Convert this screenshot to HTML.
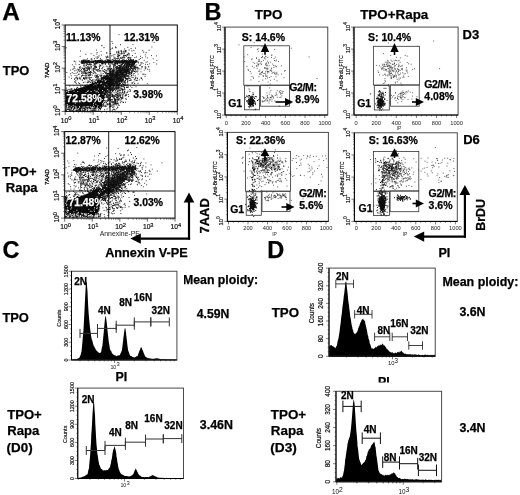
<!DOCTYPE html>
<html><head><meta charset="utf-8"><title>Figure</title>
<style>
html,body{margin:0;padding:0;background:#fff;}
body{width:520px;height:495px;overflow:hidden;font-family:"Liberation Sans",sans-serif;}
svg{display:block;will-change:transform;font-family:"Liberation Sans",sans-serif;}
</style></head><body>
<svg width="520" height="495" viewBox="0 0 520 495">
<rect x="0" y="0" width="520" height="495" fill="#fff"/>
<text x="2.3" y="19.7" font-size="24.3" font-weight="bold" text-anchor="start" fill="#000"  stroke="#000" stroke-width="0.25">A</text>
<text x="2.8" y="74.9" font-size="12.9" font-weight="bold" text-anchor="start" fill="#000"  stroke="#000" stroke-width="0.25">TPO</text>
<clipPath id="clipA1"><rect x="65.2" y="25.0" width="112.10000000000001" height="86.4"/></clipPath>
<polygon points="66.4,92.8 73.2,90.8 81.2,88.4 89.2,85.4 97.2,81.8 103.2,77.8 107.2,75.8 109.2,77.9 107.2,84.4 104.7,93.4 102.7,101.4 100.7,107.9 69.7,108.4 66.4,104.4" fill="#000" stroke="#000" stroke-width="1.5" stroke-linejoin="round" clip-path="url(#clipA1)"/>
<path d="M78.5 102.4h0M78.8 97.6h0M71.4 99.7h0M92.9 99.0h0M92.1 98.1h0M85.3 99.1h0M86.5 100.7h0M71.9 98.1h0M84.4 98.0h0M86.7 94.0h0M84.4 100.5h0M74.3 110.3h0M87.0 104.6h0M74.7 96.0h0M77.6 99.0h0M87.8 99.0h0M76.5 94.3h0M75.7 107.1h0M72.7 102.1h0M85.7 89.3h0M81.7 106.4h0M80.1 94.4h0M86.4 97.5h0M65.8 106.9h0M88.2 102.9h0M96.3 97.9h0M82.5 91.1h0M87.7 94.0h0M76.4 92.5h0M71.0 97.9h0M94.7 84.3h0M65.9 103.5h0M96.4 99.1h0M85.0 93.8h0M69.4 107.0h0M92.8 97.4h0M83.8 100.9h0M97.9 99.0h0M86.6 101.0h0M91.2 99.9h0M90.0 86.6h0M79.3 105.2h0M87.0 96.8h0M84.6 102.0h0M82.5 105.3h0M74.3 97.9h0M92.1 96.8h0M72.0 106.3h0M96.6 93.1h0M66.7 101.1h0M79.6 97.5h0M96.0 89.9h0M94.4 88.8h0M72.9 104.3h0M93.1 101.4h0M84.8 99.0h0M82.8 101.9h0M79.3 100.9h0M87.2 97.7h0M89.2 100.5h0M102.3 96.4h0M76.7 97.7h0M81.1 104.3h0M77.7 101.9h0M100.5 80.0h0M69.4 102.8h0M85.4 99.4h0M76.7 103.6h0M84.2 95.3h0M106.7 95.7h0M75.4 99.5h0M78.8 99.0h0M91.8 89.9h0M80.5 104.6h0M90.2 105.7h0M77.6 103.3h0M92.7 80.9h0M92.6 88.1h0M88.4 88.8h0M83.0 105.5h0M79.6 100.3h0M89.6 98.0h0M80.3 108.0h0M92.2 94.9h0M110.0 86.3h0M90.8 95.4h0M82.6 102.7h0M83.5 102.1h0M87.7 92.0h0M70.4 92.6h0M94.5 100.5h0M96.7 90.3h0M81.2 92.3h0M89.2 106.5h0M71.9 109.9h0M91.6 95.7h0M80.2 95.6h0M85.4 100.4h0M96.9 89.7h0M93.1 105.1h0M96.4 94.7h0M73.4 106.4h0M82.4 99.4h0M96.2 94.3h0M84.5 94.7h0M81.1 103.8h0M82.0 106.4h0M80.6 105.1h0M96.9 105.0h0M74.1 105.5h0M68.3 101.5h0M79.2 99.2h0M75.0 101.5h0M100.0 95.3h0M86.8 103.6h0M79.1 92.0h0M75.4 106.3h0M91.8 101.3h0M81.3 103.6h0M82.9 91.7h0M90.9 93.6h0M71.7 96.4h0M68.8 103.6h0M74.5 89.0h0M88.8 95.7h0M84.3 95.6h0M89.4 101.5h0M88.2 99.4h0M95.2 99.8h0M85.9 85.8h0M90.6 104.6h0M78.1 96.8h0M101.6 84.5h0M71.5 104.9h0M101.0 94.1h0M87.1 102.9h0M71.7 100.3h0M84.3 103.1h0M80.8 97.8h0M70.5 99.0h0M90.6 97.6h0M72.2 95.9h0M109.2 99.7h0M87.9 82.5h0M87.7 100.3h0M98.9 97.7h0M80.5 102.1h0M84.6 94.1h0M95.1 106.5h0M66.5 98.1h0M84.3 99.3h0M77.0 94.1h0M103.5 100.3h0M68.7 93.7h0M99.1 100.9h0M100.3 99.7h0M72.0 102.3h0M80.6 102.1h0M73.6 99.8h0M86.0 100.1h0M87.9 98.7h0M77.8 104.2h0M81.7 94.0h0M74.6 100.3h0M80.0 100.0h0M81.2 99.9h0M79.8 91.9h0M85.6 104.1h0M85.8 96.9h0M85.9 92.3h0M71.4 105.2h0M69.8 86.0h0M70.3 110.3h0M77.2 91.8h0M73.2 103.6h0M86.4 98.8h0M96.8 99.8h0M81.0 102.4h0M98.6 101.0h0M91.9 90.4h0M79.6 103.5h0M78.1 105.8h0M87.5 102.9h0M94.2 95.0h0M77.6 104.7h0M91.5 96.8h0M68.9 102.5h0M85.0 104.7h0M89.4 97.3h0M90.2 100.2h0M83.4 98.8h0M78.6 103.4h0M70.1 97.5h0M81.3 90.4h0M76.6 88.2h0M74.0 103.7h0M87.1 97.4h0M78.8 91.2h0M100.4 97.9h0M92.7 91.4h0M79.3 88.7h0M89.4 102.6h0M87.8 87.3h0M74.6 92.1h0M81.5 100.3h0M87.9 101.6h0M97.0 102.4h0M67.4 98.8h0M70.1 94.9h0M80.3 99.1h0M86.3 88.6h0M68.2 101.5h0M79.1 97.5h0M80.5 94.6h0M88.6 99.4h0M80.3 95.2h0M79.4 83.5h0M70.9 101.2h0M82.7 90.6h0M78.6 97.6h0M86.0 101.5h0M80.8 94.0h0M79.7 98.8h0M88.9 99.0h0M73.6 92.6h0M77.3 95.4h0M69.5 100.6h0M76.0 100.6h0M86.7 95.4h0M105.6 92.0h0M92.8 97.2h0M92.9 82.7h0M73.3 102.0h0M84.6 105.6h0M89.2 102.7h0M86.6 96.9h0M86.5 91.5h0M93.6 90.4h0M83.8 110.7h0M78.9 99.5h0M93.4 96.5h0M72.7 102.2h0M87.3 101.8h0M73.1 110.8h0M98.7 95.4h0M84.0 95.8h0M96.0 91.7h0M88.3 94.7h0M73.9 104.6h0M95.2 95.9h0M74.1 105.1h0M80.7 100.8h0M97.2 102.2h0M81.2 103.5h0M74.4 100.0h0M95.5 88.9h0M93.5 93.7h0M80.6 97.2h0M79.9 92.8h0M81.5 90.5h0M80.4 100.8h0M86.1 96.5h0M71.7 101.8h0M76.1 109.0h0M89.3 96.6h0M76.3 95.8h0M71.4 98.9h0M84.3 101.3h0M87.2 109.9h0M73.8 100.5h0M110.5 82.0h0M75.7 101.0h0M82.8 100.9h0M78.7 101.5h0M81.8 103.3h0M81.2 92.9h0M70.2 104.8h0M74.4 104.0h0M89.0 99.1h0M86.5 97.2h0M66.4 101.8h0M86.0 94.8h0M80.2 103.5h0M72.0 104.5h0M100.8 91.6h0M82.7 97.7h0M97.4 97.4h0M90.6 92.9h0M81.0 98.9h0M90.6 86.8h0M89.0 96.5h0M85.9 100.1h0M96.9 92.3h0M70.5 93.2h0M68.4 103.5h0M99.0 97.7h0M75.7 96.1h0M86.7 100.9h0M70.5 94.3h0M84.3 99.7h0M67.5 100.6h0M75.5 102.7h0M80.0 98.7h0M77.5 105.8h0M95.8 93.8h0M90.1 92.7h0M82.0 103.1h0M97.1 93.4h0M80.4 100.2h0M74.1 102.5h0M69.3 89.9h0M81.6 100.3h0M75.4 105.3h0M78.3 96.0h0M86.2 88.8h0M74.1 100.2h0M90.1 96.1h0M84.4 94.4h0M84.4 107.9h0M74.4 100.4h0M83.0 104.5h0M68.2 89.4h0M87.6 102.2h0M83.4 99.9h0M91.0 99.0h0M98.7 88.1h0M77.3 79.7h0M89.7 95.0h0M90.9 109.4h0M81.1 97.4h0M76.0 95.1h0M74.6 104.0h0M81.6 99.2h0M79.4 104.6h0M86.4 97.0h0M88.2 96.6h0M69.1 109.9h0M86.1 92.3h0M92.5 98.6h0M84.7 103.4h0M83.3 97.6h0M81.5 97.2h0M84.9 98.6h0M88.3 95.3h0M80.8 86.6h0M76.8 103.7h0M95.2 93.9h0M79.9 108.4h0M77.8 103.9h0M98.8 95.5h0M94.1 92.1h0M83.4 98.0h0M82.4 105.2h0M106.3 89.8h0M75.2 103.0h0M70.1 104.1h0M87.2 96.0h0M86.8 88.7h0M89.2 88.3h0M73.9 97.2h0M77.0 104.8h0M82.1 96.4h0M86.9 106.9h0M81.3 101.0h0M94.2 97.8h0M104.4 82.6h0M80.8 101.4h0M91.3 100.7h0M78.3 93.4h0M82.3 104.7h0M69.8 95.3h0M80.9 87.7h0M78.5 96.9h0M85.9 93.8h0M71.9 98.5h0M80.7 95.1h0M81.3 103.2h0M93.6 106.2h0M73.0 98.2h0M73.6 100.3h0M86.7 89.9h0M86.1 97.7h0M93.7 85.5h0M89.7 98.4h0M86.2 100.4h0M94.9 94.8h0M90.4 94.6h0M88.8 92.6h0M80.1 109.2h0M85.9 97.0h0M69.2 96.8h0M83.2 103.9h0M85.7 101.0h0M80.8 106.8h0M77.1 96.6h0M90.5 97.3h0M78.3 96.2h0M78.5 103.1h0M84.9 91.1h0M85.7 99.0h0M70.7 105.6h0M78.3 97.6h0M89.6 104.8h0M74.0 102.9h0M76.0 106.9h0M74.4 105.0h0M104.5 79.3h0M76.6 102.7h0M80.2 95.2h0M103.8 94.7h0M75.1 101.0h0M94.4 96.8h0M66.6 92.1h0M93.6 100.6h0M72.6 105.7h0M86.4 101.6h0M90.7 101.2h0M90.5 82.7h0M83.0 101.4h0M108.0 87.8h0M77.7 99.8h0M90.5 94.4h0M93.2 91.8h0M84.0 95.3h0M82.9 94.5h0M84.4 95.0h0M83.3 104.2h0M70.9 100.4h0M86.9 100.8h0M77.7 87.4h0M94.3 98.1h0M81.3 97.3h0M84.0 95.9h0M70.4 96.8h0M74.9 96.6h0M69.0 105.1h0M67.4 105.6h0M70.5 103.1h0M95.6 97.1h0M73.5 100.8h0M82.8 88.5h0M74.8 101.2h0M76.3 100.4h0M88.9 101.8h0M90.7 100.4h0M78.2 99.4h0M78.4 97.7h0M79.3 89.3h0M77.7 99.5h0M71.0 100.9h0M86.6 96.8h0M103.0 79.3h0M79.0 88.7h0M86.7 96.0h0M87.0 84.7h0M90.1 99.2h0M81.4 95.4h0M87.9 94.7h0M83.5 95.5h0M83.3 102.8h0M72.0 100.6h0M87.7 98.4h0M94.2 107.8h0M71.7 89.7h0M90.2 105.9h0M90.9 101.6h0M74.7 96.1h0M90.5 91.7h0M107.4 104.7h0M74.0 96.2h0M83.6 94.0h0M95.0 95.6h0M69.8 108.9h0M75.1 101.5h0M81.1 97.1h0M84.6 94.2h0M67.9 97.2h0M81.0 99.3h0M87.0 98.4h0M72.9 96.5h0M86.3 100.9h0M79.9 98.2h0M91.0 97.0h0M88.9 100.7h0M83.4 106.0h0M75.2 98.1h0M72.7 96.0h0M97.5 105.7h0M81.4 102.2h0M93.5 101.0h0M93.9 88.9h0M74.5 102.9h0M96.3 96.4h0M72.2 98.7h0M74.3 95.3h0M97.0 92.0h0M93.6 98.3h0M74.8 102.6h0M98.2 99.0h0M94.4 96.7h0M86.6 96.6h0M85.7 105.5h0M66.2 101.6h0M83.7 95.1h0M78.0 104.1h0M102.2 98.2h0M84.6 89.2h0M101.4 95.2h0M80.8 92.5h0M80.6 92.7h0M81.9 101.5h0M81.5 100.5h0M72.3 109.1h0M74.3 89.8h0M79.2 94.9h0M70.6 99.0h0M84.3 91.4h0M79.8 107.5h0M88.4 96.5h0M82.5 97.9h0M80.7 103.3h0M80.2 85.1h0M81.0 93.8h0M88.0 93.9h0M70.2 94.6h0M66.4 88.1h0M74.5 89.4h0M73.1 98.5h0M84.7 106.1h0M101.6 100.7h0M82.7 99.7h0M100.1 103.3h0M77.9 102.2h0M84.2 98.6h0M75.9 92.3h0M75.6 91.1h0M94.0 99.4h0M68.5 109.6h0M90.6 85.9h0M100.5 99.6h0M102.9 87.3h0M86.8 100.2h0M83.3 99.5h0M92.3 87.9h0M68.2 93.5h0M75.3 96.6h0M85.1 99.7h0M81.5 94.9h0M76.6 105.4h0M89.2 97.8h0M77.8 108.6h0M75.0 104.0h0M93.3 94.9h0M89.9 90.6h0M91.8 97.9h0M71.8 108.3h0M74.1 99.4h0M84.2 96.4h0M83.9 95.1h0M88.3 97.5h0M83.4 82.5h0M93.4 96.6h0M86.1 104.1h0M69.8 110.2h0M79.7 103.2h0M77.4 93.2h0M92.7 101.8h0M97.4 100.5h0M75.2 90.5h0M74.4 96.4h0M72.6 104.1h0M84.6 96.6h0M83.0 97.7h0M83.4 102.8h0M91.3 92.8h0M82.4 105.1h0M81.5 90.5h0M75.8 104.2h0M92.5 105.8h0M72.1 92.6h0M86.7 103.2h0M83.2 90.9h0M89.4 101.8h0M87.0 94.9h0M84.4 102.8h0M75.3 89.4h0M84.7 101.0h0M81.3 104.0h0M75.0 99.7h0M78.0 102.9h0M98.0 94.0h0M102.8 103.3h0M89.5 100.6h0M99.8 94.0h0M80.0 93.0h0M86.2 105.7h0M86.8 100.2h0M79.1 100.3h0M66.2 108.1h0M76.9 93.4h0M73.3 95.7h0M90.2 103.2h0M66.9 107.2h0M90.5 93.6h0M74.5 102.3h0M77.4 87.9h0M83.7 89.5h0M90.7 89.9h0M73.9 95.4h0M75.5 107.6h0M90.1 100.5h0M84.6 89.2h0M75.7 96.8h0M70.9 104.0h0M73.4 96.4h0M70.2 89.2h0M87.5 105.3h0M83.0 92.8h0M94.0 98.0h0M90.9 105.5h0M93.0 93.9h0M92.3 101.1h0M66.2 101.4h0M87.3 91.4h0M85.2 106.6h0M67.3 107.9h0M103.0 106.1h0M79.0 100.9h0M79.6 105.0h0M92.1 97.2h0M66.9 106.2h0M76.3 103.6h0M84.0 107.8h0M93.1 93.8h0M84.9 108.4h0M75.6 102.6h0M93.7 103.6h0M86.6 90.1h0M68.0 103.1h0M72.2 107.4h0M89.3 87.5h0M72.6 101.6h0M76.0 99.1h0M86.1 93.2h0M86.1 94.2h0M75.5 103.2h0M75.2 101.8h0M98.0 95.6h0M79.7 103.5h0M77.4 106.0h0M67.7 105.3h0M75.8 95.4h0M99.8 90.1h0M99.6 98.9h0M96.5 90.1h0M93.8 104.8h0M80.0 98.4h0M107.0 94.6h0M76.8 96.2h0M85.9 99.9h0M83.1 108.5h0M77.8 102.4h0M96.5 89.9h0M92.1 107.3h0M67.0 95.5h0M70.3 90.4h0M86.0 87.1h0M86.4 106.3h0M73.5 99.0h0M81.8 101.9h0M77.6 99.7h0M75.5 100.8h0M68.9 101.8h0M101.3 95.2h0M68.0 103.1h0M71.0 91.4h0M73.5 104.8h0M85.2 97.5h0M71.5 94.6h0M95.4 97.4h0M71.2 88.7h0M69.1 100.9h0M83.4 97.5h0M78.3 91.5h0M73.3 105.5h0M83.9 104.4h0M69.4 104.8h0M85.3 93.8h0M86.2 92.6h0M72.8 100.5h0M70.7 92.6h0M76.7 104.3h0M77.0 107.1h0M69.0 93.8h0M97.5 97.9h0M91.1 92.0h0M89.6 98.7h0M88.0 97.6h0M93.9 92.5h0M71.1 92.4h0M93.4 92.1h0M70.2 95.7h0M76.5 92.5h0M78.2 95.9h0M75.4 94.5h0M81.6 96.1h0M82.4 100.1h0M84.8 85.4h0M75.6 95.4h0M89.3 88.1h0M73.7 98.7h0M77.7 105.4h0M76.6 105.5h0M65.8 91.6h0M94.0 98.8h0M86.3 98.6h0M86.3 90.8h0M91.2 93.8h0M91.5 97.3h0M93.0 95.7h0M77.0 101.2h0M76.7 96.7h0M82.3 99.5h0M97.1 95.9h0M100.9 105.3h0M99.2 101.3h0M82.6 99.4h0M79.7 95.0h0M80.5 95.3h0M98.4 98.4h0M76.5 88.7h0M80.6 96.6h0M69.8 94.7h0M80.9 98.1h0M96.4 96.5h0M83.0 96.4h0M74.8 108.9h0M91.7 106.7h0M77.5 99.8h0M72.0 106.4h0M66.6 105.2h0M92.7 104.7h0M71.3 107.3h0M73.7 96.1h0M67.3 108.5h0M98.5 91.9h0M73.2 98.6h0M107.5 99.3h0M75.5 89.7h0M74.1 107.3h0M100.8 93.3h0M73.9 97.4h0M69.8 107.4h0M84.2 93.8h0M89.4 97.3h0M68.9 105.1h0M90.0 86.0h0M100.4 97.8h0M89.2 86.4h0M73.6 98.4h0M92.5 88.1h0M71.9 89.0h0M78.7 101.4h0M86.6 107.0h0M88.2 95.7h0M68.8 96.0h0M74.2 101.2h0M80.7 108.7h0M84.2 92.1h0M97.4 101.1h0M82.3 94.5h0M90.8 92.3h0M67.3 102.9h0M83.8 101.9h0M88.1 105.7h0M72.4 106.4h0M70.8 105.1h0M83.1 99.9h0M91.4 96.7h0M92.9 101.6h0M82.6 95.3h0M73.3 97.5h0M79.1 99.2h0M112.5 96.1h0M89.3 92.2h0M73.7 98.6h0M83.2 92.5h0M98.1 92.1h0M92.5 83.0h0M81.1 100.5h0M83.2 102.0h0M84.1 99.2h0M84.4 97.1h0M72.6 97.3h0M100.6 104.9h0M80.6 106.5h0M76.1 94.9h0M75.3 101.2h0M113.0 88.5h0M81.7 100.4h0M80.8 104.4h0M99.8 87.8h0M82.9 97.0h0M84.9 89.2h0M86.7 98.9h0M82.0 85.0h0M77.3 95.3h0M66.4 96.7h0M88.5 100.5h0M81.0 101.9h0M74.9 100.6h0M81.6 102.0h0M80.5 98.2h0M79.8 95.4h0M104.7 97.0h0M95.9 86.8h0M88.5 102.3h0M101.0 102.5h0M89.3 90.4h0M72.1 102.4h0M86.5 91.9h0M77.2 97.4h0M81.8 100.7h0M78.2 92.3h0M94.2 105.5h0M80.1 105.1h0M85.9 101.8h0M86.3 93.4h0M87.2 103.5h0M103.1 105.0h0M102.1 98.9h0M77.6 96.1h0M72.7 101.3h0M80.9 102.9h0M105.1 93.8h0M88.3 100.2h0M84.1 97.1h0M79.9 94.4h0M83.1 98.4h0M84.6 93.2h0M81.6 99.1h0M87.5 91.4h0M85.6 103.7h0M87.5 95.5h0M76.0 98.6h0M88.9 106.3h0M79.5 95.5h0M85.1 99.3h0M71.7 96.6h0M80.1 103.0h0M68.7 95.6h0M86.4 90.7h0M82.3 100.7h0M80.0 93.2h0M80.6 97.1h0M84.7 93.3h0M92.7 86.8h0M79.3 99.3h0M91.3 93.3h0M86.9 94.4h0M89.0 107.4h0M77.0 102.3h0M71.5 106.6h0M93.9 96.5h0M69.3 103.7h0M93.3 102.7h0M89.7 86.5h0M74.1 108.6h0M68.3 108.1h0M101.0 99.2h0M93.0 94.5h0M68.3 101.0h0M79.1 99.1h0M88.5 96.5h0M83.2 100.9h0M81.1 109.6h0M85.8 98.4h0M79.0 95.7h0M95.3 96.9h0M69.9 98.0h0M79.8 96.6h0M92.6 89.8h0M86.4 98.7h0M68.8 101.7h0M80.2 102.0h0M76.5 101.6h0M89.4 103.2h0M81.1 95.4h0M92.6 84.4h0M72.8 104.5h0M88.1 91.5h0M82.8 93.4h0M81.8 104.0h0M89.0 85.2h0M89.3 86.9h0M93.2 98.7h0M104.9 90.5h0M81.2 105.0h0M74.5 96.2h0M77.3 99.3h0M69.8 104.1h0M86.9 98.1h0M99.1 93.3h0M94.9 92.9h0M89.1 86.0h0M83.3 97.5h0M90.2 89.4h0M91.1 88.6h0M80.0 94.6h0M89.9 90.0h0M86.9 93.0h0M97.9 87.0h0M90.2 97.3h0M99.1 91.2h0M100.1 85.6h0M92.4 95.2h0M89.9 91.6h0M95.5 90.8h0M91.5 95.2h0M92.1 93.8h0M99.6 89.8h0M97.6 83.6h0M85.3 91.9h0M96.1 95.0h0M85.9 95.3h0M88.1 90.0h0M91.5 94.0h0M94.5 94.5h0M87.3 96.9h0M98.8 87.9h0M96.1 86.7h0M86.7 92.0h0M89.3 103.9h0M90.3 98.5h0M94.4 91.0h0M97.7 85.1h0M98.7 89.2h0M84.1 97.4h0M96.5 90.6h0M102.7 84.0h0M96.3 91.9h0M87.8 97.9h0M84.5 89.6h0M96.3 84.5h0M92.5 84.2h0M93.6 85.7h0M95.3 83.2h0M95.9 88.0h0M93.6 89.9h0M94.0 84.7h0M77.8 98.2h0M87.6 91.4h0M95.8 81.2h0M88.6 90.2h0M86.9 94.9h0M92.4 87.5h0M87.3 96.6h0M89.2 94.7h0M95.9 81.5h0M86.7 93.7h0M95.3 92.5h0M98.0 92.1h0M91.0 90.7h0M97.9 86.4h0M99.5 80.9h0M97.1 87.7h0M81.4 100.2h0M95.1 89.6h0M86.7 91.8h0M102.3 82.6h0M72.4 97.4h0M86.0 93.5h0M90.8 87.9h0M88.1 97.1h0M84.5 102.6h0M89.9 87.7h0M97.9 90.3h0M86.9 96.5h0M82.2 92.2h0M100.0 86.0h0M85.4 96.4h0M98.7 87.6h0M82.4 94.4h0M95.7 92.2h0M104.3 83.8h0M90.3 91.7h0M100.4 83.0h0M101.0 75.5h0M98.0 85.3h0M96.0 91.8h0M86.1 93.6h0M94.6 92.0h0M87.6 89.2h0M81.7 106.3h0M92.0 90.1h0M84.2 98.6h0M90.0 97.7h0M98.3 87.9h0M97.6 83.8h0M91.2 89.1h0M85.6 94.3h0M92.3 96.6h0M73.1 97.8h0M87.7 91.3h0M95.7 90.7h0M93.4 88.4h0M96.2 90.4h0M82.1 94.9h0M85.0 89.8h0M94.1 90.2h0M93.9 86.6h0M92.0 87.4h0M95.5 92.0h0M103.7 90.2h0M88.4 91.0h0M87.6 94.4h0M105.1 87.3h0M80.0 92.0h0M85.4 96.3h0M93.2 91.6h0M103.9 81.7h0M88.1 100.8h0M95.3 86.3h0M81.0 90.4h0M78.5 98.0h0M93.5 94.2h0M92.4 88.0h0M88.8 100.2h0M82.6 96.4h0M93.4 92.8h0M90.8 93.6h0M98.1 87.4h0M90.5 91.0h0M87.4 92.5h0M91.4 92.1h0M101.2 91.6h0M90.5 94.1h0M95.0 92.6h0M93.3 91.4h0M90.4 88.7h0M98.4 93.0h0M97.2 90.2h0M94.8 87.8h0M82.5 98.4h0M94.4 87.6h0M87.4 98.4h0M82.4 102.9h0M97.0 98.0h0M88.9 92.5h0M90.2 92.5h0M91.9 88.0h0M99.6 84.0h0M90.2 94.1h0M90.0 90.3h0M95.3 87.9h0M85.7 93.7h0M91.9 97.9h0M86.6 97.6h0M88.5 91.3h0M91.2 92.5h0M98.4 94.8h0M89.4 97.6h0M99.2 90.7h0M88.6 96.3h0M92.6 92.1h0M91.6 93.9h0M99.9 91.6h0M92.0 95.0h0M101.9 82.3h0M102.0 80.6h0M96.5 91.1h0M102.1 87.1h0M90.3 88.7h0M85.7 97.2h0M91.8 88.2h0M96.4 85.7h0M90.6 89.9h0M103.1 91.3h0M92.3 84.6h0M94.9 89.9h0M95.3 91.6h0M91.3 95.1h0M98.2 88.7h0M90.8 89.7h0M97.4 83.9h0M92.2 87.9h0M84.8 97.0h0M93.0 90.6h0M98.4 81.8h0M92.8 91.8h0M98.2 83.6h0M97.5 89.1h0M101.3 90.9h0M96.5 97.3h0M93.2 88.7h0M91.2 87.7h0M93.0 83.0h0M92.7 92.4h0M99.1 86.0h0M101.5 83.6h0M92.4 83.3h0M88.6 89.5h0M102.0 88.1h0M86.7 95.7h0M96.0 88.1h0M93.3 89.1h0M90.0 85.1h0M92.7 95.7h0M101.6 85.1h0M88.8 91.8h0M98.5 89.1h0M89.8 93.5h0M92.0 93.0h0M90.8 85.9h0M93.5 93.2h0M86.7 93.2h0M98.3 86.4h0M89.4 100.2h0M98.1 92.0h0M87.7 99.5h0M83.5 93.2h0M97.5 93.4h0M87.8 90.5h0M94.3 82.3h0M96.9 90.7h0M90.6 93.8h0M97.7 89.3h0M96.2 94.8h0M90.4 92.4h0M90.2 95.9h0M90.8 93.4h0M94.0 90.3h0M103.2 85.1h0M101.4 89.5h0M100.9 85.9h0M98.6 90.6h0M89.6 93.2h0M92.5 90.6h0M100.8 83.8h0M83.4 88.5h0M90.6 89.2h0M93.3 92.5h0M103.4 86.5h0M95.9 86.2h0M96.6 94.0h0M101.0 79.0h0M98.4 93.9h0M98.0 82.2h0M91.4 93.6h0M95.6 86.1h0M88.1 96.7h0M85.5 99.8h0M93.3 91.5h0M85.5 92.0h0M97.2 82.7h0M105.2 79.0h0M86.1 94.1h0M96.0 91.8h0M91.1 90.7h0M91.8 88.9h0M78.3 101.5h0M94.6 90.3h0M89.6 93.2h0M93.1 90.1h0M99.6 80.6h0M94.7 85.6h0M91.4 97.1h0M87.0 93.1h0M89.8 95.8h0M87.6 86.8h0M96.2 87.6h0M91.4 95.5h0M88.1 91.5h0M94.1 91.6h0M90.2 95.9h0M106.1 82.4h0M104.0 76.9h0M101.3 85.0h0M94.0 88.7h0M89.5 87.3h0M90.9 96.5h0M99.8 85.8h0M90.2 89.2h0M86.3 100.8h0M97.0 88.9h0M90.4 87.9h0M100.8 89.6h0M87.7 96.9h0M86.8 96.1h0M87.7 91.6h0M96.1 90.6h0M99.0 84.3h0M102.3 91.0h0M93.1 92.2h0M88.7 92.1h0M85.6 94.5h0M94.3 95.0h0M98.7 90.8h0M91.1 90.6h0M91.2 92.2h0M82.1 98.9h0M84.2 92.9h0M93.3 88.4h0M102.8 85.2h0M102.3 90.4h0M90.3 93.4h0M99.8 109.1h0M93.2 107.4h0M93.3 107.1h0M74.1 108.4h0M66.2 109.2h0M73.3 108.1h0M90.8 108.6h0M97.2 109.3h0M96.7 109.1h0M98.3 110.3h0M71.7 109.8h0M77.8 109.9h0M89.9 110.1h0M70.1 108.4h0M91.9 110.6h0M91.3 107.1h0M87.1 107.3h0M85.2 110.0h0M69.7 110.5h0M89.7 107.9h0M72.6 108.6h0M95.5 109.2h0M69.7 107.0h0M69.6 110.0h0M72.3 109.1h0M76.0 109.6h0M79.2 107.5h0M96.8 109.0h0M90.2 110.1h0M99.4 107.0h0M77.9 107.5h0M83.5 110.3h0M94.1 107.0h0M72.2 110.1h0M89.8 108.4h0M82.6 107.5h0M95.7 108.4h0M96.7 109.3h0M68.4 108.2h0M73.4 110.4h0M86.6 107.1h0M71.7 108.3h0M82.3 109.2h0M79.5 108.3h0M65.9 109.2h0M77.5 107.0h0M82.0 110.7h0M67.3 107.5h0M89.5 108.0h0M75.4 108.9h0M75.0 109.1h0M84.4 110.6h0M100.9 107.0h0M85.6 109.9h0M96.7 109.9h0M88.2 109.4h0M78.6 108.0h0M93.9 110.3h0M99.0 109.6h0M76.5 109.9h0M92.0 108.9h0M88.2 108.3h0M85.3 108.5h0M67.8 108.2h0M77.2 110.8h0M82.8 108.3h0M74.3 107.8h0M78.1 107.4h0M66.0 110.3h0M81.8 108.6h0M85.9 108.1h0M71.7 107.2h0M76.4 108.1h0M91.5 109.0h0M99.0 108.2h0M98.4 109.2h0M68.5 107.6h0M86.3 110.8h0M78.4 109.9h0M80.9 110.3h0M68.1 108.8h0M97.6 108.0h0M74.8 107.0h0M71.5 107.9h0M90.7 107.8h0M79.9 107.7h0M87.1 110.3h0M88.7 107.7h0M91.8 110.7h0M87.0 107.2h0M94.4 110.3h0M77.8 107.4h0M72.4 109.0h0M96.8 109.4h0M98.5 107.7h0M77.3 109.8h0M88.7 108.5h0M89.8 108.2h0M67.7 108.5h0M67.3 109.3h0M77.6 108.8h0M86.9 107.9h0M82.1 107.0h0M98.5 109.1h0M100.8 107.1h0M87.5 109.7h0M77.4 107.3h0M71.2 107.5h0M92.9 107.3h0M94.6 108.6h0M84.8 109.2h0M85.4 109.5h0M87.1 108.2h0M92.0 107.9h0M91.0 109.9h0M93.2 108.1h0M93.1 110.7h0M81.8 108.0h0M84.3 110.6h0M70.4 106.9h0M82.6 109.5h0M93.2 108.3h0M100.8 107.8h0M92.6 107.3h0M66.7 107.4h0M67.8 108.9h0M85.4 107.6h0M99.1 108.3h0M71.0 107.6h0M91.9 110.5h0M71.5 107.0h0M93.3 107.8h0M100.6 108.8h0M88.3 108.2h0M94.1 108.7h0M77.2 110.4h0M69.5 109.8h0M68.0 109.4h0M80.0 110.3h0M67.8 109.1h0M80.3 110.5h0M99.2 109.3h0M73.7 107.9h0M75.0 108.6h0M73.9 107.7h0M92.7 109.4h0M76.3 110.8h0M73.4 109.1h0M71.3 110.3h0M96.6 107.9h0M92.4 110.1h0M75.7 108.2h0M82.9 110.4h0M71.4 109.6h0M86.9 108.7h0M86.3 110.3h0M73.1 110.3h0M78.5 109.9h0M96.3 107.6h0M96.4 110.8h0M76.3 107.0h0M69.7 110.7h0M66.0 110.5h0M71.1 109.8h0M69.2 107.6h0M89.9 107.3h0M77.8 110.5h0M91.1 110.3h0M100.5 107.0h0M74.0 110.0h0M90.2 107.0h0M83.6 107.8h0M81.0 107.3h0M66.4 110.8h0M76.9 110.3h0M70.0 108.8h0M70.5 108.6h0M72.1 109.6h0M71.0 109.8h0M83.5 107.3h0M78.3 108.8h0M98.3 108.3h0M73.3 110.7h0M97.1 109.8h0M75.4 107.6h0M75.1 107.2h0M67.2 108.9h0M80.2 109.1h0M78.6 106.9h0M90.1 109.4h0M85.0 109.0h0M90.2 110.7h0M96.7 109.7h0M79.9 108.1h0M80.6 110.7h0M79.4 108.4h0M80.3 107.5h0M101.1 106.9h0M87.3 110.5h0M74.7 109.3h0M79.1 107.8h0M72.7 107.4h0M95.6 110.0h0M98.0 107.1h0M90.3 108.2h0M88.6 109.0h0M76.9 110.7h0M96.0 108.9h0M86.7 110.8h0M74.0 109.4h0M92.1 108.4h0M91.0 108.4h0M84.4 109.3h0M89.7 108.2h0M88.0 109.0h0M73.6 109.3h0M75.1 110.4h0M82.5 109.7h0M84.2 108.8h0M73.6 107.5h0M98.6 109.0h0M84.3 109.0h0M94.6 107.8h0M71.8 110.1h0M82.0 109.4h0M95.1 110.4h0M96.5 107.1h0M79.2 110.1h0M94.7 107.4h0M71.2 107.9h0M69.3 108.3h0M94.2 108.9h0M81.8 107.2h0M79.7 110.8h0M90.4 108.7h0M82.7 110.0h0M92.6 107.5h0M89.8 108.3h0M84.2 107.8h0M78.9 108.2h0M79.2 107.0h0M72.8 109.1h0M67.7 107.6h0M91.2 108.0h0M77.2 107.8h0M95.3 107.3h0M88.3 110.2h0M72.9 108.6h0M93.8 109.3h0M78.9 107.1h0M81.4 108.3h0M91.0 108.1h0M80.2 109.4h0M94.5 108.3h0M79.4 109.2h0M98.5 107.6h0M100.2 109.7h0M78.9 109.5h0M77.4 107.2h0M67.2 96.2h0M66.8 98.3h0M67.5 103.0h0M66.6 97.7h0M67.4 96.9h0M66.6 105.4h0M66.6 98.2h0M66.7 104.2h0M67.0 102.7h0M66.5 90.1h0M67.1 99.4h0M67.2 103.3h0M65.9 93.4h0M65.9 104.1h0M65.9 91.0h0M67.2 99.6h0M65.8 101.7h0M67.1 98.1h0M65.8 101.8h0M66.5 99.9h0M67.7 104.1h0M67.4 92.0h0M66.4 98.7h0M66.2 94.1h0M66.3 94.0h0M67.4 99.4h0M66.7 97.0h0M65.8 94.9h0M67.4 103.8h0M67.4 94.0h0M66.1 90.3h0M66.8 96.1h0M66.6 98.2h0M66.9 96.0h0M67.3 93.0h0M67.5 99.4h0M65.8 95.1h0M66.8 96.8h0M66.8 95.2h0M66.2 103.7h0M66.3 102.2h0M67.3 100.1h0M66.6 106.2h0M66.6 105.2h0M65.8 97.2h0M67.0 90.3h0M67.4 90.7h0M66.9 92.6h0M67.5 99.5h0M67.3 98.4h0M67.0 101.5h0M66.3 93.2h0M67.4 92.0h0M67.5 93.1h0M65.9 91.1h0M67.3 106.5h0M66.5 101.3h0M66.2 105.7h0M115.0 74.7h0M130.9 74.4h0M134.7 71.5h0M115.3 86.4h0M110.0 79.1h0M112.1 79.7h0M124.4 69.2h0M120.2 71.8h0M115.3 81.2h0M107.3 94.4h0M119.2 89.0h0M126.0 78.5h0M115.8 69.2h0M115.2 75.5h0M119.5 72.6h0M128.0 66.9h0M115.0 88.5h0M117.2 67.1h0M121.0 74.1h0M98.3 92.8h0M107.5 77.9h0M121.6 78.2h0M114.5 100.3h0M121.0 70.1h0M119.4 75.8h0M97.0 77.2h0M104.4 106.0h0M115.5 77.0h0M112.0 90.9h0M117.5 94.0h0M124.4 88.8h0M116.1 82.6h0M113.2 79.5h0M101.3 83.6h0M108.5 78.2h0M128.3 73.4h0M128.4 78.9h0M125.6 82.1h0M111.7 89.5h0M114.2 75.5h0M128.1 91.1h0M108.2 100.4h0M124.8 65.5h0M119.7 80.2h0M120.6 72.8h0M105.4 86.5h0M125.1 80.4h0M123.3 84.6h0M108.1 84.1h0M120.3 85.6h0M118.6 82.2h0M118.4 97.0h0M97.2 91.5h0M139.9 65.5h0M100.4 90.8h0M104.1 80.9h0M119.3 92.9h0M121.4 81.8h0M126.5 74.0h0M109.4 82.7h0M120.3 73.8h0M111.1 79.1h0M103.5 78.1h0M116.4 75.6h0M117.5 91.2h0M119.9 76.3h0M106.5 75.6h0M120.6 68.0h0M121.1 65.9h0M118.4 76.9h0M126.3 68.7h0M113.8 82.9h0M117.7 93.7h0M114.8 75.0h0M114.3 84.7h0M119.3 83.4h0M104.6 109.7h0M134.0 66.9h0M106.1 87.2h0M117.3 64.7h0M121.4 88.4h0M129.8 78.4h0M113.9 85.2h0M131.1 66.1h0M117.1 73.3h0M108.6 78.6h0M122.7 68.9h0M128.6 68.0h0M121.6 73.9h0M133.6 64.2h0M117.0 96.9h0M117.9 84.3h0M110.5 84.7h0M96.5 93.2h0M111.3 68.4h0M104.3 97.6h0M121.1 61.8h0M113.8 82.9h0M106.8 70.4h0M110.4 93.9h0M128.2 71.4h0M121.8 75.8h0M121.0 66.6h0M108.9 77.4h0M113.8 86.4h0M106.1 100.5h0M111.4 76.8h0M123.6 78.1h0M114.1 70.6h0M108.1 69.7h0M127.7 81.5h0M134.3 71.6h0M120.2 83.4h0M125.9 70.2h0M120.4 96.2h0M101.7 75.7h0M108.4 91.2h0M128.1 68.0h0M123.3 73.9h0M119.9 71.6h0M117.0 78.5h0M127.5 92.1h0M100.6 94.4h0M117.2 87.4h0M126.9 79.2h0M124.6 64.7h0M101.6 104.2h0M128.3 62.2h0M129.0 76.7h0M94.8 101.7h0M108.2 95.2h0M111.0 75.7h0M103.1 85.8h0M126.5 66.0h0M100.2 109.6h0M134.1 73.5h0M112.3 70.5h0M102.2 93.6h0M117.2 75.8h0M114.9 84.6h0M125.0 83.3h0M114.6 78.8h0M104.9 96.6h0M112.3 75.6h0M117.8 70.0h0M107.7 82.0h0M130.8 67.4h0M122.0 61.6h0M99.4 107.1h0M113.6 66.6h0M116.2 84.7h0M101.4 80.8h0M119.6 68.3h0M124.5 82.4h0M121.3 71.7h0M116.8 72.8h0M116.0 82.1h0M114.4 89.3h0M120.3 83.9h0M123.1 72.3h0M112.8 90.6h0M122.9 79.3h0M109.8 89.2h0M124.5 71.8h0M123.1 94.6h0M100.0 95.5h0M106.5 72.9h0M115.0 84.9h0M117.7 67.3h0M104.0 82.0h0M117.3 70.6h0M103.4 103.9h0M109.5 82.1h0M112.2 76.3h0M117.6 75.4h0M122.9 63.6h0M103.5 105.6h0M116.5 86.0h0M128.0 76.3h0M117.5 63.7h0M102.5 97.3h0M123.4 79.5h0M101.9 68.7h0M107.5 73.9h0M118.7 67.9h0M131.8 62.9h0M112.0 89.9h0M120.2 68.0h0M124.8 91.3h0M105.9 83.6h0M107.3 66.9h0M123.0 81.1h0M126.2 76.4h0M98.6 90.5h0M111.0 71.5h0M107.0 92.3h0M114.5 98.6h0M125.4 84.6h0M117.5 66.9h0M116.4 61.1h0M105.6 70.2h0M127.3 82.7h0M113.5 68.2h0M116.6 82.3h0M103.1 77.0h0M116.3 85.6h0M117.9 82.1h0M105.6 62.8h0M120.1 67.9h0M116.1 75.6h0M121.7 68.2h0M130.6 69.8h0M122.1 81.0h0M126.8 75.8h0M101.0 83.3h0M134.5 71.3h0M122.4 79.3h0M111.2 76.0h0M111.2 93.3h0M120.6 92.9h0M121.8 93.1h0M121.5 64.5h0M133.4 70.8h0M128.3 73.0h0M114.2 82.0h0M106.8 74.1h0M108.9 79.0h0M104.6 85.8h0M120.0 95.6h0M134.3 66.5h0M125.4 70.8h0M120.8 75.7h0M112.2 82.5h0M103.4 91.7h0M114.5 70.0h0M113.8 85.9h0M110.9 87.1h0M122.5 89.6h0M107.0 84.1h0M122.0 89.4h0M119.7 83.9h0M103.5 82.0h0M132.7 65.4h0M114.6 65.0h0M123.2 76.9h0M136.1 67.4h0M114.9 66.6h0M116.4 87.9h0M124.1 85.4h0M125.3 72.6h0M122.9 76.3h0M104.7 102.9h0M120.7 66.1h0M120.8 78.7h0M126.6 85.9h0M88.7 102.7h0M99.7 92.7h0M120.4 79.6h0M106.8 80.9h0M119.0 84.3h0M137.8 67.5h0M127.3 70.4h0M116.2 69.7h0M118.2 78.9h0M120.0 88.9h0M116.3 79.9h0M114.4 80.9h0M126.2 64.8h0M124.8 77.0h0M103.2 73.6h0M103.7 88.7h0M119.1 84.0h0M124.9 68.0h0M127.3 79.5h0M121.7 80.0h0M105.1 89.9h0M107.5 73.5h0M113.9 81.9h0M116.7 75.6h0M107.8 86.5h0M110.2 69.6h0M118.1 91.7h0M113.4 70.8h0M130.3 86.0h0M114.4 78.2h0M119.2 105.3h0M118.5 87.1h0M106.8 73.6h0M121.3 76.7h0M134.1 64.5h0M120.1 77.2h0M118.5 99.7h0M119.9 90.7h0M129.5 64.4h0M123.7 70.4h0M118.2 79.2h0M117.4 73.8h0M131.9 66.1h0M123.9 90.0h0M123.1 84.3h0M130.3 80.1h0M135.7 66.3h0M100.6 83.3h0M104.0 87.0h0M103.1 78.2h0M120.0 78.0h0M109.6 81.2h0M116.3 79.7h0M117.1 76.3h0M112.5 82.8h0M113.4 75.6h0M113.1 83.2h0M129.0 68.8h0M114.7 83.5h0M114.9 61.4h0M119.7 73.1h0M111.8 88.0h0M117.6 72.7h0M96.5 75.7h0M117.3 77.2h0M121.4 77.8h0M112.7 69.3h0M106.8 84.0h0M106.3 92.9h0M104.6 69.6h0M115.4 62.6h0M116.7 76.4h0M109.4 66.6h0M99.5 98.5h0M126.9 92.7h0M103.3 93.0h0M117.1 86.6h0M112.3 88.6h0M125.7 78.6h0M130.9 67.6h0M131.9 61.9h0M117.3 70.6h0M117.2 88.3h0M124.0 74.8h0M109.5 98.1h0M120.4 64.9h0M131.2 80.0h0M112.0 94.3h0M109.3 92.5h0M122.7 73.5h0M103.7 84.7h0M95.4 87.5h0M99.6 101.8h0M108.0 61.2h0M122.8 78.2h0M112.4 101.9h0M124.5 74.1h0M121.8 84.6h0M111.6 68.6h0M116.8 62.6h0M117.3 85.8h0M131.5 71.4h0M119.1 84.4h0M130.5 66.5h0M105.5 78.6h0M105.2 77.8h0M116.1 82.5h0M118.7 78.1h0M113.8 84.7h0M125.6 80.1h0M131.4 66.1h0M114.8 96.3h0M119.1 81.1h0M114.0 89.8h0M113.4 71.3h0M116.6 74.5h0M125.1 69.5h0M118.4 75.5h0M120.4 70.2h0M113.5 74.0h0M123.4 74.7h0M121.8 72.2h0M110.4 72.2h0M114.0 75.4h0M119.9 80.0h0M126.5 71.2h0M110.1 72.9h0M117.8 81.5h0M135.7 67.8h0M133.9 85.3h0M107.2 96.7h0M128.0 84.1h0M117.1 87.6h0M112.6 80.8h0M117.4 95.4h0M115.2 88.9h0M117.8 71.2h0M119.5 83.2h0M110.4 89.0h0M110.4 74.5h0M119.3 74.7h0M107.9 69.0h0M117.4 80.6h0M112.8 83.1h0M102.7 91.8h0M121.2 78.4h0M111.4 83.0h0M118.4 87.8h0M119.8 79.1h0M110.3 91.3h0M128.3 66.2h0M123.3 77.3h0M116.8 66.3h0M120.1 72.9h0M128.1 67.1h0M117.6 84.0h0M121.5 70.5h0M123.7 77.9h0M126.6 67.3h0M116.8 74.9h0M109.3 86.1h0M121.1 89.4h0M114.1 84.2h0M128.0 70.1h0M117.8 79.3h0M110.7 73.3h0M127.8 73.0h0M116.5 67.0h0M118.3 88.9h0M106.3 77.1h0M127.7 85.1h0M131.9 63.3h0M122.9 67.4h0M122.1 71.6h0M119.1 90.0h0M120.4 74.0h0M117.7 80.6h0M112.4 83.6h0M122.9 89.5h0M97.7 80.0h0M105.5 94.5h0M140.3 64.9h0M118.3 88.5h0M94.1 92.0h0M87.8 99.5h0M112.4 77.0h0M120.4 70.7h0M127.7 71.4h0M120.8 100.2h0M113.0 90.1h0M109.4 95.5h0M126.3 73.7h0M126.6 87.5h0M130.2 69.8h0M116.7 89.3h0M103.3 81.9h0M121.8 80.8h0M134.7 83.5h0M120.3 80.6h0M104.8 84.9h0M119.7 74.6h0M117.8 83.8h0M108.2 79.0h0M100.5 100.4h0M107.3 68.8h0M124.4 71.5h0M126.3 68.8h0M137.2 71.9h0M118.6 78.6h0M115.3 87.4h0M136.0 61.9h0M107.0 90.9h0M110.7 73.3h0M122.5 79.7h0M110.3 72.3h0M123.2 72.9h0M135.2 75.8h0M111.8 79.4h0M114.6 73.2h0M118.0 87.0h0M103.1 85.6h0M131.2 76.1h0M109.6 75.8h0M109.2 68.5h0M128.0 71.9h0M110.7 69.2h0M113.6 76.0h0M133.3 63.3h0M118.3 87.8h0M123.4 72.5h0M96.8 105.2h0M122.8 70.6h0M116.4 69.9h0M108.8 70.0h0M121.9 80.2h0M118.8 84.7h0M122.2 76.2h0M108.9 89.5h0M128.3 77.0h0M128.9 66.2h0M108.1 96.3h0M111.8 84.3h0M115.4 79.8h0M114.7 75.0h0M100.6 107.4h0M108.7 73.4h0M122.6 90.3h0M114.9 86.9h0M122.8 62.9h0M111.8 78.6h0M128.9 71.7h0M116.0 71.6h0M118.0 78.2h0M124.0 87.0h0M124.1 74.0h0M115.8 94.4h0M119.1 77.0h0M133.9 82.0h0M122.5 73.9h0M111.3 92.4h0M113.0 90.2h0M109.9 84.2h0M120.9 77.3h0M119.4 80.5h0M106.8 74.9h0M115.8 96.3h0M116.0 70.5h0M111.1 82.8h0M128.2 65.8h0M122.4 76.7h0M113.9 71.7h0M115.8 72.6h0M127.7 78.5h0M122.6 88.9h0M117.7 82.3h0M110.9 72.0h0M121.2 80.5h0M113.3 78.8h0M112.5 76.2h0M116.7 88.8h0M102.3 85.1h0M132.2 71.4h0M118.6 85.3h0M107.9 73.3h0M101.8 75.0h0M119.5 84.8h0M113.3 74.6h0M120.9 81.7h0M119.5 69.0h0M111.1 96.5h0M129.4 74.8h0M119.8 78.3h0M111.8 81.5h0M111.1 84.0h0M125.5 80.7h0M108.3 83.1h0M114.8 68.5h0M117.9 73.4h0M125.7 76.8h0M110.0 84.0h0M113.9 74.7h0M112.7 91.3h0M113.4 64.9h0M110.0 90.7h0M113.9 77.5h0M104.2 90.8h0M116.7 81.3h0M137.9 62.1h0M124.5 81.3h0M111.3 76.8h0M131.6 75.5h0M118.5 67.3h0M125.4 77.9h0M137.5 78.7h0M124.6 76.0h0M117.8 72.9h0M120.1 78.8h0M123.2 84.5h0M120.1 71.4h0M124.7 87.9h0M109.5 87.5h0M122.3 80.0h0M121.9 74.4h0M116.3 94.8h0M93.8 98.1h0M111.0 77.7h0M102.5 91.5h0M116.7 73.7h0M125.5 95.6h0M130.8 80.3h0M113.4 87.1h0M116.9 89.4h0M122.6 74.5h0M122.3 68.3h0M124.5 87.6h0M113.9 85.8h0M101.8 97.4h0M125.3 63.5h0M133.3 68.7h0M101.2 76.3h0M125.3 70.5h0M116.3 88.1h0M110.9 88.9h0M113.9 83.8h0M120.2 97.3h0M105.8 93.3h0M118.0 99.4h0M115.0 63.9h0M120.0 69.8h0M112.0 74.0h0M119.9 72.2h0M108.9 81.8h0M121.0 67.9h0M121.0 72.3h0M131.7 62.7h0M111.1 70.0h0M135.5 72.0h0M107.2 81.9h0M108.4 98.5h0M119.1 85.7h0M117.2 82.8h0M116.2 81.0h0M119.2 70.5h0M120.4 77.8h0M116.8 72.3h0M107.8 86.9h0M112.3 94.3h0M125.7 66.1h0M109.9 101.4h0M113.2 79.1h0M102.0 79.1h0M106.3 84.3h0M100.3 99.6h0M113.9 74.9h0M111.3 89.2h0M131.4 65.2h0M132.1 83.5h0M129.6 72.9h0M103.4 93.9h0M113.4 82.7h0M99.8 87.4h0M119.4 68.2h0M119.9 92.2h0M119.3 70.6h0M108.7 87.9h0M119.6 84.6h0M109.9 97.0h0M121.8 86.5h0M103.1 87.8h0M132.0 87.4h0M129.4 70.3h0M118.9 71.4h0M127.4 65.1h0M103.3 104.3h0M117.7 80.1h0M96.9 91.6h0M95.2 91.5h0M112.3 79.7h0M105.6 73.4h0M105.8 92.0h0M116.8 86.4h0M107.2 90.6h0M113.1 82.0h0M125.9 72.9h0M113.9 65.0h0M117.8 85.4h0M111.3 81.7h0M100.8 76.8h0M120.9 88.1h0M114.3 64.6h0M113.7 66.1h0M114.6 98.3h0M120.0 75.1h0M126.8 68.4h0M120.3 78.2h0M121.3 61.8h0M123.8 82.3h0M96.0 67.0h0M108.9 98.0h0M117.4 84.7h0M122.4 83.3h0M111.3 76.8h0M120.7 81.8h0M122.6 78.0h0M112.7 91.8h0M121.6 85.5h0M93.5 103.7h0M94.4 95.6h0M111.0 83.7h0M112.8 78.4h0M119.0 80.5h0M109.9 88.4h0M109.3 87.7h0M113.8 71.8h0M128.1 86.8h0M116.2 78.6h0M109.0 94.6h0M125.6 68.1h0M109.9 86.6h0M104.0 82.5h0M122.7 82.0h0M105.1 78.7h0M104.9 106.1h0M108.0 81.5h0M119.1 81.4h0M125.5 74.3h0M106.2 87.2h0M104.0 102.6h0M110.3 92.6h0M129.5 64.4h0M108.7 85.3h0M107.3 93.6h0M118.9 70.0h0M110.7 89.6h0M103.5 103.6h0M109.8 81.5h0M108.5 99.7h0M125.0 85.6h0M123.4 75.2h0M133.2 74.1h0M121.3 81.2h0M124.2 76.4h0M115.6 64.2h0M96.8 85.1h0M135.5 77.9h0M111.5 84.7h0M114.0 83.3h0M95.8 77.5h0M120.3 77.1h0M118.6 78.9h0M113.7 67.6h0M121.5 79.2h0M122.7 86.7h0M105.5 63.8h0M100.3 110.2h0M108.5 88.0h0M117.1 85.5h0M115.6 73.7h0M119.5 81.8h0M108.0 97.2h0M128.1 75.4h0M116.2 76.8h0M101.6 95.1h0M107.9 79.7h0M126.7 63.3h0M112.2 89.9h0M127.7 65.1h0M120.9 80.6h0M106.4 95.4h0M134.3 67.5h0M119.8 65.4h0M134.2 67.7h0M105.1 93.8h0M103.3 81.1h0M97.0 105.1h0M111.0 77.0h0M111.8 87.3h0M131.7 67.9h0M110.5 97.5h0M116.2 92.2h0M127.4 87.5h0M109.6 84.0h0M120.7 74.2h0M131.7 61.9h0M126.7 85.2h0M98.6 81.4h0M108.6 78.9h0M120.9 74.3h0M117.9 73.5h0M116.4 83.6h0M124.3 66.2h0M116.1 71.8h0M115.5 65.7h0M126.3 78.8h0M116.0 72.6h0M112.9 74.9h0M102.5 103.8h0M106.1 91.3h0M99.0 95.8h0M98.3 104.7h0M112.5 82.4h0M117.2 73.0h0M115.9 76.4h0M129.0 69.6h0M116.9 73.5h0M111.2 75.3h0M117.3 96.0h0M127.8 73.6h0M133.1 77.6h0M119.2 75.5h0M106.8 87.7h0M114.2 65.2h0M105.0 105.1h0M119.2 81.8h0M119.1 72.7h0M121.6 85.9h0M114.3 85.3h0M126.9 67.3h0M118.8 70.2h0M122.9 71.0h0M128.1 63.8h0M133.2 64.7h0M109.2 75.0h0M123.5 66.0h0M134.3 79.3h0M122.1 61.5h0M117.0 71.6h0M100.0 93.9h0M124.9 85.6h0M108.1 81.2h0M119.7 81.2h0M106.3 87.7h0M116.2 88.2h0M102.0 83.1h0M112.4 78.5h0M124.1 67.8h0M125.2 82.9h0M126.4 70.3h0M109.3 81.2h0M123.5 75.4h0M122.7 80.2h0M108.8 75.0h0M130.9 64.6h0M102.1 106.3h0M109.3 74.7h0M126.4 61.4h0M108.9 94.0h0M109.4 107.7h0M118.1 103.6h0M118.4 78.1h0M111.1 80.3h0M112.4 81.3h0M124.5 61.3h0M108.5 64.1h0M131.5 68.2h0M117.1 77.9h0M126.7 75.1h0M125.3 71.4h0M116.0 78.6h0M99.5 100.6h0M102.2 78.8h0M123.6 74.7h0M124.9 89.6h0M134.9 79.9h0M115.1 99.5h0M108.8 83.1h0M126.7 70.0h0M116.0 75.8h0M129.3 80.5h0M116.5 84.2h0M108.0 95.2h0M130.5 69.0h0M114.0 75.9h0M115.4 67.6h0M104.3 103.0h0M117.0 83.8h0M120.1 81.0h0M102.7 78.9h0M123.2 84.0h0M106.3 80.1h0M107.0 91.4h0M120.5 76.5h0M111.0 85.8h0M117.5 71.1h0M120.4 69.9h0M126.2 78.4h0M110.7 88.4h0M117.8 71.2h0M108.5 68.2h0M106.5 88.9h0M128.7 64.7h0M118.7 80.7h0M124.6 77.7h0M128.9 78.0h0M110.0 87.0h0M95.0 91.5h0M117.4 83.8h0M114.3 88.3h0M129.7 62.0h0M112.0 84.3h0M121.9 76.7h0M125.1 61.8h0M124.6 84.7h0M127.7 75.5h0M114.9 83.7h0M116.5 63.6h0M111.4 81.8h0M112.3 72.7h0M115.0 76.3h0M117.9 77.5h0M118.8 86.9h0M118.5 81.4h0M113.4 87.4h0M114.0 74.6h0M105.4 94.8h0M112.2 84.1h0M127.9 76.4h0M138.5 62.9h0M126.3 79.0h0M111.0 83.0h0M111.8 72.1h0M120.0 69.1h0M112.0 82.7h0M112.3 82.2h0M111.4 68.6h0M94.3 81.3h0M131.7 73.0h0M118.7 73.0h0M115.8 82.2h0M104.0 79.5h0M108.7 96.1h0M107.2 96.3h0M112.8 107.5h0M116.5 79.2h0M130.0 78.3h0M126.1 62.2h0M128.0 87.4h0M116.2 74.4h0M106.8 95.1h0M120.0 76.6h0M105.5 101.8h0M125.5 72.7h0M125.6 63.2h0M130.6 66.8h0M128.8 66.7h0M121.0 86.8h0M108.6 85.0h0M109.2 91.9h0M111.5 78.6h0M115.3 90.9h0M107.3 84.7h0M114.1 75.2h0M109.7 81.8h0M119.1 62.3h0M119.4 65.5h0M117.3 100.2h0M108.0 83.9h0M114.8 89.4h0M112.7 64.2h0M101.9 90.3h0M119.6 87.0h0M112.1 88.2h0M107.1 97.6h0M116.5 72.3h0M118.9 94.0h0M109.2 71.9h0M107.6 73.7h0M116.7 82.1h0M115.6 81.3h0M128.5 68.1h0M105.3 64.4h0M119.5 70.3h0M114.8 83.9h0M108.1 85.2h0M115.8 90.3h0M112.4 61.7h0M108.0 88.3h0M107.1 109.0h0M119.5 82.0h0M113.1 102.4h0M122.3 68.1h0M111.6 84.9h0M118.5 68.3h0M132.2 82.5h0M108.3 87.9h0M111.2 78.3h0M126.6 73.4h0M116.2 80.1h0M106.1 97.5h0M110.1 95.7h0M112.8 76.9h0M131.3 70.8h0M111.1 77.3h0M123.0 92.5h0M123.0 70.7h0M106.5 79.0h0M116.1 81.5h0M111.0 94.8h0M108.1 77.6h0M121.9 79.9h0M113.5 90.1h0M103.8 103.0h0M138.0 83.3h0M118.3 96.5h0M117.7 90.8h0M115.3 81.5h0M115.2 96.2h0M89.4 100.6h0M126.0 75.7h0M119.0 90.5h0M108.2 81.5h0M118.6 73.2h0M116.2 95.1h0M89.3 108.0h0M126.1 78.3h0M117.3 78.9h0M120.7 78.4h0M110.3 90.5h0M109.4 83.2h0M113.8 69.6h0M122.9 73.9h0M106.1 85.0h0M104.1 100.9h0M122.1 94.2h0M111.8 88.8h0M108.0 76.3h0M116.4 82.9h0M126.0 70.0h0M127.7 80.7h0M108.9 82.2h0M108.5 100.5h0M112.0 90.4h0M125.9 70.2h0M112.6 84.8h0M109.9 71.2h0M108.1 87.7h0M119.0 94.1h0M99.9 94.7h0M106.3 96.7h0M123.8 75.2h0M131.1 65.5h0M112.2 71.7h0M111.0 83.6h0M123.6 86.4h0M114.7 73.1h0M114.0 76.4h0M112.8 77.5h0M109.0 83.4h0M112.4 80.0h0M104.1 88.5h0M122.6 81.0h0M112.0 71.0h0M104.9 75.4h0M111.1 79.5h0M100.5 95.9h0M102.7 81.5h0M110.4 90.8h0M134.5 63.5h0M114.6 76.4h0M115.3 78.0h0M116.2 71.6h0M120.6 71.2h0M122.6 64.5h0M137.1 67.2h0M100.6 96.1h0M112.8 70.4h0M121.4 70.7h0M124.1 68.6h0M125.7 74.2h0M120.6 77.7h0M113.8 77.3h0M121.4 82.3h0M113.4 102.2h0M127.4 70.9h0M119.4 69.5h0M116.4 72.0h0M135.4 78.2h0M104.8 82.4h0M120.6 72.0h0M113.9 70.4h0M119.6 66.5h0M125.0 95.9h0M114.1 96.0h0M120.7 69.7h0M114.0 71.5h0M118.3 84.3h0M125.9 70.0h0M106.0 85.1h0M132.9 70.6h0M113.1 86.3h0M108.3 97.1h0M112.5 74.5h0M99.9 91.3h0M126.6 63.2h0M121.7 72.8h0M98.9 88.4h0M120.8 68.6h0M97.3 89.4h0M110.0 86.7h0M102.3 83.9h0M104.9 83.2h0M97.7 91.0h0M122.2 68.4h0M107.6 77.7h0M96.4 87.5h0M119.6 71.2h0M125.2 77.4h0M116.5 77.6h0M113.3 74.0h0M131.5 65.2h0M105.6 85.9h0M109.1 83.2h0M127.0 70.3h0M104.7 86.3h0M112.0 81.4h0M96.5 85.7h0M106.0 84.5h0M108.2 82.5h0M129.3 65.4h0M102.6 93.4h0M111.5 81.3h0M110.0 82.2h0M105.1 91.7h0M118.4 75.1h0M116.8 81.1h0M102.7 84.7h0M114.0 77.9h0M117.7 78.0h0M120.5 77.2h0M100.0 92.9h0M93.9 85.6h0M101.6 89.9h0M98.4 91.1h0M107.4 82.7h0M108.1 85.7h0M104.2 86.7h0M94.8 85.6h0M101.5 90.9h0M98.0 90.0h0M117.8 77.5h0M92.7 79.9h0M97.4 90.4h0M127.6 63.0h0M103.8 84.8h0M131.5 65.9h0M106.2 79.3h0M121.0 74.0h0M122.4 68.7h0M104.7 85.1h0M124.8 64.3h0M111.9 82.7h0M105.0 81.6h0M109.4 79.7h0M127.4 71.1h0M127.6 69.4h0M135.6 67.3h0M113.6 78.5h0M123.3 68.4h0M101.6 87.5h0M117.1 74.9h0M112.5 76.0h0M114.3 77.0h0M105.3 83.5h0M100.6 84.7h0M97.1 88.3h0M114.4 75.7h0M105.1 91.7h0M110.0 81.5h0M117.3 73.2h0M97.9 90.7h0M117.7 74.5h0M104.2 86.9h0M109.7 84.8h0M106.6 87.0h0M103.2 89.5h0M130.4 61.9h0M101.3 90.4h0M130.9 62.2h0M126.5 73.8h0M104.1 85.3h0M96.2 87.7h0M93.4 85.1h0M100.6 90.6h0M105.8 84.2h0M96.8 87.3h0M104.3 76.1h0M129.8 70.3h0M98.0 85.7h0M96.5 89.3h0M107.3 85.9h0M110.5 78.5h0M121.5 81.0h0M99.7 92.3h0M101.4 87.1h0M103.1 85.1h0M97.7 89.2h0M98.5 89.5h0M100.5 89.6h0M99.6 89.5h0M111.0 85.1h0M107.7 88.4h0M100.5 88.4h0M101.3 95.5h0M122.9 79.4h0M107.4 88.6h0M112.5 80.1h0M96.7 89.3h0M113.6 72.2h0M99.2 85.3h0M108.6 83.6h0M103.0 90.2h0M110.8 79.1h0M115.5 79.8h0M98.4 91.1h0M97.5 85.4h0M95.5 86.6h0M117.5 74.7h0M99.8 80.8h0M103.1 90.7h0M137.8 69.8h0M126.6 60.0h0M101.5 89.4h0M96.7 85.4h0M131.8 59.6h0M107.2 76.6h0M98.4 91.2h0M99.5 86.7h0M113.5 79.7h0M119.5 78.0h0M97.2 89.3h0M106.1 82.0h0M114.0 77.2h0M98.5 88.2h0M129.9 62.2h0M104.9 87.4h0M116.3 75.6h0M101.4 81.0h0M109.3 78.5h0M130.8 64.7h0M133.0 65.6h0M100.2 75.0h0M124.4 70.2h0M120.8 79.6h0M132.3 68.2h0M97.0 83.0h0M119.5 69.9h0M103.6 86.1h0M124.1 74.6h0M111.9 72.4h0M100.2 91.2h0M101.7 91.6h0M103.4 87.7h0M118.2 76.0h0M100.8 89.9h0M123.3 67.6h0M101.3 86.8h0M99.3 93.1h0M105.2 83.8h0M125.7 69.3h0M108.7 92.5h0M99.8 88.5h0M101.2 89.3h0M117.3 75.5h0M109.6 77.8h0M101.1 87.4h0M127.9 58.2h0M131.5 73.7h0M98.3 90.1h0M116.9 74.8h0M121.6 70.1h0M120.2 67.9h0M96.9 87.4h0M103.9 84.5h0M98.4 88.1h0M118.2 69.1h0M109.5 73.3h0M120.0 67.6h0M108.3 77.5h0M107.6 91.2h0M96.2 87.8h0M132.5 69.4h0M111.5 74.3h0M116.6 67.1h0M102.5 79.4h0M102.7 87.9h0M95.2 86.3h0M97.7 84.8h0M116.7 77.4h0M97.5 88.7h0M105.0 79.2h0M138.3 68.3h0M106.6 84.9h0M96.0 85.5h0M132.7 64.3h0M106.8 84.6h0M95.1 87.6h0M131.5 65.0h0M106.8 87.5h0M108.5 75.9h0M99.2 87.2h0M106.4 88.1h0M112.2 75.3h0M112.2 78.9h0M134.5 63.3h0M99.0 92.7h0M99.7 92.7h0M124.8 71.1h0M120.4 80.8h0M110.5 78.6h0M113.1 82.5h0M100.7 88.1h0M115.2 81.6h0M104.6 87.0h0M106.7 81.6h0M118.8 75.2h0M121.2 70.5h0M111.3 78.5h0M129.5 73.1h0M97.1 89.9h0M125.7 67.1h0M127.6 64.4h0M124.7 72.2h0M110.0 78.7h0M102.7 84.2h0M116.0 83.1h0M97.7 80.6h0M109.3 78.7h0M122.8 58.9h0M94.7 86.9h0M103.2 79.3h0M131.1 62.5h0M110.1 74.6h0M109.5 81.9h0M117.2 75.9h0M101.9 86.6h0M129.8 72.8h0M98.6 92.1h0M114.6 78.2h0M102.3 83.6h0M99.0 87.5h0M109.8 75.9h0M97.7 80.9h0M118.2 69.0h0M131.1 64.8h0M106.3 88.6h0M103.1 86.8h0M109.0 79.0h0M120.9 73.2h0M100.6 87.5h0M108.7 84.0h0M123.8 69.3h0M99.7 79.1h0M96.1 88.4h0M102.8 87.4h0M102.4 88.3h0M115.8 74.4h0M121.5 70.9h0M110.5 85.3h0M126.1 74.7h0M103.0 93.2h0M98.4 86.6h0M99.8 93.8h0M94.9 86.2h0M120.5 73.6h0M120.9 66.5h0M131.4 60.7h0M132.5 70.8h0M100.5 85.3h0M121.9 65.8h0M110.3 80.0h0M111.1 83.1h0M100.9 93.2h0M96.8 83.8h0M116.0 75.1h0M119.8 71.3h0M119.8 72.6h0M101.9 88.7h0M116.7 68.0h0M99.3 90.4h0M95.4 86.7h0M102.0 93.9h0M97.6 90.2h0M114.2 75.7h0M97.7 90.2h0M129.2 72.4h0M104.1 84.1h0M102.7 86.6h0M100.9 89.3h0M117.9 68.2h0M108.7 81.0h0M102.8 84.0h0M100.6 86.4h0M102.8 93.0h0M101.3 85.6h0M117.7 83.2h0M103.7 78.5h0M133.4 69.6h0M102.2 78.8h0M98.7 85.8h0M102.4 90.5h0M121.7 74.9h0M92.8 81.9h0M109.7 86.3h0M106.1 88.5h0M99.9 80.7h0M95.9 86.8h0M126.7 62.8h0M113.8 76.0h0M103.4 90.5h0M101.4 78.0h0M129.1 68.2h0M124.2 59.1h0M99.0 90.6h0M126.5 62.8h0M101.5 80.4h0M137.5 68.1h0M123.7 71.7h0M104.2 86.5h0M118.1 72.0h0M105.5 81.7h0M122.7 72.6h0M123.1 80.8h0M102.7 92.5h0M101.2 82.5h0M128.6 69.5h0M129.3 63.4h0M96.4 88.0h0M94.8 86.6h0M105.6 83.4h0M131.4 61.1h0M105.9 85.9h0M101.3 92.6h0M108.5 79.7h0M105.2 84.4h0M109.4 84.9h0M108.5 87.3h0M99.0 88.3h0M98.4 91.6h0M122.6 74.5h0M127.5 68.1h0M109.3 88.7h0M108.7 80.5h0M97.4 90.0h0M114.3 75.9h0M127.1 63.9h0M122.8 70.5h0M110.7 81.7h0M114.5 77.5h0M107.9 83.5h0M97.0 90.0h0M98.1 83.8h0M106.0 84.0h0M100.2 90.8h0M119.7 66.9h0M103.7 87.5h0M119.9 68.1h0M102.4 83.0h0M112.3 83.1h0M120.5 83.5h0M108.5 80.6h0M101.6 85.5h0M100.0 88.6h0M105.5 83.5h0M126.6 69.6h0M98.3 82.9h0M99.4 87.7h0M116.2 72.6h0M103.0 86.4h0M120.2 67.5h0M128.9 57.4h0M101.4 95.9h0M129.0 71.6h0M104.4 85.9h0M119.8 72.2h0M122.4 74.0h0M109.9 81.0h0M94.9 87.2h0M120.8 73.5h0M99.5 93.4h0M98.7 85.6h0M110.6 74.0h0M105.4 83.5h0M96.3 84.8h0M106.5 77.7h0M97.3 86.4h0M101.2 86.3h0M103.5 87.2h0M117.1 73.1h0M117.7 73.7h0M98.0 89.8h0M96.6 88.5h0M98.7 85.9h0M126.7 67.8h0M129.5 64.5h0M119.8 80.2h0M110.1 80.3h0M136.4 71.2h0M96.3 89.2h0M100.8 91.0h0M105.7 84.7h0M123.7 69.8h0M106.1 92.8h0M101.1 88.2h0M100.9 90.6h0M99.3 91.5h0M98.9 89.1h0M108.6 87.4h0M98.1 82.5h0M117.3 74.0h0M105.8 90.5h0M108.5 78.1h0M106.4 82.4h0M127.9 69.2h0M116.1 84.0h0M129.7 71.4h0M96.8 89.7h0M107.8 79.4h0M122.5 68.3h0M116.9 79.5h0M97.6 87.0h0M131.5 61.2h0M98.9 88.8h0M100.2 86.9h0M99.5 91.8h0M100.8 91.9h0M124.0 75.0h0M127.1 71.2h0M98.8 90.7h0M110.1 87.7h0M128.7 64.3h0M133.2 66.8h0M106.8 91.9h0M98.3 87.7h0M110.6 82.2h0M124.4 69.1h0M120.5 72.7h0M95.0 86.3h0M134.3 68.3h0M120.0 77.6h0M101.0 85.7h0M117.4 71.1h0M99.2 92.7h0M121.3 70.4h0M107.4 84.0h0M108.0 78.9h0M96.4 89.3h0M125.4 69.2h0M110.6 70.0h0M133.2 68.4h0M134.1 68.2h0M119.7 76.7h0M116.8 85.2h0M106.1 84.7h0M112.4 80.3h0M95.8 88.4h0M129.2 66.0h0M98.8 90.4h0M133.8 62.5h0M97.0 87.7h0M126.3 65.5h0M95.8 86.6h0M104.9 84.9h0M104.9 84.5h0M98.4 91.5h0M131.2 64.7h0M124.2 69.8h0M115.8 75.0h0M106.4 81.0h0M108.4 82.1h0M124.9 75.3h0M108.0 88.6h0M100.8 88.0h0M116.4 80.6h0M112.5 82.7h0M106.7 79.9h0M133.5 63.1h0M102.6 87.1h0M103.3 88.9h0M98.8 92.3h0M124.9 60.7h0M117.0 76.3h0M118.3 74.6h0M116.4 72.3h0M96.8 85.3h0M119.7 71.4h0M96.6 86.5h0M125.4 75.7h0M133.8 64.9h0M98.8 91.2h0M117.8 74.6h0M117.9 68.6h0M104.2 76.2h0M112.4 75.2h0M112.5 74.6h0M118.3 71.8h0M112.3 82.1h0M106.6 86.6h0M103.6 81.8h0M103.3 84.3h0M101.4 79.3h0M101.7 95.3h0M96.9 89.9h0M103.9 81.1h0M110.6 78.2h0M98.3 91.9h0M127.8 70.5h0M105.9 82.5h0M106.1 92.1h0M125.6 72.2h0M100.0 88.1h0M125.0 76.0h0M105.6 81.7h0M122.8 73.0h0M126.2 69.7h0M110.9 78.4h0M132.7 62.5h0M96.1 86.6h0M97.3 90.1h0M121.7 70.3h0M110.7 71.3h0M130.6 66.7h0M114.9 81.6h0M106.6 86.6h0M103.2 92.1h0M96.6 87.9h0M98.3 86.5h0M104.3 89.7h0M106.1 84.7h0M116.5 73.3h0M107.0 92.9h0M100.4 84.4h0M113.8 81.2h0M114.4 80.2h0M113.4 77.5h0M98.5 90.3h0M111.1 81.6h0M114.3 80.7h0M126.3 65.1h0M111.2 79.5h0M101.1 88.0h0M99.3 86.3h0M106.6 85.4h0M98.4 88.1h0M98.6 90.2h0M106.0 87.5h0M117.8 70.8h0M105.5 86.9h0M122.3 75.1h0M127.9 64.6h0M102.7 91.4h0M115.4 75.9h0M103.6 85.3h0M128.0 69.4h0M102.3 85.0h0M106.7 78.7h0M100.2 89.8h0M117.4 78.6h0M112.8 85.3h0M105.5 84.3h0M97.4 90.1h0M124.7 72.6h0M109.1 79.9h0M102.6 89.2h0M98.9 84.8h0M124.3 76.1h0M118.8 78.7h0M96.0 87.2h0M98.1 91.4h0M110.3 83.3h0M121.3 68.3h0M99.0 86.7h0M133.0 63.4h0M95.5 87.8h0M132.9 63.1h0M102.0 95.1h0M111.7 73.9h0M104.7 91.7h0M99.0 91.5h0M136.3 68.1h0M113.2 76.8h0M99.2 85.7h0M98.3 90.9h0M112.4 78.7h0M103.6 87.3h0M131.7 68.5h0M101.7 90.1h0M117.1 80.5h0M110.0 84.4h0M101.7 94.9h0M98.9 89.4h0M109.4 86.3h0M109.3 79.9h0M102.3 77.6h0M97.5 90.6h0M101.6 86.4h0M95.5 85.8h0M96.0 86.9h0M103.2 89.8h0M95.4 86.6h0M116.6 76.9h0M96.5 86.7h0M114.2 76.6h0M99.6 90.6h0M105.8 86.8h0M111.3 82.7h0M106.9 76.8h0M99.8 92.8h0M106.0 91.5h0M127.4 64.1h0M116.5 68.4h0M110.0 79.1h0M98.0 89.8h0M127.2 69.6h0M99.9 83.9h0M99.2 91.8h0M118.0 76.8h0M123.1 63.5h0M104.0 89.7h0M119.1 79.6h0M102.8 84.8h0M124.8 71.6h0M107.1 84.4h0M100.3 84.5h0M108.2 81.8h0M98.6 80.5h0M113.0 71.5h0M122.1 76.4h0M109.0 79.3h0M128.1 69.6h0M121.7 71.2h0M100.0 90.0h0M135.5 69.0h0M109.9 82.7h0M107.9 78.0h0M109.6 79.9h0M98.5 91.1h0M97.8 89.0h0M113.0 73.6h0M113.4 72.1h0M130.0 66.2h0M100.1 88.4h0M122.2 74.5h0M122.4 75.6h0M94.2 83.7h0M118.4 72.8h0M102.6 82.9h0M131.8 64.6h0M120.3 71.4h0M116.7 72.3h0M107.9 83.5h0M124.8 65.6h0M113.4 72.9h0M123.0 72.5h0M109.2 81.8h0M127.6 67.3h0M113.4 69.9h0M98.7 89.8h0M101.6 85.3h0M99.7 80.7h0M133.4 62.2h0M97.6 89.1h0M95.9 88.0h0M99.7 86.9h0M109.9 89.0h0M126.2 72.8h0M108.5 78.4h0M112.7 79.9h0M107.8 92.9h0M117.2 73.6h0M124.4 71.8h0M103.1 86.9h0M92.8 82.7h0M126.7 73.9h0M131.8 64.8h0M98.7 92.3h0M103.1 90.8h0M102.3 88.3h0M112.8 73.3h0M100.4 85.8h0M117.2 72.7h0M103.7 79.2h0M106.4 83.2h0M107.1 84.1h0M114.3 80.8h0M130.3 73.1h0M126.0 70.6h0M96.6 86.3h0M100.3 87.1h0M92.0 82.1h0M96.1 88.9h0M113.4 81.3h0M99.0 91.2h0M126.8 64.8h0M101.8 86.0h0M133.1 65.7h0M111.8 80.0h0M108.9 80.2h0M123.2 80.7h0M97.3 89.3h0M106.0 89.0h0M131.4 64.5h0M105.2 94.5h0M101.4 88.9h0M108.5 78.2h0M132.0 68.4h0M131.9 66.5h0M122.0 69.3h0M93.0 84.7h0M102.8 91.3h0M102.0 84.1h0M116.4 74.4h0M118.2 82.5h0M100.1 93.6h0M115.8 74.9h0M98.5 91.3h0M134.7 63.4h0M119.5 69.0h0M134.5 66.9h0M99.7 86.2h0M111.8 86.2h0M114.8 76.3h0M122.2 66.9h0M126.2 71.4h0M99.5 89.2h0M108.9 80.8h0M113.7 83.8h0M109.3 88.9h0M96.6 86.0h0M106.7 86.2h0M99.9 94.0h0M99.9 92.0h0M101.8 89.9h0M122.9 63.0h0M102.2 93.7h0M112.0 79.4h0M105.4 88.7h0M100.2 88.6h0M112.8 81.5h0M97.4 89.9h0M117.5 77.4h0M106.5 85.2h0M132.5 62.0h0M108.5 85.2h0M96.0 85.9h0M103.9 89.1h0M122.1 72.3h0M114.0 79.5h0M106.9 84.8h0M118.6 73.2h0M114.4 75.8h0M113.3 79.9h0M117.4 70.4h0M116.4 76.7h0M111.2 77.4h0M107.1 84.2h0M115.1 87.9h0M106.1 75.3h0M102.7 87.3h0M121.5 77.9h0M97.4 84.4h0M96.8 75.7h0M127.5 61.8h0M126.9 70.3h0M96.0 84.4h0M102.3 96.6h0M98.2 82.6h0M113.8 78.9h0M129.6 65.8h0M97.4 90.0h0M96.9 89.8h0M109.0 81.9h0M114.6 79.7h0M108.6 89.8h0M129.8 62.0h0M111.7 84.0h0M100.6 87.9h0M100.1 87.9h0M103.8 89.1h0M95.7 88.2h0M98.5 83.4h0M95.5 86.7h0M118.9 70.0h0M106.6 86.6h0M110.2 90.1h0M128.6 66.0h0M118.1 73.8h0M96.2 88.9h0M122.4 68.6h0M99.2 83.6h0M102.9 90.7h0M96.0 88.8h0M102.1 85.8h0M133.4 64.3h0M128.1 67.2h0M104.7 84.4h0M97.3 89.1h0M117.7 67.2h0M121.7 72.3h0M97.9 90.3h0M125.6 71.4h0M97.7 85.5h0M126.5 70.9h0M98.4 92.0h0M130.0 59.2h0M123.8 74.0h0M114.7 84.5h0M129.2 65.6h0M134.8 68.1h0M101.4 90.7h0M98.7 82.3h0M102.6 97.0h0M110.4 90.6h0M112.8 89.2h0M113.3 71.0h0M102.0 85.9h0M104.6 84.5h0M123.9 63.6h0M103.6 89.6h0M108.1 76.5h0M103.8 83.8h0M97.4 89.5h0M102.2 87.6h0M118.0 75.6h0M117.2 73.1h0M116.9 73.6h0M122.3 69.1h0M109.4 79.1h0M104.0 85.0h0M126.8 70.4h0M114.6 79.6h0M100.1 87.2h0M109.8 84.2h0M110.0 82.0h0M109.4 85.9h0M112.2 76.0h0M111.7 80.3h0M95.3 87.9h0M133.2 63.7h0M96.9 88.5h0M99.1 87.7h0M96.3 89.2h0M109.2 84.6h0M103.8 85.5h0M100.9 90.9h0M100.1 88.2h0M100.4 84.5h0M103.1 88.0h0M99.0 92.7h0M104.7 78.8h0M97.7 91.0h0M110.6 89.3h0M101.2 91.2h0M94.1 84.6h0M106.9 81.1h0M101.6 86.3h0M111.4 76.9h0M110.3 75.2h0M104.0 86.0h0M124.2 70.3h0M126.4 69.7h0M119.8 72.3h0M98.0 88.2h0M126.5 70.5h0M124.0 72.2h0M128.3 63.2h0M97.7 84.3h0M98.5 86.5h0M106.7 89.4h0M101.1 91.9h0M97.7 89.0h0M116.5 81.8h0M110.9 84.4h0M96.7 85.1h0M109.9 82.3h0M99.7 91.3h0M95.0 86.8h0M118.0 81.9h0M98.2 90.8h0M111.7 85.0h0M99.5 93.3h0M113.5 81.1h0M97.8 90.4h0M110.0 77.6h0M106.3 78.0h0M108.4 90.7h0M101.3 79.4h0M132.4 61.7h0M117.1 68.7h0M112.9 76.9h0M134.9 68.9h0M98.9 87.8h0M109.2 78.4h0M121.5 73.2h0M99.1 87.8h0M102.9 81.3h0M116.0 74.1h0M128.0 54.4h0M121.7 71.3h0M110.7 86.5h0M128.5 62.9h0M97.9 91.2h0M105.0 80.9h0M97.5 89.4h0M108.4 84.3h0M106.3 84.6h0M100.2 82.9h0M103.9 85.3h0M100.8 93.1h0M132.5 64.3h0M99.9 86.1h0M120.3 75.9h0M107.6 82.6h0M98.0 89.4h0M97.9 86.9h0M105.4 87.4h0M129.5 60.8h0M132.8 65.5h0M110.7 73.6h0M100.2 83.6h0M99.7 93.6h0M110.5 78.9h0M97.4 90.1h0M111.9 75.1h0M102.7 89.8h0M99.9 86.4h0M127.7 67.9h0M108.9 84.9h0M134.0 64.8h0M122.7 73.1h0M94.5 86.1h0M119.2 77.6h0M124.8 76.2h0M105.9 89.8h0M118.5 65.4h0M107.8 84.0h0M101.8 89.8h0M99.3 92.9h0M100.5 91.8h0M123.7 66.4h0M96.1 86.4h0M98.2 90.3h0M103.5 91.7h0M106.6 80.0h0M115.6 83.2h0M107.8 74.3h0M98.2 91.4h0M99.2 87.1h0M95.5 86.0h0M106.1 83.2h0M108.8 85.9h0M111.8 84.6h0M104.1 90.2h0M125.0 60.6h0M135.0 65.6h0M106.8 84.9h0M100.2 87.8h0M93.8 83.7h0M112.3 87.7h0M105.1 82.6h0M95.5 86.8h0M121.8 73.1h0M97.9 87.6h0M103.0 98.1h0M115.3 82.6h0M107.0 87.0h0M130.1 67.0h0M103.9 93.9h0M98.1 91.2h0M104.4 85.8h0M130.4 61.2h0M99.9 93.7h0M107.5 80.7h0M110.8 79.6h0M104.0 81.5h0M119.7 80.5h0M98.5 90.5h0M101.0 88.4h0M118.9 85.0h0M124.6 67.5h0M99.0 90.9h0M103.4 78.7h0M133.1 61.5h0M98.9 87.8h0M95.9 86.8h0M123.4 66.7h0M102.7 97.7h0M100.9 88.3h0M101.2 88.7h0M120.8 71.0h0M125.0 64.0h0M96.1 89.0h0M109.6 75.5h0M106.2 78.8h0M98.5 90.5h0M100.5 94.0h0M97.8 89.9h0M113.3 85.8h0M105.6 89.5h0M99.4 87.5h0M111.7 82.0h0M103.9 82.1h0M113.9 83.8h0M98.7 88.8h0M110.2 78.5h0M119.4 77.9h0M95.5 88.0h0M111.8 79.2h0M120.3 67.0h0M101.7 88.2h0M97.9 84.7h0M99.5 88.3h0M118.1 70.6h0M100.3 88.0h0M128.0 75.3h0M97.4 84.4h0M97.2 89.7h0M124.8 68.8h0M114.5 74.9h0M117.7 78.8h0M96.2 86.2h0M118.4 80.0h0M112.5 81.2h0M101.3 89.1h0M95.6 88.1h0M127.2 63.4h0M112.0 83.4h0M107.4 80.3h0M96.3 81.3h0M108.4 84.1h0M96.4 89.3h0M114.1 79.9h0M103.5 76.0h0M120.6 74.2h0M100.8 94.2h0M112.4 80.1h0M113.8 76.7h0M106.0 83.7h0M123.5 69.5h0M97.7 89.3h0M126.9 65.5h0M116.7 75.0h0M131.3 68.7h0M120.1 68.4h0M94.0 85.2h0M103.4 87.5h0M100.5 92.4h0M94.8 87.2h0M92.7 83.9h0M111.0 76.3h0M128.5 71.1h0M100.6 91.3h0M103.6 88.3h0M99.2 92.7h0M111.9 73.7h0M116.7 68.3h0M99.3 92.4h0M128.2 63.0h0M110.3 86.3h0M100.3 91.3h0M128.9 57.5h0M106.5 81.1h0M100.4 84.4h0M103.6 79.8h0M98.0 83.9h0M101.4 90.5h0M95.5 85.4h0M97.8 90.6h0M102.3 89.8h0M120.1 72.5h0M103.6 89.8h0M127.2 70.2h0M123.8 76.6h0M113.8 79.8h0M105.9 81.2h0M96.8 86.3h0M117.7 77.4h0M126.2 71.1h0M107.4 76.0h0M107.3 82.3h0M103.4 84.9h0M102.7 85.9h0M101.8 96.2h0M114.3 77.2h0M99.6 90.7h0M120.9 69.7h0M111.6 73.9h0M98.6 85.1h0M120.6 65.8h0M123.3 68.7h0M98.7 85.8h0M98.6 91.5h0M125.4 67.1h0M107.4 78.1h0M128.3 70.5h0M116.8 77.3h0M107.6 79.2h0M99.7 88.6h0M112.6 73.3h0M132.0 72.5h0M131.8 63.3h0M100.3 93.1h0M105.2 88.8h0M132.5 66.0h0M118.8 71.8h0M131.0 67.4h0M99.7 93.3h0M94.2 85.8h0M129.8 63.2h0M103.5 82.3h0M108.3 73.6h0M126.8 66.5h0M105.7 91.4h0M114.3 77.8h0M115.2 78.3h0M128.1 67.8h0M97.8 78.7h0M100.1 90.2h0M116.0 81.3h0M119.6 75.5h0M98.9 89.8h0M118.0 63.4h0M124.5 76.1h0M108.7 79.5h0M124.3 71.9h0M112.4 73.2h0M97.9 87.9h0M126.9 71.2h0M119.3 70.2h0M103.8 98.6h0M97.1 89.7h0M131.7 65.8h0M100.0 81.9h0M111.7 84.8h0M111.2 75.4h0M132.2 65.6h0M98.6 84.6h0M97.9 89.1h0M94.7 84.7h0M105.2 84.0h0M98.5 91.6h0M126.4 67.4h0M96.7 89.4h0M99.6 86.7h0M105.1 84.6h0M102.7 81.7h0M102.7 82.8h0M130.9 64.4h0M100.8 91.3h0M104.7 88.7h0M120.7 78.8h0M104.0 86.9h0M128.8 65.1h0M104.0 89.6h0M108.5 80.6h0M107.7 88.7h0M116.5 74.6h0M112.3 83.5h0M116.4 73.3h0M95.9 87.7h0M98.7 90.9h0M100.0 90.5h0M112.4 73.9h0M103.7 93.3h0M100.6 88.8h0M116.8 77.7h0M111.0 79.9h0M119.2 81.5h0M102.9 81.2h0M103.8 81.5h0M94.4 85.7h0M107.2 90.6h0M116.7 81.9h0M127.5 71.3h0M101.8 83.4h0M102.1 90.4h0M101.6 91.6h0M110.4 85.1h0M135.4 69.9h0M129.6 63.8h0M125.2 71.4h0M132.8 63.8h0M124.1 65.6h0M103.6 81.6h0M106.7 86.5h0M102.9 90.4h0M99.9 92.2h0M124.4 65.8h0M99.8 85.4h0M122.9 69.3h0M97.8 86.7h0M100.0 83.9h0M95.1 86.8h0M123.2 71.2h0M100.0 89.7h0M123.7 73.7h0M99.5 87.9h0M97.2 89.6h0M116.1 74.0h0M106.8 83.2h0M128.3 62.6h0M106.6 86.7h0M112.1 87.6h0M112.2 81.4h0M102.4 85.9h0M131.2 67.4h0M122.3 67.2h0M111.8 83.3h0M102.5 93.2h0M99.3 90.3h0M110.9 80.9h0M98.7 89.4h0M109.6 71.1h0M110.6 71.7h0M113.8 88.5h0M107.8 83.2h0M129.0 74.1h0M107.9 84.4h0M98.9 87.7h0M111.6 80.5h0M99.2 88.1h0M115.0 74.5h0M111.5 77.1h0M96.4 80.8h0M112.4 71.7h0M126.0 74.0h0M118.7 71.5h0M127.4 65.6h0M133.9 66.3h0M122.6 70.0h0M117.6 79.1h0M103.0 79.5h0M105.0 86.3h0M106.5 77.4h0M126.5 68.9h0M106.6 83.4h0M98.2 90.6h0M126.0 67.1h0M102.0 91.5h0M118.1 79.9h0M102.5 81.9h0M129.4 63.0h0M105.9 79.2h0M104.1 84.0h0M118.6 79.2h0M131.6 68.6h0M118.0 70.8h0M97.3 89.3h0M93.6 84.6h0M124.7 67.4h0M98.9 89.1h0M103.3 78.0h0M126.0 70.1h0M110.1 84.2h0M116.4 72.5h0M126.4 69.5h0M102.8 83.5h0M107.9 83.8h0M115.0 72.9h0M109.9 85.6h0M98.9 92.6h0M109.2 80.5h0M131.7 64.7h0M100.1 89.7h0M99.9 91.4h0M95.3 87.7h0M99.5 86.0h0M101.5 87.0h0M126.7 65.2h0M112.4 80.0h0M95.0 86.0h0M97.3 89.6h0M108.5 79.3h0M115.8 82.9h0M127.4 65.4h0M98.2 88.0h0M117.1 75.9h0M104.2 83.7h0M96.9 82.1h0M111.1 81.7h0M119.1 74.2h0M111.1 76.4h0M101.0 82.3h0M115.5 77.4h0M99.3 90.1h0M100.7 85.6h0M126.7 72.1h0M130.9 64.5h0M98.6 92.1h0M96.9 89.8h0M121.7 75.6h0M100.1 94.2h0M97.5 89.0h0M107.4 84.1h0M102.5 86.0h0M129.5 61.0h0M126.6 72.7h0M131.5 72.8h0M109.2 78.7h0M101.8 86.5h0M100.6 89.8h0M104.7 90.2h0M116.7 68.5h0M96.0 87.8h0M121.8 65.8h0M99.9 88.1h0M113.7 72.2h0M113.1 82.2h0M97.2 88.2h0M100.5 94.7h0M110.3 74.0h0M101.3 85.4h0M103.6 78.6h0M98.0 90.8h0M108.1 81.8h0M103.2 91.5h0M99.9 89.4h0M107.5 91.6h0M126.5 68.0h0M108.4 78.6h0M99.9 93.9h0M96.7 88.3h0M105.5 77.8h0M101.3 87.5h0M127.8 66.0h0M122.5 70.1h0M125.8 66.5h0M128.5 73.1h0M130.2 72.7h0M101.9 90.3h0M121.2 70.4h0M125.8 64.4h0M127.3 78.4h0M110.6 79.9h0M117.5 73.0h0M106.0 80.0h0M108.5 82.6h0M126.1 71.8h0M123.6 68.3h0M105.2 78.1h0M110.7 80.0h0M105.6 83.6h0M132.8 64.7h0M99.8 93.0h0M100.6 88.3h0M121.4 71.1h0M122.9 73.2h0M128.6 64.2h0M98.6 79.4h0M111.1 83.1h0M115.9 76.6h0M100.7 88.0h0M98.5 90.8h0M130.0 62.7h0M116.8 78.0h0M104.9 90.8h0M112.3 86.1h0M123.0 74.6h0M110.4 79.0h0M96.4 87.4h0M101.9 86.5h0M95.6 86.2h0M99.7 87.8h0M97.4 90.4h0M108.9 87.5h0M101.3 93.9h0M119.7 74.4h0M107.8 78.8h0M132.2 60.8h0M131.2 61.8h0M102.2 90.2h0M104.5 83.8h0M99.4 83.6h0M112.7 71.5h0M102.2 93.4h0M107.9 81.9h0M127.0 72.4h0M122.9 74.5h0M120.3 72.2h0M106.4 82.1h0M99.1 85.6h0M104.9 81.9h0M105.7 76.4h0M98.7 84.5h0M101.2 88.2h0M125.7 70.7h0M130.4 68.1h0M129.4 68.9h0M132.0 77.3h0M100.7 86.0h0M97.5 90.2h0M99.6 93.6h0M95.3 60.7h0M89.8 62.0h0M88.0 61.6h0M88.0 62.1h0M86.9 62.3h0M83.6 60.3h0M125.8 62.4h0M97.8 60.9h0M126.7 62.0h0M134.2 61.9h0M93.5 62.9h0M83.8 61.2h0M86.4 61.5h0M118.2 61.5h0M118.5 61.9h0M93.0 62.6h0M129.6 61.0h0M115.7 61.0h0M84.6 62.8h0M109.8 60.9h0M114.0 60.5h0M110.8 61.9h0M96.6 61.3h0M81.5 61.7h0M110.1 62.6h0M92.8 60.9h0M109.4 60.9h0M106.7 61.3h0M109.5 61.2h0M109.8 60.4h0M124.7 61.6h0M95.6 61.5h0M98.6 61.3h0M97.5 62.5h0M136.6 61.7h0M120.0 61.1h0M132.5 62.4h0M134.4 62.7h0M102.0 62.8h0M99.0 60.9h0M89.2 62.1h0M100.6 61.1h0M106.9 61.6h0M132.1 60.2h0M123.7 62.1h0M81.6 62.4h0M92.3 61.5h0M107.6 62.2h0M88.5 61.4h0M94.9 61.2h0M119.3 61.7h0M127.7 61.9h0M123.1 62.3h0M95.8 61.4h0M119.8 63.0h0M117.5 63.4h0M111.6 62.4h0M104.7 62.0h0M135.6 62.4h0M85.5 62.6h0M135.1 61.8h0M122.8 60.4h0M91.2 61.8h0M111.8 62.0h0M85.7 62.0h0M132.3 62.2h0M125.0 61.4h0M90.0 63.7h0M89.0 60.8h0M86.7 62.7h0M125.0 60.5h0M99.9 61.4h0M83.5 62.8h0M109.3 62.5h0M123.6 62.0h0M92.9 62.4h0M128.4 61.7h0M121.5 61.4h0M83.4 61.2h0M123.6 61.9h0M121.1 61.6h0M83.6 61.3h0M116.7 61.8h0M127.7 61.7h0M131.0 61.2h0M117.3 62.5h0M132.6 61.3h0M123.9 61.1h0M108.4 62.7h0M104.2 62.0h0M99.8 61.4h0M98.5 62.1h0M122.7 62.4h0M128.1 61.3h0M88.2 60.6h0M124.6 61.7h0M102.7 62.7h0M115.0 63.5h0M117.4 61.6h0M112.9 62.1h0M103.7 62.7h0M123.1 61.1h0M112.8 61.8h0M136.5 61.4h0M113.4 61.4h0M86.3 61.5h0M120.3 61.6h0M95.3 60.7h0M108.2 61.9h0M131.7 60.7h0M86.2 61.8h0M115.9 61.7h0M110.8 62.5h0M118.3 62.2h0M129.3 62.6h0M125.3 62.2h0M87.7 63.2h0M100.2 60.7h0M92.8 62.1h0M104.4 62.2h0M120.4 62.7h0M134.1 61.4h0M104.9 61.8h0M104.4 61.8h0M82.5 62.7h0M87.6 62.8h0M97.8 60.9h0M82.9 61.7h0M87.3 61.5h0M86.3 61.1h0M107.8 59.8h0M83.9 63.9h0M91.2 62.6h0M134.5 62.2h0M124.4 62.5h0M101.1 62.4h0M135.4 61.5h0M95.4 60.8h0M105.4 61.1h0M112.5 61.7h0M86.2 59.9h0M103.4 62.9h0M109.3 61.8h0M122.1 60.4h0M102.4 61.7h0M115.4 61.3h0M82.1 62.0h0M100.7 62.2h0M122.2 63.3h0M86.3 62.0h0M133.9 62.8h0M127.8 61.5h0M133.4 60.4h0M83.1 62.3h0M124.5 61.0h0M89.5 60.8h0M85.8 60.8h0M119.3 61.7h0M91.1 60.0h0M95.2 61.0h0M126.7 62.9h0M105.6 61.5h0M104.4 61.4h0M85.3 61.9h0M96.7 62.5h0M101.3 63.2h0M129.8 60.3h0M131.0 61.2h0M120.7 61.3h0M112.5 62.0h0M98.5 61.9h0M116.5 61.6h0M100.0 61.0h0M135.7 62.3h0M136.3 60.6h0M134.2 63.3h0M110.4 61.3h0M125.0 61.6h0M108.1 61.9h0M115.8 60.1h0M119.8 61.4h0M106.7 61.7h0M84.7 62.7h0M102.3 63.7h0M88.7 61.6h0M114.9 61.9h0M93.9 62.0h0M132.6 62.8h0M82.0 61.6h0M108.2 60.8h0M104.6 62.5h0M110.2 61.8h0M99.8 62.5h0M128.1 61.8h0M126.2 62.0h0M108.9 61.0h0M128.0 62.2h0M81.9 62.2h0M108.5 60.0h0M132.9 62.3h0M103.7 61.4h0M123.0 61.8h0M110.0 62.6h0M83.6 63.1h0M91.9 59.3h0M88.9 62.2h0M96.0 62.0h0M132.8 61.1h0M82.2 61.8h0M128.3 62.4h0M86.9 61.1h0M135.3 60.4h0M125.9 62.6h0M93.3 62.1h0M88.0 61.9h0M113.1 63.0h0M88.4 61.7h0M132.6 62.1h0M123.1 59.9h0M135.5 62.1h0M92.7 61.8h0M116.1 62.3h0M114.2 60.5h0M110.6 61.7h0M98.7 60.9h0M84.0 60.2h0M108.2 62.6h0M105.1 62.8h0M127.8 60.9h0M113.4 60.1h0M114.3 63.1h0M100.0 61.6h0M86.9 62.0h0M132.4 61.7h0M133.0 60.8h0M114.9 60.2h0M122.6 61.4h0M85.6 61.5h0M122.4 61.4h0M112.2 61.9h0M95.9 61.7h0M115.5 63.3h0M122.7 62.1h0M106.2 61.1h0M105.2 61.0h0M130.3 62.8h0M97.7 61.7h0M81.6 61.3h0M119.2 61.9h0M136.4 61.1h0M121.1 61.3h0M128.0 62.9h0M89.0 62.5h0M96.4 61.4h0M102.2 60.9h0M97.5 61.6h0M84.5 61.0h0M119.8 60.9h0M103.2 61.9h0M88.4 61.7h0M82.2 60.9h0M93.8 61.5h0M110.4 62.0h0M134.6 61.8h0M130.4 62.8h0M109.4 62.3h0M111.1 62.4h0M133.4 60.9h0M119.0 62.1h0M126.8 61.6h0M98.9 63.0h0M134.8 61.2h0M123.1 61.1h0M124.6 62.4h0M84.4 60.9h0M121.0 61.6h0M100.2 60.8h0M102.4 61.0h0M119.0 62.4h0M110.4 61.4h0M108.1 62.1h0M97.1 61.3h0M103.0 61.5h0M135.5 61.4h0M109.1 61.7h0M82.7 61.0h0M102.6 61.5h0M135.6 61.7h0M113.8 61.6h0M94.9 61.8h0M99.9 61.5h0M108.1 61.4h0M96.2 60.7h0M109.9 61.3h0M122.8 61.6h0M117.6 61.6h0M108.1 61.9h0M100.7 60.0h0M128.4 61.9h0M81.5 62.9h0M127.0 61.0h0M108.8 62.1h0M101.9 61.9h0M116.0 62.9h0M84.2 61.6h0M96.9 63.5h0M97.5 61.2h0M133.8 61.5h0M135.7 62.2h0M90.7 62.2h0M105.9 61.6h0M130.3 62.9h0M85.2 62.2h0M98.4 61.9h0M88.6 61.2h0M121.6 62.1h0M134.9 62.6h0M116.9 61.7h0M88.5 60.6h0M130.3 60.8h0M89.0 62.6h0M119.9 63.2h0M123.5 62.7h0M82.5 62.2h0M122.1 62.0h0M81.4 61.2h0M121.9 62.8h0M101.5 61.8h0M99.5 62.5h0M101.5 60.0h0M93.5 62.6h0M105.8 61.8h0M98.4 61.5h0M107.2 59.7h0M128.7 61.2h0M125.7 62.3h0M135.1 61.8h0M127.1 60.6h0M132.2 62.7h0M102.7 61.5h0M81.6 61.1h0M81.2 61.7h0M136.3 61.2h0M82.1 63.4h0M101.2 62.0h0M118.5 60.7h0M108.3 63.0h0M123.4 62.6h0M107.7 60.5h0M108.6 61.3h0M107.6 60.6h0M122.0 61.9h0M99.8 61.9h0M118.6 61.1h0M102.1 63.2h0M124.4 60.7h0M102.4 61.3h0M114.8 62.4h0M83.1 60.1h0M84.8 61.3h0M130.7 59.5h0M121.3 60.7h0M121.1 61.8h0M87.7 61.0h0M128.6 62.7h0M93.3 61.0h0M108.9 61.1h0M108.4 61.7h0M106.6 62.8h0M135.4 61.7h0M131.6 62.4h0M102.4 63.0h0M114.4 60.7h0M97.9 61.3h0M118.8 60.9h0M108.6 62.8h0M116.9 62.4h0M81.5 61.8h0M130.9 60.7h0M127.3 61.6h0M130.6 60.1h0M102.9 63.3h0M121.5 62.2h0M104.5 61.2h0M101.5 61.4h0M128.3 62.4h0M84.6 63.1h0M112.3 61.7h0M116.8 61.4h0M129.7 63.0h0M102.4 61.3h0M95.1 61.8h0M128.5 61.3h0M116.7 61.2h0M91.5 62.5h0M113.1 61.8h0M91.4 61.2h0M95.8 61.6h0M122.3 61.0h0M122.8 62.7h0M102.0 63.2h0M111.8 62.1h0M113.4 61.4h0M131.5 60.9h0M81.7 62.8h0M103.8 61.6h0M131.6 62.6h0M81.7 61.2h0M115.8 61.0h0M127.3 62.3h0M88.5 62.2h0M95.1 61.3h0M83.3 62.3h0M110.6 62.2h0M133.4 62.1h0M101.9 62.3h0M116.7 61.1h0M89.5 62.7h0M83.6 60.7h0M88.6 61.2h0M83.9 61.7h0M132.6 61.6h0M119.5 62.2h0M84.3 62.5h0M86.1 60.9h0M131.7 63.0h0M123.0 61.2h0M109.6 61.0h0M117.6 61.0h0M127.6 61.8h0M97.9 60.9h0M134.7 62.4h0M100.3 61.1h0M92.9 62.1h0M100.9 61.9h0M107.7 61.3h0M97.0 60.7h0M87.6 61.2h0M108.2 62.2h0M118.8 62.8h0M93.5 61.9h0M99.4 62.4h0M130.7 62.7h0M103.1 60.9h0M106.6 62.1h0M134.0 62.6h0M86.3 61.4h0M128.1 62.1h0M97.9 61.6h0M119.5 61.8h0M109.7 62.2h0M122.5 60.7h0M95.8 61.8h0M83.9 62.8h0M133.2 61.6h0M101.3 60.9h0M85.5 60.6h0M87.7 61.4h0M86.7 61.5h0M125.1 61.0h0M104.0 63.3h0M99.0 61.6h0M111.0 61.1h0M126.6 61.4h0M120.3 62.0h0M109.2 61.3h0M111.4 61.7h0M126.3 61.7h0M106.1 62.6h0M112.1 63.0h0M122.3 61.7h0M131.9 60.8h0M84.3 61.6h0M116.5 62.2h0M93.4 62.2h0M90.9 61.9h0M111.2 61.0h0M81.9 62.0h0M110.5 61.8h0M84.3 62.1h0M89.6 61.4h0M106.9 62.1h0M90.3 61.7h0M99.2 60.3h0M85.2 62.1h0M117.3 61.7h0M123.2 60.2h0M89.4 62.0h0M121.2 63.1h0M128.3 60.9h0M105.4 60.3h0M102.3 61.7h0M95.4 62.3h0M89.0 61.9h0M132.8 61.5h0M135.3 62.5h0M119.5 61.5h0M101.5 61.9h0M97.3 62.5h0M135.2 61.6h0M96.2 63.3h0M85.4 62.3h0M124.9 61.3h0M127.5 61.5h0M105.0 62.8h0M133.6 61.7h0M132.8 61.0h0M121.6 62.6h0M117.6 62.9h0M123.5 62.0h0M91.9 62.0h0M111.4 62.0h0M87.1 62.2h0M136.5 61.2h0M121.9 61.4h0M104.9 62.0h0M114.9 62.8h0M99.2 60.6h0M82.5 61.2h0M117.1 60.8h0M127.8 47.3h0M106.8 52.7h0M118.7 55.7h0M95.1 61.0h0M118.8 51.0h0M142.7 50.6h0M121.2 50.8h0M128.7 57.3h0M118.0 55.8h0M114.9 54.6h0M131.1 48.6h0M108.3 61.5h0M146.2 52.6h0M117.7 56.6h0M123.9 56.1h0M133.2 60.8h0M118.6 54.9h0M154.1 42.3h0M104.0 47.6h0M125.1 51.2h0M132.9 44.6h0M119.7 55.6h0M116.8 60.4h0M115.4 59.1h0M116.2 58.5h0M120.1 54.0h0M126.0 55.7h0M110.5 53.5h0M106.7 57.4h0M129.1 50.0h0M123.8 55.8h0M108.1 60.2h0M120.5 57.7h0M137.8 61.2h0M112.4 59.9h0M117.8 58.4h0M139.2 59.5h0M121.6 53.9h0M119.4 59.6h0M121.4 51.1h0M143.8 38.7h0M118.2 57.2h0M132.1 61.6h0M124.7 57.5h0M132.4 55.6h0M107.3 57.1h0M128.5 59.5h0M124.6 49.0h0M127.1 54.9h0M123.7 57.0h0M116.8 52.6h0M100.5 58.7h0M133.4 59.6h0M118.7 52.5h0M116.9 51.6h0M120.5 44.7h0M124.2 53.1h0M129.0 53.6h0M135.2 53.4h0M143.7 52.2h0M123.3 52.1h0M107.1 61.3h0M125.1 51.7h0M127.4 54.3h0M115.1 57.9h0M125.6 60.6h0M134.9 57.4h0M113.2 55.0h0M125.3 50.5h0M119.3 55.7h0M120.1 58.5h0M131.0 61.3h0M135.5 48.1h0M149.1 50.2h0M121.9 53.1h0M124.0 55.0h0M133.9 50.6h0M111.8 55.8h0M118.7 52.2h0M116.1 47.7h0M123.0 57.7h0M127.9 55.2h0M125.6 51.8h0M121.5 58.2h0M122.8 57.4h0M121.2 53.4h0M118.9 53.6h0M121.0 51.2h0M130.8 57.6h0M114.0 56.9h0M116.6 60.6h0M124.1 55.6h0M125.3 55.5h0M108.2 57.2h0M128.4 53.2h0M128.0 57.7h0M131.9 50.9h0M121.5 52.1h0M99.1 55.9h0M126.6 60.7h0M112.6 48.0h0M133.3 60.3h0M119.1 60.9h0M115.5 47.0h0M117.7 58.9h0M124.3 53.2h0M118.6 51.8h0M118.6 58.2h0M126.0 50.6h0M122.0 57.2h0M142.2 57.8h0M129.7 61.7h0M112.3 59.7h0M118.0 56.3h0M126.3 56.2h0M122.7 61.4h0M125.4 55.4h0M107.5 56.2h0M123.3 51.2h0M130.6 58.1h0M126.0 51.6h0M136.6 57.0h0M119.1 55.4h0M84.9 75.7h0M100.5 65.6h0M97.0 70.3h0M83.2 73.7h0M95.0 66.5h0M88.2 68.4h0M84.5 71.1h0M96.3 67.5h0M99.5 67.7h0M85.1 78.5h0M100.7 65.9h0M94.6 63.9h0M87.2 69.7h0M95.5 63.2h0M86.4 68.0h0M90.9 64.1h0M80.2 89.5h0M91.8 62.4h0M96.4 62.7h0M76.2 83.4h0M99.5 65.0h0M82.1 75.5h0M105.3 72.5h0M95.1 63.7h0M77.0 75.8h0M97.7 71.0h0M90.2 79.5h0M84.0 78.8h0M96.4 66.8h0M91.1 71.9h0M94.5 65.0h0M88.5 72.2h0M90.4 71.5h0M92.1 70.0h0M86.5 78.0h0M85.4 70.3h0M83.7 65.8h0M93.5 70.6h0M89.2 74.2h0M88.9 75.6h0M103.6 71.3h0M88.2 81.3h0M95.4 60.9h0M100.0 71.0h0M96.5 63.7h0M83.9 68.6h0M94.3 64.2h0M85.0 77.8h0M85.4 72.8h0M83.6 62.6h0M89.6 70.8h0M79.6 78.7h0M96.2 75.6h0M86.4 65.4h0M89.5 72.5h0M88.9 68.2h0M82.8 68.3h0M89.6 68.7h0M102.5 67.8h0M93.5 68.2h0M88.8 66.0h0M86.6 63.3h0M74.9 81.6h0M82.4 75.1h0M89.3 68.3h0M95.5 67.3h0M93.4 68.8h0M97.3 75.8h0M90.7 77.6h0M93.9 79.8h0M89.3 62.6h0M91.7 72.5h0M87.5 70.6h0M88.2 64.5h0M102.8 64.9h0M82.3 63.5h0M84.0 72.2h0M101.0 73.1h0M84.8 65.1h0M82.0 72.2h0M96.6 67.6h0M102.0 80.6h0M91.3 58.7h0M98.2 69.5h0M95.1 76.3h0M82.8 72.9h0M91.5 66.9h0M95.3 69.8h0M87.2 82.7h0M91.4 80.6h0M89.1 77.5h0M84.7 73.1h0M98.1 57.6h0M94.1 69.2h0M98.2 71.1h0M89.6 64.1h0M111.7 63.7h0M87.8 67.6h0M88.0 73.0h0M80.4 79.0h0M88.3 75.2h0M74.7 70.9h0M88.0 69.5h0M85.3 74.0h0M93.2 65.3h0M75.8 77.9h0M87.8 77.9h0M96.6 69.8h0M79.7 71.0h0M84.8 79.4h0M77.7 78.6h0M78.9 69.9h0M79.8 69.0h0M86.9 74.0h0M85.8 76.0h0M103.0 70.3h0M81.7 71.7h0M89.4 69.4h0M98.6 76.7h0M104.8 72.1h0M70.6 73.8h0M95.1 66.0h0M85.8 77.3h0M91.2 64.7h0M85.9 54.3h0M90.1 64.4h0M89.8 64.6h0M83.4 69.5h0M110.5 61.3h0M81.5 69.7h0M97.9 74.7h0M95.2 68.7h0M91.1 66.8h0M88.8 67.0h0M79.5 67.4h0M104.3 71.4h0M84.6 71.6h0M86.8 78.9h0M89.9 67.8h0M95.1 72.4h0M85.1 67.7h0M91.2 61.8h0M83.5 78.3h0M96.5 76.8h0M86.9 68.5h0M88.1 68.9h0M99.5 68.6h0M100.0 65.7h0M92.9 80.3h0M84.7 68.5h0M85.7 62.8h0M88.0 68.0h0M106.3 66.1h0M74.5 79.3h0M97.1 70.1h0M92.2 75.2h0M86.0 72.3h0M91.2 80.8h0M100.4 70.7h0M80.3 78.0h0M89.7 78.2h0M90.5 72.4h0M94.9 66.4h0M85.3 85.4h0M83.8 77.8h0M95.1 75.3h0M100.1 62.1h0M97.1 58.4h0M90.5 73.3h0M97.6 76.4h0M83.3 70.9h0M89.0 67.6h0M84.1 68.5h0M98.5 77.9h0M95.6 80.2h0M90.8 65.0h0M85.3 73.3h0M97.6 77.2h0M83.6 77.9h0M86.2 75.4h0M96.8 78.9h0M86.3 73.4h0M93.2 68.5h0M90.8 74.7h0M78.1 69.6h0M106.9 71.3h0M86.0 61.5h0M83.1 75.5h0M95.1 73.2h0M94.4 67.2h0M101.7 63.1h0M93.8 69.3h0M77.6 78.6h0M88.1 75.8h0M99.4 70.9h0M85.3 70.9h0M89.6 79.8h0M96.3 79.5h0M95.6 66.1h0M96.9 75.9h0M89.2 74.2h0M87.8 64.5h0M89.4 75.9h0M87.5 58.9h0M84.3 78.6h0M91.7 77.6h0M84.6 69.9h0M82.8 68.1h0M93.8 71.6h0M86.6 73.7h0M80.6 70.7h0M79.2 64.5h0M80.2 66.7h0M101.6 77.5h0M99.3 66.6h0M94.6 64.1h0M86.1 73.4h0M78.4 74.4h0M94.6 58.7h0M72.3 72.7h0M89.2 72.4h0M81.8 76.0h0M91.0 67.0h0M102.1 71.0h0M95.5 81.3h0M86.5 70.7h0M77.4 72.1h0M93.3 85.4h0M94.2 71.9h0M80.9 68.0h0M104.3 96.8h0M115.8 100.6h0M109.8 100.2h0M110.4 103.8h0M118.8 95.7h0M112.4 94.8h0M112.4 110.2h0M115.0 103.3h0M118.5 105.0h0M113.2 96.0h0M121.2 101.6h0M111.2 105.7h0M115.0 99.3h0M125.8 98.3h0M116.9 97.4h0M116.3 103.8h0M117.8 95.1h0M117.7 98.0h0M116.9 98.0h0M102.3 96.4h0M112.9 90.2h0M119.2 96.0h0M117.0 88.6h0M116.6 103.4h0M116.2 93.1h0M120.8 95.1h0M111.8 101.4h0M113.3 109.3h0M114.3 109.4h0M117.7 92.9h0M115.1 99.7h0M123.5 102.4h0M130.1 91.4h0M109.9 102.8h0M124.5 91.7h0M113.1 96.7h0M118.2 100.2h0M114.9 102.5h0M110.5 99.3h0M117.8 107.7h0M114.9 99.8h0M122.8 97.2h0M122.7 98.0h0M121.9 98.0h0M109.7 97.4h0M117.6 107.1h0M126.0 94.3h0M129.8 89.5h0M110.1 105.3h0M106.2 106.6h0M117.3 101.6h0M108.0 103.5h0M120.6 97.4h0M121.1 97.5h0M117.1 97.3h0M107.1 101.4h0M118.0 95.0h0M103.6 96.2h0M122.8 95.8h0M110.6 106.6h0M114.1 92.9h0M112.5 96.3h0M114.0 95.6h0M115.5 101.4h0M111.7 99.6h0M114.2 103.5h0M110.9 104.3h0M122.4 96.1h0M109.4 99.9h0M104.7 100.4h0M108.1 101.0h0M112.9 102.5h0M115.8 101.1h0M114.8 100.8h0M108.4 104.7h0M122.8 102.0h0M107.2 104.0h0M105.5 106.1h0M113.9 97.7h0M110.7 99.8h0M115.1 95.0h0M115.5 100.5h0M118.2 98.2h0M115.1 110.0h0M121.1 98.9h0M106.9 105.0h0M118.5 86.1h0M114.1 101.5h0M115.3 99.8h0M114.2 106.1h0M117.4 97.4h0M113.8 109.4h0M110.0 98.7h0M117.0 99.5h0M116.9 105.0h0M121.8 99.1h0M115.4 99.1h0M113.8 104.5h0M107.7 97.2h0M112.4 95.9h0M110.8 106.3h0M101.8 106.5h0M107.4 100.9h0M111.7 96.0h0M106.4 102.7h0M97.6 95.6h0M112.8 105.2h0M126.1 94.4h0M110.4 99.7h0M117.9 102.8h0M109.5 103.5h0M114.9 104.7h0M112.7 99.3h0M110.1 95.0h0M116.7 102.2h0M121.8 98.4h0M112.4 96.1h0M108.3 98.4h0M117.1 99.2h0M101.6 103.5h0M113.4 95.2h0M115.0 101.9h0M109.0 95.3h0M113.2 101.3h0M113.6 107.0h0M116.0 94.5h0M119.7 94.9h0M119.2 98.5h0M122.4 92.4h0M119.4 99.9h0M109.8 104.4h0M128.6 96.6h0M110.6 100.2h0M122.9 98.0h0M123.9 93.5h0M122.9 89.6h0M114.2 98.4h0M112.2 106.0h0M111.6 102.2h0M126.2 99.5h0M112.7 96.9h0M103.2 105.1h0M120.4 102.7h0M116.6 108.8h0M119.7 87.3h0M109.9 104.8h0M112.8 104.0h0M130.4 90.8h0M128.3 94.7h0M106.4 102.8h0M120.5 95.0h0M124.6 92.3h0M114.0 104.0h0M113.9 97.3h0M115.1 102.5h0M125.5 102.2h0M126.3 95.6h0M105.3 102.5h0M112.7 95.7h0M112.1 100.1h0M115.5 103.5h0M109.7 106.5h0M115.4 102.7h0M122.6 91.3h0M124.7 92.9h0M117.5 103.6h0M120.7 90.4h0M116.1 104.3h0" stroke="#111" stroke-width="0.92" stroke-linecap="square" fill="none" stroke-opacity="1"/>
<path d="M101.1 64.8h0M104.3 84.6h0M93.9 55.6h0M84.4 61.8h0M99.1 70.1h0M101.7 45.4h0M76.5 77.2h0M115.4 47.7h0M119.0 34.6h0M142.5 66.8h0M75.0 75.4h0M102.6 60.2h0M96.9 63.7h0M101.4 55.0h0M93.5 73.3h0M112.1 48.5h0M94.8 85.0h0M115.3 83.1h0M80.2 56.4h0M66.3 47.8h0M96.8 54.0h0M84.7 59.8h0M100.0 75.7h0M112.7 43.4h0M128.5 58.0h0M86.2 67.4h0M96.4 50.0h0M129.6 54.9h0M93.0 73.2h0M131.6 67.1h0M87.9 72.7h0M122.0 67.2h0M114.2 58.2h0M102.0 45.8h0M91.0 53.8h0M103.3 83.0h0M87.4 66.6h0M123.0 53.5h0M89.8 81.6h0M109.5 70.7h0M117.4 54.7h0M107.0 57.1h0M90.9 68.7h0M110.6 49.3h0M90.1 74.4h0M106.0 72.8h0M97.8 56.7h0M116.5 70.6h0M90.2 75.1h0M129.9 58.3h0M86.6 70.8h0M104.7 71.9h0M79.3 71.7h0M118.4 71.5h0M113.9 78.0h0M89.1 81.8h0M106.7 53.2h0M98.1 69.3h0M108.8 80.5h0M106.4 58.9h0M140.5 56.3h0M89.1 78.3h0M96.1 57.1h0M85.0 82.0h0M85.1 69.2h0M95.4 64.3h0M89.2 69.2h0M113.5 76.4h0M97.1 52.5h0M77.9 69.1h0M103.7 66.8h0M79.4 61.2h0M90.5 75.2h0M96.2 73.7h0M112.0 41.5h0M99.2 80.9h0M94.5 68.2h0M101.0 51.3h0M140.4 58.6h0M114.1 58.6h0M127.1 75.7h0M123.4 73.8h0M115.2 80.1h0M110.1 66.1h0M117.0 53.0h0M105.8 56.8h0M141.6 63.9h0M138.1 74.1h0M143.9 74.7h0M142.6 74.2h0M147.3 61.8h0M133.0 71.5h0M141.7 66.8h0M156.5 55.9h0M146.1 62.3h0M147.4 57.9h0M148.9 66.9h0M140.8 62.8h0M153.2 58.8h0M151.9 47.0h0M136.0 86.8h0M153.9 62.4h0M149.2 69.7h0M141.0 71.8h0M136.3 64.8h0M143.9 74.0h0M144.2 60.3h0M148.3 66.7h0M147.7 64.5h0M141.6 77.8h0M151.5 55.6h0M136.5 80.6h0M145.4 68.4h0M137.3 80.4h0M144.3 70.2h0M145.5 64.3h0M145.6 68.8h0M147.5 69.2h0M135.5 69.7h0M141.6 78.6h0M139.3 79.9h0M149.7 71.2h0M156.8 60.4h0M145.1 76.6h0M145.6 74.7h0M142.4 79.8h0M145.3 54.8h0M149.7 63.8h0M137.9 71.0h0M141.5 78.5h0M145.2 67.7h0M143.1 63.3h0M139.3 68.8h0M141.8 62.4h0M140.8 78.0h0M145.9 67.7h0M145.3 66.4h0M136.1 80.3h0M156.7 64.0h0M147.3 83.7h0M135.9 78.0h0M141.1 69.0h0M133.2 75.6h0M145.6 56.9h0M141.9 67.0h0M137.2 77.9h0M86.7 77.3h0M82.4 80.3h0M74.8 78.7h0M84.5 69.7h0M74.2 61.2h0M81.5 76.8h0M77.0 85.3h0M75.8 80.5h0M84.9 66.3h0M69.1 77.1h0M74.8 68.3h0M74.3 67.0h0M76.1 70.1h0M87.2 64.2h0M79.3 74.2h0M86.3 64.9h0M71.9 89.0h0M70.6 70.1h0M72.4 64.8h0M83.8 87.1h0M74.1 66.8h0M71.5 78.4h0M79.6 77.3h0M76.1 73.3h0M72.8 69.6h0M76.2 78.1h0M81.7 71.6h0M83.8 65.2h0M88.6 82.1h0M72.3 98.1h0M85.3 87.7h0M66.8 72.5h0M78.5 82.9h0M75.7 61.9h0M83.8 72.0h0M78.3 70.7h0M74.4 61.3h0M79.9 67.9h0M75.0 82.1h0M81.0 62.7h0M74.0 73.5h0M75.8 64.1h0M75.7 82.3h0M83.9 86.5h0M80.5 51.0h0M73.3 68.7h0M81.6 73.5h0M77.7 77.8h0M73.7 85.7h0M88.0 80.8h0M71.3 75.8h0M82.1 79.9h0" stroke="#333" stroke-width="0.90" stroke-linecap="square" fill="none" stroke-opacity="1"/>
<path d="M78.4 108.5h0M70.0 107.9h0M83.9 106.8h0M83.8 109.9h0M86.8 106.9h0M88.3 106.7h0M71.2 106.4h0M84.8 107.1h0M76.0 106.9h0M97.5 107.0h0M89.8 109.8h0M81.9 108.8h0M77.9 109.8h0M90.2 106.7h0M90.8 107.0h0M83.0 107.2h0M83.2 109.2h0M91.9 107.8h0M68.1 108.3h0M98.2 108.7h0M87.9 109.6h0M88.5 110.4h0M99.6 109.5h0M94.4 107.0h0M75.5 109.4h0M86.5 110.0h0M93.3 107.8h0M72.2 109.2h0M70.1 108.5h0M75.8 108.1h0M89.1 109.1h0M87.8 106.7h0M97.5 109.4h0M97.9 109.0h0M88.8 110.1h0M92.3 109.1h0M67.6 106.5h0M91.3 110.0h0M79.7 107.3h0M81.6 109.9h0M92.6 106.9h0M73.3 107.3h0M92.3 107.5h0M97.3 108.1h0M73.0 108.1h0M71.1 110.1h0M67.0 108.2h0M79.5 106.6h0M74.0 110.6h0M96.3 108.2h0M96.8 110.2h0M96.2 109.5h0M86.0 108.5h0M91.3 108.9h0M100.3 107.2h0M97.6 109.6h0M81.7 110.0h0M76.2 108.0h0M86.4 110.5h0M74.7 110.0h0M89.2 110.3h0M76.7 109.2h0M97.3 110.1h0M90.6 109.9h0M88.4 108.7h0M72.9 108.6h0M100.4 110.4h0M67.7 107.7h0M74.6 109.9h0M72.6 109.6h0M98.3 92.4h0M91.1 91.5h0M88.3 90.9h0M77.7 91.6h0M87.6 91.4h0M74.1 91.2h0M75.0 106.2h0M75.4 103.2h0M86.2 92.6h0M93.5 105.2h0M67.2 104.8h0M73.2 105.7h0M102.2 80.3h0M106.9 99.0h0M95.8 104.3h0M93.6 85.4h0M104.3 79.8h0M95.9 81.3h0M101.4 83.3h0M104.2 92.0h0M104.2 105.0h0M106.8 84.8h0M97.9 105.7h0M97.2 91.2h0M103.3 102.6h0M95.2 84.2h0M102.6 99.5h0M104.5 85.9h0M100.2 79.5h0M96.2 91.8h0M102.8 85.6h0M102.5 90.6h0M93.9 82.4h0M102.7 103.6h0M104.9 96.1h0M100.6 83.9h0M96.5 81.8h0M94.8 90.4h0M104.8 86.9h0M105.7 102.8h0M96.0 81.2h0M96.3 85.1h0M93.3 80.1h0M104.5 103.6h0M105.3 81.5h0M93.5 103.4h0M98.4 89.1h0M103.0 94.3h0M97.8 83.6h0M105.9 80.5h0M68.6 92.3h0M67.7 106.4h0M69.0 105.8h0M66.8 91.4h0M67.3 105.0h0M68.8 110.3h0" stroke="#fff" stroke-width="0.84" stroke-linecap="square" fill="none" stroke-opacity="1"/>
<rect x="65.20" y="25.00" width="112.10" height="86.40" stroke="#000" stroke-width="1.0" fill="none"/>
<line x1="110.00" y1="25.00" x2="110.00" y2="111.40" stroke="#000" stroke-width="0.9"/>
<line x1="65.20" y1="85.20" x2="177.30" y2="85.20" stroke="#000" stroke-width="0.9"/>
<line x1="61.70" y1="111.40" x2="65.20" y2="111.40" stroke="#000" stroke-width="0.6"/>
<line x1="63.40" y1="104.90" x2="65.20" y2="104.90" stroke="#000" stroke-width="0.42"/>
<line x1="63.40" y1="101.09" x2="65.20" y2="101.09" stroke="#000" stroke-width="0.42"/>
<line x1="63.40" y1="98.40" x2="65.20" y2="98.40" stroke="#000" stroke-width="0.42"/>
<line x1="63.40" y1="96.30" x2="65.20" y2="96.30" stroke="#000" stroke-width="0.42"/>
<line x1="63.40" y1="94.59" x2="65.20" y2="94.59" stroke="#000" stroke-width="0.42"/>
<line x1="63.40" y1="93.15" x2="65.20" y2="93.15" stroke="#000" stroke-width="0.42"/>
<line x1="63.40" y1="91.89" x2="65.20" y2="91.89" stroke="#000" stroke-width="0.42"/>
<line x1="63.40" y1="90.79" x2="65.20" y2="90.79" stroke="#000" stroke-width="0.42"/>
<line x1="61.70" y1="89.80" x2="65.20" y2="89.80" stroke="#000" stroke-width="0.6"/>
<line x1="63.40" y1="83.30" x2="65.20" y2="83.30" stroke="#000" stroke-width="0.42"/>
<line x1="63.40" y1="79.49" x2="65.20" y2="79.49" stroke="#000" stroke-width="0.42"/>
<line x1="63.40" y1="76.80" x2="65.20" y2="76.80" stroke="#000" stroke-width="0.42"/>
<line x1="63.40" y1="74.70" x2="65.20" y2="74.70" stroke="#000" stroke-width="0.42"/>
<line x1="63.40" y1="72.99" x2="65.20" y2="72.99" stroke="#000" stroke-width="0.42"/>
<line x1="63.40" y1="71.55" x2="65.20" y2="71.55" stroke="#000" stroke-width="0.42"/>
<line x1="63.40" y1="70.29" x2="65.20" y2="70.29" stroke="#000" stroke-width="0.42"/>
<line x1="63.40" y1="69.19" x2="65.20" y2="69.19" stroke="#000" stroke-width="0.42"/>
<line x1="61.70" y1="68.20" x2="65.20" y2="68.20" stroke="#000" stroke-width="0.6"/>
<line x1="63.40" y1="61.70" x2="65.20" y2="61.70" stroke="#000" stroke-width="0.42"/>
<line x1="63.40" y1="57.89" x2="65.20" y2="57.89" stroke="#000" stroke-width="0.42"/>
<line x1="63.40" y1="55.20" x2="65.20" y2="55.20" stroke="#000" stroke-width="0.42"/>
<line x1="63.40" y1="53.10" x2="65.20" y2="53.10" stroke="#000" stroke-width="0.42"/>
<line x1="63.40" y1="51.39" x2="65.20" y2="51.39" stroke="#000" stroke-width="0.42"/>
<line x1="63.40" y1="49.95" x2="65.20" y2="49.95" stroke="#000" stroke-width="0.42"/>
<line x1="63.40" y1="48.69" x2="65.20" y2="48.69" stroke="#000" stroke-width="0.42"/>
<line x1="63.40" y1="47.59" x2="65.20" y2="47.59" stroke="#000" stroke-width="0.42"/>
<line x1="61.70" y1="46.60" x2="65.20" y2="46.60" stroke="#000" stroke-width="0.6"/>
<line x1="63.40" y1="40.10" x2="65.20" y2="40.10" stroke="#000" stroke-width="0.42"/>
<line x1="63.40" y1="36.29" x2="65.20" y2="36.29" stroke="#000" stroke-width="0.42"/>
<line x1="63.40" y1="33.60" x2="65.20" y2="33.60" stroke="#000" stroke-width="0.42"/>
<line x1="63.40" y1="31.50" x2="65.20" y2="31.50" stroke="#000" stroke-width="0.42"/>
<line x1="63.40" y1="29.79" x2="65.20" y2="29.79" stroke="#000" stroke-width="0.42"/>
<line x1="63.40" y1="28.35" x2="65.20" y2="28.35" stroke="#000" stroke-width="0.42"/>
<line x1="63.40" y1="27.09" x2="65.20" y2="27.09" stroke="#000" stroke-width="0.42"/>
<line x1="63.40" y1="25.99" x2="65.20" y2="25.99" stroke="#000" stroke-width="0.42"/>
<line x1="61.70" y1="25.00" x2="65.20" y2="25.00" stroke="#000" stroke-width="0.6"/>
<line x1="65.20" y1="111.40" x2="65.20" y2="114.90" stroke="#000" stroke-width="0.6"/>
<line x1="73.64" y1="111.40" x2="73.64" y2="113.20" stroke="#000" stroke-width="0.42"/>
<line x1="78.57" y1="111.40" x2="78.57" y2="113.20" stroke="#000" stroke-width="0.42"/>
<line x1="82.07" y1="111.40" x2="82.07" y2="113.20" stroke="#000" stroke-width="0.42"/>
<line x1="84.79" y1="111.40" x2="84.79" y2="113.20" stroke="#000" stroke-width="0.42"/>
<line x1="87.01" y1="111.40" x2="87.01" y2="113.20" stroke="#000" stroke-width="0.42"/>
<line x1="88.88" y1="111.40" x2="88.88" y2="113.20" stroke="#000" stroke-width="0.42"/>
<line x1="90.51" y1="111.40" x2="90.51" y2="113.20" stroke="#000" stroke-width="0.42"/>
<line x1="91.94" y1="111.40" x2="91.94" y2="113.20" stroke="#000" stroke-width="0.42"/>
<line x1="93.23" y1="111.40" x2="93.23" y2="114.90" stroke="#000" stroke-width="0.6"/>
<line x1="101.66" y1="111.40" x2="101.66" y2="113.20" stroke="#000" stroke-width="0.42"/>
<line x1="106.60" y1="111.40" x2="106.60" y2="113.20" stroke="#000" stroke-width="0.42"/>
<line x1="110.10" y1="111.40" x2="110.10" y2="113.20" stroke="#000" stroke-width="0.42"/>
<line x1="112.81" y1="111.40" x2="112.81" y2="113.20" stroke="#000" stroke-width="0.42"/>
<line x1="115.03" y1="111.40" x2="115.03" y2="113.20" stroke="#000" stroke-width="0.42"/>
<line x1="116.91" y1="111.40" x2="116.91" y2="113.20" stroke="#000" stroke-width="0.42"/>
<line x1="118.53" y1="111.40" x2="118.53" y2="113.20" stroke="#000" stroke-width="0.42"/>
<line x1="119.97" y1="111.40" x2="119.97" y2="113.20" stroke="#000" stroke-width="0.42"/>
<line x1="121.25" y1="111.40" x2="121.25" y2="114.90" stroke="#000" stroke-width="0.6"/>
<line x1="129.69" y1="111.40" x2="129.69" y2="113.20" stroke="#000" stroke-width="0.42"/>
<line x1="134.62" y1="111.40" x2="134.62" y2="113.20" stroke="#000" stroke-width="0.42"/>
<line x1="138.12" y1="111.40" x2="138.12" y2="113.20" stroke="#000" stroke-width="0.42"/>
<line x1="140.84" y1="111.40" x2="140.84" y2="113.20" stroke="#000" stroke-width="0.42"/>
<line x1="143.06" y1="111.40" x2="143.06" y2="113.20" stroke="#000" stroke-width="0.42"/>
<line x1="144.93" y1="111.40" x2="144.93" y2="113.20" stroke="#000" stroke-width="0.42"/>
<line x1="146.56" y1="111.40" x2="146.56" y2="113.20" stroke="#000" stroke-width="0.42"/>
<line x1="147.99" y1="111.40" x2="147.99" y2="113.20" stroke="#000" stroke-width="0.42"/>
<line x1="149.28" y1="111.40" x2="149.28" y2="114.90" stroke="#000" stroke-width="0.6"/>
<line x1="157.71" y1="111.40" x2="157.71" y2="113.20" stroke="#000" stroke-width="0.42"/>
<line x1="162.65" y1="111.40" x2="162.65" y2="113.20" stroke="#000" stroke-width="0.42"/>
<line x1="166.15" y1="111.40" x2="166.15" y2="113.20" stroke="#000" stroke-width="0.42"/>
<line x1="168.86" y1="111.40" x2="168.86" y2="113.20" stroke="#000" stroke-width="0.42"/>
<line x1="171.08" y1="111.40" x2="171.08" y2="113.20" stroke="#000" stroke-width="0.42"/>
<line x1="172.96" y1="111.40" x2="172.96" y2="113.20" stroke="#000" stroke-width="0.42"/>
<line x1="174.58" y1="111.40" x2="174.58" y2="113.20" stroke="#000" stroke-width="0.42"/>
<line x1="176.02" y1="111.40" x2="176.02" y2="113.20" stroke="#000" stroke-width="0.42"/>
<line x1="177.30" y1="111.40" x2="177.30" y2="114.90" stroke="#000" stroke-width="0.6"/>
<text x="66.0" y="122.60000000000001" font-size="6.7" text-anchor="middle" fill="#111" stroke="#111" stroke-width="0.2">10<tspan dy="-2.7" font-size="5.7">0</tspan></text>
<text x="59.900000000000006" y="110.60000000000001" font-size="6.7" text-anchor="middle" fill="#111" stroke="#111" stroke-width="0.2" transform="rotate(-90 59.900000000000006 110.60000000000001)">10<tspan dy="-2.7" font-size="5.7">0</tspan></text>
<text x="94.025" y="122.60000000000001" font-size="6.7" text-anchor="middle" fill="#111" stroke="#111" stroke-width="0.2">10<tspan dy="-2.7" font-size="5.7">1</tspan></text>
<text x="59.900000000000006" y="89.00000000000001" font-size="6.7" text-anchor="middle" fill="#111" stroke="#111" stroke-width="0.2" transform="rotate(-90 59.900000000000006 89.00000000000001)">10<tspan dy="-2.7" font-size="5.7">1</tspan></text>
<text x="122.05" y="122.60000000000001" font-size="6.7" text-anchor="middle" fill="#111" stroke="#111" stroke-width="0.2">10<tspan dy="-2.7" font-size="5.7">2</tspan></text>
<text x="59.900000000000006" y="67.4" font-size="6.7" text-anchor="middle" fill="#111" stroke="#111" stroke-width="0.2" transform="rotate(-90 59.900000000000006 67.4)">10<tspan dy="-2.7" font-size="5.7">2</tspan></text>
<text x="150.07500000000002" y="122.60000000000001" font-size="6.7" text-anchor="middle" fill="#111" stroke="#111" stroke-width="0.2">10<tspan dy="-2.7" font-size="5.7">3</tspan></text>
<text x="59.900000000000006" y="45.8" font-size="6.7" text-anchor="middle" fill="#111" stroke="#111" stroke-width="0.2" transform="rotate(-90 59.900000000000006 45.8)">10<tspan dy="-2.7" font-size="5.7">3</tspan></text>
<text x="178.10000000000002" y="122.60000000000001" font-size="6.7" text-anchor="middle" fill="#111" stroke="#111" stroke-width="0.2">10<tspan dy="-2.7" font-size="5.7">4</tspan></text>
<text x="59.900000000000006" y="24.2" font-size="6.7" text-anchor="middle" fill="#111" stroke="#111" stroke-width="0.2" transform="rotate(-90 59.900000000000006 24.2)">10<tspan dy="-2.7" font-size="5.7">4</tspan></text>
<text x="49.400000000000006" y="70.4" font-size="6.0" font-weight="normal" text-anchor="middle" fill="#000" transform="rotate(-90 49.400000000000006 70.4)" stroke="#000" stroke-width="0.25">7AAD</text>
<text x="65.9" y="40.7" font-size="10.4" font-weight="bold" text-anchor="start" fill="#000"  stroke="#000" stroke-width="0.25">11.13%</text>
<text x="124.0" y="40.7" font-size="10.4" font-weight="bold" text-anchor="start" fill="#000"  stroke="#000" stroke-width="0.25">12.31%</text>
<text x="66.6" y="101.6" font-size="10.4" font-weight="bold" text-anchor="start" fill="#fff"  stroke="#fff" stroke-width="0.25">72.58%</text>
<text x="133.2" y="97.9" font-size="10.4" font-weight="bold" text-anchor="start" fill="#000"  stroke="#000" stroke-width="0.25">3.98%</text>
<text x="2.2" y="176.0" font-size="13.0" font-weight="bold" text-anchor="start" fill="#000"  stroke="#000" stroke-width="0.25">TPO+</text>
<text x="5.8" y="192.0" font-size="13.0" font-weight="bold" text-anchor="start" fill="#000"  stroke="#000" stroke-width="0.25">Rapa</text>
<clipPath id="clipA2"><rect x="64.7" y="131.6" width="110.3" height="86.5"/></clipPath>
<polygon points="65.9,201.5 72.7,199.5 80.7,197.1 88.7,194.1 94.7,191.3 99.7,188.7 101.7,189.5 100.7,196.1 98.7,206.7 97.2,214.1 69.2,215.1 65.9,211.1" fill="#000" stroke="#000" stroke-width="1.5" stroke-linejoin="round" clip-path="url(#clipA2)"/>
<path d="M82.1 200.3h0M74.4 203.5h0M94.5 209.2h0M83.3 196.7h0M75.7 204.4h0M83.7 197.9h0M76.3 204.0h0M99.8 205.5h0M88.7 204.5h0M67.5 213.1h0M73.8 196.6h0M88.3 202.3h0M80.7 208.4h0M78.3 208.3h0M94.0 201.3h0M77.1 206.4h0M87.4 202.2h0M81.6 201.8h0M80.0 208.7h0M72.3 206.3h0M65.7 204.8h0M81.5 208.3h0M70.1 207.1h0M71.2 209.1h0M83.4 207.5h0M78.6 198.4h0M75.0 199.5h0M73.8 206.6h0M91.8 200.0h0M72.8 208.2h0M90.8 208.8h0M79.7 209.7h0M77.2 211.4h0M74.0 202.5h0M84.6 202.4h0M87.6 199.7h0M83.5 199.8h0M79.7 217.3h0M69.7 201.1h0M97.3 200.0h0M90.3 202.8h0M91.8 193.6h0M70.7 209.7h0M87.4 203.1h0M83.9 207.9h0M77.2 211.6h0M72.0 211.3h0M90.1 204.9h0M77.2 206.2h0M66.2 197.6h0M88.5 199.2h0M84.3 205.1h0M78.0 208.6h0M81.4 198.7h0M75.3 207.2h0M67.8 205.7h0M75.1 195.3h0M98.3 206.9h0M76.0 211.6h0M70.1 215.8h0M76.9 207.1h0M74.8 207.2h0M84.1 205.1h0M72.3 211.3h0M86.4 204.5h0M91.4 199.6h0M93.7 202.2h0M96.1 200.3h0M78.1 207.2h0M91.9 211.2h0M76.1 202.6h0M88.5 210.7h0M87.9 202.5h0M93.7 203.0h0M82.4 208.6h0M74.9 194.6h0M82.9 209.0h0M85.2 207.6h0M82.4 210.9h0M81.9 213.4h0M81.2 209.8h0M75.1 208.3h0M85.0 205.5h0M96.4 202.8h0M92.1 205.3h0M91.8 198.6h0M77.0 211.5h0M72.4 209.3h0M86.5 205.5h0M85.2 207.6h0M78.3 208.3h0M75.5 204.2h0M82.9 199.4h0M81.4 207.0h0M77.2 201.4h0M79.6 208.0h0M90.1 214.1h0M85.1 201.3h0M84.0 216.2h0M81.9 212.7h0M91.5 201.1h0M96.4 193.1h0M78.7 202.3h0M82.8 205.5h0M92.3 200.2h0M100.3 192.7h0M79.7 209.2h0M89.8 202.0h0M88.2 193.2h0M75.7 209.6h0M84.8 210.9h0M92.5 199.8h0M85.9 195.1h0M65.7 211.4h0M76.7 200.9h0M103.4 190.4h0M70.1 213.7h0M81.4 211.5h0M80.0 215.5h0M80.4 205.1h0M85.2 206.6h0M65.5 203.5h0M78.3 207.9h0M68.2 204.2h0M73.1 208.9h0M76.3 209.7h0M84.7 199.9h0M77.7 199.5h0M81.8 209.7h0M70.7 198.0h0M86.0 203.0h0M80.4 208.1h0M84.6 209.8h0M76.1 194.6h0M75.7 204.9h0M76.5 208.5h0M78.2 213.1h0M74.2 206.8h0M71.0 202.1h0M76.8 210.5h0M80.8 204.6h0M65.8 197.3h0M78.5 204.7h0M98.7 204.1h0M85.1 210.0h0M71.6 200.7h0M77.0 214.3h0M90.8 200.5h0M68.0 213.1h0M91.9 197.5h0M97.1 198.2h0M88.4 203.0h0M77.4 202.9h0M87.8 207.6h0M89.0 202.5h0M98.3 201.2h0M69.0 216.0h0M82.1 205.6h0M89.4 205.8h0M81.8 216.1h0M70.6 208.0h0M79.0 207.4h0M104.6 198.7h0M90.0 207.2h0M83.8 202.3h0M87.2 205.8h0M95.6 207.2h0M73.4 191.2h0M96.2 205.2h0M82.5 202.0h0M106.5 207.9h0M81.7 203.4h0M86.6 211.8h0M86.1 209.7h0M83.4 207.0h0M67.6 208.8h0M81.2 205.1h0M78.2 207.7h0M74.7 205.7h0M71.5 200.9h0M75.2 204.4h0M69.6 194.5h0M97.7 207.8h0M76.8 209.4h0M69.2 199.0h0M84.2 208.1h0M73.6 207.0h0M91.7 204.4h0M82.6 208.4h0M67.5 209.5h0M74.2 196.6h0M89.9 202.8h0M91.0 214.5h0M91.9 211.1h0M84.8 206.8h0M87.9 207.8h0M67.5 212.2h0M91.0 201.4h0M71.2 204.8h0M74.6 209.6h0M88.8 204.2h0M77.5 196.6h0M76.3 201.1h0M74.9 208.6h0M71.6 204.5h0M68.8 206.5h0M77.7 211.6h0M87.4 201.5h0M73.5 208.0h0M86.1 203.7h0M79.1 206.0h0M69.4 209.3h0M86.7 204.7h0M68.8 207.9h0M79.5 207.5h0M76.3 210.9h0M92.0 207.9h0M83.1 211.7h0M80.3 204.8h0M65.8 208.6h0M93.3 198.0h0M88.8 197.2h0M83.8 214.8h0M81.1 199.2h0M83.7 204.3h0M89.0 201.2h0M86.8 209.9h0M83.5 205.2h0M87.8 203.2h0M75.9 207.7h0M92.1 200.7h0M85.8 201.2h0M73.0 208.0h0M66.8 203.7h0M68.2 204.8h0M87.0 204.8h0M66.7 195.6h0M85.2 201.4h0M91.6 201.4h0M67.0 204.9h0M88.1 201.4h0M87.8 201.3h0M78.2 203.2h0M74.9 203.2h0M96.2 202.3h0M93.7 209.1h0M79.5 205.0h0M75.6 207.3h0M85.5 204.7h0M72.0 202.2h0M98.0 211.2h0M67.7 204.7h0M80.2 208.8h0M79.4 207.1h0M84.4 210.9h0M67.0 214.1h0M85.2 207.6h0M77.9 209.5h0M87.8 207.9h0M67.1 214.9h0M81.3 210.4h0M80.5 201.9h0M108.0 203.8h0M88.6 201.7h0M78.3 212.0h0M85.3 214.0h0M93.1 197.5h0M86.9 203.1h0M77.5 203.3h0M99.3 201.2h0M66.1 213.2h0M79.7 207.7h0M76.6 206.2h0M73.4 205.0h0M83.9 211.7h0M86.3 209.9h0M71.0 209.2h0M84.7 209.7h0M74.1 205.9h0M75.2 212.7h0M91.9 201.1h0M79.1 207.1h0M71.1 206.9h0M89.6 208.0h0M73.4 203.6h0M79.3 198.2h0M83.8 205.7h0M66.6 207.1h0M73.6 205.6h0M71.4 214.6h0M70.4 211.6h0M82.7 212.8h0M79.9 205.8h0M81.2 195.7h0M105.7 199.7h0M77.2 200.5h0M79.1 214.3h0M72.6 209.5h0M91.3 208.5h0M76.3 197.4h0M84.8 207.8h0M77.1 204.1h0M98.9 193.9h0M75.1 203.6h0M72.2 213.8h0M83.3 197.1h0M67.9 203.1h0M78.8 208.4h0M73.7 205.6h0M88.0 203.5h0M88.2 201.2h0M85.6 211.3h0M77.1 204.6h0M78.8 208.4h0M67.8 208.4h0M74.4 214.3h0M77.2 202.5h0M81.9 204.2h0M80.9 206.9h0M93.1 201.2h0M98.0 188.4h0M99.6 208.3h0M96.9 203.6h0M83.5 199.9h0M94.5 197.0h0M72.2 207.3h0M83.0 207.0h0M68.3 206.3h0M85.6 210.8h0M88.5 206.3h0M77.8 203.4h0M75.1 206.3h0M86.0 202.0h0M102.0 196.4h0M89.0 203.0h0M79.0 204.0h0M96.6 201.1h0M86.3 205.2h0M88.3 207.2h0M97.8 198.6h0M71.9 216.1h0M93.8 203.5h0M77.5 207.6h0M94.1 199.1h0M95.7 202.5h0M76.7 204.4h0M66.7 205.5h0M71.1 208.7h0M88.1 204.5h0M82.5 207.4h0M97.3 205.4h0M96.9 202.2h0M84.2 201.7h0M86.7 200.1h0M85.4 201.5h0M76.8 212.7h0M82.0 209.5h0M78.0 196.6h0M95.9 201.8h0M73.7 211.9h0M68.6 204.2h0M92.5 199.8h0M92.3 201.9h0M78.3 206.5h0M75.3 212.2h0M92.0 203.8h0M86.9 207.3h0M98.1 194.2h0M91.2 208.3h0M77.2 206.4h0M76.9 212.8h0M68.5 211.1h0M93.9 206.1h0M75.5 204.3h0M92.0 198.7h0M71.4 212.4h0M79.3 198.7h0M72.4 204.0h0M71.7 213.8h0M70.0 209.6h0M74.4 209.9h0M65.6 200.6h0M85.9 212.0h0M66.0 206.9h0M75.2 202.0h0M90.7 204.0h0M66.0 207.4h0M94.5 199.4h0M75.1 202.5h0M82.2 202.6h0M89.8 199.7h0M83.5 206.4h0M74.5 204.6h0M72.1 206.4h0M75.7 209.5h0M80.6 208.5h0M97.6 201.0h0M77.5 208.2h0M102.5 199.6h0M98.2 208.4h0M70.2 209.7h0M94.4 203.3h0M82.2 216.5h0M84.3 216.0h0M71.2 216.0h0M75.2 194.3h0M71.9 205.0h0M80.1 209.7h0M87.8 207.0h0M72.7 216.4h0M93.1 203.5h0M74.5 206.6h0M78.2 202.6h0M80.4 202.3h0M87.3 201.1h0M85.7 206.4h0M82.3 208.1h0M73.3 210.9h0M80.8 203.5h0M98.8 207.8h0M77.7 209.2h0M87.7 212.4h0M91.2 202.8h0M77.9 200.3h0M83.3 209.6h0M76.5 209.9h0M81.9 203.1h0M67.8 213.9h0M107.1 203.4h0M69.2 202.6h0M83.2 208.5h0M96.5 190.2h0M100.0 202.8h0M82.0 207.4h0M76.8 205.0h0M91.6 194.7h0M79.4 208.8h0M96.6 204.5h0M88.0 207.9h0M82.9 207.1h0M72.1 206.3h0M100.0 195.6h0M78.8 199.5h0M75.0 202.8h0M67.7 209.4h0M70.7 210.3h0M99.6 188.9h0M78.9 195.3h0M79.3 207.9h0M82.8 211.5h0M82.3 196.5h0M96.4 197.8h0M79.6 207.6h0M71.4 207.9h0M96.3 194.0h0M78.9 199.4h0M84.7 198.1h0M86.6 204.2h0M82.3 198.5h0M78.3 208.6h0M90.8 214.0h0M87.6 204.0h0M69.3 205.8h0M78.0 208.5h0M94.5 191.6h0M68.4 208.0h0M91.0 205.8h0M94.8 206.0h0M107.6 204.6h0M85.5 212.7h0M76.0 203.8h0M70.0 209.0h0M85.3 209.6h0M95.9 206.0h0M93.6 201.9h0M70.5 211.4h0M91.3 210.6h0M78.9 203.6h0M76.8 208.3h0M80.1 204.8h0M83.3 203.6h0M84.2 201.9h0M100.5 197.6h0M90.3 210.8h0M74.9 208.1h0M96.8 203.5h0M72.8 207.8h0M83.7 202.9h0M77.4 202.0h0M86.7 205.5h0M84.3 202.3h0M85.9 203.1h0M83.8 204.2h0M73.7 201.3h0M78.5 200.0h0M85.1 215.7h0M93.7 197.1h0M79.6 202.6h0M88.7 196.5h0M84.0 206.2h0M86.6 206.7h0M82.3 196.0h0M77.3 201.4h0M86.3 203.3h0M82.3 211.1h0M79.6 214.7h0M89.5 196.2h0M74.5 213.2h0M75.4 212.9h0M74.8 206.1h0M91.5 195.3h0M81.5 203.1h0M82.5 214.2h0M85.8 197.6h0M90.8 201.3h0M82.4 211.4h0M77.4 211.3h0M82.6 200.5h0M77.4 199.1h0M93.1 204.1h0M90.9 197.8h0M89.6 197.6h0M83.7 205.0h0M74.5 208.4h0M81.1 201.0h0M72.9 200.3h0M95.1 203.6h0M76.9 210.0h0M71.6 201.3h0M84.4 213.2h0M83.9 205.8h0M99.0 194.0h0M112.9 193.6h0M79.9 198.7h0M67.9 206.8h0M106.4 195.7h0M74.2 208.3h0M70.0 206.3h0M89.3 192.5h0M77.5 204.7h0M75.3 206.0h0M75.2 201.3h0M94.0 213.6h0M89.1 199.4h0M95.6 205.3h0M72.1 210.4h0M74.6 209.8h0M90.4 209.8h0M69.6 207.1h0M80.7 199.2h0M85.1 208.4h0M66.2 205.5h0M69.1 201.2h0M69.5 215.0h0M73.7 204.9h0M91.1 209.0h0M95.5 191.8h0M88.6 194.8h0M74.0 204.7h0M74.7 217.1h0M78.9 212.1h0M78.8 205.7h0M86.1 206.9h0M86.0 195.4h0M86.0 206.3h0M87.0 204.1h0M85.0 197.9h0M92.6 196.9h0M95.4 208.1h0M80.0 204.2h0M88.9 202.4h0M68.2 209.5h0M67.9 205.7h0M99.6 206.2h0M76.0 206.2h0M73.9 206.9h0M65.5 212.1h0M80.8 202.3h0M76.0 204.0h0M74.6 204.2h0M94.4 206.5h0M85.1 206.7h0M68.8 195.2h0M96.6 206.3h0M83.0 206.6h0M82.8 205.3h0M78.0 194.4h0M86.7 204.7h0M91.0 205.2h0M77.7 209.4h0M82.7 202.9h0M76.8 204.1h0M77.6 203.9h0M79.5 211.7h0M75.7 205.7h0M72.9 199.9h0M71.8 204.6h0M82.3 203.5h0M68.1 206.1h0M96.6 197.9h0M81.4 210.8h0M72.2 204.2h0M111.1 206.3h0M75.2 207.5h0M81.8 206.2h0M85.6 203.1h0M82.3 198.1h0M77.3 214.2h0M83.2 201.7h0M82.2 210.9h0M73.7 204.6h0M79.8 202.7h0M81.8 205.8h0M68.5 204.7h0M67.7 209.6h0M83.4 208.5h0M71.5 204.6h0M92.0 205.8h0M87.3 205.5h0M84.6 209.8h0M94.0 213.7h0M77.9 210.5h0M89.8 206.1h0M83.5 198.4h0M92.1 198.7h0M73.9 202.4h0M86.6 199.4h0M85.5 207.6h0M81.8 203.6h0M86.9 211.3h0M75.9 201.0h0M74.4 202.2h0M78.2 205.3h0M72.2 205.0h0M70.1 208.9h0M89.6 194.3h0M83.0 213.1h0M77.7 211.0h0M84.0 200.1h0M91.1 200.4h0M84.4 202.8h0M78.4 206.8h0M94.5 194.0h0M69.0 208.4h0M90.9 202.6h0M78.7 208.8h0M97.2 197.6h0M88.7 197.1h0M92.5 208.3h0M89.0 199.6h0M67.2 211.7h0M83.4 208.7h0M66.6 192.8h0M92.4 208.6h0M77.8 206.1h0M85.4 208.6h0M78.7 203.3h0M70.5 213.0h0M81.7 187.5h0M84.3 201.9h0M67.3 205.5h0M67.3 205.8h0M75.0 209.4h0M70.1 198.1h0M74.4 199.6h0M88.5 203.0h0M80.4 205.4h0M83.8 210.2h0M92.2 202.7h0M67.1 206.3h0M87.5 199.4h0M93.9 198.0h0M68.9 212.2h0M79.6 207.5h0M77.5 206.4h0M74.6 216.8h0M87.6 203.6h0M85.6 209.0h0M75.2 207.6h0M82.8 202.2h0M72.6 206.1h0M77.5 204.1h0M87.5 204.7h0M98.6 206.7h0M77.0 202.8h0M85.9 202.6h0M77.6 205.0h0M87.1 205.4h0M101.9 197.6h0M79.7 207.4h0M76.1 203.8h0M99.0 194.4h0M84.3 195.7h0M84.2 194.8h0M68.5 213.9h0M96.8 203.2h0M83.2 199.3h0M77.0 199.4h0M79.7 205.3h0M82.0 209.5h0M73.9 195.3h0M68.5 201.4h0M76.8 204.0h0M80.2 212.9h0M81.0 199.9h0M77.5 201.6h0M78.2 209.1h0M68.8 211.6h0M99.4 210.0h0M97.7 202.8h0M80.2 206.9h0M77.0 201.4h0M87.2 197.0h0M66.3 211.3h0M76.8 202.0h0M85.9 212.0h0M77.7 205.5h0M86.6 209.4h0M91.5 207.1h0M73.7 209.7h0M80.8 196.7h0M93.6 206.1h0M95.0 202.5h0M88.3 203.8h0M82.4 210.0h0M81.3 208.7h0M80.3 212.1h0M87.5 195.6h0M98.1 204.5h0M75.4 203.4h0M101.5 202.0h0M86.0 207.7h0M74.5 215.9h0M102.7 197.3h0M92.6 194.8h0M77.2 206.6h0M81.2 208.5h0M84.9 206.7h0M79.3 207.5h0M74.9 217.0h0M81.3 211.9h0M81.8 204.6h0M78.8 199.2h0M102.4 203.6h0M82.1 202.9h0M94.1 201.3h0M75.9 203.7h0M96.8 204.1h0M79.2 202.5h0M94.1 204.5h0M77.3 210.9h0M89.9 198.7h0M92.7 209.0h0M78.2 199.2h0M92.1 201.6h0M78.6 204.5h0M77.9 210.5h0M69.3 210.6h0M92.8 208.8h0M88.2 205.5h0M78.7 205.4h0M71.6 216.1h0M79.5 200.6h0M89.4 211.8h0M83.6 203.4h0M69.2 211.2h0M78.2 202.7h0M87.0 197.7h0M88.4 191.5h0M74.3 199.4h0M78.2 210.2h0M67.3 215.3h0M73.7 204.5h0M91.1 199.8h0M95.8 201.6h0M79.8 200.8h0M92.7 203.0h0M75.8 201.7h0M74.2 206.4h0M73.4 211.1h0M80.4 202.5h0M85.6 212.0h0M92.0 204.1h0M89.3 196.0h0M73.1 212.3h0M79.9 206.1h0M87.3 206.2h0M85.5 202.1h0M77.7 212.9h0M75.7 199.1h0M77.2 210.9h0M99.3 202.8h0M74.5 210.0h0M84.0 211.1h0M86.2 208.4h0M86.1 206.7h0M71.5 206.6h0M97.3 209.3h0M90.8 205.7h0M79.7 207.6h0M77.5 211.8h0M77.7 202.3h0M73.1 202.6h0M85.0 214.0h0M87.7 202.5h0M86.7 200.2h0M78.3 206.2h0M81.1 209.6h0M86.4 214.2h0M89.5 202.5h0M83.6 200.7h0M74.7 205.0h0M91.3 200.0h0M68.7 207.0h0M77.9 200.2h0M72.9 205.0h0M85.0 207.9h0M94.5 201.6h0M87.4 204.7h0M69.8 204.5h0M103.3 200.4h0M97.8 206.5h0M98.0 201.3h0M90.5 202.2h0M69.7 201.7h0M85.5 196.4h0M84.8 200.4h0M84.7 197.8h0M89.7 202.7h0M65.5 201.2h0M81.7 197.0h0M84.4 207.4h0M74.4 214.0h0M95.8 204.3h0M85.7 207.1h0M78.4 212.8h0M75.6 193.7h0M81.3 207.8h0M89.5 198.2h0M95.2 198.6h0M87.5 208.0h0M82.9 211.0h0M76.1 217.0h0M86.1 202.4h0M107.6 200.4h0M96.8 199.5h0M71.1 213.3h0M81.7 200.5h0M76.2 206.8h0M91.1 211.6h0M74.8 214.6h0M65.8 212.2h0M79.7 208.0h0M76.7 202.7h0M84.0 210.8h0M77.0 200.8h0M67.5 210.8h0M86.8 207.8h0M74.9 204.5h0M99.0 200.1h0M82.4 210.4h0M98.1 204.2h0M84.6 214.8h0M77.0 197.1h0M73.5 205.4h0M94.4 204.6h0M93.4 203.7h0M81.6 202.5h0M68.6 210.6h0M84.8 207.8h0M75.7 204.4h0M85.0 207.9h0M101.4 197.1h0M91.2 208.1h0M78.5 206.8h0M80.6 213.5h0M107.0 202.2h0M78.5 210.9h0M86.2 203.6h0M88.8 208.5h0M77.1 210.7h0M78.0 207.0h0M66.4 216.0h0M77.3 207.0h0M80.7 209.5h0M75.3 210.5h0M72.7 199.5h0M86.4 205.4h0M90.1 193.8h0M82.3 202.0h0M79.2 203.9h0M77.3 202.8h0M91.5 194.7h0M101.6 197.6h0M72.0 201.3h0M70.8 214.0h0M88.1 208.8h0M84.7 206.0h0M75.2 201.7h0M87.5 217.1h0M77.4 212.8h0M74.0 207.1h0M98.4 201.8h0M87.6 201.4h0M100.2 195.5h0M86.8 203.2h0M83.1 207.0h0M94.5 207.5h0M91.8 205.3h0M70.3 214.5h0M96.8 205.0h0M97.6 193.8h0M84.6 204.9h0M88.7 206.4h0M97.0 194.9h0M89.4 199.2h0M87.1 198.5h0M102.2 191.2h0M103.6 191.3h0M95.4 192.3h0M91.2 196.2h0M84.9 208.4h0M96.4 195.0h0M86.6 200.3h0M86.8 196.4h0M91.9 205.7h0M82.8 204.2h0M89.8 187.5h0M84.7 200.6h0M93.3 193.9h0M103.3 193.9h0M89.3 192.6h0M93.9 193.9h0M98.9 190.0h0M99.9 191.8h0M94.1 195.4h0M96.6 199.6h0M89.8 195.1h0M103.9 195.1h0M104.0 195.1h0M93.7 202.8h0M89.0 197.3h0M90.6 200.8h0M88.0 198.8h0M88.0 198.6h0M99.4 198.0h0M91.6 207.4h0M88.8 200.8h0M90.1 189.9h0M86.0 205.2h0M83.3 213.0h0M92.2 198.4h0M100.2 193.5h0M89.2 196.5h0M87.4 201.8h0M90.2 200.3h0M84.2 199.7h0M104.9 192.4h0M92.3 201.8h0M94.5 202.1h0M86.1 203.3h0M86.7 202.7h0M107.2 195.7h0M87.9 201.1h0M95.6 192.9h0M94.3 192.2h0M98.5 197.7h0M91.9 200.1h0M106.8 189.5h0M82.0 203.7h0M90.2 195.4h0M98.1 198.2h0M96.4 201.5h0M89.2 197.3h0M95.3 185.5h0M76.9 206.3h0M91.6 197.9h0M87.3 200.7h0M99.0 191.5h0M96.2 194.8h0M91.9 197.9h0M101.7 194.6h0M96.9 195.6h0M80.3 206.9h0M92.7 197.5h0M89.9 192.6h0M101.6 199.7h0M102.0 185.4h0M96.1 190.9h0M91.8 195.6h0M89.2 195.9h0M90.0 201.4h0M102.3 195.9h0M92.8 196.5h0M91.4 197.7h0M89.2 198.2h0M97.8 193.7h0M88.1 199.0h0M93.3 196.5h0M91.3 200.5h0M92.6 193.3h0M96.2 192.7h0M97.3 197.9h0M95.7 196.8h0M84.9 200.2h0M93.6 199.1h0M86.2 199.7h0M83.8 202.2h0M93.3 197.3h0M102.5 195.0h0M91.7 195.4h0M90.2 201.3h0M98.2 192.4h0M92.1 195.7h0M96.8 195.8h0M88.6 195.8h0M100.4 187.9h0M82.2 190.6h0M104.7 189.0h0M97.8 196.7h0M97.7 198.9h0M90.1 198.4h0M98.6 196.3h0M88.4 196.4h0M84.3 202.3h0M89.7 192.7h0M89.5 199.9h0M93.9 195.7h0M93.8 199.1h0M85.8 197.5h0M98.5 197.0h0M84.6 198.4h0M101.3 195.7h0M92.0 201.4h0M100.9 198.4h0M84.6 196.2h0M89.8 198.4h0M90.7 199.0h0M101.5 196.9h0M98.7 194.1h0M102.6 193.9h0M94.2 196.3h0M82.0 210.7h0M92.7 200.6h0M106.2 189.6h0M85.9 204.4h0M94.2 192.7h0M98.5 194.3h0M87.2 190.2h0M86.9 201.5h0M86.7 203.8h0M105.8 191.8h0M94.1 196.1h0M97.9 194.6h0M99.0 199.4h0M97.9 190.9h0M96.8 194.1h0M94.7 199.8h0M88.9 199.8h0M101.5 189.5h0M91.7 200.4h0M91.4 201.7h0M86.8 194.3h0M95.0 195.4h0M94.7 199.8h0M99.0 192.6h0M90.5 190.8h0M87.0 200.9h0M94.1 190.8h0M97.5 194.6h0M99.3 192.5h0M98.5 190.0h0M81.8 199.5h0M97.0 196.5h0M81.6 203.2h0M96.8 201.5h0M97.4 196.7h0M83.4 203.2h0M81.1 201.8h0M90.6 194.5h0M86.8 199.5h0M96.3 192.9h0M94.6 198.9h0M92.7 204.4h0M91.0 195.2h0M81.5 206.8h0M96.8 194.3h0M94.7 195.6h0M98.0 194.4h0M94.2 196.1h0M87.5 191.3h0M96.0 190.7h0M95.2 198.3h0M104.0 188.6h0M93.7 200.2h0M88.8 196.8h0M95.5 203.6h0M99.2 197.5h0M87.1 202.4h0M99.6 188.9h0M92.9 196.3h0M96.6 188.5h0M97.0 195.0h0M91.2 189.8h0M80.5 201.2h0M96.7 196.7h0M97.3 188.4h0M94.0 201.6h0M83.6 204.1h0M88.5 201.3h0M93.4 190.6h0M86.6 205.0h0M92.2 202.1h0M94.8 199.4h0M90.5 199.1h0M90.6 201.6h0M89.4 203.0h0M102.1 187.8h0M91.8 199.6h0M103.3 196.1h0M93.3 190.3h0M97.8 192.3h0M93.9 198.0h0M84.4 205.3h0M98.2 196.5h0M96.3 196.6h0M84.5 199.3h0M97.6 193.4h0M92.9 198.4h0M93.3 197.8h0M95.7 195.6h0M86.2 199.3h0M98.5 191.7h0M95.6 196.8h0M87.6 189.0h0M92.7 194.2h0M89.1 202.5h0M88.2 200.7h0M93.5 197.5h0M104.6 183.7h0M98.5 193.7h0M91.1 195.4h0M93.0 197.1h0M87.4 206.0h0M88.4 198.8h0M85.3 201.4h0M94.9 200.1h0M98.6 192.3h0M102.3 191.9h0M102.0 198.9h0M90.4 194.2h0M96.0 200.9h0M95.1 200.0h0M96.3 198.7h0M100.6 192.0h0M84.4 200.8h0M88.1 194.9h0M91.8 200.3h0M81.9 196.8h0M97.5 191.4h0M90.5 203.3h0M99.4 195.1h0M96.0 185.2h0M96.1 196.9h0M84.5 201.9h0M95.5 195.3h0M97.5 198.0h0M93.1 196.0h0M85.8 204.9h0M89.4 200.0h0M101.9 195.4h0M85.3 200.5h0M88.6 193.0h0M88.0 201.6h0M94.8 195.3h0M93.8 192.2h0M88.2 198.7h0M97.5 193.5h0M91.8 198.8h0M101.5 188.0h0M95.9 196.2h0M92.4 198.2h0M81.0 203.0h0M91.4 193.1h0M97.8 194.1h0M90.7 200.9h0M87.3 197.1h0M97.7 197.9h0M104.7 189.4h0M84.2 195.8h0M85.7 201.0h0M91.4 195.2h0M86.8 197.4h0M90.6 202.6h0M96.5 200.4h0M97.6 197.5h0M99.7 195.3h0M101.9 196.8h0M103.5 192.5h0M88.2 208.8h0M91.1 199.9h0M90.5 195.6h0M95.3 191.6h0M91.8 202.9h0M93.5 199.8h0M96.5 196.6h0M93.4 199.1h0M87.0 202.1h0M86.4 197.4h0M89.3 193.8h0M81.1 204.3h0M70.2 214.7h0M65.6 217.1h0M96.4 215.2h0M95.1 215.8h0M98.2 217.1h0M77.0 214.7h0M80.0 217.3h0M81.8 215.0h0M66.0 215.1h0M98.0 215.2h0M93.4 217.1h0M98.5 216.5h0M82.8 214.8h0M98.6 216.7h0M91.6 213.8h0M88.2 216.3h0M70.0 214.9h0M81.3 214.6h0M69.0 214.2h0M81.4 213.7h0M93.4 215.2h0M75.1 214.6h0M76.4 215.9h0M90.6 215.3h0M90.6 215.8h0M94.0 216.4h0M92.4 213.7h0M77.7 214.1h0M94.7 214.2h0M98.0 214.9h0M70.6 216.3h0M71.8 215.0h0M80.8 216.1h0M83.6 216.2h0M93.3 217.4h0M87.2 215.3h0M82.8 215.0h0M94.8 215.7h0M89.9 216.8h0M89.9 217.1h0M81.3 216.3h0M96.6 215.5h0M94.3 214.7h0M70.9 216.9h0M84.8 217.4h0M86.4 214.6h0M69.5 217.1h0M74.2 214.2h0M83.9 216.4h0M85.6 213.8h0M92.9 216.2h0M76.7 217.2h0M82.8 216.6h0M68.4 214.8h0M92.0 216.3h0M90.1 216.3h0M66.2 216.9h0M66.7 214.5h0M75.9 215.5h0M68.6 215.3h0M70.2 214.9h0M77.4 214.0h0M93.7 213.7h0M72.3 217.1h0M79.6 217.3h0M76.1 215.6h0M83.9 215.2h0M100.3 215.2h0M93.5 215.6h0M77.6 216.9h0M98.0 213.7h0M86.5 216.5h0M83.2 215.2h0M90.7 214.2h0M82.1 214.4h0M95.9 216.7h0M79.3 216.7h0M84.5 216.2h0M73.7 216.6h0M88.2 217.5h0M74.5 215.2h0M92.9 214.6h0M92.4 216.9h0M71.1 216.4h0M75.5 214.7h0M77.7 216.6h0M87.9 215.1h0M89.4 216.8h0M72.2 217.0h0M83.7 216.1h0M95.7 214.4h0M81.8 216.4h0M65.8 215.1h0M84.4 215.4h0M83.1 216.9h0M69.2 216.4h0M75.2 213.9h0M81.6 214.1h0M81.5 214.3h0M81.0 214.1h0M100.6 214.4h0M80.9 216.0h0M89.1 214.1h0M95.3 215.1h0M68.1 215.3h0M87.3 215.0h0M91.0 214.8h0M94.2 217.2h0M94.2 213.8h0M80.1 215.7h0M78.8 214.3h0M86.1 214.1h0M71.1 215.2h0M100.6 215.1h0M99.5 216.2h0M88.2 217.2h0M85.9 216.5h0M82.0 216.7h0M96.3 213.6h0M98.4 213.7h0M87.9 213.9h0M92.0 215.3h0M70.0 216.9h0M74.0 217.1h0M78.8 215.8h0M81.0 216.6h0M77.8 215.6h0M73.4 214.9h0M69.1 214.6h0M75.1 216.3h0M70.4 214.2h0M99.7 216.1h0M68.2 217.0h0M92.2 216.0h0M99.3 215.7h0M70.1 213.6h0M68.4 215.4h0M84.8 216.9h0M67.7 213.9h0M68.6 215.0h0M98.4 216.6h0M66.8 215.9h0M71.6 214.5h0M76.6 214.6h0M75.7 214.5h0M77.4 215.9h0M85.2 216.4h0M75.1 213.7h0M85.5 214.8h0M72.7 215.2h0M98.8 215.9h0M90.7 213.8h0M84.5 216.3h0M95.9 216.6h0M67.0 217.5h0M65.8 216.6h0M81.9 217.2h0M98.8 216.5h0M68.1 216.1h0M69.4 215.3h0M69.8 214.8h0M67.1 215.7h0M68.5 214.6h0M92.8 214.7h0M85.8 217.0h0M87.8 216.8h0M98.3 214.6h0M71.8 217.5h0M97.8 214.9h0M98.1 213.9h0M73.3 217.0h0M68.9 217.0h0M73.1 216.6h0M69.7 215.6h0M85.6 215.8h0M95.8 213.7h0M90.4 216.9h0M83.7 214.5h0M93.5 215.3h0M74.5 216.6h0M92.3 216.8h0M82.7 213.7h0M66.0 215.8h0M66.5 216.0h0M69.9 216.6h0M65.9 216.3h0M73.1 217.5h0M82.0 215.6h0M95.3 214.7h0M99.7 214.8h0M66.5 214.7h0M78.2 215.9h0M67.6 217.1h0M92.8 216.5h0M100.3 213.8h0M89.6 216.9h0M71.5 215.2h0M72.3 217.2h0M81.9 216.8h0M74.2 215.9h0M91.7 214.9h0M74.7 213.9h0M87.5 215.2h0M72.3 214.8h0M76.5 214.1h0M86.3 214.2h0M72.9 215.0h0M100.3 216.4h0M72.7 216.9h0M98.5 214.9h0M93.5 216.1h0M84.9 217.1h0M89.0 216.1h0M98.5 215.4h0M68.9 213.6h0M90.9 215.4h0M96.3 217.4h0M74.2 214.4h0M85.6 213.7h0M68.8 213.9h0M75.8 215.3h0M72.2 216.3h0M92.1 216.8h0M84.6 216.5h0M93.5 216.4h0M76.5 215.8h0M94.5 214.6h0M77.9 213.6h0M86.5 214.0h0M81.0 214.3h0M69.3 217.1h0M76.9 217.3h0M91.4 215.9h0M82.4 216.1h0M94.0 214.3h0M84.4 214.7h0M71.8 214.5h0M93.2 217.2h0M80.6 214.3h0M71.5 214.8h0M78.4 217.0h0M83.9 215.5h0M87.4 214.3h0M78.4 215.3h0M67.5 214.8h0M85.5 216.0h0M74.6 213.9h0M85.5 214.2h0M65.3 217.4h0M91.2 217.3h0M76.5 216.6h0M95.4 216.1h0M66.4 214.7h0M78.5 215.3h0M85.5 214.3h0M73.1 213.7h0M79.5 214.1h0M73.5 213.7h0M95.1 214.5h0M83.2 215.9h0M66.8 200.4h0M66.5 209.1h0M66.3 202.5h0M66.2 208.1h0M66.1 209.4h0M66.7 209.6h0M66.1 198.7h0M65.5 201.4h0M66.3 197.2h0M65.8 198.8h0M66.3 199.7h0M66.8 197.2h0M65.9 209.5h0M66.9 203.1h0M67.1 211.9h0M66.3 202.0h0M65.6 208.5h0M65.3 207.8h0M65.7 199.5h0M66.4 203.1h0M65.3 198.8h0M66.8 203.1h0M66.8 207.2h0M66.4 200.5h0M65.5 214.1h0M65.8 208.0h0M66.1 213.9h0M65.7 196.7h0M66.5 208.6h0M66.9 198.1h0M65.6 204.6h0M65.8 198.4h0M65.5 196.9h0M66.1 198.5h0M66.6 207.7h0M65.9 210.6h0M67.1 197.1h0M65.5 204.7h0M65.9 197.3h0M66.9 210.3h0M66.4 203.6h0M66.3 205.1h0M66.3 201.9h0M66.8 205.5h0M65.7 206.6h0M66.8 205.1h0M65.8 205.9h0M66.6 199.4h0M67.0 203.5h0M66.0 205.4h0M66.7 199.2h0M65.6 204.9h0M65.5 199.7h0M65.9 212.2h0M66.4 201.1h0M107.4 177.5h0M124.9 176.4h0M109.6 170.0h0M116.4 180.0h0M105.4 184.8h0M98.2 193.8h0M103.7 190.1h0M104.6 181.1h0M122.1 182.1h0M120.7 190.8h0M112.3 178.5h0M97.7 181.6h0M120.0 172.4h0M106.9 191.9h0M92.3 202.1h0M119.2 179.0h0M123.2 174.6h0M113.8 192.1h0M109.5 186.8h0M120.7 177.5h0M122.9 181.1h0M105.4 187.7h0M125.6 186.7h0M115.0 175.5h0M104.9 171.4h0M110.3 187.5h0M114.2 170.4h0M114.0 181.9h0M108.1 195.1h0M118.9 187.4h0M115.8 173.4h0M124.8 184.6h0M109.6 173.7h0M122.3 173.4h0M104.3 185.5h0M119.9 173.1h0M115.2 188.3h0M121.4 191.2h0M123.3 176.5h0M109.6 179.8h0M133.8 172.1h0M106.0 197.9h0M113.1 169.4h0M105.4 201.3h0M119.8 181.4h0M122.7 170.0h0M122.9 175.2h0M119.7 180.5h0M102.2 191.9h0M136.4 174.9h0M113.4 186.8h0M103.9 187.0h0M99.6 189.2h0M121.5 190.6h0M110.3 190.2h0M112.4 168.5h0M106.9 188.1h0M96.4 187.6h0M121.5 188.7h0M92.2 194.7h0M105.7 189.9h0M114.7 186.4h0M112.2 187.3h0M106.0 178.0h0M113.4 168.8h0M126.1 173.9h0M106.0 178.9h0M106.1 186.2h0M111.6 189.1h0M104.4 185.5h0M101.2 184.1h0M127.2 174.3h0M123.0 176.8h0M105.0 179.2h0M104.7 188.5h0M117.0 202.0h0M130.0 180.2h0M106.0 186.1h0M106.6 202.6h0M108.3 192.9h0M102.6 192.6h0M103.8 182.9h0M116.4 181.4h0M114.3 180.9h0M107.1 184.0h0M114.2 174.4h0M120.0 180.0h0M108.0 194.1h0M109.7 169.3h0M126.3 172.8h0M128.2 178.0h0M106.8 193.3h0M119.1 186.0h0M115.2 192.6h0M123.3 174.6h0M101.2 187.2h0M115.5 173.4h0M113.1 193.1h0M110.6 191.5h0M106.4 177.8h0M123.4 175.8h0M116.8 187.9h0M120.2 180.3h0M116.2 193.9h0M112.7 177.7h0M118.2 172.8h0M117.8 174.1h0M119.5 177.1h0M108.4 188.2h0M103.1 184.7h0M111.4 192.7h0M129.2 177.9h0M124.8 173.9h0M102.4 189.3h0M98.9 200.9h0M117.2 188.7h0M109.0 171.8h0M113.0 185.6h0M112.9 178.2h0M115.5 179.3h0M94.7 189.9h0M117.3 168.4h0M114.5 184.6h0M117.9 181.9h0M108.0 173.5h0M123.5 174.4h0M102.4 198.7h0M138.3 171.1h0M100.2 195.2h0M117.8 189.0h0M114.9 168.6h0M113.3 178.6h0M117.4 178.5h0M119.9 169.5h0M109.8 179.6h0M114.8 199.0h0M98.4 196.6h0M115.7 188.1h0M115.3 182.8h0M118.1 183.0h0M103.9 185.3h0M131.4 183.9h0M107.1 177.6h0M113.2 189.8h0M123.1 172.7h0M93.2 191.0h0M99.7 197.2h0M128.3 179.8h0M120.2 182.8h0M131.5 181.3h0M110.1 183.3h0M94.5 188.5h0M114.6 180.7h0M137.8 168.7h0M113.0 181.0h0M111.7 171.9h0M125.0 176.4h0M118.1 179.8h0M107.7 172.5h0M112.2 186.3h0M113.7 187.1h0M107.6 182.3h0M116.1 179.7h0M116.4 191.1h0M111.0 183.9h0M108.8 188.0h0M116.8 174.6h0M105.6 176.4h0M112.2 183.5h0M110.3 182.4h0M116.0 198.2h0M125.5 193.5h0M116.0 182.1h0M132.5 175.6h0M120.7 174.5h0M109.8 189.3h0M109.3 178.7h0M101.2 189.8h0M113.9 185.6h0M106.8 175.5h0M124.8 176.5h0M121.9 169.1h0M117.5 187.3h0M126.8 188.7h0M98.1 180.8h0M109.9 177.4h0M112.8 176.0h0M101.4 187.1h0M115.9 174.8h0M115.0 171.2h0M111.7 180.0h0M110.6 182.5h0M103.2 176.5h0M107.2 190.2h0M106.1 178.2h0M132.8 170.6h0M111.2 176.1h0M128.1 178.7h0M117.1 192.0h0M103.9 173.6h0M124.8 179.6h0M110.0 189.3h0M113.9 196.2h0M103.2 189.3h0M123.6 183.6h0M111.4 179.7h0M110.7 188.2h0M111.0 181.8h0M124.1 175.8h0M116.9 179.1h0M106.1 187.9h0M108.9 179.2h0M115.2 198.1h0M107.8 177.2h0M98.3 192.3h0M114.2 175.0h0M111.0 190.3h0M124.0 179.5h0M125.3 183.7h0M110.5 189.1h0M116.1 186.2h0M117.2 196.0h0M103.2 189.3h0M104.8 203.3h0M110.0 180.6h0M114.5 180.9h0M130.3 173.3h0M117.0 188.1h0M117.5 169.8h0M119.2 189.7h0M109.9 181.3h0M125.6 179.3h0M122.1 174.2h0M111.8 179.7h0M110.0 195.1h0M114.1 173.1h0M116.8 178.4h0M113.6 185.4h0M116.5 191.6h0M102.4 186.2h0M104.1 191.2h0M107.0 182.2h0M110.9 186.4h0M102.7 176.2h0M116.4 190.6h0M110.1 186.4h0M117.1 180.8h0M114.5 177.0h0M112.4 191.3h0M118.8 188.9h0M108.0 185.2h0M108.8 173.9h0M122.9 175.1h0M116.9 169.3h0M112.4 181.3h0M111.1 190.5h0M118.9 180.1h0M116.8 176.7h0M108.2 182.1h0M105.4 184.2h0M113.6 190.2h0M110.7 201.5h0M109.9 184.4h0M114.4 176.6h0M114.1 167.9h0M124.9 171.9h0M119.8 168.9h0M108.0 189.3h0M99.3 200.7h0M110.7 188.3h0M111.1 194.3h0M108.1 185.5h0M125.2 187.4h0M116.8 184.5h0M111.6 182.1h0M109.4 186.6h0M122.3 169.8h0M104.0 186.5h0M132.9 174.2h0M115.8 180.2h0M99.4 182.9h0M133.2 192.4h0M128.3 173.6h0M120.0 174.4h0M110.5 184.6h0M86.0 199.0h0M111.8 174.2h0M112.1 187.3h0M107.6 187.2h0M102.4 187.6h0M104.1 192.0h0M105.1 190.3h0M96.5 191.1h0M124.6 170.0h0M115.1 174.3h0M119.0 184.8h0M125.1 186.4h0M126.5 169.9h0M115.7 184.7h0M116.4 170.2h0M133.1 191.9h0M131.2 171.8h0M119.4 184.9h0M101.5 184.8h0M119.1 184.1h0M92.9 194.2h0M118.2 186.6h0M105.7 173.1h0M117.1 176.5h0M113.7 180.0h0M113.5 184.0h0M109.8 183.2h0M109.5 176.9h0M117.8 173.2h0M119.5 178.6h0M124.4 181.0h0M96.4 189.6h0M120.6 179.1h0M115.0 189.3h0M115.5 188.4h0M116.0 170.6h0M121.7 182.4h0M125.1 177.5h0M115.6 187.2h0M104.6 199.1h0M118.3 181.1h0M121.5 183.9h0M94.5 197.8h0M113.6 175.5h0M122.8 184.5h0M118.1 174.7h0M115.6 173.3h0M122.6 189.9h0M106.8 180.7h0M94.2 188.9h0M102.5 188.0h0M112.6 182.2h0M114.9 177.3h0M115.6 180.1h0M108.1 181.8h0M109.4 173.6h0M119.4 178.6h0M116.1 189.3h0M123.3 173.6h0M117.8 188.8h0M113.2 184.7h0M118.4 171.3h0M117.2 176.9h0M112.2 185.6h0M120.5 171.3h0M112.3 180.7h0M105.9 188.1h0M112.7 176.5h0M123.1 176.4h0M104.0 185.4h0M112.9 184.2h0M135.1 175.6h0M127.7 173.6h0M118.9 182.9h0M113.6 183.5h0M110.5 188.4h0M106.3 198.2h0M80.7 186.4h0M113.4 184.5h0M115.9 168.0h0M118.5 172.5h0M116.4 177.0h0M112.1 170.5h0M102.7 182.5h0M104.9 187.6h0M101.9 188.8h0M119.6 173.0h0M105.9 182.6h0M121.7 188.5h0M134.2 172.5h0M120.2 179.9h0M114.4 172.9h0M111.4 191.3h0M127.1 170.5h0M99.9 202.7h0M114.9 184.5h0M113.0 167.9h0M117.4 172.3h0M112.0 177.5h0M112.2 200.8h0M100.5 183.9h0M108.5 190.0h0M128.8 168.7h0M119.8 177.1h0M96.6 198.7h0M120.3 174.4h0M113.7 178.0h0M113.3 182.1h0M109.0 185.9h0M102.8 193.0h0M105.9 170.9h0M122.1 174.9h0M109.7 190.5h0M114.3 196.3h0M118.4 168.2h0M110.0 178.1h0M111.9 195.4h0M139.3 182.7h0M118.7 183.4h0M127.2 190.5h0M109.8 183.2h0M108.1 182.6h0M106.7 176.1h0M120.5 170.6h0M116.8 185.2h0M105.7 178.9h0M104.8 190.1h0M117.3 187.7h0M101.5 180.1h0M113.5 178.2h0M117.4 188.5h0M115.8 174.4h0M114.2 175.7h0M108.6 198.3h0M120.7 192.3h0M112.6 181.5h0M103.1 188.4h0M121.2 183.3h0M104.0 187.0h0M123.0 173.5h0M121.0 174.2h0M114.5 176.6h0M101.1 181.1h0M116.1 178.2h0M114.5 176.7h0M122.6 175.9h0M118.2 175.7h0M126.5 174.7h0M118.5 196.3h0M108.5 186.5h0M102.6 175.4h0M113.5 169.4h0M124.5 179.8h0M111.7 191.8h0M108.4 174.9h0M122.8 177.4h0M112.5 190.1h0M113.3 186.7h0M116.6 189.1h0M119.6 175.1h0M128.3 171.9h0M119.3 189.2h0M111.0 186.5h0M112.6 193.2h0M117.7 182.4h0M120.9 179.2h0M126.4 175.7h0M120.1 178.1h0M105.6 181.5h0M113.0 171.6h0M114.2 177.7h0M131.2 171.4h0M115.8 181.3h0M98.8 200.9h0M107.0 177.8h0M125.3 178.4h0M107.3 190.3h0M104.3 198.6h0M111.8 185.1h0M114.6 196.0h0M105.9 184.5h0M110.2 185.4h0M112.7 185.5h0M108.7 194.1h0M119.6 186.5h0M108.5 177.3h0M104.4 184.4h0M104.2 191.5h0M108.4 188.1h0M100.4 194.7h0M120.8 185.5h0M117.1 197.7h0M123.5 177.3h0M129.3 171.4h0M116.1 193.1h0M110.5 183.1h0M117.0 181.5h0M112.6 189.9h0M134.3 168.8h0M101.3 183.8h0M102.1 177.3h0M105.3 193.8h0M116.1 185.9h0M113.7 189.5h0M111.0 192.9h0M122.7 179.0h0M101.3 178.9h0M117.1 171.9h0M113.2 180.6h0M127.2 169.9h0M115.9 177.0h0M107.8 187.7h0M128.3 191.9h0M116.1 184.4h0M105.2 182.5h0M117.5 179.1h0M127.2 168.4h0M112.5 186.2h0M114.0 179.5h0M113.7 184.7h0M97.2 209.4h0M121.5 169.8h0M106.5 176.3h0M101.9 203.0h0M114.7 184.9h0M113.0 179.9h0M117.1 174.3h0M111.6 182.1h0M98.0 193.8h0M116.6 184.5h0M109.3 189.4h0M110.5 189.1h0M127.0 180.1h0M101.6 187.9h0M105.3 200.5h0M116.5 170.4h0M100.9 197.8h0M105.6 188.6h0M111.7 181.4h0M110.7 183.1h0M119.4 182.6h0M108.6 175.6h0M106.6 189.4h0M116.2 188.3h0M118.1 180.4h0M114.9 182.8h0M115.2 186.1h0M106.9 193.1h0M129.5 173.4h0M119.9 169.6h0M115.7 169.7h0M123.8 177.2h0M124.5 185.1h0M108.1 190.5h0M128.8 191.5h0M113.8 185.7h0M109.0 188.7h0M120.2 189.7h0M113.4 182.2h0M119.3 177.7h0M99.2 184.6h0M121.1 178.3h0M120.2 182.7h0M129.6 180.4h0M109.1 178.1h0M104.5 182.3h0M113.8 191.1h0M129.8 174.5h0M120.2 177.3h0M103.0 190.8h0M108.1 171.9h0M107.1 196.1h0M104.2 196.5h0M102.3 186.5h0M119.4 175.9h0M105.9 185.3h0M130.0 178.9h0M116.6 184.6h0M125.6 186.2h0M112.3 175.6h0M105.8 185.8h0M112.0 182.5h0M109.1 202.8h0M108.4 195.0h0M106.9 178.8h0M104.1 177.9h0M99.9 181.9h0M112.6 187.5h0M98.5 192.2h0M113.7 181.6h0M95.1 194.1h0M120.9 187.0h0M112.1 191.8h0M115.4 173.8h0M119.5 186.3h0M116.9 179.9h0M112.5 187.3h0M98.3 191.2h0M103.0 182.7h0M116.6 189.7h0M114.6 174.1h0M139.6 171.8h0M90.0 192.1h0M108.0 179.7h0M124.4 192.8h0M115.7 170.5h0M122.7 178.1h0M111.0 184.5h0M104.2 187.6h0M118.0 188.7h0M118.2 173.5h0M115.9 189.4h0M120.7 176.1h0M131.2 180.1h0M126.0 176.4h0M127.0 174.2h0M122.8 177.6h0M114.7 169.3h0M123.8 181.2h0M109.0 184.3h0M120.3 183.4h0M95.7 201.5h0M105.3 200.1h0M125.3 177.2h0M116.7 182.4h0M111.0 194.5h0M108.6 180.0h0M112.6 170.0h0M128.7 181.7h0M112.0 179.0h0M122.1 170.8h0M115.2 182.5h0M123.7 181.2h0M122.9 168.8h0M82.6 192.7h0M123.7 178.2h0M128.2 191.3h0M108.3 181.1h0M91.5 194.2h0M117.8 191.3h0M121.6 177.6h0M109.5 169.6h0M119.6 174.1h0M111.2 185.3h0M95.8 189.5h0M109.0 199.2h0M113.7 190.3h0M105.6 173.3h0M123.0 174.5h0M102.3 195.3h0M112.6 197.5h0M115.8 170.2h0M107.0 195.5h0M128.8 179.8h0M100.7 194.2h0M107.1 180.9h0M110.1 191.7h0M119.6 183.3h0M110.6 179.1h0M124.9 171.6h0M112.2 186.7h0M113.1 189.6h0M120.1 183.6h0M108.5 177.9h0M121.4 187.8h0M124.8 174.9h0M123.0 169.9h0M120.9 173.0h0M119.3 171.5h0M118.6 193.5h0M118.3 168.7h0M107.4 185.7h0M106.2 172.5h0M131.4 175.5h0M117.9 176.2h0M132.9 177.1h0M113.8 191.1h0M120.3 176.3h0M111.4 182.8h0M99.2 193.8h0M124.8 187.8h0M122.5 178.8h0M105.3 173.0h0M100.2 188.5h0M102.6 189.7h0M113.3 186.8h0M123.0 170.0h0M111.3 188.6h0M108.7 192.0h0M120.4 185.5h0M109.2 190.0h0M112.8 183.8h0M120.7 173.8h0M108.3 189.1h0M104.6 169.2h0M101.3 185.1h0M121.1 182.3h0M101.4 190.6h0M103.3 195.2h0M118.5 174.3h0M110.4 182.5h0M109.3 192.9h0M117.6 175.2h0M119.0 168.2h0M116.3 177.8h0M109.4 183.1h0M116.9 168.5h0M118.2 202.9h0M122.2 172.8h0M118.1 192.6h0M104.7 199.0h0M111.5 197.7h0M107.1 193.0h0M109.5 193.5h0M123.1 179.8h0M107.0 193.0h0M118.3 170.8h0M120.0 177.3h0M113.7 173.8h0M116.7 187.0h0M107.0 191.2h0M97.9 189.9h0M117.2 172.3h0M116.2 169.9h0M132.1 176.0h0M124.9 168.9h0M93.9 190.3h0M127.1 173.9h0M125.5 179.2h0M117.8 188.0h0M109.3 180.4h0M124.9 179.9h0M109.8 174.8h0M123.2 175.9h0M102.9 189.9h0M119.1 197.1h0M106.2 191.1h0M110.3 182.7h0M114.0 192.8h0M117.8 178.4h0M108.9 191.8h0M108.4 187.3h0M118.6 185.2h0M121.9 179.9h0M132.7 178.8h0M107.9 177.1h0M108.4 194.6h0M104.8 198.2h0M118.6 174.5h0M105.7 184.6h0M121.6 177.2h0M121.3 179.3h0M127.0 171.4h0M113.6 172.6h0M111.9 174.5h0M101.1 185.8h0M103.3 175.4h0M118.1 184.0h0M117.7 178.2h0M107.8 185.8h0M107.0 182.9h0M118.4 177.3h0M100.5 195.8h0M109.7 179.7h0M109.8 182.9h0M113.3 184.6h0M123.1 191.8h0M95.7 189.2h0M106.8 186.5h0M105.7 185.9h0M117.2 179.6h0M116.8 185.3h0M105.3 185.2h0M124.1 184.0h0M123.5 170.3h0M108.8 191.7h0M114.8 183.4h0M111.6 189.8h0M116.3 172.5h0M118.1 176.7h0M112.4 186.7h0M116.1 175.9h0M104.3 182.5h0M113.5 172.2h0M109.2 202.1h0M109.0 184.3h0M103.7 183.7h0M117.0 181.3h0M99.6 188.5h0M106.0 193.8h0M113.8 194.0h0M118.0 170.3h0M123.2 173.2h0M113.8 182.3h0M103.2 195.8h0M116.1 172.3h0M102.5 190.5h0M125.6 179.1h0M117.5 176.4h0M124.5 180.7h0M107.6 179.6h0M95.5 199.3h0M118.6 185.3h0M112.8 198.9h0M105.7 178.7h0M129.2 181.5h0M121.5 177.1h0M114.3 182.4h0M118.5 174.5h0M124.0 190.5h0M110.0 175.8h0M115.8 200.0h0M106.2 195.8h0M108.7 178.0h0M124.4 175.2h0M114.3 186.9h0M124.8 178.2h0M128.6 169.2h0M110.1 188.7h0M111.9 187.9h0M113.3 196.0h0M100.6 189.4h0M107.2 172.1h0M112.6 181.6h0M111.0 177.9h0M122.4 169.3h0M109.2 172.7h0M114.3 194.2h0M105.2 196.0h0M103.1 183.0h0M119.7 181.5h0M117.7 182.2h0M108.6 191.0h0M101.6 181.9h0M136.6 181.4h0M119.3 179.7h0M113.2 174.9h0M106.9 177.1h0M103.3 187.6h0M118.5 172.0h0M115.9 170.2h0M118.1 177.1h0M114.1 183.0h0M126.4 177.3h0M108.9 185.2h0M118.3 183.7h0M124.1 170.3h0M104.0 191.2h0M104.6 189.6h0M139.1 179.5h0M101.6 181.0h0M118.2 177.3h0M121.0 180.2h0M117.7 184.2h0M100.7 196.9h0M102.0 180.3h0M93.1 191.5h0M118.3 176.6h0M104.0 169.1h0M119.7 169.7h0M111.4 184.7h0M114.1 184.7h0M129.6 179.8h0M105.6 185.2h0M112.7 175.4h0M120.6 175.4h0M116.8 185.3h0M121.2 195.1h0M129.1 176.8h0M108.1 185.7h0M109.1 180.6h0M99.2 186.3h0M96.7 197.6h0M119.4 175.8h0M115.0 182.1h0M112.4 184.6h0M113.1 185.6h0M107.4 185.3h0M107.5 192.2h0M100.7 201.4h0M98.6 198.6h0M102.9 192.6h0M100.5 197.2h0M100.5 197.1h0M113.1 183.4h0M103.5 200.2h0M105.9 186.4h0M129.5 170.9h0M103.9 182.7h0M100.6 201.4h0M132.9 173.4h0M107.8 195.8h0M98.4 189.8h0M119.8 180.8h0M96.4 191.1h0M96.1 195.9h0M109.6 190.3h0M100.9 190.9h0M98.8 197.7h0M99.6 193.2h0M125.5 172.3h0M123.9 173.0h0M114.3 184.6h0M127.2 175.2h0M97.7 193.7h0M98.4 199.0h0M103.0 191.1h0M118.8 178.6h0M99.9 201.3h0M107.8 196.5h0M101.2 195.0h0M122.3 177.8h0M99.9 192.6h0M120.3 177.5h0M95.7 193.8h0M96.8 194.1h0M115.8 186.7h0M124.5 174.1h0M106.0 185.0h0M112.6 186.3h0M109.3 188.0h0M105.8 192.3h0M101.1 191.4h0M97.7 192.0h0M94.2 192.6h0M101.9 190.2h0M116.7 175.6h0M97.7 195.5h0M124.3 171.6h0M101.1 198.8h0M107.9 180.6h0M97.1 194.5h0M127.8 176.9h0M96.6 193.7h0M109.6 189.5h0M119.1 183.2h0M97.4 197.2h0M104.9 186.4h0M114.6 177.6h0M98.5 196.5h0M98.6 195.6h0M111.6 183.3h0M113.6 180.9h0M104.9 189.5h0M106.4 193.2h0M97.1 196.2h0M109.4 185.0h0M130.5 174.6h0M95.0 191.1h0M123.2 180.1h0M100.4 194.5h0M116.5 185.0h0M107.1 188.9h0M100.6 194.1h0M127.4 173.2h0M102.6 196.1h0M121.1 185.8h0M122.4 181.0h0M103.2 188.9h0M119.5 176.6h0M112.1 185.5h0M105.4 191.2h0M116.9 173.2h0M94.9 194.1h0M96.1 196.0h0M103.9 198.4h0M99.1 195.5h0M99.4 197.3h0M114.3 181.3h0M113.8 183.0h0M98.4 194.5h0M121.4 175.6h0M108.3 190.7h0M95.9 195.9h0M128.1 166.2h0M99.6 191.2h0M120.4 169.8h0M108.4 193.4h0M109.2 186.2h0M111.2 187.8h0M109.4 191.4h0M119.0 176.6h0M131.1 169.6h0M97.9 197.9h0M134.0 172.4h0M103.0 185.9h0M101.6 198.0h0M123.9 181.6h0M131.0 173.7h0M111.7 185.9h0M123.2 180.0h0M102.1 197.1h0M96.4 195.4h0M117.4 181.0h0M93.7 193.1h0M98.3 186.4h0M97.5 197.1h0M103.1 188.7h0M107.9 193.5h0M98.9 190.1h0M97.1 197.4h0M101.4 193.5h0M104.1 194.9h0M98.3 191.6h0M101.7 198.1h0M132.1 173.4h0M118.3 182.4h0M113.4 183.3h0M118.5 183.9h0M104.6 194.3h0M93.7 190.6h0M115.2 183.7h0M129.7 177.6h0M114.4 186.5h0M99.2 192.4h0M107.4 185.7h0M101.7 197.3h0M98.1 194.4h0M98.7 194.3h0M96.7 196.1h0M99.2 192.9h0M122.4 172.9h0M101.4 192.9h0M108.3 189.0h0M95.8 193.8h0M97.7 194.8h0M127.0 169.6h0M98.7 194.6h0M98.5 191.6h0M116.4 180.9h0M106.8 192.2h0M109.8 197.9h0M106.8 195.7h0M103.5 193.7h0M99.3 196.9h0M94.2 193.1h0M123.5 175.0h0M101.1 196.1h0M93.7 192.7h0M99.9 197.2h0M122.5 185.8h0M97.0 197.0h0M113.9 186.6h0M108.4 195.8h0M99.2 192.4h0M98.2 191.6h0M121.1 178.6h0M100.4 198.1h0M101.6 189.2h0M129.5 168.0h0M134.2 174.7h0M129.0 177.2h0M119.8 179.1h0M122.7 176.0h0M130.7 175.8h0M119.2 177.5h0M100.8 200.9h0M102.0 189.8h0M95.9 196.1h0M108.1 183.8h0M96.2 193.4h0M99.5 200.1h0M97.5 198.0h0M96.8 192.9h0M115.4 182.9h0M95.6 193.5h0M98.4 195.3h0M132.7 179.9h0M97.6 191.9h0M95.3 195.2h0M98.1 187.4h0M101.8 195.1h0M108.6 183.0h0M113.0 177.0h0M109.1 186.7h0M120.5 184.0h0M127.7 174.0h0M105.9 188.2h0M126.9 169.3h0M96.8 196.5h0M126.7 176.9h0M132.7 171.1h0M101.2 196.9h0M111.3 185.2h0M121.5 175.2h0M103.6 187.8h0M105.7 190.3h0M102.0 203.9h0M102.0 195.8h0M104.1 195.2h0M97.0 196.4h0M123.1 172.2h0M102.6 196.2h0M98.3 197.3h0M112.3 192.4h0M114.0 183.3h0M112.5 179.6h0M99.5 196.8h0M125.8 179.3h0M99.9 196.1h0M114.2 176.0h0M100.0 200.0h0M101.8 198.8h0M94.0 193.4h0M121.2 175.3h0M115.3 179.7h0M127.9 171.2h0M99.2 193.2h0M110.7 187.1h0M113.5 180.2h0M96.6 196.7h0M116.4 189.2h0M113.2 186.5h0M123.2 173.2h0M97.5 190.4h0M127.6 169.1h0M102.0 190.3h0M122.2 174.2h0M110.1 183.0h0M122.0 180.8h0M131.1 170.9h0M97.5 190.2h0M123.5 179.6h0M101.2 191.9h0M108.9 192.7h0M103.8 191.5h0M129.6 172.8h0M104.8 196.1h0M95.9 194.6h0M97.4 194.6h0M98.3 197.9h0M118.4 178.2h0M108.0 188.7h0M116.3 184.6h0M97.1 192.9h0M94.7 194.2h0M132.0 167.6h0M102.1 198.0h0M116.7 183.7h0M99.2 194.8h0M125.3 178.2h0M110.1 186.4h0M101.8 197.2h0M98.5 199.3h0M98.3 189.5h0M103.6 194.9h0M115.6 181.4h0M127.1 171.6h0M104.8 198.0h0M133.1 171.2h0M117.0 183.8h0M98.3 187.8h0M99.2 197.5h0M98.1 193.7h0M104.6 189.1h0M97.1 192.7h0M94.6 194.0h0M122.4 181.0h0M120.1 178.0h0M105.3 199.2h0M113.5 178.1h0M103.4 190.5h0M127.3 176.2h0M128.1 170.9h0M97.4 187.3h0M89.5 186.8h0M112.2 187.4h0M122.3 175.1h0M105.2 187.2h0M95.6 189.6h0M131.9 177.3h0M111.5 184.9h0M111.7 182.1h0M132.4 180.4h0M100.8 199.3h0M98.9 199.7h0M118.5 181.2h0M102.8 199.3h0M96.5 194.7h0M121.1 180.2h0M100.0 201.1h0M119.6 176.0h0M99.6 200.2h0M106.4 187.9h0M105.3 192.2h0M137.0 177.2h0M103.2 194.6h0M122.8 179.6h0M109.7 182.1h0M128.2 166.0h0M107.9 191.2h0M102.7 194.9h0M130.6 171.4h0M120.4 183.2h0M100.6 202.1h0M120.5 186.1h0M127.6 172.0h0M115.4 181.7h0M124.6 166.7h0M103.7 193.7h0M99.1 199.0h0M122.5 167.0h0M99.8 199.8h0M104.2 188.2h0M115.5 180.4h0M104.3 200.1h0M109.6 189.0h0M101.8 193.7h0M100.1 192.6h0M108.8 191.5h0M103.8 187.3h0M114.4 187.4h0M97.7 194.6h0M109.9 189.3h0M115.3 185.4h0M105.5 190.5h0M132.0 170.6h0M122.2 174.2h0M104.5 187.1h0M136.6 177.2h0M113.3 183.9h0M115.4 185.7h0M106.4 188.4h0M108.8 185.3h0M113.2 189.7h0M126.7 170.1h0M109.8 188.2h0M97.2 197.7h0M126.1 175.0h0M125.4 175.5h0M110.5 183.3h0M95.5 193.0h0M114.4 182.4h0M100.0 199.7h0M132.4 167.6h0M96.7 196.0h0M129.5 164.5h0M97.5 192.4h0M120.0 187.5h0M96.1 194.8h0M120.4 177.0h0M97.0 196.1h0M96.0 193.4h0M101.3 196.7h0M126.7 164.6h0M98.9 199.8h0M101.6 189.4h0M96.3 196.3h0M96.6 192.0h0M113.0 193.7h0M126.5 179.5h0M119.2 182.8h0M106.7 189.4h0M133.2 174.5h0M95.7 194.4h0M104.7 186.0h0M99.8 193.0h0M98.7 194.6h0M132.7 172.9h0M99.8 198.0h0M103.2 203.8h0M94.7 194.3h0M115.7 186.1h0M125.7 175.8h0M121.4 178.1h0M96.2 191.4h0M95.1 193.3h0M110.9 190.3h0M112.4 183.4h0M119.0 178.9h0M116.6 183.6h0M98.9 199.9h0M108.4 186.1h0M95.7 193.4h0M113.4 183.5h0M96.6 195.9h0M122.5 182.8h0M119.1 190.1h0M104.5 192.9h0M117.0 189.8h0M102.2 192.2h0M97.5 191.5h0M97.6 196.2h0M112.6 186.5h0M111.1 183.9h0M109.8 189.2h0M101.7 201.5h0M124.2 184.3h0M102.2 197.0h0M114.4 180.4h0M117.3 176.1h0M97.7 191.0h0M117.8 183.2h0M102.3 189.2h0M99.5 199.7h0M106.4 184.5h0M103.5 195.7h0M96.3 196.2h0M95.3 194.6h0M99.1 200.0h0M97.0 195.3h0M94.9 194.2h0M96.1 196.0h0M106.3 184.2h0M97.2 196.4h0M96.6 197.0h0M107.6 188.7h0M105.2 194.2h0M96.0 193.7h0M98.5 197.1h0M109.9 184.3h0M101.7 192.0h0M114.2 187.7h0M101.6 191.3h0M125.9 178.4h0M132.4 170.6h0M99.7 187.6h0M114.8 177.5h0M94.2 187.8h0M93.5 192.9h0M101.1 193.2h0M132.8 171.7h0M127.2 179.8h0M130.2 166.5h0M100.0 199.1h0M109.7 192.2h0M111.4 191.6h0M99.3 200.1h0M124.2 175.5h0M126.5 170.6h0M114.0 181.6h0M107.3 189.2h0M119.6 180.0h0M127.8 172.4h0M121.2 173.4h0M101.1 192.4h0M129.9 179.3h0M106.9 183.6h0M103.0 191.3h0M107.1 194.4h0M122.9 179.7h0M101.4 191.5h0M112.4 178.6h0M95.7 192.4h0M127.2 176.0h0M97.8 198.5h0M121.8 179.8h0M96.3 193.9h0M115.5 182.1h0M104.3 190.6h0M129.3 177.6h0M121.9 171.4h0M128.1 171.9h0M114.0 178.6h0M95.1 193.4h0M110.0 186.6h0M99.5 199.9h0M96.8 189.2h0M132.0 169.6h0M129.4 166.8h0M100.9 188.5h0M96.4 195.0h0M112.7 191.0h0M98.1 197.4h0M132.9 176.1h0M101.0 184.9h0M117.7 180.1h0M111.2 178.5h0M100.6 192.1h0M98.0 198.5h0M94.4 192.9h0M127.6 169.1h0M97.6 197.5h0M99.0 197.7h0M107.1 182.9h0M106.3 185.2h0M135.1 173.9h0M96.8 196.3h0M119.2 187.4h0M121.9 180.9h0M107.8 192.0h0M95.6 195.6h0M106.8 188.4h0M123.7 185.1h0M121.2 184.0h0M105.3 196.0h0M106.6 193.3h0M130.7 165.6h0M102.5 193.8h0M96.7 194.6h0M108.3 189.9h0M99.1 194.0h0M111.1 177.9h0M103.8 198.5h0M104.9 193.2h0M134.2 173.0h0M126.7 178.4h0M99.9 192.1h0M97.7 198.4h0M128.1 166.8h0M98.9 200.1h0M123.5 168.8h0M101.3 194.2h0M97.3 192.4h0M102.3 193.9h0M98.7 196.4h0M97.9 196.3h0M100.4 197.5h0M107.2 183.7h0M95.0 194.2h0M131.6 180.3h0M125.3 171.5h0M102.0 197.8h0M110.7 180.9h0M96.3 196.2h0M98.9 194.4h0M103.6 196.9h0M100.4 188.8h0M102.6 192.8h0M99.6 189.5h0M117.0 179.1h0M114.2 186.8h0M114.6 186.3h0M119.6 185.5h0M109.5 183.6h0M111.6 185.2h0M105.4 196.0h0M102.7 194.4h0M136.6 177.4h0M100.3 192.8h0M123.0 177.1h0M101.0 195.7h0M106.6 187.1h0M112.0 177.9h0M115.4 177.7h0M105.0 187.5h0M107.0 192.1h0M124.6 179.5h0M116.4 182.8h0M98.0 197.4h0M124.5 172.3h0M100.0 195.7h0M97.6 188.1h0M110.7 188.1h0M105.5 180.4h0M131.1 179.8h0M95.4 190.9h0M103.6 187.5h0M95.5 194.2h0M112.6 189.7h0M97.2 194.2h0M102.9 196.1h0M96.0 195.3h0M99.5 192.7h0M106.5 188.6h0M105.8 188.4h0M97.1 193.8h0M107.1 191.5h0M106.0 195.0h0M125.4 177.5h0M102.7 197.3h0M99.5 198.6h0M110.0 191.1h0M111.9 184.9h0M131.0 169.6h0M129.6 172.1h0M122.4 180.2h0M96.0 195.3h0M130.0 169.0h0M96.6 194.9h0M97.7 196.5h0M117.3 182.1h0M132.1 167.9h0M97.5 195.6h0M101.3 196.7h0M115.0 190.9h0M122.6 178.1h0M130.2 170.4h0M99.8 193.0h0M100.2 199.8h0M115.8 180.3h0M119.7 179.7h0M93.1 188.7h0M100.0 188.9h0M107.8 189.7h0M98.5 193.2h0M99.9 200.6h0M124.8 179.6h0M126.8 176.6h0M97.1 193.9h0M97.3 196.3h0M113.7 187.8h0M127.1 171.5h0M99.8 191.0h0M94.6 190.9h0M117.3 180.7h0M99.8 198.9h0M126.6 173.4h0M126.1 179.0h0M101.6 188.3h0M119.6 177.2h0M106.6 191.9h0M132.3 168.1h0M97.7 198.4h0M123.6 172.0h0M101.0 200.0h0M106.1 193.9h0M101.9 196.4h0M96.6 192.4h0M109.9 186.0h0M107.8 187.9h0M113.0 188.2h0M107.1 197.6h0M108.8 186.1h0M134.4 172.7h0M101.7 190.1h0M104.4 192.0h0M105.2 200.3h0M96.7 194.7h0M122.3 182.7h0M127.9 169.6h0M103.3 198.5h0M113.4 180.6h0M105.1 189.1h0M93.5 189.4h0M96.3 196.4h0M126.6 173.3h0M125.5 177.5h0M104.8 191.0h0M96.7 196.5h0M96.4 195.3h0M101.0 198.4h0M132.1 177.6h0M115.5 181.4h0M96.7 192.8h0M99.4 196.7h0M100.9 194.8h0M111.8 190.6h0M108.4 190.6h0M102.9 196.2h0M125.4 177.5h0M117.7 180.3h0M96.6 193.7h0M121.8 182.2h0M103.7 194.2h0M100.2 197.9h0M110.8 187.6h0M108.5 190.6h0M128.6 167.4h0M98.6 194.3h0M99.6 198.6h0M98.4 191.6h0M100.7 194.0h0M119.6 178.5h0M104.5 181.7h0M106.8 181.5h0M99.0 189.8h0M121.0 171.4h0M120.4 178.8h0M98.8 191.6h0M96.9 194.4h0M105.1 194.5h0M97.1 195.7h0M112.7 179.2h0M98.1 197.0h0M105.7 185.0h0M107.2 190.9h0M110.4 188.8h0M96.8 196.9h0M102.7 193.4h0M119.0 181.0h0M124.8 178.6h0M99.0 195.5h0M104.0 193.3h0M103.4 191.9h0M109.0 189.0h0M118.2 184.5h0M116.2 184.2h0M98.8 189.2h0M100.7 200.3h0M121.6 178.9h0M114.6 180.1h0M95.6 195.3h0M106.7 192.2h0M120.7 181.3h0M114.0 190.6h0M114.7 178.2h0M131.5 174.8h0M115.7 188.5h0M111.1 189.9h0M129.3 175.9h0M120.1 186.1h0M95.5 194.9h0M105.7 194.1h0M104.2 185.8h0M104.1 188.3h0M103.6 194.4h0M105.2 188.6h0M97.6 195.1h0M110.7 182.1h0M107.1 187.0h0M104.1 195.1h0M108.6 188.1h0M99.5 192.1h0M103.5 189.8h0M95.6 195.4h0M114.1 187.9h0M121.6 181.8h0M100.2 195.7h0M109.8 195.4h0M114.8 178.0h0M126.6 168.5h0M97.7 196.3h0M117.1 181.1h0M102.0 198.5h0M104.5 184.3h0M110.8 191.8h0M119.5 179.6h0M110.8 191.4h0M100.9 193.2h0M98.1 196.5h0M100.6 191.8h0M114.4 178.6h0M98.1 198.0h0M102.3 202.4h0M96.1 193.1h0M124.9 174.1h0M122.8 173.3h0M104.2 189.1h0M134.6 172.1h0M121.0 181.9h0M117.8 187.5h0M131.2 175.4h0M120.6 183.3h0M101.7 201.4h0M95.8 195.8h0M117.4 175.2h0M109.0 188.9h0M113.8 184.7h0M117.3 177.4h0M106.0 196.0h0M104.5 188.7h0M110.7 180.5h0M96.4 194.5h0M115.5 176.0h0M111.5 183.2h0M132.6 168.2h0M131.7 170.3h0M121.9 184.3h0M105.8 189.2h0M99.9 198.6h0M113.9 168.0h0M98.1 194.2h0M131.0 168.0h0M95.3 193.8h0M95.9 195.5h0M113.0 184.8h0M102.0 198.5h0M95.5 195.1h0M124.4 174.9h0M101.7 190.6h0M116.6 185.4h0M120.7 176.3h0M132.6 175.6h0M121.8 176.4h0M96.1 195.6h0M98.3 187.8h0M122.0 173.2h0M104.9 197.4h0M108.8 186.4h0M96.4 195.8h0M99.6 189.4h0M132.4 172.6h0M132.2 175.0h0M99.8 199.6h0M100.5 201.5h0M119.2 185.4h0M105.6 185.1h0M96.0 194.8h0M106.9 190.3h0M116.4 181.6h0M95.8 195.2h0M96.8 196.5h0M92.0 190.4h0M100.3 199.5h0M104.5 189.8h0M100.9 197.7h0M104.8 193.3h0M123.1 176.9h0M118.1 174.6h0M110.2 188.6h0M136.4 173.9h0M123.7 179.0h0M114.6 185.0h0M111.9 185.4h0M120.8 183.6h0M123.6 179.1h0M112.0 179.8h0M130.8 176.6h0M99.3 195.1h0M122.8 185.2h0M110.4 198.4h0M110.9 185.7h0M103.5 192.6h0M103.8 192.1h0M106.1 192.6h0M126.0 176.5h0M117.9 179.8h0M130.1 173.4h0M127.8 174.1h0M112.3 178.9h0M100.1 194.3h0M101.5 193.4h0M101.0 199.1h0M107.3 193.4h0M102.0 194.3h0M112.0 179.5h0M128.4 174.9h0M99.1 199.6h0M117.9 181.0h0M101.6 192.3h0M98.2 198.4h0M97.1 191.5h0M120.0 187.4h0M101.7 189.8h0M95.7 195.6h0M117.7 183.7h0M102.7 194.5h0M125.5 172.4h0M128.5 171.9h0M120.7 178.7h0M126.9 178.8h0M99.7 200.0h0M101.1 193.1h0M114.5 186.0h0M127.9 163.3h0M100.0 194.4h0M96.9 195.4h0M105.3 198.3h0M104.2 195.5h0M101.7 189.1h0M126.4 176.4h0M113.3 186.8h0M105.6 187.3h0M112.0 178.4h0M98.1 195.6h0M95.8 194.7h0M99.0 191.6h0M99.1 198.6h0M108.5 178.8h0M110.8 195.2h0M124.2 178.3h0M111.8 180.3h0M101.7 202.7h0M125.7 169.1h0M97.5 197.3h0M100.0 198.2h0M102.1 197.6h0M127.2 177.3h0M104.0 196.0h0M106.8 182.1h0M125.1 175.5h0M116.3 188.1h0M98.3 199.2h0M107.9 188.4h0M119.9 177.4h0M133.2 169.8h0M123.6 173.0h0M96.8 197.2h0M104.7 198.2h0M97.4 195.6h0M115.7 186.9h0M131.9 173.0h0M91.4 190.0h0M97.2 196.6h0M106.7 192.1h0M105.0 183.1h0M107.5 182.7h0M131.5 169.1h0M114.4 184.2h0M108.4 191.3h0M115.0 184.2h0M97.0 193.6h0M97.2 196.8h0M96.2 196.4h0M107.2 193.3h0M94.7 187.4h0M103.2 194.0h0M99.4 196.5h0M120.3 177.6h0M117.0 175.4h0M101.2 198.8h0M99.6 193.9h0M121.7 178.2h0M119.7 180.5h0M101.5 201.6h0M101.7 192.9h0M129.3 167.9h0M99.1 192.4h0M126.1 172.2h0M100.1 192.2h0M98.6 190.9h0M114.7 192.3h0M112.6 185.0h0M110.9 184.8h0M124.6 184.5h0M109.3 192.4h0M98.8 199.8h0M122.6 176.8h0M133.9 172.3h0M107.3 189.8h0M100.4 193.3h0M104.6 187.2h0M104.6 192.0h0M100.8 188.7h0M119.6 167.4h0M100.0 199.5h0M95.8 194.8h0M92.8 191.6h0M101.6 192.5h0M106.3 183.1h0M117.4 185.3h0M101.2 189.7h0M97.0 192.9h0M128.0 180.2h0M103.2 193.3h0M102.6 204.4h0M100.8 188.5h0M98.6 199.3h0M116.6 184.9h0M105.5 191.1h0M120.6 181.2h0M99.5 200.8h0M97.7 195.7h0M122.6 179.1h0M111.5 188.2h0M107.6 184.7h0M98.4 199.2h0M112.7 183.5h0M122.7 174.1h0M120.5 181.2h0M123.5 180.5h0M100.9 191.6h0M105.0 185.6h0M121.4 174.8h0M112.7 184.9h0M123.6 184.1h0M125.2 179.0h0M125.7 177.7h0M103.8 192.3h0M116.9 182.8h0M95.5 195.4h0M100.1 198.4h0M105.7 190.2h0M100.8 192.4h0M112.7 181.0h0M98.7 191.8h0M104.6 195.6h0M99.7 192.8h0M108.2 192.5h0M131.7 174.3h0M117.7 189.4h0M98.8 195.7h0M96.3 196.4h0M99.2 200.4h0M132.8 169.3h0M115.5 183.2h0M133.4 171.8h0M97.6 196.8h0M102.3 192.1h0M131.6 171.4h0M119.1 178.9h0M109.4 193.4h0M121.8 178.7h0M122.9 187.9h0M109.9 181.5h0M95.5 195.5h0M125.3 172.6h0M102.7 192.8h0M117.6 181.9h0M101.9 190.2h0M134.8 172.2h0M131.5 172.4h0M115.0 178.6h0M96.7 196.5h0M118.4 179.8h0M132.3 171.6h0M94.1 192.7h0M109.6 188.6h0M103.5 191.7h0M114.7 180.3h0M108.4 196.4h0M98.3 194.1h0M125.1 172.0h0M98.5 197.1h0M99.7 197.7h0M103.8 192.4h0M118.0 186.4h0M129.5 168.6h0M131.3 173.3h0M95.6 195.3h0M107.2 181.1h0M101.0 202.7h0M129.5 170.9h0M120.6 185.3h0M107.1 190.4h0M93.7 191.3h0M126.2 182.7h0M110.7 185.7h0M113.5 188.8h0M102.4 196.0h0M100.8 197.0h0M98.0 194.7h0M120.7 170.4h0M97.4 194.7h0M123.7 168.9h0M114.0 188.3h0M101.4 192.3h0M110.2 188.5h0M98.3 198.6h0M100.6 192.3h0M98.7 185.9h0M97.7 197.7h0M100.0 189.7h0M125.1 174.3h0M107.4 185.9h0M100.3 188.9h0M105.5 191.0h0M132.1 172.4h0M117.9 187.2h0M106.8 195.0h0M104.7 191.9h0M113.7 180.8h0M119.9 178.3h0M96.4 195.0h0M117.4 178.3h0M128.4 170.6h0M110.7 189.2h0M123.0 177.0h0M133.3 170.8h0M107.5 191.4h0M100.6 192.4h0M96.3 196.4h0M98.7 198.6h0M122.0 180.4h0M112.1 188.4h0M135.0 173.0h0M133.3 173.7h0M99.5 199.9h0M123.8 173.9h0M130.7 176.7h0M105.2 190.1h0M115.3 184.4h0M114.4 182.9h0M101.2 192.1h0M100.9 195.1h0M100.1 196.2h0M126.8 178.2h0M99.4 190.7h0M102.6 194.5h0M96.8 195.7h0M129.4 170.8h0M105.8 200.7h0M95.5 194.4h0M128.5 180.7h0M109.7 182.7h0M101.7 192.4h0M128.9 171.1h0M111.4 187.2h0M101.0 189.7h0M119.0 189.6h0M107.1 191.6h0M97.8 195.0h0M134.5 173.8h0M102.8 197.0h0M100.4 200.7h0M100.4 192.0h0M98.2 194.5h0M97.5 189.6h0M95.3 195.0h0M103.1 196.5h0M118.3 177.8h0M109.3 188.1h0M96.3 194.4h0M94.0 188.0h0M97.0 194.1h0M96.7 195.6h0M108.7 190.6h0M110.4 192.7h0M101.3 198.1h0M119.5 176.9h0M120.6 178.9h0M102.1 196.0h0M107.7 188.6h0M99.0 193.2h0M98.2 199.0h0M106.6 180.3h0M109.2 184.2h0M103.8 193.3h0M96.9 197.4h0M104.3 196.2h0M113.4 186.9h0M130.8 174.7h0M99.3 195.5h0M131.7 170.6h0M137.6 178.4h0M128.7 165.6h0M107.9 189.7h0M121.3 176.0h0M100.4 198.9h0M112.7 179.4h0M118.4 177.1h0M132.0 177.3h0M112.6 183.8h0M102.5 189.9h0M114.6 179.0h0M96.3 194.5h0M92.9 192.1h0M133.7 170.1h0M99.5 198.5h0M131.8 170.1h0M105.1 192.5h0M110.9 181.1h0M99.9 200.8h0M100.2 201.3h0M114.9 189.1h0M109.5 185.6h0M116.9 182.6h0M95.8 194.4h0M92.9 168.4h0M95.8 168.3h0M102.8 167.7h0M132.3 169.4h0M107.2 168.9h0M129.5 166.9h0M127.3 168.1h0M99.8 169.0h0M89.2 170.1h0M125.0 168.0h0M104.3 167.6h0M80.4 168.3h0M135.2 169.0h0M134.1 167.1h0M115.8 167.7h0M135.4 168.0h0M76.1 168.6h0M119.3 168.8h0M97.7 170.3h0M75.4 170.2h0M110.4 170.4h0M133.7 166.9h0M109.0 166.8h0M75.1 169.1h0M93.4 167.4h0M129.9 168.2h0M117.8 166.1h0M111.8 171.9h0M78.2 168.5h0M98.7 168.8h0M111.9 169.7h0M132.9 165.8h0M109.4 170.0h0M128.5 169.1h0M94.4 169.6h0M112.0 168.4h0M87.8 168.4h0M106.8 168.1h0M85.4 172.2h0M105.7 167.2h0M84.4 168.5h0M131.5 167.5h0M126.4 168.5h0M113.8 168.9h0M89.7 169.8h0M76.1 170.3h0M127.7 168.2h0M91.2 169.6h0M75.3 170.2h0M107.0 166.3h0M135.1 169.3h0M83.6 168.6h0M120.6 171.6h0M122.9 168.2h0M115.9 170.1h0M122.8 169.9h0M132.6 166.5h0M128.4 168.4h0M100.2 167.8h0M86.6 167.3h0M109.0 169.9h0M89.3 165.5h0M94.8 168.2h0M73.8 170.0h0M115.0 168.3h0M82.2 168.0h0M99.0 170.3h0M77.8 171.0h0M90.9 170.7h0M131.2 168.3h0M116.4 168.8h0M115.5 168.8h0M79.2 169.3h0M80.0 169.4h0M128.9 166.9h0M76.8 170.4h0M119.4 166.1h0M79.8 168.8h0M97.6 168.9h0M100.8 169.0h0M106.7 166.4h0M101.8 168.8h0M103.2 169.4h0M88.1 170.6h0M100.6 167.9h0M87.9 168.0h0M120.7 169.9h0M128.9 169.8h0M86.4 170.1h0M76.0 171.3h0M105.7 166.2h0M85.5 169.5h0M120.5 169.6h0M100.0 169.7h0M97.0 167.7h0M117.8 168.4h0M115.5 169.8h0M92.4 169.2h0M114.7 169.5h0M130.0 165.7h0M131.5 167.5h0M118.1 168.1h0M128.8 169.1h0M81.3 168.7h0M104.6 169.4h0M85.0 170.4h0M126.3 170.5h0M110.5 167.9h0M128.8 169.1h0M97.3 168.2h0M92.3 170.1h0M93.8 171.5h0M99.2 170.1h0M76.2 168.3h0M112.4 169.8h0M89.0 170.2h0M122.4 166.7h0M121.1 167.5h0M130.3 165.9h0M83.2 170.5h0M133.1 169.5h0M97.9 169.9h0M79.9 170.5h0M83.0 170.5h0M106.5 171.0h0M128.6 167.8h0M102.1 169.0h0M109.1 168.9h0M99.2 168.4h0M91.4 168.1h0M113.5 169.7h0M121.8 167.3h0M75.3 166.9h0M75.3 169.6h0M122.2 167.5h0M113.6 168.6h0M134.8 167.1h0M106.8 169.2h0M77.5 171.6h0M103.5 168.4h0M78.3 169.6h0M82.1 169.5h0M103.9 168.3h0M116.2 169.8h0M76.5 171.5h0M108.1 167.9h0M76.0 171.0h0M88.9 168.9h0M117.5 167.3h0M80.0 169.7h0M128.5 169.2h0M116.2 164.9h0M100.7 169.3h0M102.1 168.5h0M127.8 165.5h0M122.2 167.5h0M92.1 169.5h0M121.5 168.0h0M74.4 170.0h0M85.4 169.6h0M108.8 167.0h0M130.1 168.7h0M94.5 171.8h0M134.9 168.8h0M134.1 169.1h0M80.2 168.6h0M131.6 169.0h0M84.8 169.0h0M77.0 168.8h0M95.3 169.6h0M95.2 169.5h0M84.2 168.1h0M110.9 167.9h0M103.0 168.8h0M91.9 169.0h0M136.2 170.6h0M104.3 169.9h0M127.7 167.0h0M105.6 168.3h0M130.0 169.0h0M127.9 170.8h0M89.1 167.9h0M75.5 169.0h0M94.6 167.3h0M89.1 168.9h0M82.9 167.1h0M94.2 168.6h0M121.4 169.1h0M74.8 168.5h0M78.1 171.8h0M100.7 172.6h0M117.7 167.6h0M122.6 167.0h0M75.6 168.7h0M104.0 169.3h0M105.9 168.7h0M129.7 166.5h0M81.9 170.5h0M112.1 171.8h0M77.1 167.5h0M88.6 167.7h0M131.0 168.1h0M118.8 167.5h0M115.8 167.8h0M104.9 168.7h0M97.7 168.9h0M94.0 167.7h0M123.0 169.0h0M106.6 169.1h0M109.4 170.1h0M76.7 168.1h0M113.9 167.5h0M115.8 168.3h0M93.5 168.5h0M90.7 167.2h0M96.5 166.8h0M122.6 169.1h0M107.5 168.7h0M129.7 167.5h0M133.9 164.7h0M90.5 170.0h0M109.8 168.2h0M86.4 170.3h0M117.6 169.0h0M117.0 169.0h0M134.1 168.8h0M110.8 170.8h0M81.0 164.3h0M76.9 170.8h0M93.3 166.8h0M124.3 167.6h0M116.8 167.1h0M122.9 166.3h0M86.3 169.2h0M78.4 171.9h0M135.6 168.6h0M124.4 169.1h0M80.4 168.4h0M130.9 166.0h0M118.8 167.7h0M88.2 170.9h0M111.8 167.7h0M95.2 165.9h0M84.2 168.0h0M87.3 168.6h0M104.4 166.6h0M120.8 167.2h0M93.0 168.9h0M93.3 168.6h0M130.2 168.4h0M95.1 169.3h0M103.5 169.4h0M78.0 168.9h0M103.4 169.0h0M81.9 169.6h0M76.6 173.2h0M105.4 169.7h0M82.6 167.3h0M92.9 167.0h0M131.1 166.9h0M107.4 168.8h0M109.4 168.8h0M128.4 167.8h0M120.6 170.3h0M73.9 170.3h0M87.9 170.8h0M80.3 169.1h0M112.3 167.8h0M135.9 168.6h0M80.0 169.8h0M103.4 169.2h0M93.4 166.8h0M93.9 167.4h0M78.5 169.1h0M130.7 168.5h0M79.0 167.4h0M108.3 170.6h0M85.0 171.9h0M80.0 167.9h0M101.4 168.7h0M119.2 166.8h0M128.5 167.3h0M86.8 168.8h0M123.1 168.0h0M86.3 167.4h0M78.8 168.7h0M79.2 167.7h0M85.9 169.3h0M94.9 170.9h0M84.5 168.7h0M112.0 168.4h0M74.3 170.1h0M123.8 169.0h0M119.4 167.9h0M121.6 170.0h0M129.2 170.8h0M76.7 169.8h0M98.0 171.2h0M81.9 172.4h0M132.5 168.3h0M101.7 168.7h0M135.8 165.5h0M92.2 167.2h0M132.3 168.0h0M131.0 168.1h0M94.8 167.4h0M135.0 167.4h0M91.4 165.5h0M102.8 167.4h0M128.9 168.2h0M104.2 168.6h0M130.3 166.1h0M125.7 166.3h0M127.3 172.6h0M123.6 167.4h0M82.4 168.1h0M80.0 168.3h0M128.3 169.4h0M97.4 168.4h0M130.0 166.0h0M131.1 170.1h0M91.8 169.3h0M132.6 169.0h0M76.0 170.3h0M112.1 169.0h0M110.0 168.7h0M83.3 172.3h0M126.1 168.1h0M104.9 169.8h0M128.3 166.4h0M80.2 171.6h0M92.3 169.6h0M109.4 168.5h0M92.1 167.5h0M133.0 166.6h0M106.1 169.7h0M75.9 167.8h0M84.3 168.9h0M117.5 165.0h0M97.4 170.0h0M79.0 170.6h0M133.6 167.1h0M115.1 167.4h0M123.7 169.4h0M128.5 168.6h0M79.6 170.5h0M105.9 168.5h0M114.8 169.5h0M134.4 168.1h0M100.3 170.5h0M109.2 168.1h0M92.0 169.9h0M131.0 164.3h0M74.8 169.9h0M85.5 170.0h0M110.1 168.2h0M84.7 170.5h0M128.2 169.1h0M108.8 169.5h0M135.7 167.7h0M122.8 166.8h0M93.5 168.9h0M75.9 170.0h0M96.5 171.7h0M127.0 170.0h0M91.9 168.6h0M101.0 169.6h0M95.5 169.7h0M76.1 170.7h0M95.8 167.7h0M112.8 167.2h0M97.7 169.3h0M101.4 168.4h0M102.8 170.0h0M127.4 168.9h0M103.0 166.1h0M133.2 170.2h0M115.6 169.3h0M75.4 170.4h0M111.7 167.4h0M77.2 168.4h0M95.8 167.4h0M94.6 169.9h0M73.8 166.8h0M92.3 167.9h0M94.2 168.9h0M109.0 170.0h0M97.9 166.9h0M128.2 168.7h0M85.2 169.3h0M134.6 168.5h0M136.0 168.2h0M124.7 168.5h0M135.9 169.0h0M89.5 169.4h0M100.3 167.8h0M132.4 166.9h0M133.9 166.4h0M129.8 169.4h0M81.4 168.9h0M93.5 169.6h0M83.2 170.5h0M115.7 168.4h0M124.6 167.7h0M123.9 164.1h0M80.0 169.4h0M76.0 170.3h0M121.6 168.6h0M113.0 170.3h0M118.3 170.0h0M109.6 168.4h0M134.9 169.0h0M111.6 169.9h0M108.9 169.1h0M116.8 167.3h0M116.2 168.1h0M105.2 166.7h0M130.4 164.2h0M93.6 169.2h0M95.3 168.1h0M77.3 169.9h0M125.6 167.0h0M111.2 169.4h0M85.1 167.5h0M119.7 168.7h0M122.8 166.7h0M93.8 170.5h0M78.2 170.6h0M96.5 171.5h0M120.5 166.9h0M98.5 169.9h0M79.1 171.0h0M121.7 168.3h0M93.6 168.5h0M106.8 167.0h0M76.0 171.1h0M120.9 167.6h0M78.6 168.8h0M82.0 170.4h0M83.4 170.7h0M74.5 169.5h0M75.3 170.0h0M124.6 167.1h0M91.6 168.5h0M99.5 167.2h0M84.4 170.3h0M111.6 166.6h0M124.6 165.9h0M121.6 167.7h0M129.7 167.6h0M114.4 167.3h0M79.2 168.8h0M80.7 170.8h0M98.5 168.1h0M129.8 166.6h0M98.8 169.0h0M104.7 167.0h0M76.3 168.2h0M120.7 167.4h0M95.7 165.9h0M81.4 170.7h0M126.5 167.8h0M131.2 167.6h0M105.6 167.5h0M109.3 168.3h0M135.1 169.5h0M110.3 167.3h0M89.7 168.3h0M126.7 169.3h0M112.2 169.3h0M135.4 169.2h0M114.0 171.4h0M76.7 169.3h0M128.6 168.6h0M114.8 168.7h0M101.1 168.6h0M127.3 168.7h0M112.2 169.4h0M127.9 168.1h0M76.3 170.7h0M109.3 168.3h0M81.8 169.2h0M102.8 168.5h0M128.9 167.5h0M108.2 167.1h0M97.3 167.6h0M110.9 166.7h0M105.8 170.1h0M77.0 169.3h0M129.4 168.2h0M78.5 167.5h0M99.8 169.7h0M75.2 170.2h0M89.4 170.6h0M125.4 168.7h0M116.4 171.7h0M88.1 167.7h0M83.8 170.3h0M130.2 169.1h0M105.4 170.3h0M126.2 168.6h0M108.8 169.0h0M89.6 169.2h0M121.6 169.3h0M107.0 169.8h0M83.8 171.0h0M73.8 169.6h0M104.3 170.1h0M88.6 170.8h0M80.5 171.6h0M106.5 169.1h0M115.0 167.1h0M90.8 168.9h0M133.8 167.2h0M132.7 169.8h0M102.3 168.3h0M112.4 169.4h0M104.5 166.0h0M94.5 169.5h0M117.7 169.3h0M79.0 169.3h0M122.5 167.8h0M87.6 166.7h0M120.3 169.0h0M81.0 168.9h0M135.5 166.4h0M88.1 168.1h0M105.1 167.6h0M113.5 166.3h0M112.7 169.6h0M89.6 169.7h0M108.1 170.5h0M83.8 166.6h0M99.8 170.2h0M92.2 168.8h0M95.9 168.7h0M131.1 168.5h0M95.6 169.2h0M87.5 170.9h0M111.8 168.9h0M75.2 169.4h0M113.2 166.7h0M88.7 165.7h0M129.7 163.9h0M96.9 170.3h0M121.2 168.3h0M99.5 167.3h0M100.8 167.4h0M87.3 169.3h0M106.3 167.1h0M95.0 167.2h0M125.5 167.4h0M117.6 165.7h0M121.6 167.2h0M122.1 170.7h0M101.9 170.6h0M90.4 169.2h0M112.4 167.6h0M77.1 168.6h0M119.1 166.0h0M107.0 168.8h0M103.4 167.8h0M108.5 168.0h0M131.9 170.9h0M108.8 169.8h0M119.3 168.3h0M106.5 168.3h0M123.3 166.3h0M127.4 169.5h0M120.3 167.6h0M125.5 167.9h0M80.2 172.9h0M102.0 171.4h0M119.9 169.5h0M77.0 168.6h0M87.4 171.2h0M85.3 168.8h0M105.1 170.0h0M88.9 168.5h0M76.7 172.7h0M86.2 169.8h0M113.9 170.0h0M104.0 170.2h0M80.3 169.0h0M81.2 169.0h0M121.3 167.8h0M117.8 168.2h0M134.3 171.2h0M96.1 170.0h0M91.8 170.4h0M124.6 169.1h0M99.2 170.1h0M124.9 167.4h0M74.8 170.2h0M100.4 167.8h0M119.5 169.2h0M95.4 168.4h0M74.2 169.6h0M99.8 168.4h0M132.8 166.6h0M78.4 170.4h0M86.8 170.0h0M81.0 171.4h0M93.6 172.5h0M129.0 169.1h0M122.2 167.2h0M120.4 166.9h0M111.5 167.1h0M78.4 168.3h0M128.9 166.4h0M121.7 166.2h0M91.1 169.3h0M88.5 170.3h0M92.3 170.7h0M87.7 168.9h0M81.6 166.6h0M135.1 166.7h0M116.1 169.5h0M130.5 169.3h0M112.0 166.2h0M113.0 170.1h0M77.5 169.7h0M130.3 167.4h0M77.4 171.6h0M124.9 168.2h0M92.4 169.6h0M116.1 167.3h0M99.5 168.3h0M74.3 170.0h0M133.6 168.3h0M85.7 168.2h0M78.6 167.9h0M121.8 168.9h0M80.0 167.3h0M77.7 167.7h0M118.9 165.3h0M74.8 169.4h0M86.3 168.8h0M98.7 168.5h0M90.0 168.0h0M120.2 159.3h0M117.4 166.2h0M134.0 162.7h0M105.9 156.4h0M129.1 167.6h0M119.0 163.6h0M125.8 166.1h0M120.0 164.4h0M128.6 150.0h0M124.7 162.1h0M132.5 166.1h0M115.1 164.6h0M95.4 167.4h0M108.9 166.6h0M134.9 160.3h0M106.1 164.6h0M116.6 166.1h0M121.4 159.5h0M130.3 164.7h0M141.3 162.4h0M116.3 163.5h0M119.5 159.0h0M113.1 162.7h0M126.5 167.1h0M93.9 160.1h0M114.1 159.8h0M120.5 155.3h0M118.2 165.6h0M125.1 161.4h0M125.4 167.3h0M117.0 159.4h0M115.2 166.5h0M123.8 155.2h0M104.4 158.5h0M140.5 163.4h0M122.7 157.9h0M127.5 150.7h0M138.3 163.5h0M120.3 165.6h0M130.6 152.6h0M123.8 157.2h0M116.3 163.8h0M116.1 161.1h0M122.6 161.9h0M123.7 167.5h0M111.4 164.6h0M128.7 168.1h0M132.3 163.0h0M109.8 162.0h0M134.0 162.8h0M129.5 159.9h0M131.5 154.5h0M113.2 166.0h0M132.2 167.3h0M128.4 167.3h0M111.2 159.5h0M135.5 156.5h0M117.7 165.0h0M127.1 164.9h0M137.0 163.1h0M118.4 163.3h0M132.6 161.1h0M126.5 161.2h0M108.0 155.3h0M117.6 160.6h0M129.6 160.9h0M115.8 165.3h0M123.9 162.5h0M119.7 153.8h0M134.5 162.1h0M133.4 158.0h0M136.5 158.5h0M115.3 165.1h0M119.0 165.0h0M122.4 163.1h0M125.5 161.2h0M135.3 165.4h0M108.3 163.4h0M99.3 164.2h0M111.4 163.8h0M129.3 167.5h0M119.6 163.3h0M103.6 163.4h0M117.3 166.9h0M114.0 166.3h0M114.9 167.2h0M119.3 159.5h0M103.8 161.7h0M120.2 167.9h0M133.0 167.2h0M143.2 165.8h0M140.4 165.2h0M124.2 154.9h0M131.3 161.9h0M116.5 158.1h0M134.5 162.1h0M116.0 160.9h0M119.8 166.6h0M94.2 178.1h0M91.3 178.3h0M86.6 185.2h0M88.7 175.1h0M102.5 170.8h0M86.3 179.4h0M88.4 177.9h0M96.9 182.7h0M79.8 190.4h0M80.9 173.8h0M94.8 171.7h0M80.8 184.3h0M93.5 179.7h0M100.2 182.4h0M86.3 176.1h0M92.8 175.3h0M91.7 182.8h0M91.7 169.9h0M102.0 175.8h0M92.3 168.5h0M89.4 171.0h0M101.5 173.6h0M79.4 179.1h0M82.8 179.6h0M82.7 169.6h0M88.3 176.7h0M83.7 183.0h0M96.0 176.6h0M89.1 180.3h0M96.6 178.1h0M81.3 183.1h0M107.4 178.9h0M92.1 174.6h0M78.3 182.9h0M94.0 180.0h0M90.9 185.2h0M88.9 167.7h0M88.6 179.3h0M95.5 180.4h0M94.9 179.9h0M91.9 171.2h0M87.3 184.3h0M101.9 161.2h0M88.6 175.9h0M96.1 166.1h0M85.5 179.9h0M83.7 169.4h0M103.6 174.5h0M90.2 181.6h0M103.9 171.9h0M88.6 176.4h0M96.8 182.3h0M101.5 173.8h0M80.7 176.0h0M75.5 182.4h0M74.4 183.0h0M81.8 181.8h0M100.7 175.7h0M88.7 178.6h0M85.0 180.9h0M87.8 179.4h0M83.6 182.1h0M92.2 172.9h0M89.1 170.4h0M79.1 173.6h0M92.7 175.5h0M89.3 179.8h0M87.5 177.5h0M85.4 191.1h0M83.5 182.6h0M87.8 188.7h0M81.1 179.0h0M92.5 175.0h0M105.5 177.1h0M92.7 168.2h0M92.7 170.9h0M93.8 179.6h0M88.7 175.2h0M83.5 175.5h0M101.2 171.8h0M87.3 180.8h0M79.5 177.4h0M98.1 178.2h0M93.8 181.5h0M89.4 164.9h0M95.3 180.4h0M71.9 179.8h0M100.2 169.9h0M96.7 185.2h0M88.7 176.8h0M82.1 183.0h0M91.4 181.0h0M89.1 178.5h0M85.1 184.9h0M88.5 185.4h0M96.3 172.9h0M81.2 185.3h0M92.5 175.7h0M97.4 165.5h0M93.9 175.5h0M95.1 174.0h0M86.1 182.6h0M92.4 169.6h0M93.5 181.5h0M77.3 174.8h0M81.1 174.0h0M84.4 189.7h0M82.1 174.0h0M87.7 185.9h0M86.6 184.0h0M97.3 174.6h0M92.5 183.3h0M91.3 187.0h0M92.5 186.6h0M82.1 180.7h0M71.7 173.0h0M85.4 176.5h0M87.9 181.3h0M78.7 170.3h0M95.2 179.0h0M96.6 181.7h0M91.9 174.9h0M93.3 172.3h0M79.8 177.9h0M106.2 170.1h0M99.5 175.6h0M102.4 173.3h0M80.7 175.9h0M88.1 181.5h0M84.2 180.2h0M107.1 175.5h0M94.5 192.2h0M83.9 179.0h0M87.0 180.1h0M83.6 177.4h0M95.0 177.3h0M75.2 186.9h0M92.3 188.5h0M83.3 181.2h0M82.7 183.7h0M85.3 186.1h0M90.3 165.8h0M81.0 183.3h0M95.1 182.9h0M93.3 175.0h0M90.5 178.3h0M89.6 183.8h0M82.6 177.5h0M99.3 175.8h0M93.6 174.5h0M89.9 185.4h0M101.5 176.5h0M84.8 187.4h0M75.4 179.4h0M94.9 190.6h0M97.3 176.1h0M89.0 177.9h0M82.4 177.0h0M91.9 168.2h0M83.5 162.4h0M96.5 177.7h0M77.1 171.7h0M84.2 188.2h0M93.1 171.3h0M85.7 169.5h0M82.3 169.6h0M102.9 179.9h0M99.2 179.1h0M83.9 184.6h0M93.1 173.5h0M77.2 179.9h0M80.4 177.9h0M74.2 170.2h0M96.7 180.0h0M90.5 176.4h0M90.9 172.5h0M95.3 186.2h0M84.9 170.1h0M89.6 168.4h0M104.3 175.1h0M92.6 178.6h0M85.7 174.5h0M81.4 190.6h0M90.0 184.1h0M100.7 174.6h0M85.6 176.5h0M92.2 172.0h0M96.6 175.5h0M83.7 183.0h0M100.2 171.3h0M88.1 177.3h0M93.4 181.9h0M88.5 173.0h0M84.9 183.8h0M103.4 176.9h0M83.3 193.4h0M98.1 172.5h0M79.9 174.4h0M111.8 181.6h0M82.0 174.9h0M86.7 171.2h0M93.9 171.1h0M87.7 181.7h0M87.6 184.0h0M85.5 185.4h0M84.5 175.5h0M78.4 181.7h0M94.6 177.3h0M100.3 180.0h0M92.1 168.2h0M88.1 180.3h0M80.5 187.9h0M91.9 186.2h0M80.1 189.8h0M99.8 177.2h0M86.8 187.8h0M82.1 178.0h0M98.0 176.2h0M83.3 172.4h0M85.7 185.9h0M110.2 169.1h0M80.3 183.1h0M88.1 175.8h0M88.3 185.9h0M95.3 172.8h0M93.3 170.4h0M98.0 165.0h0M86.2 183.8h0M102.5 178.9h0M74.5 179.3h0M120.2 207.1h0M116.9 202.8h0M102.8 207.8h0M115.5 202.8h0M109.3 209.6h0M112.5 207.6h0M121.0 200.7h0M120.5 199.0h0M119.8 206.1h0M117.5 208.3h0M115.8 197.8h0M124.7 203.7h0M115.8 205.9h0M116.9 204.3h0M106.4 203.5h0M125.3 205.3h0M108.0 215.5h0M116.3 200.5h0M109.8 204.7h0M121.5 207.2h0M113.0 205.5h0M110.2 208.0h0M108.2 212.2h0M113.9 210.5h0M124.1 204.3h0M119.9 190.5h0M108.9 209.1h0M109.2 212.7h0M112.5 205.9h0M101.7 213.4h0M111.5 213.0h0M117.7 204.8h0M119.8 203.1h0M109.6 207.5h0M113.1 211.5h0M110.3 202.6h0M122.8 207.4h0M112.3 207.4h0M104.7 216.9h0M111.3 197.4h0M113.8 208.6h0M118.6 205.8h0M116.0 204.8h0M114.1 205.2h0M129.7 201.4h0M115.4 196.5h0M114.3 208.7h0M118.9 197.6h0M114.2 213.4h0M113.4 205.6h0M118.2 204.5h0M111.3 204.2h0M104.1 210.4h0M118.0 207.7h0M110.0 209.5h0M108.2 200.8h0M118.4 199.0h0M106.1 207.4h0M112.6 213.8h0M120.9 213.5h0M115.7 198.3h0M106.8 209.9h0M106.2 210.8h0M120.9 206.7h0M104.3 214.6h0M125.1 207.3h0M129.0 197.6h0M113.8 210.2h0M120.7 210.8h0M113.7 203.3h0M113.4 203.2h0M115.2 204.4h0M119.3 201.3h0M120.2 200.7h0M122.1 209.1h0M114.4 205.1h0M116.7 207.4h0M108.4 211.4h0M103.3 204.5h0M107.3 209.4h0M109.5 197.0h0M121.2 201.2h0M112.6 208.3h0M116.8 208.0h0M106.7 210.1h0M120.5 207.5h0M123.6 196.5h0M122.0 197.1h0M107.8 209.3h0M128.9 206.8h0" stroke="#111" stroke-width="0.92" stroke-linecap="square" fill="none" stroke-opacity="1"/>
<path d="M100.1 173.4h0M121.4 155.0h0M96.4 166.0h0M123.2 175.7h0M107.9 185.5h0M98.2 161.9h0M118.2 148.4h0M107.3 171.1h0M74.7 178.2h0M87.6 190.1h0M115.8 180.7h0M119.5 169.6h0M121.7 176.5h0M112.3 183.2h0M136.8 147.5h0M94.6 156.0h0M81.0 183.2h0M85.8 172.0h0M92.8 184.8h0M130.4 169.5h0M90.7 167.0h0M99.3 153.5h0M81.6 177.3h0M106.8 173.5h0M108.5 162.6h0M100.7 160.5h0M106.7 148.0h0M111.6 173.5h0M95.5 174.8h0M120.3 170.3h0M135.8 181.5h0M104.6 169.4h0M82.3 162.3h0M106.1 173.0h0M108.8 190.8h0M109.8 175.7h0M98.7 159.9h0M94.8 172.0h0M114.9 178.4h0M85.2 173.2h0M115.7 153.6h0M98.5 155.7h0M90.9 187.2h0M109.0 196.5h0M85.0 185.2h0M99.9 153.8h0M106.1 174.2h0M98.1 186.8h0M97.4 181.4h0M102.8 165.9h0M109.3 183.5h0M127.4 182.5h0M73.8 160.6h0M98.3 186.6h0M70.4 178.3h0M82.4 184.1h0M120.5 166.4h0M126.0 177.5h0M100.2 189.4h0M139.2 166.0h0M107.2 175.4h0M116.9 165.4h0M99.1 186.5h0M100.8 187.9h0M107.6 191.5h0M128.3 155.1h0M114.8 167.6h0M92.7 183.7h0M121.1 175.7h0M121.8 188.5h0M109.2 178.5h0M111.4 188.6h0M88.2 173.5h0M82.5 168.6h0M109.1 167.2h0M90.2 171.3h0M122.3 193.7h0M105.3 163.4h0M106.5 164.5h0M108.7 179.4h0M136.1 158.8h0M100.9 162.8h0M121.5 158.5h0M125.3 190.2h0M74.1 189.1h0M142.2 168.0h0M102.2 196.0h0M99.5 171.7h0M87.7 182.1h0M125.8 160.0h0M147.9 176.3h0M152.3 169.2h0M138.3 180.8h0M145.7 172.4h0M137.3 184.3h0M133.3 174.6h0M142.2 167.3h0M145.9 163.0h0M141.7 179.8h0M151.0 164.9h0M144.6 183.3h0M138.0 182.0h0M149.7 179.3h0M142.5 178.9h0M138.6 182.8h0M145.5 170.8h0M157.3 171.0h0M137.9 179.7h0M145.9 167.0h0M137.5 184.9h0M142.5 176.0h0M149.2 170.2h0M133.9 174.4h0M142.0 175.4h0M140.6 171.6h0M132.3 181.5h0M145.4 176.4h0M146.7 194.0h0M135.8 176.6h0M143.9 158.9h0M147.1 172.7h0M162.0 162.8h0M142.3 176.6h0M141.5 172.4h0M149.5 174.1h0M144.8 173.0h0M131.4 180.6h0M129.3 180.9h0M145.0 172.9h0M143.4 186.8h0M146.2 180.8h0M140.9 175.2h0M134.4 192.0h0M149.7 171.1h0M145.6 176.0h0M151.1 174.2h0M142.3 169.3h0M128.1 169.8h0M141.4 185.4h0M138.5 177.4h0M146.6 184.8h0M128.7 184.6h0M139.9 183.8h0M140.5 165.7h0M128.6 174.1h0M140.3 170.5h0M134.5 195.4h0M133.7 180.1h0M150.1 171.3h0M130.5 184.4h0M74.6 192.3h0M69.0 166.4h0M72.0 170.2h0M76.2 186.0h0M74.3 179.8h0M66.1 167.7h0M76.9 192.8h0M80.5 202.0h0M67.7 161.0h0M74.4 182.6h0M68.8 163.1h0M84.4 163.1h0M78.4 187.8h0M84.1 179.7h0M81.4 177.9h0M80.0 192.2h0M74.5 164.5h0M77.8 153.1h0M84.6 174.5h0M70.8 189.1h0M81.0 184.6h0M70.6 186.7h0M75.7 176.9h0M69.1 184.5h0M69.4 191.9h0M76.0 164.8h0M87.9 167.5h0M70.4 176.4h0M76.0 192.7h0M71.7 175.5h0M83.9 180.0h0M80.3 180.6h0M71.1 174.6h0M67.7 173.0h0M75.9 179.7h0M80.3 181.1h0M77.6 172.3h0M87.4 177.5h0M80.9 172.1h0M68.2 183.6h0M80.8 185.3h0M82.6 180.9h0M73.7 181.0h0M68.4 176.9h0M80.3 175.2h0M80.3 179.5h0M74.1 185.4h0M82.9 177.3h0M76.4 198.1h0M79.0 175.2h0M68.8 175.9h0M82.9 161.6h0M79.2 176.3h0M79.2 181.8h0" stroke="#333" stroke-width="0.90" stroke-linecap="square" fill="none" stroke-opacity="1"/>
<path d="M78.4 215.3h0M82.4 216.6h0M85.8 215.0h0M78.6 217.1h0M81.4 213.2h0M97.1 217.2h0M91.4 214.6h0M88.6 213.6h0M71.1 214.5h0M74.1 215.2h0M90.5 215.6h0M80.7 216.6h0M78.0 213.8h0M95.7 215.2h0M68.6 216.0h0M67.9 216.5h0M80.6 215.5h0M92.5 215.8h0M99.1 214.6h0M73.1 216.3h0M99.0 215.7h0M71.0 215.4h0M73.6 215.0h0M97.1 214.1h0M99.8 215.8h0M86.9 213.8h0M80.3 216.8h0M88.7 216.9h0M92.8 216.9h0M76.5 214.3h0M70.3 213.6h0M90.3 214.8h0M72.5 214.3h0M74.8 214.7h0M85.2 217.2h0M84.1 217.2h0M92.7 215.5h0M84.1 213.7h0M84.7 214.4h0M65.7 214.7h0M67.9 215.1h0M82.4 213.7h0M97.7 215.0h0M77.2 215.7h0M69.3 214.9h0M85.0 213.7h0M70.2 213.7h0M95.7 215.8h0M96.0 215.6h0M85.8 215.0h0M77.1 215.2h0M71.5 217.1h0M82.0 214.0h0M95.6 216.9h0M72.2 216.8h0M97.2 215.4h0M77.3 213.2h0M88.7 215.4h0M97.2 215.9h0M96.3 216.0h0M90.1 217.1h0M79.7 217.3h0M86.2 214.2h0M95.0 216.3h0M74.4 215.1h0M71.6 216.3h0M91.5 216.0h0M74.2 213.7h0M84.8 215.0h0M74.5 216.9h0M78.4 212.5h0M91.9 211.4h0M70.8 208.9h0M88.9 209.4h0M76.9 210.3h0M75.3 197.4h0M90.3 211.2h0M94.5 211.4h0M71.6 207.8h0M73.9 211.8h0M103.9 208.0h0M105.8 193.9h0M105.4 202.3h0M104.5 205.8h0M100.5 187.3h0M105.3 203.9h0M98.1 212.6h0M97.1 186.8h0M106.6 210.2h0M94.2 209.9h0M98.4 192.5h0M101.3 209.6h0M101.5 188.6h0M101.8 196.4h0M105.2 211.5h0M104.0 195.7h0M101.6 213.3h0M94.5 207.8h0M101.0 187.6h0M95.7 213.9h0M102.6 207.9h0M99.7 190.5h0M96.6 208.4h0M105.1 194.9h0M104.3 189.6h0M97.3 207.9h0M102.6 190.9h0M106.3 204.7h0M104.0 213.6h0M104.4 202.8h0M97.1 197.0h0M104.7 213.7h0M106.2 203.5h0M102.7 190.6h0M101.5 187.5h0M105.6 209.7h0M100.2 191.9h0M99.4 193.5h0M106.6 186.4h0M98.8 193.8h0M99.1 186.4h0M106.2 194.9h0M66.4 201.9h0M65.9 215.5h0M68.3 197.1h0M67.7 212.4h0M68.3 210.7h0M65.9 210.2h0M66.9 204.7h0M67.9 210.1h0M67.0 200.1h0M66.4 205.2h0M67.0 211.3h0M68.6 216.9h0M68.2 210.5h0M65.7 203.5h0M66.4 215.6h0M67.5 210.1h0M67.4 217.1h0M67.2 201.0h0M67.6 207.8h0" stroke="#fff" stroke-width="0.84" stroke-linecap="square" fill="none" stroke-opacity="1"/>
<rect x="64.70" y="131.60" width="110.30" height="86.50" stroke="#000" stroke-width="1.0" fill="none"/>
<line x1="108.70" y1="131.60" x2="108.70" y2="218.10" stroke="#000" stroke-width="0.9"/>
<line x1="64.70" y1="191.00" x2="175.00" y2="191.00" stroke="#000" stroke-width="0.9"/>
<line x1="61.20" y1="218.10" x2="64.70" y2="218.10" stroke="#000" stroke-width="0.6"/>
<line x1="62.90" y1="211.59" x2="64.70" y2="211.59" stroke="#000" stroke-width="0.42"/>
<line x1="62.90" y1="207.78" x2="64.70" y2="207.78" stroke="#000" stroke-width="0.42"/>
<line x1="62.90" y1="205.08" x2="64.70" y2="205.08" stroke="#000" stroke-width="0.42"/>
<line x1="62.90" y1="202.98" x2="64.70" y2="202.98" stroke="#000" stroke-width="0.42"/>
<line x1="62.90" y1="201.27" x2="64.70" y2="201.27" stroke="#000" stroke-width="0.42"/>
<line x1="62.90" y1="199.82" x2="64.70" y2="199.82" stroke="#000" stroke-width="0.42"/>
<line x1="62.90" y1="198.57" x2="64.70" y2="198.57" stroke="#000" stroke-width="0.42"/>
<line x1="62.90" y1="197.46" x2="64.70" y2="197.46" stroke="#000" stroke-width="0.42"/>
<line x1="61.20" y1="196.47" x2="64.70" y2="196.47" stroke="#000" stroke-width="0.6"/>
<line x1="62.90" y1="189.97" x2="64.70" y2="189.97" stroke="#000" stroke-width="0.42"/>
<line x1="62.90" y1="186.16" x2="64.70" y2="186.16" stroke="#000" stroke-width="0.42"/>
<line x1="62.90" y1="183.46" x2="64.70" y2="183.46" stroke="#000" stroke-width="0.42"/>
<line x1="62.90" y1="181.36" x2="64.70" y2="181.36" stroke="#000" stroke-width="0.42"/>
<line x1="62.90" y1="179.65" x2="64.70" y2="179.65" stroke="#000" stroke-width="0.42"/>
<line x1="62.90" y1="178.20" x2="64.70" y2="178.20" stroke="#000" stroke-width="0.42"/>
<line x1="62.90" y1="176.95" x2="64.70" y2="176.95" stroke="#000" stroke-width="0.42"/>
<line x1="62.90" y1="175.84" x2="64.70" y2="175.84" stroke="#000" stroke-width="0.42"/>
<line x1="61.20" y1="174.85" x2="64.70" y2="174.85" stroke="#000" stroke-width="0.6"/>
<line x1="62.90" y1="168.34" x2="64.70" y2="168.34" stroke="#000" stroke-width="0.42"/>
<line x1="62.90" y1="164.53" x2="64.70" y2="164.53" stroke="#000" stroke-width="0.42"/>
<line x1="62.90" y1="161.83" x2="64.70" y2="161.83" stroke="#000" stroke-width="0.42"/>
<line x1="62.90" y1="159.73" x2="64.70" y2="159.73" stroke="#000" stroke-width="0.42"/>
<line x1="62.90" y1="158.02" x2="64.70" y2="158.02" stroke="#000" stroke-width="0.42"/>
<line x1="62.90" y1="156.57" x2="64.70" y2="156.57" stroke="#000" stroke-width="0.42"/>
<line x1="62.90" y1="155.32" x2="64.70" y2="155.32" stroke="#000" stroke-width="0.42"/>
<line x1="62.90" y1="154.21" x2="64.70" y2="154.21" stroke="#000" stroke-width="0.42"/>
<line x1="61.20" y1="153.22" x2="64.70" y2="153.22" stroke="#000" stroke-width="0.6"/>
<line x1="62.90" y1="146.72" x2="64.70" y2="146.72" stroke="#000" stroke-width="0.42"/>
<line x1="62.90" y1="142.91" x2="64.70" y2="142.91" stroke="#000" stroke-width="0.42"/>
<line x1="62.90" y1="140.21" x2="64.70" y2="140.21" stroke="#000" stroke-width="0.42"/>
<line x1="62.90" y1="138.11" x2="64.70" y2="138.11" stroke="#000" stroke-width="0.42"/>
<line x1="62.90" y1="136.40" x2="64.70" y2="136.40" stroke="#000" stroke-width="0.42"/>
<line x1="62.90" y1="134.95" x2="64.70" y2="134.95" stroke="#000" stroke-width="0.42"/>
<line x1="62.90" y1="133.70" x2="64.70" y2="133.70" stroke="#000" stroke-width="0.42"/>
<line x1="62.90" y1="132.59" x2="64.70" y2="132.59" stroke="#000" stroke-width="0.42"/>
<line x1="61.20" y1="131.60" x2="64.70" y2="131.60" stroke="#000" stroke-width="0.6"/>
<line x1="64.70" y1="218.10" x2="64.70" y2="221.60" stroke="#000" stroke-width="0.6"/>
<line x1="73.00" y1="218.10" x2="73.00" y2="219.90" stroke="#000" stroke-width="0.42"/>
<line x1="77.86" y1="218.10" x2="77.86" y2="219.90" stroke="#000" stroke-width="0.42"/>
<line x1="81.30" y1="218.10" x2="81.30" y2="219.90" stroke="#000" stroke-width="0.42"/>
<line x1="83.97" y1="218.10" x2="83.97" y2="219.90" stroke="#000" stroke-width="0.42"/>
<line x1="86.16" y1="218.10" x2="86.16" y2="219.90" stroke="#000" stroke-width="0.42"/>
<line x1="88.00" y1="218.10" x2="88.00" y2="219.90" stroke="#000" stroke-width="0.42"/>
<line x1="89.60" y1="218.10" x2="89.60" y2="219.90" stroke="#000" stroke-width="0.42"/>
<line x1="91.01" y1="218.10" x2="91.01" y2="219.90" stroke="#000" stroke-width="0.42"/>
<line x1="92.28" y1="218.10" x2="92.28" y2="221.60" stroke="#000" stroke-width="0.6"/>
<line x1="100.58" y1="218.10" x2="100.58" y2="219.90" stroke="#000" stroke-width="0.42"/>
<line x1="105.43" y1="218.10" x2="105.43" y2="219.90" stroke="#000" stroke-width="0.42"/>
<line x1="108.88" y1="218.10" x2="108.88" y2="219.90" stroke="#000" stroke-width="0.42"/>
<line x1="111.55" y1="218.10" x2="111.55" y2="219.90" stroke="#000" stroke-width="0.42"/>
<line x1="113.73" y1="218.10" x2="113.73" y2="219.90" stroke="#000" stroke-width="0.42"/>
<line x1="115.58" y1="218.10" x2="115.58" y2="219.90" stroke="#000" stroke-width="0.42"/>
<line x1="117.18" y1="218.10" x2="117.18" y2="219.90" stroke="#000" stroke-width="0.42"/>
<line x1="118.59" y1="218.10" x2="118.59" y2="219.90" stroke="#000" stroke-width="0.42"/>
<line x1="119.85" y1="218.10" x2="119.85" y2="221.60" stroke="#000" stroke-width="0.6"/>
<line x1="128.15" y1="218.10" x2="128.15" y2="219.90" stroke="#000" stroke-width="0.42"/>
<line x1="133.01" y1="218.10" x2="133.01" y2="219.90" stroke="#000" stroke-width="0.42"/>
<line x1="136.45" y1="218.10" x2="136.45" y2="219.90" stroke="#000" stroke-width="0.42"/>
<line x1="139.12" y1="218.10" x2="139.12" y2="219.90" stroke="#000" stroke-width="0.42"/>
<line x1="141.31" y1="218.10" x2="141.31" y2="219.90" stroke="#000" stroke-width="0.42"/>
<line x1="143.15" y1="218.10" x2="143.15" y2="219.90" stroke="#000" stroke-width="0.42"/>
<line x1="144.75" y1="218.10" x2="144.75" y2="219.90" stroke="#000" stroke-width="0.42"/>
<line x1="146.16" y1="218.10" x2="146.16" y2="219.90" stroke="#000" stroke-width="0.42"/>
<line x1="147.43" y1="218.10" x2="147.43" y2="221.60" stroke="#000" stroke-width="0.6"/>
<line x1="155.73" y1="218.10" x2="155.73" y2="219.90" stroke="#000" stroke-width="0.42"/>
<line x1="160.58" y1="218.10" x2="160.58" y2="219.90" stroke="#000" stroke-width="0.42"/>
<line x1="164.03" y1="218.10" x2="164.03" y2="219.90" stroke="#000" stroke-width="0.42"/>
<line x1="166.70" y1="218.10" x2="166.70" y2="219.90" stroke="#000" stroke-width="0.42"/>
<line x1="168.88" y1="218.10" x2="168.88" y2="219.90" stroke="#000" stroke-width="0.42"/>
<line x1="170.73" y1="218.10" x2="170.73" y2="219.90" stroke="#000" stroke-width="0.42"/>
<line x1="172.33" y1="218.10" x2="172.33" y2="219.90" stroke="#000" stroke-width="0.42"/>
<line x1="173.74" y1="218.10" x2="173.74" y2="219.90" stroke="#000" stroke-width="0.42"/>
<line x1="175.00" y1="218.10" x2="175.00" y2="221.60" stroke="#000" stroke-width="0.6"/>
<text x="65.5" y="229.29999999999998" font-size="6.7" text-anchor="middle" fill="#111" stroke="#111" stroke-width="0.2">10<tspan dy="-2.7" font-size="5.7">0</tspan></text>
<text x="59.400000000000006" y="217.29999999999998" font-size="6.7" text-anchor="middle" fill="#111" stroke="#111" stroke-width="0.2" transform="rotate(-90 59.400000000000006 217.29999999999998)">10<tspan dy="-2.7" font-size="5.7">0</tspan></text>
<text x="93.075" y="229.29999999999998" font-size="6.7" text-anchor="middle" fill="#111" stroke="#111" stroke-width="0.2">10<tspan dy="-2.7" font-size="5.7">1</tspan></text>
<text x="59.400000000000006" y="195.67499999999998" font-size="6.7" text-anchor="middle" fill="#111" stroke="#111" stroke-width="0.2" transform="rotate(-90 59.400000000000006 195.67499999999998)">10<tspan dy="-2.7" font-size="5.7">1</tspan></text>
<text x="120.64999999999999" y="229.29999999999998" font-size="6.7" text-anchor="middle" fill="#111" stroke="#111" stroke-width="0.2">10<tspan dy="-2.7" font-size="5.7">2</tspan></text>
<text x="59.400000000000006" y="174.04999999999998" font-size="6.7" text-anchor="middle" fill="#111" stroke="#111" stroke-width="0.2" transform="rotate(-90 59.400000000000006 174.04999999999998)">10<tspan dy="-2.7" font-size="5.7">2</tspan></text>
<text x="148.22500000000002" y="229.29999999999998" font-size="6.7" text-anchor="middle" fill="#111" stroke="#111" stroke-width="0.2">10<tspan dy="-2.7" font-size="5.7">3</tspan></text>
<text x="59.400000000000006" y="152.42499999999998" font-size="6.7" text-anchor="middle" fill="#111" stroke="#111" stroke-width="0.2" transform="rotate(-90 59.400000000000006 152.42499999999998)">10<tspan dy="-2.7" font-size="5.7">3</tspan></text>
<text x="175.8" y="229.29999999999998" font-size="6.7" text-anchor="middle" fill="#111" stroke="#111" stroke-width="0.2">10<tspan dy="-2.7" font-size="5.7">4</tspan></text>
<text x="59.400000000000006" y="130.79999999999998" font-size="6.7" text-anchor="middle" fill="#111" stroke="#111" stroke-width="0.2" transform="rotate(-90 59.400000000000006 130.79999999999998)">10<tspan dy="-2.7" font-size="5.7">4</tspan></text>
<text x="48.900000000000006" y="177.04999999999998" font-size="6.0" font-weight="normal" text-anchor="middle" fill="#000" transform="rotate(-90 48.900000000000006 177.04999999999998)" stroke="#000" stroke-width="0.25">7AAD</text>
<text x="65.6" y="143.5" font-size="10.4" font-weight="bold" text-anchor="start" fill="#000"  stroke="#000" stroke-width="0.25">12.87%</text>
<text x="124.6" y="143.5" font-size="10.4" font-weight="bold" text-anchor="start" fill="#000"  stroke="#000" stroke-width="0.25">12.62%</text>
<text x="68.4" y="206.2" font-size="10.4" font-weight="bold" text-anchor="start" fill="#fff"  stroke="#fff" stroke-width="0.25">71.48%</text>
<text x="133.6" y="205.5" font-size="10.4" font-weight="bold" text-anchor="start" fill="#000"  stroke="#000" stroke-width="0.25">3.03%</text>
<text x="119.8" y="235.7" font-size="6.9" font-weight="normal" text-anchor="middle" fill="#222" >Annexine-PE</text>
<line x1="189.00" y1="201.00" x2="189.00" y2="239.70" stroke="#000" stroke-width="2.2"/>
<line x1="190.10" y1="238.60" x2="140.00" y2="238.60" stroke="#000" stroke-width="2.2"/>
<polygon points="189.0,192.6 183.7,202.6 194.3,202.6" fill="#000"/>
<polygon points="130.4,238.6 140.8,233.5 140.8,243.7" fill="#000"/>
<text x="209.3" y="233.4" font-size="12.9" font-weight="bold" text-anchor="start" fill="#000" transform="rotate(-90 209.3 233.4)"  stroke="#000" stroke-width="0.25">7AAD</text>
<text x="105.2" y="257.0" font-size="12.7" font-weight="bold" text-anchor="start" fill="#000"  stroke="#000" stroke-width="0.25">Annexin V-PE</text>
<text x="204.6" y="19.6" font-size="23.5" font-weight="bold" text-anchor="start" fill="#000"  stroke="#000" stroke-width="0.25">B</text>
<text x="254.8" y="18.8" font-size="13.4" font-weight="bold" text-anchor="start" fill="#000"  stroke="#000" stroke-width="0.25">TPO</text>
<text x="360.2" y="18.8" font-size="13.4" font-weight="bold" text-anchor="start" fill="#000"  stroke="#000" stroke-width="0.25">TPO+Rapa</text>
<ellipse cx="251.3" cy="102.0" rx="2.6" ry="3.2" fill="#000"/>
<path d="M259.3 61.1h0M271.6 68.2h0M276.2 66.3h0M262.5 71.7h0M266.7 68.6h0M257.0 62.9h0M258.6 64.2h0M275.9 61.0h0M268.9 71.8h0M251.9 76.4h0M267.0 71.2h0M266.7 76.3h0M268.3 63.0h0M259.7 61.3h0M258.4 61.3h0M267.0 76.0h0M263.3 76.5h0M274.5 73.7h0M251.1 47.5h0M274.1 72.2h0M253.1 62.3h0M266.9 68.1h0M254.1 67.8h0M252.5 66.2h0M270.2 70.4h0M260.1 73.3h0M281.4 65.9h0M266.1 56.7h0M271.7 55.2h0M263.1 75.5h0M270.0 41.9h0M258.2 48.7h0M262.5 56.4h0M284.0 77.7h0M256.6 65.7h0M265.5 76.0h0M276.8 73.5h0M254.2 42.7h0M252.0 58.8h0M271.5 57.4h0M275.9 74.5h0M265.7 74.8h0M258.9 76.6h0M265.8 63.4h0M258.3 51.3h0M262.2 72.4h0M261.6 64.4h0M279.6 91.3h0M253.5 78.2h0M264.8 68.0h0M258.0 66.0h0M267.6 71.5h0M260.1 63.8h0M270.5 80.3h0M261.4 72.3h0M271.3 71.0h0M257.2 68.3h0M265.7 59.1h0M265.5 68.0h0M259.0 81.4h0M267.6 61.2h0M275.2 65.8h0M256.5 58.4h0M274.1 58.6h0M267.8 71.9h0M260.2 74.1h0M273.9 67.5h0M265.0 73.5h0M265.7 78.8h0M271.5 68.8h0M267.0 64.9h0M270.7 62.2h0M264.7 57.9h0M285.3 70.5h0M265.5 71.9h0M250.9 79.9h0M251.1 73.2h0M261.7 74.2h0M270.5 70.2h0M273.6 65.6h0M267.1 65.6h0M259.2 59.3h0M268.2 82.0h0M257.9 64.1h0M259.2 71.3h0M248.1 69.4h0M258.8 59.9h0M267.1 69.7h0M267.5 78.0h0M253.1 77.1h0M269.6 87.9h0M276.8 72.3h0M248.5 70.2h0M278.1 74.8h0M264.4 58.1h0M265.5 56.2h0M258.3 64.8h0M268.6 62.9h0M264.5 67.9h0M267.4 73.1h0M269.1 65.8h0M266.5 63.0h0M254.7 63.4h0M264.9 51.6h0M271.7 71.0h0M251.7 59.7h0M257.4 49.5h0M250.2 71.5h0M248.0 86.0h0M277.0 80.8h0M269.3 77.6h0M276.4 60.1h0M278.5 61.6h0M262.0 46.6h0M262.2 54.0h0M284.5 71.1h0M272.7 64.1h0M273.1 72.5h0M261.8 72.5h0M261.5 57.5h0M247.7 54.7h0M270.1 84.1h0M261.0 63.1h0M276.3 66.8h0M267.9 68.2h0M244.1 56.9h0M267.7 68.9h0M262.6 57.1h0M266.2 65.7h0M256.4 66.1h0M267.2 85.7h0M274.5 60.5h0M271.8 55.1h0M244.7 61.5h0M281.6 74.1h0M259.0 71.4h0M247.0 66.4h0M256.6 57.7h0M261.6 61.4h0M267.8 57.6h0M268.3 71.7h0M272.1 73.3h0M271.1 76.7h0M276.0 76.8h0M275.3 57.1h0M262.8 80.1h0M259.8 74.2h0M274.3 79.2h0M259.8 70.0h0M263.9 73.4h0M274.9 100.8h0M270.9 90.4h0M265.9 100.9h0M262.8 96.6h0M276.2 92.8h0M263.7 98.4h0M280.8 90.5h0M266.7 98.7h0M267.5 97.2h0M276.3 94.2h0M279.9 97.4h0M272.6 96.0h0M277.2 90.8h0M271.9 101.3h0M269.1 101.0h0M264.7 98.0h0M268.9 98.0h0M262.9 101.1h0M282.0 91.8h0M272.4 96.0h0M280.8 94.2h0M273.5 97.9h0M272.0 99.2h0M275.3 95.5h0M264.7 100.7h0M269.0 103.0h0M262.2 101.0h0M266.9 92.9h0M267.5 95.9h0M270.4 97.6h0M276.9 95.0h0M270.9 97.2h0M273.3 96.8h0M283.1 91.6h0M270.0 99.7h0M263.9 101.5h0M270.0 99.8h0M270.9 97.7h0M277.3 97.2h0M279.3 92.1h0M267.5 100.9h0M280.9 97.2h0M271.7 97.2h0M280.4 92.7h0M267.6 97.8h0M281.1 93.5h0M281.8 95.9h0M267.4 100.2h0M270.0 92.1h0M271.4 95.1h0M263.5 97.5h0M262.6 101.9h0M282.5 93.1h0M267.1 95.8h0M269.3 94.2h0M251.1 96.4h0M309.1 56.9h0M317.9 101.0h0M290.8 103.0h0M274.7 49.5h0M265.7 64.6h0M317.0 78.5h0M291.3 48.2h0M265.8 99.7h0M239.0 44.9h0M263.4 60.4h0M279.4 106.1h0M301.7 88.7h0M275.3 73.1h0" stroke="#444" stroke-width="0.84" stroke-linecap="square" fill="none" stroke-opacity="1"/>
<path d="M254.4 100.9h0M254.6 101.7h0M250.6 101.1h0M252.2 103.9h0M250.6 103.2h0M248.9 98.1h0M248.3 100.9h0M250.0 103.6h0M250.6 101.0h0M250.7 98.5h0M248.9 106.5h0M252.4 98.6h0M249.0 102.8h0M247.1 96.6h0M250.4 100.6h0M252.7 99.5h0M248.9 103.0h0M249.5 102.3h0M247.7 101.1h0M254.7 98.6h0M251.2 101.7h0M251.5 101.6h0M252.7 100.4h0M249.5 102.4h0M251.7 97.7h0M252.7 101.1h0M253.1 102.0h0M248.9 101.1h0M252.6 104.4h0M250.9 103.5h0M253.8 102.7h0M254.0 103.5h0M249.5 99.1h0M249.7 106.0h0M253.5 99.8h0M251.2 106.8h0M249.7 102.0h0M250.6 104.0h0M247.7 102.8h0M251.6 104.7h0M252.1 102.9h0M249.5 102.6h0M250.3 106.2h0M251.9 102.1h0M251.6 102.2h0M250.6 103.5h0M251.3 99.9h0M253.0 103.8h0M253.4 101.0h0M253.1 105.6h0M252.5 102.9h0M251.2 98.3h0M249.4 101.9h0M253.3 103.2h0M250.3 102.5h0M251.1 100.3h0M251.2 104.0h0M249.2 101.0h0M251.2 99.6h0M249.6 103.1h0M255.3 102.2h0M250.3 105.7h0M251.6 97.6h0M250.3 97.5h0M250.7 105.4h0M255.1 109.7h0M253.2 101.3h0M250.1 101.1h0M249.3 99.9h0M252.0 102.3h0M251.7 101.7h0M248.5 103.3h0M251.3 103.9h0M251.6 99.7h0M253.1 103.9h0M250.8 103.7h0M252.2 100.9h0M251.7 100.3h0M253.8 101.0h0M253.1 106.2h0M251.4 103.6h0M254.1 97.7h0M255.3 103.5h0M248.1 100.8h0M257.6 100.5h0M255.4 104.6h0M249.7 101.7h0M256.4 96.8h0M251.8 97.8h0M250.0 99.3h0M245.6 97.4h0M246.7 96.0h0M249.9 104.5h0M248.5 103.8h0M250.4 96.8h0M246.8 100.8h0M251.3 103.5h0M249.8 91.3h0M253.1 105.8h0M251.6 100.7h0M252.9 101.2h0M258.8 99.7h0M253.0 104.0h0M253.0 92.9h0M252.7 98.7h0M248.7 104.1h0M249.7 101.9h0M249.6 102.7h0M255.3 96.5h0M249.3 104.1h0M249.0 104.6h0M252.6 96.3h0M250.0 105.8h0M253.9 100.8h0M252.2 104.8h0M249.8 101.6h0M252.8 105.8h0M250.5 99.4h0M252.3 99.2h0M250.8 102.5h0M250.2 99.0h0M252.3 100.7h0M250.5 99.8h0M248.2 97.0h0M249.5 95.5h0M255.8 109.1h0M250.9 99.8h0M251.2 98.7h0M250.0 104.0h0M253.0 94.7h0M252.1 96.7h0M253.3 96.9h0M252.4 97.1h0M251.0 101.7h0M253.5 94.3h0M250.0 96.7h0M246.8 101.2h0M250.9 98.9h0M249.3 107.7h0M249.1 89.1h0M250.5 101.4h0M248.5 99.6h0M245.1 99.1h0M251.7 96.2h0M248.4 95.7h0M250.0 104.6h0M251.8 97.5h0M250.1 103.5h0" stroke="#111" stroke-width="1.00" stroke-linecap="square" fill="none" stroke-opacity="1"/>
<rect x="225.00" y="27.10" width="102.75" height="87.90" stroke="#4a4a4a" stroke-width="1.0" fill="none"/>
<line x1="225.00" y1="27.10" x2="225.00" y2="115.00" stroke="#000" stroke-width="1.0"/>
<line x1="225.00" y1="115.00" x2="327.75" y2="115.00" stroke="#000" stroke-width="1.0"/>
<rect x="243.80" y="45.80" width="45.70" height="39.40" stroke="#333" stroke-width="0.8" fill="none"/>
<rect x="244.50" y="85.80" width="14.90" height="24.00" stroke="#333" stroke-width="0.8" fill="none"/>
<rect x="260.60" y="85.20" width="28.90" height="21.00" stroke="#333" stroke-width="0.8" fill="none"/>
<line x1="222.00" y1="115.00" x2="225.00" y2="115.00" stroke="#000" stroke-width="0.5"/>
<line x1="223.50" y1="108.38" x2="225.00" y2="108.38" stroke="#000" stroke-width="0.35"/>
<line x1="223.50" y1="104.52" x2="225.00" y2="104.52" stroke="#000" stroke-width="0.35"/>
<line x1="223.50" y1="101.77" x2="225.00" y2="101.77" stroke="#000" stroke-width="0.35"/>
<line x1="223.50" y1="99.64" x2="225.00" y2="99.64" stroke="#000" stroke-width="0.35"/>
<line x1="223.50" y1="97.90" x2="225.00" y2="97.90" stroke="#000" stroke-width="0.35"/>
<line x1="223.50" y1="96.43" x2="225.00" y2="96.43" stroke="#000" stroke-width="0.35"/>
<line x1="223.50" y1="95.15" x2="225.00" y2="95.15" stroke="#000" stroke-width="0.35"/>
<line x1="223.50" y1="94.03" x2="225.00" y2="94.03" stroke="#000" stroke-width="0.35"/>
<line x1="222.00" y1="93.03" x2="225.00" y2="93.03" stroke="#000" stroke-width="0.5"/>
<line x1="223.50" y1="86.41" x2="225.00" y2="86.41" stroke="#000" stroke-width="0.35"/>
<line x1="223.50" y1="82.54" x2="225.00" y2="82.54" stroke="#000" stroke-width="0.35"/>
<line x1="223.50" y1="79.79" x2="225.00" y2="79.79" stroke="#000" stroke-width="0.35"/>
<line x1="223.50" y1="77.67" x2="225.00" y2="77.67" stroke="#000" stroke-width="0.35"/>
<line x1="223.50" y1="75.93" x2="225.00" y2="75.93" stroke="#000" stroke-width="0.35"/>
<line x1="223.50" y1="74.45" x2="225.00" y2="74.45" stroke="#000" stroke-width="0.35"/>
<line x1="223.50" y1="73.18" x2="225.00" y2="73.18" stroke="#000" stroke-width="0.35"/>
<line x1="223.50" y1="72.06" x2="225.00" y2="72.06" stroke="#000" stroke-width="0.35"/>
<line x1="222.00" y1="71.05" x2="225.00" y2="71.05" stroke="#000" stroke-width="0.5"/>
<line x1="223.50" y1="64.43" x2="225.00" y2="64.43" stroke="#000" stroke-width="0.35"/>
<line x1="223.50" y1="60.57" x2="225.00" y2="60.57" stroke="#000" stroke-width="0.35"/>
<line x1="223.50" y1="57.82" x2="225.00" y2="57.82" stroke="#000" stroke-width="0.35"/>
<line x1="223.50" y1="55.69" x2="225.00" y2="55.69" stroke="#000" stroke-width="0.35"/>
<line x1="223.50" y1="53.95" x2="225.00" y2="53.95" stroke="#000" stroke-width="0.35"/>
<line x1="223.50" y1="52.48" x2="225.00" y2="52.48" stroke="#000" stroke-width="0.35"/>
<line x1="223.50" y1="51.20" x2="225.00" y2="51.20" stroke="#000" stroke-width="0.35"/>
<line x1="223.50" y1="50.08" x2="225.00" y2="50.08" stroke="#000" stroke-width="0.35"/>
<line x1="222.00" y1="49.07" x2="225.00" y2="49.07" stroke="#000" stroke-width="0.5"/>
<line x1="223.50" y1="42.46" x2="225.00" y2="42.46" stroke="#000" stroke-width="0.35"/>
<line x1="223.50" y1="38.59" x2="225.00" y2="38.59" stroke="#000" stroke-width="0.35"/>
<line x1="223.50" y1="35.84" x2="225.00" y2="35.84" stroke="#000" stroke-width="0.35"/>
<line x1="223.50" y1="33.72" x2="225.00" y2="33.72" stroke="#000" stroke-width="0.35"/>
<line x1="223.50" y1="31.98" x2="225.00" y2="31.98" stroke="#000" stroke-width="0.35"/>
<line x1="223.50" y1="30.50" x2="225.00" y2="30.50" stroke="#000" stroke-width="0.35"/>
<line x1="223.50" y1="29.23" x2="225.00" y2="29.23" stroke="#000" stroke-width="0.35"/>
<line x1="223.50" y1="28.11" x2="225.00" y2="28.11" stroke="#000" stroke-width="0.35"/>
<line x1="222.00" y1="27.10" x2="225.00" y2="27.10" stroke="#000" stroke-width="0.5"/>
<line x1="226.25" y1="115.00" x2="226.25" y2="118.00" stroke="#000" stroke-width="0.5"/>
<text x="226.25" y="124.6" font-size="5.7" font-weight="normal" text-anchor="middle" fill="#222" >0</text>
<line x1="231.18" y1="115.00" x2="231.18" y2="116.50" stroke="#000" stroke-width="0.4"/>
<line x1="236.10" y1="115.00" x2="236.10" y2="116.50" stroke="#000" stroke-width="0.4"/>
<line x1="241.03" y1="115.00" x2="241.03" y2="116.50" stroke="#000" stroke-width="0.4"/>
<line x1="245.95" y1="115.00" x2="245.95" y2="118.00" stroke="#000" stroke-width="0.5"/>
<text x="245.95" y="124.6" font-size="5.7" font-weight="normal" text-anchor="middle" fill="#222" >200</text>
<line x1="250.88" y1="115.00" x2="250.88" y2="116.50" stroke="#000" stroke-width="0.4"/>
<line x1="255.80" y1="115.00" x2="255.80" y2="116.50" stroke="#000" stroke-width="0.4"/>
<line x1="260.72" y1="115.00" x2="260.72" y2="116.50" stroke="#000" stroke-width="0.4"/>
<line x1="265.65" y1="115.00" x2="265.65" y2="118.00" stroke="#000" stroke-width="0.5"/>
<text x="265.65" y="124.6" font-size="5.7" font-weight="normal" text-anchor="middle" fill="#222" >400</text>
<line x1="270.57" y1="115.00" x2="270.57" y2="116.50" stroke="#000" stroke-width="0.4"/>
<line x1="275.50" y1="115.00" x2="275.50" y2="116.50" stroke="#000" stroke-width="0.4"/>
<line x1="280.42" y1="115.00" x2="280.42" y2="116.50" stroke="#000" stroke-width="0.4"/>
<line x1="285.35" y1="115.00" x2="285.35" y2="118.00" stroke="#000" stroke-width="0.5"/>
<text x="285.35" y="124.6" font-size="5.7" font-weight="normal" text-anchor="middle" fill="#222" >600</text>
<line x1="290.28" y1="115.00" x2="290.28" y2="116.50" stroke="#000" stroke-width="0.4"/>
<line x1="295.20" y1="115.00" x2="295.20" y2="116.50" stroke="#000" stroke-width="0.4"/>
<line x1="300.12" y1="115.00" x2="300.12" y2="116.50" stroke="#000" stroke-width="0.4"/>
<line x1="305.05" y1="115.00" x2="305.05" y2="118.00" stroke="#000" stroke-width="0.5"/>
<text x="305.05" y="124.6" font-size="5.7" font-weight="normal" text-anchor="middle" fill="#222" >800</text>
<line x1="309.98" y1="115.00" x2="309.98" y2="116.50" stroke="#000" stroke-width="0.4"/>
<line x1="314.90" y1="115.00" x2="314.90" y2="116.50" stroke="#000" stroke-width="0.4"/>
<line x1="319.82" y1="115.00" x2="319.82" y2="116.50" stroke="#000" stroke-width="0.4"/>
<line x1="324.75" y1="115.00" x2="324.75" y2="118.00" stroke="#000" stroke-width="0.5"/>
<text x="324.75" y="124.6" font-size="5.7" font-weight="normal" text-anchor="middle" fill="#222" >1000</text>
<text x="220.6" y="114.5" font-size="5.8" text-anchor="middle" fill="#222" stroke="#222" stroke-width="0.2" transform="rotate(-90 220.6 114.5)">10<tspan dy="-2.7" font-size="4.9">0</tspan></text>
<text x="220.6" y="92.525" font-size="5.8" text-anchor="middle" fill="#222" stroke="#222" stroke-width="0.2" transform="rotate(-90 220.6 92.525)">10<tspan dy="-2.7" font-size="4.9">1</tspan></text>
<text x="220.6" y="70.55" font-size="5.8" text-anchor="middle" fill="#222" stroke="#222" stroke-width="0.2" transform="rotate(-90 220.6 70.55)">10<tspan dy="-2.7" font-size="4.9">2</tspan></text>
<text x="220.6" y="48.57499999999999" font-size="5.8" text-anchor="middle" fill="#222" stroke="#222" stroke-width="0.2" transform="rotate(-90 220.6 48.57499999999999)">10<tspan dy="-2.7" font-size="4.9">3</tspan></text>
<text x="220.6" y="26.599999999999994" font-size="5.8" text-anchor="middle" fill="#222" stroke="#222" stroke-width="0.2" transform="rotate(-90 220.6 26.599999999999994)">10<tspan dy="-2.7" font-size="4.9">4</tspan></text>
<text x="214.4" y="72.55" font-size="5.0" font-weight="normal" text-anchor="middle" fill="#000" transform="rotate(-90 214.4 72.55)" stroke="#000" stroke-width="0.15">Anti-BrdU FITC</text>
<text x="241.8" y="40.6" font-size="10.5" font-weight="bold" text-anchor="start" fill="#000"  stroke="#000" stroke-width="0.25">S: 14.6%</text>
<text x="289.3" y="90.6" font-size="10.5" font-weight="bold" text-anchor="start" fill="#000" letter-spacing="-0.38" stroke="#000" stroke-width="0.25">G2/M:</text>
<text x="295.3" y="103.2" font-size="10.5" font-weight="bold" text-anchor="start" fill="#000"  stroke="#000" stroke-width="0.25">8.9%</text>
<text x="228.2" y="107.0" font-size="10.5" font-weight="bold" text-anchor="start" fill="#000"  stroke="#000" stroke-width="0.25">G1</text>
<line x1="265.00" y1="51.00" x2="265.00" y2="54.80" stroke="#000" stroke-width="1.6"/>
<polygon points="265.0,43.0 260.8,52.0 269.2,52.0" fill="#000"/>
<line x1="275.50" y1="102.00" x2="286.00" y2="102.00" stroke="#000" stroke-width="1.6"/>
<polygon points="293.2,102.0 285.0,98.0 285.0,106.0" fill="#000"/>
<ellipse cx="380.3" cy="102.8" rx="2.9" ry="4.0" fill="#000"/>
<path d="M401.9 69.1h0M389.6 62.8h0M388.0 61.2h0M388.3 84.5h0M385.6 81.6h0M387.8 75.9h0M402.4 68.7h0M384.6 64.3h0M395.1 65.6h0M398.0 73.8h0M405.2 55.4h0M383.6 53.7h0M391.5 73.2h0M392.1 61.3h0M391.2 76.1h0M389.2 70.7h0M387.7 66.2h0M398.6 66.1h0M389.9 71.1h0M394.4 76.8h0M405.3 73.7h0M388.2 64.0h0M395.1 65.9h0M391.0 78.3h0M395.3 82.2h0M390.0 67.8h0M390.7 63.7h0M397.1 79.3h0M392.2 68.7h0M385.3 70.2h0M388.6 86.0h0M391.0 67.2h0M386.6 70.9h0M392.2 70.7h0M402.7 72.7h0M388.0 65.5h0M378.6 72.5h0M385.0 74.3h0M379.4 65.7h0M394.3 66.9h0M398.7 71.1h0M392.8 67.4h0M389.9 73.3h0M399.0 60.4h0M398.3 69.5h0M403.6 76.0h0M395.0 68.8h0M396.5 64.4h0M392.0 69.1h0M398.5 71.3h0M386.2 66.2h0M383.1 75.3h0M381.0 67.1h0M385.3 62.1h0M407.7 72.9h0M394.6 75.5h0M397.3 81.9h0M382.3 64.2h0M378.1 71.0h0M401.8 66.0h0M400.6 73.2h0M390.2 67.7h0M392.7 74.7h0M397.4 68.7h0M393.0 70.8h0M392.1 71.0h0M387.2 62.7h0M402.9 77.4h0M394.5 76.3h0M402.6 69.8h0M388.2 71.4h0M389.2 72.6h0M396.5 57.3h0M401.3 69.0h0M400.4 57.9h0M389.9 71.9h0M399.1 79.8h0M406.1 70.1h0M384.7 64.9h0M400.3 66.4h0M398.1 69.4h0M390.6 73.6h0M395.6 74.1h0M393.0 64.3h0M396.3 60.6h0M395.0 68.7h0M379.6 74.9h0M411.1 64.2h0M384.4 66.3h0M400.9 83.1h0M394.5 63.5h0M400.1 62.3h0M389.6 69.2h0M404.0 74.0h0M407.2 56.1h0M395.5 72.1h0M393.4 77.4h0M396.3 77.2h0M397.6 72.3h0M395.5 60.3h0M382.0 69.6h0M390.7 55.4h0M389.1 74.5h0M408.3 76.4h0M382.8 65.4h0M389.2 73.0h0M395.5 82.9h0M398.9 69.8h0M385.8 75.6h0M386.6 69.5h0M390.9 75.2h0M391.0 66.0h0M398.1 60.9h0M395.2 69.3h0M402.2 65.7h0M393.9 71.6h0M389.6 65.9h0M390.4 71.0h0M387.6 66.4h0M387.0 63.8h0M387.7 60.3h0M396.7 70.9h0M391.2 77.3h0M396.5 71.0h0M381.6 68.7h0M386.9 62.1h0M391.5 78.1h0M399.0 78.1h0M394.5 63.3h0M395.8 76.2h0M383.9 64.3h0M388.3 66.2h0M383.9 70.1h0M400.5 78.1h0M407.2 62.5h0M396.4 75.4h0M388.0 68.5h0M394.2 64.2h0M394.2 60.9h0M389.4 65.3h0M391.6 77.9h0M384.9 74.0h0M406.5 67.8h0M394.4 63.1h0M388.9 62.4h0M386.7 64.6h0M406.9 71.6h0M393.8 70.3h0M389.3 66.8h0M390.8 66.9h0M398.3 66.8h0M392.5 64.4h0M385.5 69.4h0M414.5 68.7h0M393.4 76.8h0M391.1 60.2h0M387.8 75.1h0M383.3 83.5h0M385.0 78.6h0M391.9 67.7h0M398.8 64.1h0M384.0 68.6h0M391.0 69.1h0M400.0 70.5h0M383.6 66.7h0M376.4 65.4h0M382.5 68.2h0M404.0 77.1h0M385.2 66.6h0M408.6 63.8h0M399.1 65.4h0M398.8 75.0h0M385.0 80.4h0M384.6 82.9h0M399.8 74.6h0M391.3 73.3h0M383.0 67.8h0M389.7 75.0h0M388.6 68.7h0M393.3 76.0h0M412.5 92.8h0M412.5 96.1h0M408.4 91.0h0M402.9 99.7h0M400.3 93.5h0M400.6 94.9h0M397.5 96.1h0M402.2 94.9h0M397.8 102.8h0M390.9 98.2h0M411.9 99.1h0M400.6 96.1h0M390.2 95.6h0M397.6 98.4h0M391.5 95.3h0M404.4 93.7h0M408.0 99.5h0M405.2 92.3h0M400.2 93.3h0M402.0 93.7h0M404.9 97.3h0M402.8 92.6h0M398.2 99.5h0M401.6 93.3h0M401.2 98.9h0M402.1 97.3h0M397.4 98.1h0M401.1 92.3h0M402.8 91.0h0M403.5 92.5h0M390.2 103.1h0M399.0 96.5h0M403.5 94.4h0M387.0 100.4h0M392.5 97.0h0M406.3 91.6h0M395.5 93.0h0M395.2 97.5h0M405.9 94.0h0M400.5 97.7h0M407.2 92.1h0M401.6 101.4h0M395.4 92.7h0M397.4 98.4h0M385.4 95.0h0M396.0 100.6h0M404.9 97.8h0M401.3 97.9h0M410.3 92.2h0M394.8 98.7h0M400.3 97.4h0M398.8 94.4h0M403.0 96.6h0M402.2 95.8h0M393.8 95.6h0M401.6 85.3h0M373.3 40.6h0M388.4 43.0h0M439.6 68.7h0M370.7 93.8h0M384.0 95.4h0M416.9 96.8h0M370.4 94.0h0M378.9 105.9h0M433.6 41.0h0M383.6 104.1h0M412.7 69.4h0M417.6 46.3h0M407.0 70.3h0" stroke="#444" stroke-width="0.84" stroke-linecap="square" fill="none" stroke-opacity="1"/>
<path d="M383.8 97.3h0M379.6 103.6h0M378.5 105.1h0M381.3 94.5h0M382.4 103.2h0M380.9 101.7h0M380.0 100.8h0M379.5 102.4h0M378.2 102.4h0M383.5 101.5h0M382.1 103.2h0M379.3 104.0h0M378.2 104.3h0M379.4 103.3h0M381.6 103.1h0M381.6 97.8h0M379.2 104.8h0M382.2 105.9h0M379.0 106.9h0M378.4 105.3h0M380.4 104.6h0M378.7 104.8h0M378.0 104.8h0M380.7 105.0h0M381.9 104.1h0M378.0 108.1h0M380.5 108.9h0M380.5 101.1h0M378.6 101.4h0M381.7 100.1h0M381.9 104.9h0M380.2 105.6h0M376.5 98.7h0M377.0 98.7h0M377.3 105.0h0M381.7 102.4h0M375.6 103.9h0M383.1 100.6h0M380.5 99.3h0M380.3 106.6h0M382.0 99.0h0M378.8 102.9h0M380.8 94.0h0M378.7 101.0h0M379.5 102.4h0M379.8 103.8h0M380.9 105.4h0M384.6 99.1h0M378.7 101.9h0M380.8 101.2h0M378.9 103.1h0M381.0 106.6h0M378.3 101.4h0M381.4 110.1h0M379.6 100.0h0M379.7 104.5h0M377.9 98.5h0M384.9 104.8h0M379.5 108.4h0M379.7 110.0h0M379.9 101.0h0M383.8 103.5h0M381.5 102.7h0M382.1 100.2h0M383.8 102.5h0M380.0 103.6h0M379.2 103.3h0M378.8 106.8h0M379.5 101.1h0M379.2 103.5h0M379.6 104.5h0M377.9 100.3h0M381.5 106.1h0M380.7 100.1h0M380.6 104.0h0M382.9 100.9h0M380.7 103.0h0M381.6 107.3h0M380.8 104.6h0M383.2 101.8h0M381.0 103.8h0M383.6 101.1h0M382.7 108.9h0M382.9 97.8h0M381.3 104.0h0M385.2 103.3h0M383.5 106.1h0M378.5 107.3h0M383.0 103.7h0M377.2 102.1h0M379.8 102.0h0M382.1 103.3h0M384.0 104.4h0M381.5 103.6h0M381.4 103.4h0M379.9 107.5h0M381.3 102.1h0M382.0 104.8h0M382.7 105.1h0M381.7 102.7h0M380.2 101.4h0M380.7 107.8h0M381.2 104.6h0M380.5 103.7h0M380.1 98.6h0M381.5 95.9h0M378.0 97.4h0M382.2 102.6h0M382.4 105.8h0M380.2 98.3h0M377.9 107.4h0M377.0 105.5h0M380.6 105.3h0M379.5 103.1h0M381.9 104.8h0M378.0 101.4h0M382.1 98.1h0M383.0 96.9h0M381.0 92.5h0M380.2 98.5h0M377.7 98.7h0M379.4 100.1h0M379.4 95.0h0M383.9 105.2h0M383.9 101.3h0M377.2 97.1h0M382.5 99.7h0M382.7 96.2h0M379.6 91.3h0M379.2 104.2h0M378.1 95.0h0M384.7 104.9h0M379.8 103.4h0M382.6 97.7h0M381.1 96.2h0M385.9 88.3h0M382.0 101.6h0M378.7 95.7h0M380.6 97.0h0M379.8 93.4h0M380.3 96.1h0M377.2 107.1h0M378.4 99.9h0M379.8 91.8h0M382.4 98.3h0M381.1 96.6h0M380.3 101.3h0M381.2 98.9h0M382.8 92.2h0M383.4 94.8h0M379.4 94.8h0M383.0 93.1h0M385.5 92.4h0M383.6 93.8h0M380.1 91.7h0M378.6 91.8h0M381.6 97.0h0M384.8 99.0h0M383.1 105.0h0M379.4 96.0h0M379.3 95.0h0M380.0 99.8h0M384.7 99.3h0M381.5 96.2h0M378.9 95.0h0M384.1 103.3h0M378.4 104.0h0M384.1 88.3h0M379.3 101.9h0M382.5 101.9h0M382.1 93.6h0M381.7 94.2h0M384.5 104.0h0M379.6 90.5h0M382.2 93.7h0M378.6 98.4h0" stroke="#111" stroke-width="1.00" stroke-linecap="square" fill="none" stroke-opacity="1"/>
<rect x="354.00" y="27.10" width="104.10" height="87.90" stroke="#4a4a4a" stroke-width="1.0" fill="none"/>
<line x1="354.00" y1="27.10" x2="354.00" y2="115.00" stroke="#000" stroke-width="1.0"/>
<line x1="354.00" y1="115.00" x2="458.10" y2="115.00" stroke="#000" stroke-width="1.0"/>
<rect x="373.50" y="46.30" width="46.00" height="38.70" stroke="#333" stroke-width="0.8" fill="none"/>
<rect x="374.30" y="85.60" width="15.00" height="24.40" stroke="#333" stroke-width="0.8" fill="none"/>
<rect x="390.60" y="85.00" width="28.60" height="21.20" stroke="#333" stroke-width="0.8" fill="none"/>
<line x1="351.00" y1="115.00" x2="354.00" y2="115.00" stroke="#000" stroke-width="0.5"/>
<line x1="352.50" y1="108.38" x2="354.00" y2="108.38" stroke="#000" stroke-width="0.35"/>
<line x1="352.50" y1="104.52" x2="354.00" y2="104.52" stroke="#000" stroke-width="0.35"/>
<line x1="352.50" y1="101.77" x2="354.00" y2="101.77" stroke="#000" stroke-width="0.35"/>
<line x1="352.50" y1="99.64" x2="354.00" y2="99.64" stroke="#000" stroke-width="0.35"/>
<line x1="352.50" y1="97.90" x2="354.00" y2="97.90" stroke="#000" stroke-width="0.35"/>
<line x1="352.50" y1="96.43" x2="354.00" y2="96.43" stroke="#000" stroke-width="0.35"/>
<line x1="352.50" y1="95.15" x2="354.00" y2="95.15" stroke="#000" stroke-width="0.35"/>
<line x1="352.50" y1="94.03" x2="354.00" y2="94.03" stroke="#000" stroke-width="0.35"/>
<line x1="351.00" y1="93.03" x2="354.00" y2="93.03" stroke="#000" stroke-width="0.5"/>
<line x1="352.50" y1="86.41" x2="354.00" y2="86.41" stroke="#000" stroke-width="0.35"/>
<line x1="352.50" y1="82.54" x2="354.00" y2="82.54" stroke="#000" stroke-width="0.35"/>
<line x1="352.50" y1="79.79" x2="354.00" y2="79.79" stroke="#000" stroke-width="0.35"/>
<line x1="352.50" y1="77.67" x2="354.00" y2="77.67" stroke="#000" stroke-width="0.35"/>
<line x1="352.50" y1="75.93" x2="354.00" y2="75.93" stroke="#000" stroke-width="0.35"/>
<line x1="352.50" y1="74.45" x2="354.00" y2="74.45" stroke="#000" stroke-width="0.35"/>
<line x1="352.50" y1="73.18" x2="354.00" y2="73.18" stroke="#000" stroke-width="0.35"/>
<line x1="352.50" y1="72.06" x2="354.00" y2="72.06" stroke="#000" stroke-width="0.35"/>
<line x1="351.00" y1="71.05" x2="354.00" y2="71.05" stroke="#000" stroke-width="0.5"/>
<line x1="352.50" y1="64.43" x2="354.00" y2="64.43" stroke="#000" stroke-width="0.35"/>
<line x1="352.50" y1="60.57" x2="354.00" y2="60.57" stroke="#000" stroke-width="0.35"/>
<line x1="352.50" y1="57.82" x2="354.00" y2="57.82" stroke="#000" stroke-width="0.35"/>
<line x1="352.50" y1="55.69" x2="354.00" y2="55.69" stroke="#000" stroke-width="0.35"/>
<line x1="352.50" y1="53.95" x2="354.00" y2="53.95" stroke="#000" stroke-width="0.35"/>
<line x1="352.50" y1="52.48" x2="354.00" y2="52.48" stroke="#000" stroke-width="0.35"/>
<line x1="352.50" y1="51.20" x2="354.00" y2="51.20" stroke="#000" stroke-width="0.35"/>
<line x1="352.50" y1="50.08" x2="354.00" y2="50.08" stroke="#000" stroke-width="0.35"/>
<line x1="351.00" y1="49.07" x2="354.00" y2="49.07" stroke="#000" stroke-width="0.5"/>
<line x1="352.50" y1="42.46" x2="354.00" y2="42.46" stroke="#000" stroke-width="0.35"/>
<line x1="352.50" y1="38.59" x2="354.00" y2="38.59" stroke="#000" stroke-width="0.35"/>
<line x1="352.50" y1="35.84" x2="354.00" y2="35.84" stroke="#000" stroke-width="0.35"/>
<line x1="352.50" y1="33.72" x2="354.00" y2="33.72" stroke="#000" stroke-width="0.35"/>
<line x1="352.50" y1="31.98" x2="354.00" y2="31.98" stroke="#000" stroke-width="0.35"/>
<line x1="352.50" y1="30.50" x2="354.00" y2="30.50" stroke="#000" stroke-width="0.35"/>
<line x1="352.50" y1="29.23" x2="354.00" y2="29.23" stroke="#000" stroke-width="0.35"/>
<line x1="352.50" y1="28.11" x2="354.00" y2="28.11" stroke="#000" stroke-width="0.35"/>
<line x1="351.00" y1="27.10" x2="354.00" y2="27.10" stroke="#000" stroke-width="0.5"/>
<line x1="356.10" y1="115.00" x2="356.10" y2="118.00" stroke="#000" stroke-width="0.5"/>
<text x="356.1" y="124.6" font-size="5.7" font-weight="normal" text-anchor="middle" fill="#222" >0</text>
<line x1="361.12" y1="115.00" x2="361.12" y2="116.50" stroke="#000" stroke-width="0.4"/>
<line x1="366.15" y1="115.00" x2="366.15" y2="116.50" stroke="#000" stroke-width="0.4"/>
<line x1="371.18" y1="115.00" x2="371.18" y2="116.50" stroke="#000" stroke-width="0.4"/>
<line x1="376.20" y1="115.00" x2="376.20" y2="118.00" stroke="#000" stroke-width="0.5"/>
<text x="376.20000000000005" y="124.6" font-size="5.7" font-weight="normal" text-anchor="middle" fill="#222" >200</text>
<line x1="381.23" y1="115.00" x2="381.23" y2="116.50" stroke="#000" stroke-width="0.4"/>
<line x1="386.25" y1="115.00" x2="386.25" y2="116.50" stroke="#000" stroke-width="0.4"/>
<line x1="391.28" y1="115.00" x2="391.28" y2="116.50" stroke="#000" stroke-width="0.4"/>
<line x1="396.30" y1="115.00" x2="396.30" y2="118.00" stroke="#000" stroke-width="0.5"/>
<text x="396.3" y="124.6" font-size="5.7" font-weight="normal" text-anchor="middle" fill="#222" >400</text>
<line x1="401.32" y1="115.00" x2="401.32" y2="116.50" stroke="#000" stroke-width="0.4"/>
<line x1="406.35" y1="115.00" x2="406.35" y2="116.50" stroke="#000" stroke-width="0.4"/>
<line x1="411.38" y1="115.00" x2="411.38" y2="116.50" stroke="#000" stroke-width="0.4"/>
<line x1="416.40" y1="115.00" x2="416.40" y2="118.00" stroke="#000" stroke-width="0.5"/>
<text x="416.40000000000003" y="124.6" font-size="5.7" font-weight="normal" text-anchor="middle" fill="#222" >600</text>
<line x1="421.43" y1="115.00" x2="421.43" y2="116.50" stroke="#000" stroke-width="0.4"/>
<line x1="426.45" y1="115.00" x2="426.45" y2="116.50" stroke="#000" stroke-width="0.4"/>
<line x1="431.48" y1="115.00" x2="431.48" y2="116.50" stroke="#000" stroke-width="0.4"/>
<line x1="436.50" y1="115.00" x2="436.50" y2="118.00" stroke="#000" stroke-width="0.5"/>
<text x="436.5" y="124.6" font-size="5.7" font-weight="normal" text-anchor="middle" fill="#222" >800</text>
<line x1="441.52" y1="115.00" x2="441.52" y2="116.50" stroke="#000" stroke-width="0.4"/>
<line x1="446.55" y1="115.00" x2="446.55" y2="116.50" stroke="#000" stroke-width="0.4"/>
<line x1="451.57" y1="115.00" x2="451.57" y2="116.50" stroke="#000" stroke-width="0.4"/>
<line x1="456.60" y1="115.00" x2="456.60" y2="118.00" stroke="#000" stroke-width="0.5"/>
<text x="456.6" y="124.6" font-size="5.7" font-weight="normal" text-anchor="middle" fill="#222" >1000</text>
<text x="349.6" y="114.5" font-size="5.8" text-anchor="middle" fill="#222" stroke="#222" stroke-width="0.2" transform="rotate(-90 349.6 114.5)">10<tspan dy="-2.7" font-size="4.9">0</tspan></text>
<text x="349.6" y="92.525" font-size="5.8" text-anchor="middle" fill="#222" stroke="#222" stroke-width="0.2" transform="rotate(-90 349.6 92.525)">10<tspan dy="-2.7" font-size="4.9">1</tspan></text>
<text x="349.6" y="70.55" font-size="5.8" text-anchor="middle" fill="#222" stroke="#222" stroke-width="0.2" transform="rotate(-90 349.6 70.55)">10<tspan dy="-2.7" font-size="4.9">2</tspan></text>
<text x="349.6" y="48.57499999999999" font-size="5.8" text-anchor="middle" fill="#222" stroke="#222" stroke-width="0.2" transform="rotate(-90 349.6 48.57499999999999)">10<tspan dy="-2.7" font-size="4.9">3</tspan></text>
<text x="349.6" y="26.599999999999994" font-size="5.8" text-anchor="middle" fill="#222" stroke="#222" stroke-width="0.2" transform="rotate(-90 349.6 26.599999999999994)">10<tspan dy="-2.7" font-size="4.9">4</tspan></text>
<text x="343.4" y="72.55" font-size="5.0" font-weight="normal" text-anchor="middle" fill="#000" transform="rotate(-90 343.4 72.55)" stroke="#000" stroke-width="0.15">Anti-BrdU FITC</text>
<text x="399" y="130.0" font-size="5.0" font-weight="normal" text-anchor="middle" fill="#333" >IP</text>
<text x="368.0" y="40.6" font-size="10.5" font-weight="bold" text-anchor="start" fill="#000"  stroke="#000" stroke-width="0.25">S: 10.4%</text>
<text x="424.3" y="87.6" font-size="10.5" font-weight="bold" text-anchor="start" fill="#000" letter-spacing="-0.38" stroke="#000" stroke-width="0.25">G2/M:</text>
<text x="424.3" y="100.2" font-size="10.5" font-weight="bold" text-anchor="start" fill="#000"  stroke="#000" stroke-width="0.25">4.08%</text>
<text x="357.2" y="106.8" font-size="10.5" font-weight="bold" text-anchor="start" fill="#000"  stroke="#000" stroke-width="0.25">G1</text>
<line x1="394.50" y1="51.00" x2="394.50" y2="55.00" stroke="#000" stroke-width="1.6"/>
<polygon points="394.5,43.0 390.3,52.0 398.7,52.0" fill="#000"/>
<line x1="412.00" y1="102.00" x2="416.80" y2="102.00" stroke="#000" stroke-width="1.6"/>
<polygon points="424.0,102.0 415.8,98.0 415.8,106.0" fill="#000"/>
<text x="462.6" y="39.0" font-size="13.0" font-weight="bold" text-anchor="start" fill="#000"  stroke="#000" stroke-width="0.25">D3</text>
<ellipse cx="252.4" cy="205.0" rx="2.5" ry="4.6" fill="#000"/>
<path d="M253.9 162.9h0M262.6 166.7h0M273.0 163.3h0M273.4 161.1h0M262.6 167.9h0M264.1 170.2h0M275.4 162.0h0M287.5 170.1h0M262.3 158.5h0M266.4 166.1h0M273.8 167.9h0M273.7 156.6h0M262.5 165.4h0M275.0 165.0h0M270.1 159.6h0M278.5 166.3h0M255.7 164.1h0M265.6 166.8h0M285.8 158.4h0M280.1 158.2h0M267.0 158.8h0M267.3 172.6h0M283.7 171.4h0M266.6 171.0h0M254.0 164.9h0M261.3 152.7h0M265.1 157.8h0M278.8 160.2h0M278.8 164.3h0M277.6 169.7h0M280.5 160.2h0M255.9 166.9h0M289.8 173.4h0M268.6 172.5h0M267.7 167.1h0M279.3 167.8h0M266.8 166.5h0M278.8 173.9h0M282.1 168.8h0M258.9 171.3h0M265.2 160.9h0M267.0 161.4h0M256.2 166.4h0M259.4 171.3h0M271.0 158.1h0M272.0 168.3h0M257.2 170.8h0M264.3 164.1h0M274.6 152.4h0M263.0 170.2h0M271.5 174.8h0M273.2 166.3h0M278.7 164.9h0M275.3 149.8h0M254.6 172.5h0M278.0 169.1h0M277.5 155.1h0M272.1 157.6h0M263.1 160.9h0M277.9 160.8h0M276.9 170.6h0M271.2 168.4h0M279.2 167.3h0M274.7 169.0h0M252.7 177.7h0M273.0 165.4h0M273.9 160.0h0M266.5 158.6h0M266.8 172.6h0M256.0 159.5h0M272.9 161.8h0M292.2 160.4h0M278.7 166.1h0M272.3 172.4h0M286.2 174.4h0M274.4 165.2h0M275.5 171.3h0M267.6 160.5h0M259.6 157.0h0M271.5 172.7h0M273.2 164.5h0M257.9 168.7h0M294.1 175.7h0M267.5 174.8h0M268.3 165.9h0M269.2 157.6h0M283.0 163.1h0M269.3 167.5h0M273.7 161.0h0M261.8 164.2h0M259.4 160.6h0M275.1 164.1h0M274.0 164.2h0M271.6 161.8h0M282.3 162.2h0M272.6 177.2h0M282.4 161.7h0M261.9 167.5h0M270.8 173.9h0M264.2 169.6h0M266.6 162.3h0M281.7 175.2h0M274.0 168.0h0M264.9 177.3h0M259.9 173.2h0M262.5 169.9h0M269.7 163.7h0M266.4 167.4h0M264.2 161.6h0M281.1 161.1h0M269.3 158.9h0M256.8 162.8h0M288.5 167.1h0M275.2 171.3h0M258.9 160.1h0M267.5 172.3h0M269.8 158.5h0M267.5 155.9h0M270.9 157.5h0M259.7 154.3h0M260.8 162.1h0M276.0 163.2h0M265.9 162.6h0M268.9 163.4h0M257.0 164.3h0M273.6 155.6h0M250.2 170.9h0M266.8 160.5h0M253.9 164.1h0M278.0 161.9h0M269.7 180.1h0M274.5 165.1h0M257.4 173.6h0M277.4 163.8h0M275.6 169.5h0M283.3 171.6h0M269.3 170.7h0M266.3 159.4h0M265.1 163.1h0M279.3 166.5h0M273.2 160.9h0M275.2 162.4h0M254.1 169.9h0M270.4 174.8h0M283.9 165.9h0M255.8 152.3h0M268.5 157.5h0M280.6 169.1h0M257.2 153.7h0M282.1 172.8h0M277.7 175.5h0M273.1 161.4h0M270.2 166.1h0M262.5 165.2h0M242.1 158.6h0M265.9 151.6h0M269.9 161.8h0M291.1 174.9h0M276.8 164.6h0M249.6 158.7h0M264.7 172.0h0M248.5 164.7h0M279.5 169.5h0M258.7 164.9h0M271.7 172.6h0M263.8 164.2h0M266.5 158.6h0M262.4 170.4h0M264.0 162.5h0M261.1 160.6h0M274.9 167.7h0M272.0 167.0h0M268.6 170.0h0M261.4 163.6h0M257.4 173.7h0M275.1 166.4h0M272.1 170.3h0M274.9 169.7h0M268.2 165.2h0M277.4 170.4h0M271.8 173.1h0M260.9 166.1h0M257.8 172.9h0M274.5 166.2h0M264.0 165.1h0M243.9 171.1h0M274.1 169.4h0M260.6 163.5h0M263.5 165.4h0M261.9 160.2h0M285.4 161.7h0M270.2 168.5h0M280.1 173.8h0M265.0 169.9h0M276.4 168.2h0M249.1 154.3h0M261.2 176.8h0M277.5 165.0h0M269.1 167.5h0M268.1 170.5h0M260.8 163.0h0M266.0 157.7h0M256.4 160.6h0M256.4 171.2h0M277.6 168.9h0M257.9 167.9h0M269.0 157.0h0M278.6 168.6h0M274.4 152.4h0M259.1 179.1h0M259.4 176.4h0M272.1 162.2h0M260.6 160.2h0M263.6 150.9h0M281.2 182.0h0M269.8 166.2h0M262.3 164.8h0M262.9 172.9h0M260.6 164.9h0M281.8 174.9h0M261.7 154.5h0M285.3 160.4h0M264.7 166.0h0M275.3 162.7h0M264.5 163.1h0M257.0 172.2h0M263.6 166.9h0M261.3 171.2h0M286.1 161.6h0M268.4 165.6h0M281.8 162.4h0M278.6 167.7h0M276.4 162.6h0M260.7 163.9h0M276.4 165.1h0M275.4 175.8h0M253.3 159.0h0M262.3 161.5h0M272.9 158.7h0M259.7 165.0h0M267.5 179.3h0M267.6 171.1h0M263.1 181.2h0M270.6 180.9h0M257.9 175.5h0M252.1 177.5h0M259.2 182.0h0M265.0 184.5h0M286.9 180.2h0M271.6 172.8h0M263.2 167.0h0M261.8 190.3h0M273.5 185.2h0M265.8 177.4h0M269.2 176.6h0M272.2 182.0h0M255.8 168.6h0M265.7 177.8h0M254.8 182.3h0M279.8 181.5h0M255.2 179.8h0M259.2 183.7h0M270.7 180.6h0M275.5 181.9h0M290.8 172.0h0M269.0 183.0h0M274.7 165.8h0M277.4 176.5h0M258.6 187.4h0M266.3 182.6h0M273.0 181.8h0M277.3 180.5h0M279.2 178.9h0M259.8 185.9h0M268.4 182.6h0M254.8 166.3h0M268.9 180.2h0M281.4 172.6h0M260.2 180.1h0M278.6 180.3h0M272.5 183.0h0M287.0 186.1h0M265.3 171.0h0M252.3 177.4h0M259.6 179.4h0M266.3 167.5h0M276.5 182.0h0M260.2 172.4h0M280.7 180.1h0M265.6 174.0h0M261.7 186.6h0M261.2 178.8h0M264.2 178.0h0M256.8 185.0h0M268.6 182.8h0M258.9 177.9h0M285.6 178.6h0M263.9 171.9h0M261.9 181.6h0M263.6 175.7h0M277.7 186.9h0M266.8 192.2h0M264.3 176.9h0M253.5 174.0h0M261.1 190.9h0M257.6 178.5h0M269.1 181.2h0M247.5 177.9h0M257.0 178.2h0M250.2 176.7h0M280.2 195.4h0M265.4 197.2h0M283.2 195.0h0M277.7 195.2h0M281.4 197.2h0M281.6 198.1h0M284.2 194.3h0M277.9 194.4h0M282.7 194.6h0M272.8 192.7h0M285.4 193.9h0M281.9 196.5h0M274.6 195.3h0M271.1 197.7h0M280.2 197.8h0M268.5 198.8h0M268.4 195.6h0M266.9 196.3h0M267.4 197.2h0M279.7 194.2h0M271.4 195.8h0M273.4 196.1h0M271.1 199.1h0M266.2 200.6h0M275.4 197.7h0M286.3 199.7h0M285.7 195.9h0M278.2 198.5h0M283.4 195.5h0M277.7 195.1h0M273.1 198.1h0M276.8 193.4h0M269.1 194.3h0M285.0 196.6h0M275.3 196.4h0M283.0 195.4h0M285.8 197.5h0M274.9 197.5h0M269.8 197.4h0M284.1 195.7h0M275.9 196.6h0M274.5 197.2h0M283.8 196.0h0M285.9 197.8h0M286.2 197.3h0M282.6 193.8h0M268.0 200.6h0M281.7 195.9h0M267.6 200.3h0M268.8 197.5h0M265.3 199.1h0M280.1 197.8h0M264.5 197.5h0M284.3 195.1h0M271.4 194.4h0M277.4 194.3h0M271.7 199.1h0M285.4 197.0h0M271.3 196.2h0M280.4 195.4h0M276.2 196.9h0M275.2 195.7h0M267.4 196.9h0M269.2 197.0h0M265.8 197.7h0M274.2 195.4h0M265.2 198.8h0M268.6 200.7h0M280.3 196.3h0M278.9 195.2h0M310.3 177.2h0M296.5 162.5h0M309.6 171.3h0M299.5 165.4h0M319.0 159.3h0M293.2 158.5h0M309.4 165.7h0M325.6 155.9h0M309.8 157.2h0M300.1 160.1h0M311.8 167.0h0M323.6 160.6h0M314.7 171.1h0M312.8 172.8h0M301.5 159.2h0M296.7 155.5h0M326.3 158.8h0M309.1 168.2h0M300.4 175.3h0M300.7 175.4h0M317.6 168.6h0M313.5 156.6h0M316.3 156.3h0M292.7 176.5h0M310.3 155.4h0M301.0 165.0h0M300.8 163.1h0M308.2 164.1h0M303.7 155.6h0M312.1 168.8h0M308.0 171.8h0M326.9 167.4h0M310.8 170.0h0M321.5 174.3h0M307.8 156.5h0M306.8 158.3h0M296.0 158.3h0M296.8 168.7h0M312.7 174.2h0M307.4 155.8h0M319.1 165.8h0M304.3 175.7h0M298.8 156.6h0M322.4 177.0h0M322.5 156.0h0M256.9 188.7h0M301.2 189.9h0M291.3 200.4h0M318.7 184.5h0M281.4 181.0h0M274.4 191.7h0M249.9 148.0h0M321.1 180.9h0M309.9 203.4h0M248.4 206.6h0M267.9 179.9h0M277.3 174.8h0M314.0 161.7h0M280.2 178.3h0M258.9 151.4h0M303.0 198.9h0" stroke="#444" stroke-width="0.84" stroke-linecap="square" fill="none" stroke-opacity="1"/>
<path d="M255.6 205.3h0M252.4 202.7h0M251.0 201.8h0M253.7 205.1h0M251.3 202.6h0M250.4 208.3h0M253.6 201.7h0M251.3 206.0h0M254.2 203.2h0M255.1 205.6h0M253.3 205.0h0M254.8 206.4h0M252.6 203.5h0M253.5 207.6h0M250.0 201.9h0M251.4 206.0h0M254.0 211.5h0M251.4 199.5h0M251.3 200.0h0M251.4 211.5h0M252.9 209.7h0M251.2 207.1h0M250.3 206.5h0M253.5 201.5h0M253.8 204.7h0M252.5 202.4h0M250.8 202.2h0M254.3 200.9h0M250.7 202.1h0M248.0 206.8h0M248.9 210.1h0M253.3 204.4h0M256.0 206.8h0M253.8 204.0h0M252.3 202.1h0M248.8 206.3h0M253.5 205.5h0M253.7 204.3h0M252.2 200.8h0M250.2 203.8h0M254.9 205.0h0M255.2 204.1h0M253.1 207.0h0M253.3 202.9h0M247.9 210.8h0M253.0 208.4h0M255.5 202.5h0M252.6 208.1h0M249.7 202.2h0M253.2 204.0h0M250.7 212.6h0M250.9 199.9h0M250.5 207.5h0M253.7 202.4h0M253.5 202.3h0M255.4 205.5h0M253.2 209.8h0M252.5 212.2h0M253.3 203.1h0M251.6 199.7h0M254.7 207.7h0M254.1 200.9h0M252.7 206.5h0M251.3 203.1h0M252.1 203.7h0M252.4 208.1h0M253.9 204.7h0M250.1 209.7h0M252.9 208.2h0M249.4 210.3h0M253.3 210.2h0M252.8 203.8h0M252.6 203.6h0M253.6 204.8h0M250.7 201.8h0M253.3 205.1h0M252.4 203.6h0M255.3 203.1h0M252.6 209.1h0M254.1 204.3h0M252.4 198.7h0M256.8 197.5h0M253.3 205.8h0M252.3 206.3h0M256.1 206.9h0M252.7 201.0h0M254.6 203.8h0M253.1 201.8h0M251.4 203.8h0M252.5 204.2h0M250.6 208.6h0M254.9 200.6h0M253.3 207.4h0M253.1 201.0h0M251.4 206.8h0M251.1 201.1h0M250.6 207.6h0M252.7 204.7h0M252.1 207.0h0M250.4 202.5h0M253.7 206.4h0M251.2 200.6h0M253.4 203.1h0M254.2 209.7h0M250.2 208.5h0M251.4 203.3h0M253.0 205.5h0M252.1 204.3h0M250.1 204.9h0M252.2 208.0h0M253.8 204.8h0M253.7 207.4h0M251.4 205.9h0M253.5 204.9h0M254.0 204.7h0M252.0 196.7h0M250.6 198.3h0M250.2 209.1h0M253.3 200.1h0M255.5 200.0h0M250.3 196.6h0M251.3 210.7h0M251.7 197.9h0M250.4 204.2h0M253.4 199.1h0M251.3 200.8h0M254.5 202.4h0M255.3 206.0h0M254.2 200.7h0M253.7 216.4h0M249.5 190.5h0M249.1 199.6h0M249.0 199.8h0M257.2 203.5h0M250.9 204.5h0M255.2 195.6h0M252.7 198.9h0M253.3 192.3h0M249.5 208.5h0M251.2 205.4h0M247.5 209.8h0M253.3 201.9h0M252.2 214.7h0M253.4 206.3h0M251.8 207.9h0M252.7 201.0h0M250.2 211.3h0M256.8 196.6h0M251.8 206.6h0M253.2 200.3h0M247.3 197.4h0M248.6 206.0h0M249.8 198.5h0M254.8 206.5h0M256.7 198.0h0M256.9 202.9h0M253.8 207.1h0M255.4 190.9h0M247.9 196.2h0M256.7 203.9h0M253.2 200.4h0M250.3 203.5h0M255.8 194.1h0M253.4 198.0h0M254.0 196.3h0M251.5 199.7h0M254.8 202.5h0M250.4 199.8h0M252.9 202.2h0M256.6 207.9h0M251.0 198.6h0M255.6 207.6h0M245.7 204.4h0M253.0 201.2h0M253.1 197.4h0M252.3 205.4h0M253.0 190.8h0M252.2 202.5h0M255.2 193.9h0M249.6 195.5h0M250.2 200.1h0M254.3 207.4h0M250.2 208.4h0M255.7 210.6h0M255.1 198.2h0M248.3 199.1h0M253.9 203.6h0M252.6 197.8h0M252.8 205.4h0M253.8 205.0h0M252.8 207.0h0M251.9 201.2h0M250.5 210.1h0M253.4 203.9h0M253.3 209.5h0M257.0 200.0h0M255.7 199.4h0M254.6 203.2h0M253.0 203.6h0M251.0 204.5h0M252.5 208.6h0M249.1 206.0h0M250.4 211.0h0M254.3 204.0h0M251.2 202.7h0M252.9 176.9h0M253.8 195.0h0M254.3 168.1h0M253.4 169.7h0M253.1 166.8h0M252.1 189.2h0M251.9 184.4h0M253.2 182.7h0M252.6 167.7h0M253.1 167.3h0M254.8 169.2h0M254.7 179.3h0M253.5 190.2h0M254.2 171.4h0M254.2 186.3h0M255.2 175.4h0M252.6 184.3h0M252.6 179.5h0M252.4 179.9h0M254.3 179.8h0M254.4 189.7h0M254.6 175.5h0M252.7 168.5h0M252.1 177.5h0M254.1 170.6h0M251.8 171.2h0M252.7 186.1h0M252.3 189.8h0M252.9 185.9h0M252.2 192.7h0M252.4 191.0h0M251.1 194.2h0M255.2 181.4h0M252.4 179.8h0M253.7 169.2h0M252.1 173.4h0M254.4 169.5h0M253.4 175.9h0M252.9 193.6h0M254.5 186.3h0M252.4 189.6h0M251.6 177.8h0M252.0 172.6h0M253.1 174.5h0M253.8 190.8h0M263.1 166.4h0M260.0 164.0h0M257.0 156.4h0M256.3 161.4h0M267.5 170.0h0M266.9 165.4h0M257.6 168.9h0M259.2 162.2h0M277.8 167.1h0M279.7 161.5h0M266.8 158.5h0M266.6 160.7h0M273.5 165.5h0M251.4 160.9h0M258.2 163.0h0M271.3 158.8h0M262.2 165.4h0M257.3 161.0h0M259.0 166.6h0M269.4 159.0h0M271.7 169.5h0M261.5 164.1h0M268.2 165.8h0M279.9 164.2h0M261.7 163.7h0M263.2 156.1h0M270.2 164.4h0M257.8 159.4h0M252.5 163.0h0M266.0 163.6h0M270.9 162.4h0M255.5 162.7h0M275.3 168.7h0M263.9 170.1h0M257.1 160.5h0M261.1 170.5h0M242.6 162.9h0M264.4 159.6h0M266.9 155.6h0M265.6 159.4h0M258.6 163.7h0M263.1 160.9h0M264.0 160.2h0M273.4 164.7h0M266.1 168.3h0M277.5 158.0h0M264.9 158.4h0M268.6 161.0h0M258.9 161.7h0M272.3 159.7h0M266.6 162.1h0M261.5 163.3h0M276.8 162.0h0M265.5 164.5h0M252.8 161.3h0M267.9 164.5h0M264.6 159.3h0M261.3 165.0h0M258.7 166.2h0M266.9 169.1h0M252.4 162.2h0M252.5 158.1h0M278.2 166.4h0M266.6 159.1h0M264.1 164.8h0M273.6 155.9h0M263.3 158.5h0M279.8 169.8h0M264.2 161.8h0M274.5 169.7h0M260.9 166.3h0M266.2 163.9h0M253.4 170.2h0M263.3 158.9h0M254.1 168.1h0M266.0 166.6h0M264.8 157.8h0M262.5 159.9h0M256.0 163.1h0M258.7 163.9h0M265.0 161.1h0M257.5 161.6h0M271.5 167.4h0M272.7 160.2h0M257.5 163.5h0M263.7 165.4h0M267.0 157.7h0M265.6 168.7h0M263.2 162.7h0M264.4 157.0h0M269.1 164.8h0M270.1 161.2h0M258.8 158.7h0M262.9 162.8h0M268.1 159.5h0M258.5 158.3h0M260.3 166.0h0M270.4 163.4h0M272.1 165.0h0M260.7 165.2h0M254.8 159.7h0M265.4 163.1h0M259.2 161.5h0M256.1 159.6h0M283.7 166.3h0M270.9 167.9h0M252.7 165.2h0M258.6 157.3h0M259.9 163.1h0M271.7 167.5h0M265.0 167.7h0M249.3 161.7h0M268.4 172.5h0M252.3 152.8h0M262.4 161.8h0M267.7 162.3h0M257.1 160.9h0M266.0 172.4h0M243.0 157.3h0M262.4 161.0h0" stroke="#111" stroke-width="1.00" stroke-linecap="square" fill="none" stroke-opacity="1"/>
<rect x="227.40" y="132.40" width="101.00" height="89.00" stroke="#4a4a4a" stroke-width="1.0" fill="none"/>
<line x1="227.40" y1="132.40" x2="227.40" y2="221.40" stroke="#000" stroke-width="1.0"/>
<line x1="227.40" y1="221.40" x2="328.40" y2="221.40" stroke="#000" stroke-width="1.0"/>
<rect x="245.50" y="151.50" width="45.00" height="39.70" stroke="#333" stroke-width="0.8" fill="none"/>
<rect x="246.20" y="191.80" width="15.10" height="23.50" stroke="#333" stroke-width="0.8" fill="none"/>
<rect x="262.00" y="191.20" width="28.00" height="20.30" stroke="#333" stroke-width="0.8" fill="none"/>
<line x1="224.40" y1="221.40" x2="227.40" y2="221.40" stroke="#000" stroke-width="0.5"/>
<line x1="225.90" y1="214.70" x2="227.40" y2="214.70" stroke="#000" stroke-width="0.35"/>
<line x1="225.90" y1="210.78" x2="227.40" y2="210.78" stroke="#000" stroke-width="0.35"/>
<line x1="225.90" y1="208.00" x2="227.40" y2="208.00" stroke="#000" stroke-width="0.35"/>
<line x1="225.90" y1="205.85" x2="227.40" y2="205.85" stroke="#000" stroke-width="0.35"/>
<line x1="225.90" y1="204.09" x2="227.40" y2="204.09" stroke="#000" stroke-width="0.35"/>
<line x1="225.90" y1="202.60" x2="227.40" y2="202.60" stroke="#000" stroke-width="0.35"/>
<line x1="225.90" y1="201.31" x2="227.40" y2="201.31" stroke="#000" stroke-width="0.35"/>
<line x1="225.90" y1="200.17" x2="227.40" y2="200.17" stroke="#000" stroke-width="0.35"/>
<line x1="224.40" y1="199.15" x2="227.40" y2="199.15" stroke="#000" stroke-width="0.5"/>
<line x1="225.90" y1="192.45" x2="227.40" y2="192.45" stroke="#000" stroke-width="0.35"/>
<line x1="225.90" y1="188.53" x2="227.40" y2="188.53" stroke="#000" stroke-width="0.35"/>
<line x1="225.90" y1="185.75" x2="227.40" y2="185.75" stroke="#000" stroke-width="0.35"/>
<line x1="225.90" y1="183.60" x2="227.40" y2="183.60" stroke="#000" stroke-width="0.35"/>
<line x1="225.90" y1="181.84" x2="227.40" y2="181.84" stroke="#000" stroke-width="0.35"/>
<line x1="225.90" y1="180.35" x2="227.40" y2="180.35" stroke="#000" stroke-width="0.35"/>
<line x1="225.90" y1="179.06" x2="227.40" y2="179.06" stroke="#000" stroke-width="0.35"/>
<line x1="225.90" y1="177.92" x2="227.40" y2="177.92" stroke="#000" stroke-width="0.35"/>
<line x1="224.40" y1="176.90" x2="227.40" y2="176.90" stroke="#000" stroke-width="0.5"/>
<line x1="225.90" y1="170.20" x2="227.40" y2="170.20" stroke="#000" stroke-width="0.35"/>
<line x1="225.90" y1="166.28" x2="227.40" y2="166.28" stroke="#000" stroke-width="0.35"/>
<line x1="225.90" y1="163.50" x2="227.40" y2="163.50" stroke="#000" stroke-width="0.35"/>
<line x1="225.90" y1="161.35" x2="227.40" y2="161.35" stroke="#000" stroke-width="0.35"/>
<line x1="225.90" y1="159.59" x2="227.40" y2="159.59" stroke="#000" stroke-width="0.35"/>
<line x1="225.90" y1="158.10" x2="227.40" y2="158.10" stroke="#000" stroke-width="0.35"/>
<line x1="225.90" y1="156.81" x2="227.40" y2="156.81" stroke="#000" stroke-width="0.35"/>
<line x1="225.90" y1="155.67" x2="227.40" y2="155.67" stroke="#000" stroke-width="0.35"/>
<line x1="224.40" y1="154.65" x2="227.40" y2="154.65" stroke="#000" stroke-width="0.5"/>
<line x1="225.90" y1="147.95" x2="227.40" y2="147.95" stroke="#000" stroke-width="0.35"/>
<line x1="225.90" y1="144.03" x2="227.40" y2="144.03" stroke="#000" stroke-width="0.35"/>
<line x1="225.90" y1="141.25" x2="227.40" y2="141.25" stroke="#000" stroke-width="0.35"/>
<line x1="225.90" y1="139.10" x2="227.40" y2="139.10" stroke="#000" stroke-width="0.35"/>
<line x1="225.90" y1="137.34" x2="227.40" y2="137.34" stroke="#000" stroke-width="0.35"/>
<line x1="225.90" y1="135.85" x2="227.40" y2="135.85" stroke="#000" stroke-width="0.35"/>
<line x1="225.90" y1="134.56" x2="227.40" y2="134.56" stroke="#000" stroke-width="0.35"/>
<line x1="225.90" y1="133.42" x2="227.40" y2="133.42" stroke="#000" stroke-width="0.35"/>
<line x1="224.40" y1="132.40" x2="227.40" y2="132.40" stroke="#000" stroke-width="0.5"/>
<line x1="228.50" y1="221.40" x2="228.50" y2="224.40" stroke="#000" stroke-width="0.5"/>
<text x="228.5" y="230.4" font-size="5.7" font-weight="normal" text-anchor="middle" fill="#222" >0</text>
<line x1="233.38" y1="221.40" x2="233.38" y2="222.90" stroke="#000" stroke-width="0.4"/>
<line x1="238.25" y1="221.40" x2="238.25" y2="222.90" stroke="#000" stroke-width="0.4"/>
<line x1="243.12" y1="221.40" x2="243.12" y2="222.90" stroke="#000" stroke-width="0.4"/>
<line x1="248.00" y1="221.40" x2="248.00" y2="224.40" stroke="#000" stroke-width="0.5"/>
<text x="248.0" y="230.4" font-size="5.7" font-weight="normal" text-anchor="middle" fill="#222" >200</text>
<line x1="252.88" y1="221.40" x2="252.88" y2="222.90" stroke="#000" stroke-width="0.4"/>
<line x1="257.75" y1="221.40" x2="257.75" y2="222.90" stroke="#000" stroke-width="0.4"/>
<line x1="262.62" y1="221.40" x2="262.62" y2="222.90" stroke="#000" stroke-width="0.4"/>
<line x1="267.50" y1="221.40" x2="267.50" y2="224.40" stroke="#000" stroke-width="0.5"/>
<text x="267.5" y="230.4" font-size="5.7" font-weight="normal" text-anchor="middle" fill="#222" >400</text>
<line x1="272.38" y1="221.40" x2="272.38" y2="222.90" stroke="#000" stroke-width="0.4"/>
<line x1="277.25" y1="221.40" x2="277.25" y2="222.90" stroke="#000" stroke-width="0.4"/>
<line x1="282.12" y1="221.40" x2="282.12" y2="222.90" stroke="#000" stroke-width="0.4"/>
<line x1="287.00" y1="221.40" x2="287.00" y2="224.40" stroke="#000" stroke-width="0.5"/>
<text x="287.0" y="230.4" font-size="5.7" font-weight="normal" text-anchor="middle" fill="#222" >600</text>
<line x1="291.88" y1="221.40" x2="291.88" y2="222.90" stroke="#000" stroke-width="0.4"/>
<line x1="296.75" y1="221.40" x2="296.75" y2="222.90" stroke="#000" stroke-width="0.4"/>
<line x1="301.62" y1="221.40" x2="301.62" y2="222.90" stroke="#000" stroke-width="0.4"/>
<line x1="306.50" y1="221.40" x2="306.50" y2="224.40" stroke="#000" stroke-width="0.5"/>
<text x="306.5" y="230.4" font-size="5.7" font-weight="normal" text-anchor="middle" fill="#222" >800</text>
<line x1="311.38" y1="221.40" x2="311.38" y2="222.90" stroke="#000" stroke-width="0.4"/>
<line x1="316.25" y1="221.40" x2="316.25" y2="222.90" stroke="#000" stroke-width="0.4"/>
<line x1="321.12" y1="221.40" x2="321.12" y2="222.90" stroke="#000" stroke-width="0.4"/>
<line x1="326.00" y1="221.40" x2="326.00" y2="224.40" stroke="#000" stroke-width="0.5"/>
<text x="326.0" y="230.4" font-size="5.7" font-weight="normal" text-anchor="middle" fill="#222" >1000</text>
<text x="223.0" y="220.9" font-size="5.8" text-anchor="middle" fill="#222" stroke="#222" stroke-width="0.2" transform="rotate(-90 223.0 220.9)">10<tspan dy="-2.7" font-size="4.9">0</tspan></text>
<text x="223.0" y="198.65" font-size="5.8" text-anchor="middle" fill="#222" stroke="#222" stroke-width="0.2" transform="rotate(-90 223.0 198.65)">10<tspan dy="-2.7" font-size="4.9">1</tspan></text>
<text x="223.0" y="176.4" font-size="5.8" text-anchor="middle" fill="#222" stroke="#222" stroke-width="0.2" transform="rotate(-90 223.0 176.4)">10<tspan dy="-2.7" font-size="4.9">2</tspan></text>
<text x="223.0" y="154.15" font-size="5.8" text-anchor="middle" fill="#222" stroke="#222" stroke-width="0.2" transform="rotate(-90 223.0 154.15)">10<tspan dy="-2.7" font-size="4.9">3</tspan></text>
<text x="223.0" y="131.9" font-size="5.8" text-anchor="middle" fill="#222" stroke="#222" stroke-width="0.2" transform="rotate(-90 223.0 131.9)">10<tspan dy="-2.7" font-size="4.9">4</tspan></text>
<text x="216.8" y="178.4" font-size="5.0" font-weight="normal" text-anchor="middle" fill="#000" transform="rotate(-90 216.8 178.4)" stroke="#000" stroke-width="0.15">Anti-BrdU FITC</text>
<text x="274.5" y="236.4" font-size="5.0" font-weight="normal" text-anchor="middle" fill="#333" >IP</text>
<text x="236.0" y="143.5" font-size="10.5" font-weight="bold" text-anchor="start" fill="#000"  stroke="#000" stroke-width="0.25">S: 22.36%</text>
<text x="299.0" y="196.7" font-size="10.5" font-weight="bold" text-anchor="start" fill="#000" letter-spacing="-0.38" stroke="#000" stroke-width="0.25">G2/M:</text>
<text x="299.2" y="208.6" font-size="10.5" font-weight="bold" text-anchor="start" fill="#000"  stroke="#000" stroke-width="0.25">5.6%</text>
<text x="230.2" y="212.8" font-size="10.5" font-weight="bold" text-anchor="start" fill="#000"  stroke="#000" stroke-width="0.25">G1</text>
<line x1="265.00" y1="155.00" x2="265.00" y2="161.50" stroke="#000" stroke-width="1.6"/>
<polygon points="265.0,148.2 260.7,156.0 269.3,156.0" fill="#000"/>
<line x1="281.50" y1="207.00" x2="287.30" y2="207.00" stroke="#000" stroke-width="1.6"/>
<polygon points="294.5,207.0 286.3,203.0 286.3,211.0" fill="#000"/>
<ellipse cx="382.2" cy="203.6" rx="2.9" ry="7.2" fill="#000"/>
<path d="M393.8 179.4h0M391.1 168.0h0M387.2 176.0h0M386.0 182.1h0M391.9 185.9h0M407.8 175.0h0M396.3 165.5h0M403.4 170.6h0M392.7 164.4h0M386.7 169.6h0M385.2 171.5h0M397.5 176.0h0M397.8 162.2h0M396.5 162.0h0M392.2 170.1h0M399.0 160.9h0M387.4 169.9h0M398.3 176.1h0M393.1 168.7h0M388.5 158.3h0M401.6 176.2h0M408.9 185.5h0M387.6 186.3h0M393.9 178.9h0M398.3 178.2h0M398.5 165.4h0M396.7 188.3h0M383.8 170.7h0M385.8 175.1h0M392.7 188.3h0M399.3 158.3h0M391.9 168.8h0M386.2 163.7h0M403.7 181.8h0M391.7 173.6h0M402.9 168.9h0M409.2 168.1h0M403.4 170.6h0M396.8 182.7h0M389.2 172.1h0M388.2 181.2h0M392.4 171.1h0M396.5 168.7h0M384.6 170.5h0M391.8 165.0h0M397.7 174.8h0M395.3 169.4h0M394.4 170.7h0M390.0 175.1h0M388.5 168.3h0M400.5 171.7h0M384.6 177.7h0M390.3 177.4h0M391.9 180.9h0M382.9 171.5h0M389.5 178.8h0M398.6 153.6h0M401.2 173.6h0M406.8 170.0h0M396.3 178.5h0M394.5 176.2h0M397.8 183.1h0M397.8 185.4h0M396.0 174.6h0M401.4 175.3h0M391.4 177.5h0M373.7 175.9h0M389.3 180.0h0M408.1 179.5h0M398.4 162.6h0M385.3 165.6h0M390.0 168.3h0M406.2 171.0h0M380.8 160.9h0M399.6 169.5h0M397.8 171.1h0M393.5 188.3h0M416.1 162.0h0M410.1 179.6h0M393.4 186.1h0M383.3 175.3h0M389.0 161.9h0M398.0 168.8h0M378.2 161.4h0M398.7 187.0h0M400.4 169.1h0M406.8 180.7h0M395.8 164.3h0M396.2 150.5h0M392.1 177.2h0M388.7 177.8h0M396.9 177.7h0M383.7 160.8h0M392.6 175.3h0M403.5 166.3h0M396.5 169.1h0M395.6 163.1h0M390.2 160.1h0M391.3 179.3h0M385.9 166.1h0M397.2 163.6h0M410.0 176.9h0M396.7 169.4h0M398.4 161.8h0M378.5 169.1h0M386.1 165.6h0M394.2 161.0h0M394.8 170.5h0M399.7 173.6h0M396.7 162.5h0M390.3 177.0h0M404.4 168.9h0M395.8 181.6h0M405.0 178.5h0M391.9 166.2h0M390.5 166.4h0M393.7 168.6h0M394.3 172.8h0M399.7 162.5h0M393.8 167.1h0M392.0 167.8h0M388.7 179.4h0M391.9 178.3h0M401.3 167.9h0M408.6 171.5h0M375.8 160.2h0M396.7 171.1h0M392.3 186.9h0M403.4 179.9h0M392.3 177.8h0M397.0 176.3h0M388.4 171.6h0M382.9 172.2h0M398.2 175.4h0M400.6 173.4h0M404.1 169.6h0M386.3 171.5h0M411.8 186.5h0M397.0 161.6h0M401.0 174.9h0M395.0 181.3h0M392.5 170.6h0M395.1 178.1h0M390.0 176.3h0M393.5 163.1h0M406.5 186.3h0M386.4 185.2h0M400.0 181.5h0M381.7 172.1h0M390.2 168.7h0M394.9 182.8h0M396.6 162.5h0M383.2 186.1h0M401.7 160.5h0M395.3 171.1h0M403.8 172.0h0M388.0 179.3h0M396.5 171.8h0M392.2 182.1h0M394.6 169.8h0M394.1 173.8h0M384.9 162.4h0M402.6 176.7h0M399.2 176.4h0M391.7 186.4h0M390.4 186.9h0M394.1 169.0h0M391.5 177.2h0M382.1 184.8h0M390.7 186.6h0M400.6 171.5h0M385.1 178.1h0M396.7 174.6h0M395.7 171.3h0M395.6 172.2h0M392.4 185.4h0M390.9 163.5h0M400.6 183.9h0M411.9 167.9h0M391.8 177.9h0M398.4 173.0h0M406.2 169.1h0M400.1 163.3h0M401.2 184.8h0M389.2 183.9h0M408.2 174.7h0M396.1 170.5h0M385.1 184.5h0M409.4 173.7h0M389.5 173.4h0M390.6 164.5h0M393.9 170.3h0M396.3 171.5h0M387.2 174.7h0M393.8 168.1h0M409.4 169.2h0M394.7 176.0h0M392.0 164.1h0M392.6 167.3h0M394.0 173.9h0M403.9 157.8h0M389.0 171.9h0M392.7 174.8h0M383.6 158.0h0M406.6 172.8h0M385.5 173.0h0M399.2 172.8h0M382.5 173.7h0M394.2 168.2h0M388.0 180.0h0M397.4 177.7h0M392.5 181.1h0M388.7 172.6h0M387.3 178.7h0M388.8 176.3h0M405.8 167.5h0M388.9 173.3h0M405.8 177.5h0M407.6 180.6h0M405.2 162.7h0M396.7 178.3h0M389.2 164.0h0M389.6 187.1h0M379.8 188.5h0M391.3 166.9h0M386.7 178.7h0M399.7 174.5h0M400.5 165.8h0M396.8 179.2h0M398.5 166.6h0M386.2 178.5h0M385.8 164.7h0M401.9 181.2h0M392.1 158.1h0M404.6 174.2h0M386.1 169.9h0M398.4 168.3h0M379.7 162.6h0M404.2 178.1h0M393.0 172.9h0M389.9 181.0h0M392.4 177.6h0M399.2 166.0h0M418.6 169.8h0M395.5 173.9h0M408.3 168.9h0M391.6 167.5h0M405.6 173.4h0M390.4 176.2h0M389.5 166.2h0M398.1 176.0h0M389.3 164.7h0M393.7 161.4h0M393.5 178.5h0M388.6 173.8h0M387.8 169.7h0M398.5 168.4h0M405.5 173.6h0M402.1 178.9h0M400.2 168.7h0M399.1 176.4h0M395.0 172.3h0M384.6 175.8h0M392.9 186.1h0M392.4 168.2h0M401.9 162.6h0M410.0 169.9h0M393.1 171.1h0M402.0 163.9h0M395.3 176.6h0M389.5 176.0h0M383.4 164.0h0M387.3 181.9h0M384.4 170.9h0M393.2 175.5h0M396.8 177.7h0M396.0 166.7h0M400.2 163.8h0M393.0 170.0h0M388.2 175.3h0M379.7 179.5h0M405.2 159.2h0M400.7 168.5h0M396.7 167.6h0M389.7 177.4h0M394.2 170.6h0M383.7 178.2h0M385.6 182.7h0M403.7 170.8h0M394.7 176.0h0M394.1 179.5h0M400.1 181.8h0M387.1 175.7h0M385.6 169.3h0M396.9 178.6h0M390.0 168.0h0M392.2 172.9h0M407.9 177.7h0M401.9 166.8h0M386.3 167.9h0M395.0 189.5h0M386.5 175.7h0M379.3 175.5h0M394.3 173.9h0M402.3 182.1h0M400.0 168.7h0M385.5 179.6h0M387.3 164.4h0M385.4 175.5h0M375.9 182.9h0M397.5 177.2h0M408.7 178.2h0M382.8 177.1h0M396.2 183.3h0M414.9 182.0h0M383.4 170.8h0M384.8 173.1h0M386.4 183.2h0M389.1 168.6h0M398.6 165.9h0M389.8 172.3h0M399.3 187.5h0M383.4 172.7h0M395.7 182.5h0M400.7 163.4h0M386.0 172.3h0M384.2 165.9h0M381.1 162.1h0M391.9 167.8h0M397.1 172.5h0M398.0 185.9h0M392.1 159.0h0M397.3 173.2h0M395.0 171.6h0M387.3 169.2h0M395.7 173.9h0M407.4 173.7h0M392.5 164.8h0M397.5 173.2h0M396.1 169.8h0M385.8 175.5h0M392.0 168.3h0M388.0 175.6h0M402.5 172.1h0M400.4 173.7h0M409.5 178.7h0M395.4 184.0h0M403.6 178.5h0M391.3 166.6h0M399.8 170.3h0M398.5 175.3h0M411.0 178.4h0M410.0 176.8h0M378.9 167.3h0M392.4 166.9h0M401.5 185.2h0M400.3 165.4h0M405.4 181.0h0M389.2 172.9h0M413.2 174.3h0M404.5 172.4h0M394.4 170.8h0M371.6 183.9h0M400.7 170.4h0M401.1 180.5h0M395.2 168.4h0M391.8 170.0h0M390.1 170.4h0M403.0 164.6h0M387.3 179.8h0M398.0 171.4h0M389.8 160.1h0M404.6 167.0h0M388.3 178.1h0M383.9 162.0h0M392.2 179.4h0M401.4 169.9h0M403.7 174.7h0M397.8 169.3h0M391.3 169.3h0M427.9 158.0h0M454.5 171.3h0M447.6 158.2h0M424.9 172.3h0M438.8 180.1h0M453.9 158.5h0M437.1 158.7h0M441.3 181.2h0M433.1 165.1h0M437.9 173.9h0M449.9 159.6h0M427.1 167.4h0M428.0 176.0h0M433.4 165.3h0M431.9 165.5h0M453.9 175.3h0M436.8 158.5h0M440.1 163.3h0M448.3 177.4h0M421.1 158.3h0M449.9 170.8h0M427.1 162.3h0M443.3 173.1h0M432.1 162.0h0M427.3 174.1h0M424.6 168.1h0M446.7 175.6h0M444.7 158.3h0M432.6 167.7h0M442.4 160.0h0M441.1 181.4h0M453.9 168.5h0M435.4 162.9h0M437.0 175.6h0M434.2 166.3h0M444.8 176.4h0M421.0 179.4h0M439.6 177.6h0M446.3 176.3h0M425.0 161.1h0M438.4 163.5h0M421.1 171.1h0M447.8 163.2h0M453.4 161.0h0M453.3 175.7h0M431.4 170.9h0M438.9 167.0h0M447.2 175.1h0M447.0 166.1h0M450.5 159.8h0M432.3 172.8h0M437.4 160.2h0M447.0 177.4h0M441.9 162.6h0M448.6 174.7h0M438.9 182.5h0M406.7 178.6h0M422.9 168.9h0M375.9 178.7h0M370.5 159.6h0M435.4 147.6h0M437.8 193.8h0M443.9 194.1h0M413.8 158.8h0M373.8 205.9h0M437.6 160.5h0M450.5 192.4h0M433.7 199.5h0M391.1 174.0h0M384.9 157.2h0M413.8 172.0h0" stroke="#444" stroke-width="0.84" stroke-linecap="square" fill="none" stroke-opacity="1"/>
<path d="M384.4 206.1h0M379.1 202.9h0M384.3 214.3h0M381.9 200.9h0M384.8 203.4h0M382.1 195.6h0M380.0 205.7h0M386.0 205.6h0M381.8 201.8h0M379.7 197.6h0M383.7 213.0h0M381.5 199.3h0M378.9 201.4h0M384.3 195.3h0M381.5 209.9h0M385.5 200.1h0M382.7 206.1h0M382.5 203.3h0M382.6 204.6h0M381.8 202.7h0M381.4 215.3h0M382.2 209.2h0M380.3 211.1h0M384.4 204.4h0M387.3 207.8h0M386.1 199.2h0M377.5 207.5h0M382.3 200.4h0M380.0 206.4h0M383.9 209.3h0M382.1 201.5h0M379.3 198.8h0M385.0 197.0h0M381.9 201.2h0M380.7 197.2h0M381.3 206.1h0M381.6 205.3h0M380.7 198.4h0M383.8 203.0h0M381.6 206.3h0M384.2 200.8h0M382.3 202.5h0M385.0 196.9h0M380.6 203.3h0M377.1 195.9h0M383.2 209.3h0M385.6 202.1h0M383.3 203.9h0M380.6 204.9h0M382.0 210.2h0M381.6 196.5h0M382.7 200.6h0M382.4 205.6h0M378.5 195.1h0M382.9 207.8h0M380.9 203.4h0M383.2 200.7h0M382.0 201.1h0M384.3 203.5h0M380.1 204.8h0M380.6 202.0h0M379.5 202.5h0M383.8 207.2h0M383.4 199.3h0M382.1 203.4h0M381.6 202.1h0M379.0 213.1h0M380.6 204.3h0M382.5 198.0h0M380.9 205.5h0M382.1 206.3h0M380.0 203.2h0M380.2 203.7h0M380.8 201.0h0M383.4 209.2h0M382.0 204.8h0M380.2 201.1h0M381.2 205.7h0M385.7 194.2h0M384.6 210.6h0M383.4 201.9h0M383.7 196.3h0M379.3 204.4h0M380.9 207.3h0M380.3 194.3h0M381.8 206.6h0M379.1 204.0h0M382.3 205.7h0M383.8 205.0h0M380.7 197.0h0M383.5 202.3h0M384.1 209.8h0M380.9 200.8h0M384.8 204.7h0M379.8 202.7h0M381.3 209.9h0M379.5 200.3h0M383.9 207.9h0M382.6 201.0h0M380.2 190.6h0M383.6 205.1h0M382.3 197.1h0M378.4 201.6h0M381.2 209.7h0M387.0 196.7h0M380.6 207.8h0M384.2 207.7h0M381.9 201.1h0M381.2 196.7h0M380.7 199.7h0M384.5 210.8h0M382.7 195.7h0M381.8 201.0h0M384.7 198.6h0M383.0 203.3h0M383.9 200.7h0M385.6 205.3h0M381.8 202.5h0M381.2 209.1h0M383.9 202.4h0M388.0 206.0h0M384.1 211.7h0M384.5 206.0h0M380.1 199.0h0M383.8 203.2h0M381.6 210.0h0M383.7 211.0h0M381.6 198.7h0M381.9 208.1h0M379.9 203.5h0M383.4 204.8h0M383.1 191.1h0M383.3 208.6h0M380.3 205.3h0M382.1 203.5h0M389.1 202.1h0M379.6 199.7h0M380.7 203.9h0M383.0 201.2h0M387.2 206.0h0M382.2 201.8h0M382.6 199.2h0M381.8 200.9h0M383.8 199.7h0M379.8 201.5h0M384.5 205.6h0M381.3 203.1h0M380.5 199.5h0M382.8 200.2h0M380.4 201.8h0M382.3 206.4h0M381.1 204.7h0M383.0 212.5h0M382.4 192.4h0M382.8 198.3h0M382.9 204.3h0M380.0 191.7h0M383.2 199.5h0M384.4 196.4h0M379.5 196.1h0M382.7 211.1h0M382.6 197.4h0M383.4 196.2h0M382.3 211.2h0M382.0 196.2h0M382.1 205.4h0M378.9 206.0h0M382.3 191.9h0M383.2 198.2h0M381.2 209.4h0M383.5 200.7h0M383.7 213.9h0M385.4 200.8h0M385.9 202.2h0M379.8 198.6h0M378.1 200.5h0M381.9 212.6h0M381.5 198.6h0M383.0 203.9h0M384.6 198.0h0M383.7 198.3h0M381.2 208.4h0M381.0 206.1h0M381.2 208.4h0M382.8 206.0h0M385.6 197.6h0M383.8 204.6h0M380.0 203.3h0M382.9 197.8h0M381.1 210.1h0M381.5 196.6h0M387.2 212.2h0M381.2 205.7h0M381.5 205.6h0M383.7 214.9h0M384.1 213.9h0M382.6 200.0h0M382.9 202.5h0M376.8 210.7h0M380.7 213.0h0M379.3 201.4h0M385.7 199.9h0M382.4 211.4h0M380.1 208.6h0M382.7 199.7h0M382.3 206.5h0M386.0 215.8h0M382.8 201.1h0M382.8 202.8h0M379.4 192.4h0M380.1 200.4h0M381.8 205.7h0M381.3 200.5h0M384.8 193.0h0M377.7 210.0h0M384.4 195.8h0M385.0 203.1h0M380.3 211.7h0M378.2 196.0h0M382.2 205.9h0M382.2 207.1h0M379.4 199.4h0M385.4 199.0h0M380.6 197.2h0M382.0 199.4h0M376.4 189.6h0M385.7 209.4h0M381.7 206.9h0M380.3 205.0h0M384.4 198.0h0M381.4 202.9h0M384.6 197.9h0M383.7 200.8h0M380.5 208.3h0M385.5 193.1h0M382.4 198.9h0M379.1 201.7h0M381.8 197.1h0M378.8 205.9h0M384.6 201.4h0M377.0 205.2h0M386.0 200.5h0M378.0 193.0h0M381.7 198.4h0M381.2 200.8h0M383.7 211.0h0M383.1 199.6h0M380.7 190.9h0M385.4 198.7h0M381.7 192.1h0M383.0 200.5h0M380.1 204.0h0M387.6 199.2h0M381.5 204.8h0M380.3 199.0h0M385.7 199.3h0M382.4 195.1h0M378.9 199.1h0M381.7 193.3h0M380.7 203.2h0M382.5 211.8h0M380.2 193.4h0M383.0 198.6h0M383.4 196.2h0M377.6 212.8h0M380.9 204.9h0M385.8 198.0h0M378.6 202.6h0M383.6 204.3h0M377.9 199.0h0M387.2 193.0h0M385.1 191.4h0M380.5 192.9h0M384.6 207.3h0M383.3 195.6h0M383.2 204.0h0M385.8 192.9h0M381.7 204.9h0M381.6 194.5h0M381.0 214.7h0M384.0 208.3h0M383.1 200.3h0M381.2 199.5h0M381.3 199.3h0M379.0 198.1h0M382.2 194.5h0M385.4 211.2h0M379.8 193.4h0M384.1 184.6h0M381.5 190.0h0M382.2 185.0h0M380.9 185.8h0M382.1 188.4h0M383.7 187.8h0M382.6 180.4h0M382.3 187.5h0M381.8 195.0h0M381.8 177.1h0M381.4 181.3h0M380.5 182.5h0M382.8 179.5h0M382.2 180.7h0M382.8 177.3h0M384.2 176.9h0M383.1 175.5h0M384.1 184.8h0M383.0 182.8h0M384.2 177.1h0M384.6 190.1h0M379.2 193.2h0M382.8 175.9h0M383.2 185.1h0M382.1 174.0h0M382.0 182.8h0M384.3 180.2h0M385.4 185.4h0M381.2 191.9h0M380.9 188.9h0M384.0 176.6h0M382.7 182.2h0M384.5 191.9h0M382.5 192.0h0M381.1 190.9h0M383.4 185.0h0M382.1 193.4h0M382.4 181.6h0M382.8 182.0h0M384.0 175.7h0M382.6 179.7h0M383.4 178.9h0M383.1 192.4h0M384.5 183.1h0M383.7 180.3h0M392.8 175.2h0M389.2 165.4h0M393.7 171.2h0M392.3 165.7h0M387.1 166.5h0M385.3 168.7h0M390.0 174.6h0M391.5 170.9h0M383.9 168.1h0M383.1 168.9h0M393.3 164.5h0M395.2 172.3h0M380.6 160.3h0M396.3 166.7h0M396.8 166.1h0M382.1 166.0h0M381.5 166.8h0M400.8 168.8h0M379.5 165.9h0M395.4 164.1h0M398.9 162.8h0M388.8 170.7h0M386.1 162.4h0M389.1 165.9h0M396.1 167.2h0M388.8 164.2h0M387.6 169.8h0M397.8 172.7h0M383.1 168.6h0M387.1 164.9h0M392.2 174.2h0M393.5 173.7h0M398.1 164.2h0M389.7 170.4h0M386.2 172.5h0M383.9 163.0h0M381.4 162.7h0M389.7 167.1h0M386.8 167.3h0M387.4 177.0h0M383.8 166.1h0M394.8 164.3h0M377.5 161.6h0M390.6 165.9h0M389.8 171.9h0M383.7 166.0h0M379.7 169.3h0M393.3 167.5h0M386.8 162.6h0M387.9 167.2h0M392.1 166.4h0M388.8 167.8h0M379.0 170.8h0M396.1 163.7h0M385.9 166.5h0M393.9 175.6h0M386.7 170.0h0M392.3 165.0h0M394.2 175.3h0M398.2 167.9h0M385.5 165.3h0M392.1 168.5h0M394.1 172.7h0M385.4 176.0h0M395.2 168.1h0M391.4 168.1h0M380.9 167.5h0M387.4 169.9h0M388.0 158.6h0M378.1 165.4h0M384.7 164.1h0M384.7 163.9h0M384.2 173.8h0M385.6 161.8h0M395.9 167.3h0M386.2 165.3h0M383.4 169.8h0M396.3 163.6h0M388.3 170.7h0M382.3 169.2h0M388.0 173.6h0M381.8 171.7h0M390.3 170.6h0M386.9 169.1h0M389.2 173.2h0M375.7 162.2h0M385.8 163.2h0M388.7 165.0h0M398.2 164.0h0M394.3 181.7h0M395.6 172.2h0M389.3 167.8h0M383.1 167.5h0M386.4 170.0h0M384.5 162.5h0M384.7 172.5h0M391.6 167.8h0M386.9 162.6h0M392.8 170.8h0M399.1 168.9h0M396.2 166.3h0M388.8 167.9h0M389.8 172.2h0M397.9 165.0h0M382.8 172.4h0M384.5 168.2h0M386.4 174.1h0M387.0 162.1h0M396.9 169.0h0M400.1 168.4h0M387.1 172.8h0M383.8 159.6h0M392.6 158.9h0M391.8 170.0h0M390.6 166.1h0M384.0 163.4h0M389.7 161.7h0M375.4 158.7h0M392.2 164.1h0M393.5 160.0h0M388.9 167.1h0M391.4 169.5h0M378.8 170.5h0M388.0 168.6h0M391.9 168.2h0M397.0 166.9h0M395.3 166.9h0M384.2 165.6h0M392.5 168.8h0M388.9 162.6h0M400.4 200.5h0M402.5 198.0h0M394.5 197.7h0M401.6 197.7h0M397.9 195.5h0M401.1 197.7h0M403.7 197.1h0M401.1 196.7h0M397.4 198.4h0M397.2 199.9h0M404.0 197.0h0M402.7 200.6h0M399.1 197.8h0M400.5 195.3h0M403.9 198.6h0M408.0 197.6h0M400.8 199.4h0M398.5 196.3h0M404.8 197.2h0M399.8 198.6h0M398.1 200.4h0M397.3 197.8h0M397.9 197.8h0M400.5 198.8h0M400.4 198.9h0M407.6 197.0h0M406.7 196.8h0M405.5 199.0h0M404.5 196.5h0M400.8 197.5h0M399.1 196.8h0M401.8 198.3h0M398.4 198.5h0M397.7 194.8h0M402.9 201.3h0M406.4 198.7h0M402.6 199.3h0M405.5 195.6h0M397.0 197.2h0M401.8 198.0h0M402.5 196.6h0M406.4 196.7h0M403.5 197.5h0M402.1 196.7h0M401.2 196.6h0M401.2 198.3h0M397.2 199.3h0M404.0 197.3h0M399.9 197.2h0M399.2 199.5h0M399.4 198.9h0M401.2 197.4h0M406.6 198.2h0M406.3 197.3h0M409.5 197.3h0M410.2 198.6h0M398.3 198.4h0M407.8 198.6h0M401.2 199.2h0M398.0 197.0h0M403.0 199.1h0M401.7 198.5h0M410.3 199.3h0M407.3 199.8h0M402.3 200.1h0M403.5 197.0h0M402.2 198.2h0M404.5 199.8h0M401.2 198.9h0M402.7 198.7h0" stroke="#111" stroke-width="1.00" stroke-linecap="square" fill="none" stroke-opacity="1"/>
<rect x="354.40" y="132.80" width="102.90" height="88.60" stroke="#4a4a4a" stroke-width="1.0" fill="none"/>
<line x1="354.40" y1="132.80" x2="354.40" y2="221.40" stroke="#000" stroke-width="1.0"/>
<line x1="354.40" y1="221.40" x2="457.30" y2="221.40" stroke="#000" stroke-width="1.0"/>
<rect x="373.40" y="151.50" width="45.40" height="39.50" stroke="#333" stroke-width="0.8" fill="none"/>
<rect x="373.40" y="191.60" width="16.10" height="23.90" stroke="#333" stroke-width="0.8" fill="none"/>
<rect x="390.10" y="191.00" width="28.70" height="20.70" stroke="#333" stroke-width="0.8" fill="none"/>
<line x1="351.40" y1="221.40" x2="354.40" y2="221.40" stroke="#000" stroke-width="0.5"/>
<line x1="352.90" y1="214.73" x2="354.40" y2="214.73" stroke="#000" stroke-width="0.35"/>
<line x1="352.90" y1="210.83" x2="354.40" y2="210.83" stroke="#000" stroke-width="0.35"/>
<line x1="352.90" y1="208.06" x2="354.40" y2="208.06" stroke="#000" stroke-width="0.35"/>
<line x1="352.90" y1="205.92" x2="354.40" y2="205.92" stroke="#000" stroke-width="0.35"/>
<line x1="352.90" y1="204.16" x2="354.40" y2="204.16" stroke="#000" stroke-width="0.35"/>
<line x1="352.90" y1="202.68" x2="354.40" y2="202.68" stroke="#000" stroke-width="0.35"/>
<line x1="352.90" y1="201.40" x2="354.40" y2="201.40" stroke="#000" stroke-width="0.35"/>
<line x1="352.90" y1="200.26" x2="354.40" y2="200.26" stroke="#000" stroke-width="0.35"/>
<line x1="351.40" y1="199.25" x2="354.40" y2="199.25" stroke="#000" stroke-width="0.5"/>
<line x1="352.90" y1="192.58" x2="354.40" y2="192.58" stroke="#000" stroke-width="0.35"/>
<line x1="352.90" y1="188.68" x2="354.40" y2="188.68" stroke="#000" stroke-width="0.35"/>
<line x1="352.90" y1="185.91" x2="354.40" y2="185.91" stroke="#000" stroke-width="0.35"/>
<line x1="352.90" y1="183.77" x2="354.40" y2="183.77" stroke="#000" stroke-width="0.35"/>
<line x1="352.90" y1="182.01" x2="354.40" y2="182.01" stroke="#000" stroke-width="0.35"/>
<line x1="352.90" y1="180.53" x2="354.40" y2="180.53" stroke="#000" stroke-width="0.35"/>
<line x1="352.90" y1="179.25" x2="354.40" y2="179.25" stroke="#000" stroke-width="0.35"/>
<line x1="352.90" y1="178.11" x2="354.40" y2="178.11" stroke="#000" stroke-width="0.35"/>
<line x1="351.40" y1="177.10" x2="354.40" y2="177.10" stroke="#000" stroke-width="0.5"/>
<line x1="352.90" y1="170.43" x2="354.40" y2="170.43" stroke="#000" stroke-width="0.35"/>
<line x1="352.90" y1="166.53" x2="354.40" y2="166.53" stroke="#000" stroke-width="0.35"/>
<line x1="352.90" y1="163.76" x2="354.40" y2="163.76" stroke="#000" stroke-width="0.35"/>
<line x1="352.90" y1="161.62" x2="354.40" y2="161.62" stroke="#000" stroke-width="0.35"/>
<line x1="352.90" y1="159.86" x2="354.40" y2="159.86" stroke="#000" stroke-width="0.35"/>
<line x1="352.90" y1="158.38" x2="354.40" y2="158.38" stroke="#000" stroke-width="0.35"/>
<line x1="352.90" y1="157.10" x2="354.40" y2="157.10" stroke="#000" stroke-width="0.35"/>
<line x1="352.90" y1="155.96" x2="354.40" y2="155.96" stroke="#000" stroke-width="0.35"/>
<line x1="351.40" y1="154.95" x2="354.40" y2="154.95" stroke="#000" stroke-width="0.5"/>
<line x1="352.90" y1="148.28" x2="354.40" y2="148.28" stroke="#000" stroke-width="0.35"/>
<line x1="352.90" y1="144.38" x2="354.40" y2="144.38" stroke="#000" stroke-width="0.35"/>
<line x1="352.90" y1="141.61" x2="354.40" y2="141.61" stroke="#000" stroke-width="0.35"/>
<line x1="352.90" y1="139.47" x2="354.40" y2="139.47" stroke="#000" stroke-width="0.35"/>
<line x1="352.90" y1="137.71" x2="354.40" y2="137.71" stroke="#000" stroke-width="0.35"/>
<line x1="352.90" y1="136.23" x2="354.40" y2="136.23" stroke="#000" stroke-width="0.35"/>
<line x1="352.90" y1="134.95" x2="354.40" y2="134.95" stroke="#000" stroke-width="0.35"/>
<line x1="352.90" y1="133.81" x2="354.40" y2="133.81" stroke="#000" stroke-width="0.35"/>
<line x1="351.40" y1="132.80" x2="354.40" y2="132.80" stroke="#000" stroke-width="0.5"/>
<line x1="356.25" y1="221.40" x2="356.25" y2="224.40" stroke="#000" stroke-width="0.5"/>
<text x="356.25" y="230.4" font-size="5.7" font-weight="normal" text-anchor="middle" fill="#222" >0</text>
<line x1="361.21" y1="221.40" x2="361.21" y2="222.90" stroke="#000" stroke-width="0.4"/>
<line x1="366.17" y1="221.40" x2="366.17" y2="222.90" stroke="#000" stroke-width="0.4"/>
<line x1="371.12" y1="221.40" x2="371.12" y2="222.90" stroke="#000" stroke-width="0.4"/>
<line x1="376.08" y1="221.40" x2="376.08" y2="224.40" stroke="#000" stroke-width="0.5"/>
<text x="376.08" y="230.4" font-size="5.7" font-weight="normal" text-anchor="middle" fill="#222" >200</text>
<line x1="381.04" y1="221.40" x2="381.04" y2="222.90" stroke="#000" stroke-width="0.4"/>
<line x1="386.00" y1="221.40" x2="386.00" y2="222.90" stroke="#000" stroke-width="0.4"/>
<line x1="390.95" y1="221.40" x2="390.95" y2="222.90" stroke="#000" stroke-width="0.4"/>
<line x1="395.91" y1="221.40" x2="395.91" y2="224.40" stroke="#000" stroke-width="0.5"/>
<text x="395.90999999999997" y="230.4" font-size="5.7" font-weight="normal" text-anchor="middle" fill="#222" >400</text>
<line x1="400.87" y1="221.40" x2="400.87" y2="222.90" stroke="#000" stroke-width="0.4"/>
<line x1="405.82" y1="221.40" x2="405.82" y2="222.90" stroke="#000" stroke-width="0.4"/>
<line x1="410.78" y1="221.40" x2="410.78" y2="222.90" stroke="#000" stroke-width="0.4"/>
<line x1="415.74" y1="221.40" x2="415.74" y2="224.40" stroke="#000" stroke-width="0.5"/>
<text x="415.74" y="230.4" font-size="5.7" font-weight="normal" text-anchor="middle" fill="#222" >600</text>
<line x1="420.70" y1="221.40" x2="420.70" y2="222.90" stroke="#000" stroke-width="0.4"/>
<line x1="425.66" y1="221.40" x2="425.66" y2="222.90" stroke="#000" stroke-width="0.4"/>
<line x1="430.61" y1="221.40" x2="430.61" y2="222.90" stroke="#000" stroke-width="0.4"/>
<line x1="435.57" y1="221.40" x2="435.57" y2="224.40" stroke="#000" stroke-width="0.5"/>
<text x="435.57" y="230.4" font-size="5.7" font-weight="normal" text-anchor="middle" fill="#222" >800</text>
<line x1="440.53" y1="221.40" x2="440.53" y2="222.90" stroke="#000" stroke-width="0.4"/>
<line x1="445.49" y1="221.40" x2="445.49" y2="222.90" stroke="#000" stroke-width="0.4"/>
<line x1="450.44" y1="221.40" x2="450.44" y2="222.90" stroke="#000" stroke-width="0.4"/>
<line x1="455.40" y1="221.40" x2="455.40" y2="224.40" stroke="#000" stroke-width="0.5"/>
<text x="455.4" y="230.4" font-size="5.7" font-weight="normal" text-anchor="middle" fill="#222" >1000</text>
<text x="350.0" y="220.9" font-size="5.8" text-anchor="middle" fill="#222" stroke="#222" stroke-width="0.2" transform="rotate(-90 350.0 220.9)">10<tspan dy="-2.7" font-size="4.9">0</tspan></text>
<text x="350.0" y="198.75" font-size="5.8" text-anchor="middle" fill="#222" stroke="#222" stroke-width="0.2" transform="rotate(-90 350.0 198.75)">10<tspan dy="-2.7" font-size="4.9">1</tspan></text>
<text x="350.0" y="176.60000000000002" font-size="5.8" text-anchor="middle" fill="#222" stroke="#222" stroke-width="0.2" transform="rotate(-90 350.0 176.60000000000002)">10<tspan dy="-2.7" font-size="4.9">2</tspan></text>
<text x="350.0" y="154.45000000000002" font-size="5.8" text-anchor="middle" fill="#222" stroke="#222" stroke-width="0.2" transform="rotate(-90 350.0 154.45000000000002)">10<tspan dy="-2.7" font-size="4.9">3</tspan></text>
<text x="350.0" y="132.3" font-size="5.8" text-anchor="middle" fill="#222" stroke="#222" stroke-width="0.2" transform="rotate(-90 350.0 132.3)">10<tspan dy="-2.7" font-size="4.9">4</tspan></text>
<text x="343.79999999999995" y="178.60000000000002" font-size="5.0" font-weight="normal" text-anchor="middle" fill="#000" transform="rotate(-90 343.79999999999995 178.60000000000002)" stroke="#000" stroke-width="0.15">Anti-BrdU FITC</text>
<text x="405" y="236.4" font-size="5.0" font-weight="normal" text-anchor="middle" fill="#333" >IP</text>
<text x="368.8" y="143.5" font-size="10.5" font-weight="bold" text-anchor="start" fill="#000"  stroke="#000" stroke-width="0.25">S: 16.63%</text>
<text x="428.6" y="196.5" font-size="10.5" font-weight="bold" text-anchor="start" fill="#000" letter-spacing="-0.38" stroke="#000" stroke-width="0.25">G2/M:</text>
<text x="428.6" y="209.2" font-size="10.5" font-weight="bold" text-anchor="start" fill="#000"  stroke="#000" stroke-width="0.25">3.6%</text>
<text x="358.5" y="212.4" font-size="10.5" font-weight="bold" text-anchor="start" fill="#000"  stroke="#000" stroke-width="0.25">G1</text>
<line x1="394.50" y1="155.40" x2="394.50" y2="158.00" stroke="#000" stroke-width="1.6"/>
<polygon points="394.5,148.2 390.1,156.39999999999998 398.9,156.39999999999998" fill="#000"/>
<line x1="412.50" y1="203.50" x2="416.80" y2="203.50" stroke="#000" stroke-width="1.6"/>
<polygon points="424.0,203.5 415.8,199.5 415.8,207.5" fill="#000"/>
<text x="463.2" y="143.8" font-size="13.0" font-weight="bold" text-anchor="start" fill="#000"  stroke="#000" stroke-width="0.25">D6</text>
<line x1="464.90" y1="194.00" x2="464.90" y2="237.70" stroke="#000" stroke-width="2.2"/>
<line x1="466.00" y1="236.60" x2="423.00" y2="236.60" stroke="#000" stroke-width="2.2"/>
<polygon points="464.9,185.0 459.59999999999997,195.0 470.2,195.0" fill="#000"/>
<polygon points="413.8,236.6 424.2,231.5 424.2,241.7" fill="#000"/>
<text x="484.6" y="230.8" font-size="12.4" font-weight="bold" text-anchor="start" fill="#000" transform="rotate(-90 484.6 230.8)"  stroke="#000" stroke-width="0.25">BrDU</text>
<text x="438.4" y="257.0" font-size="12.6" font-weight="bold" text-anchor="start" fill="#000"  stroke="#000" stroke-width="0.25">PI</text>
<text x="2.4" y="258.3" font-size="23.5" font-weight="bold" text-anchor="start" fill="#000"  stroke="#000" stroke-width="0.25">C</text>
<text x="2.4" y="321.8" font-size="12.9" font-weight="bold" text-anchor="start" fill="#000"  stroke="#000" stroke-width="0.25">TPO</text>
<path d="M71.5 360.0L71.5 359.4L71.9 359.6L72.3 359.6L72.7 359.6L73.1 359.4L73.5 359.2L73.9 359.2L74.3 359.3L74.7 359.2L75.1 359.5L75.5 359.1L75.9 359.2L76.3 359.2L76.7 359.1L77.1 358.7L77.5 358.8L77.9 358.4L78.3 358.5L78.7 358.1L79.1 358.1L79.5 357.6L79.9 356.4L80.3 355.8L80.7 354.7L81.1 352.8L81.5 351.7L81.9 347.4L82.3 343.2L82.7 338.6L83.1 334.2L83.5 329.7L83.9 322.2L84.3 314.3L84.7 306.0L85.1 297.9L85.5 290.2L85.9 283.5L86.3 282.0L86.7 282.2L87.1 286.7L87.5 291.6L87.9 300.4L88.3 307.9L88.7 313.8L89.1 318.4L89.5 322.4L89.9 326.8L90.3 330.1L90.7 332.8L91.1 335.7L91.5 338.2L91.9 339.7L92.3 340.6L92.7 342.1L93.1 344.0L93.5 345.1L93.9 346.2L94.3 346.5L94.7 347.5L95.1 348.1L95.5 349.2L95.9 349.4L96.3 350.4L96.7 350.7L97.1 350.9L97.5 351.6L97.9 352.3L98.3 352.2L98.7 352.5L99.1 352.7L99.5 353.3L99.9 352.9L100.3 352.8L100.7 352.5L101.1 351.9L101.5 349.8L101.9 347.6L102.3 346.3L102.7 342.9L103.1 338.5L103.5 334.7L103.9 330.4L104.3 325.5L104.7 321.5L105.1 317.8L105.5 316.1L105.9 316.5L106.3 319.3L106.7 322.2L107.1 326.1L107.5 330.2L107.9 334.0L108.3 337.6L108.7 341.4L109.1 343.5L109.5 346.0L109.9 348.8L110.3 349.9L110.7 350.6L111.1 351.0L111.5 351.8L111.9 353.1L112.3 353.5L112.7 353.9L113.1 354.6L113.5 354.6L113.9 354.7L114.3 355.0L114.7 355.5L115.1 355.3L115.5 355.7L115.9 355.6L116.3 356.2L116.7 356.1L117.1 356.0L117.5 355.5L117.9 355.6L118.3 355.4L118.7 355.2L119.1 355.5L119.5 355.0L119.9 355.3L120.3 354.1L120.7 353.0L121.1 352.5L121.5 351.2L121.9 350.5L122.3 347.2L122.7 344.0L123.1 340.7L123.5 337.1L123.9 333.9L124.3 330.9L124.7 328.4L125.1 328.1L125.5 329.1L125.9 332.1L126.3 335.4L126.7 339.0L127.1 342.5L127.5 346.1L127.9 348.8L128.3 351.0L128.7 351.8L129.1 352.7L129.5 354.2L129.9 355.0L130.3 355.9L130.7 355.7L131.1 356.0L131.5 356.2L131.9 356.2L132.3 357.0L132.7 356.9L133.1 357.0L133.5 357.2L133.9 357.6L134.3 357.4L134.7 357.4L135.1 357.0L135.5 357.2L135.9 356.4L136.3 356.4L136.7 356.1L137.1 356.5L137.5 356.1L137.9 355.3L138.3 354.1L138.7 352.9L139.1 351.7L139.5 350.6L139.9 350.1L140.3 348.8L140.7 347.8L141.1 346.7L141.5 347.7L141.9 348.2L142.3 349.7L142.7 350.2L143.1 350.9L143.5 352.4L143.9 353.4L144.3 354.2L144.7 355.4L145.1 355.9L145.5 356.7L145.9 357.0L146.3 357.3L146.7 357.4L147.1 357.5L147.5 357.9L147.9 358.2L148.3 358.1L148.7 358.2L149.1 358.2L149.5 358.2L149.9 358.5L150.3 358.6L150.7 358.5L151.1 358.5L151.5 358.8L151.9 358.7L152.3 358.9L152.7 358.6L153.1 358.9L153.5 358.8L153.9 358.6L154.3 358.8L154.7 358.6L155.1 358.6L155.5 358.3L155.9 358.6L156.3 358.3L156.7 358.3L157.1 358.4L157.5 358.3L157.9 358.3L158.3 358.7L158.7 358.5L159.1 358.7L159.5 358.8L159.9 359.0L160.3 359.2L160.7 359.3L161.1 359.1L161.5 359.2L161.9 359.2L162.3 359.2L162.7 359.1L163.1 359.4L163.5 359.1L163.9 359.3L164.3 359.3L164.7 359.3L165.1 359.2L165.5 359.3L165.9 359.4L166.3 359.4L166.7 359.4L167.1 359.3L167.5 359.4L167.9 359.4L168.3 359.4L168.7 359.4L169.1 359.3L169.5 359.5L169.9 359.5L170.3 359.5L170.7 359.6L171.1 359.3L171.5 359.5L171.9 359.6L172.3 359.3L172.7 359.6L173.1 359.7L173.5 359.5L173.9 359.4L174.3 359.6L174.7 359.7L175.1 359.5L175.5 359.6L175.9 359.5L176.3 359.5L176.7 359.7L176.9 360.0Z" fill="#000"/>
<rect x="71.50" y="271.25" width="105.40" height="88.75" stroke="#4a4a4a" stroke-width="1.0" fill="none"/>
<line x1="71.50" y1="271.25" x2="71.50" y2="360.00" stroke="#000" stroke-width="1.0"/>
<line x1="71.50" y1="360.00" x2="176.90" y2="360.00" stroke="#000" stroke-width="1.0"/>
<line x1="80.00" y1="333.40" x2="97.50" y2="333.40" stroke="#333" stroke-width="1.0"/>
<line x1="80.00" y1="328.90" x2="80.00" y2="337.90" stroke="#333" stroke-width="1.0"/>
<line x1="97.50" y1="328.90" x2="97.50" y2="337.90" stroke="#333" stroke-width="1.0"/>
<line x1="97.50" y1="328.40" x2="116.20" y2="328.40" stroke="#333" stroke-width="1.0"/>
<line x1="97.50" y1="323.90" x2="97.50" y2="332.90" stroke="#333" stroke-width="1.0"/>
<line x1="116.20" y1="323.90" x2="116.20" y2="332.90" stroke="#333" stroke-width="1.0"/>
<line x1="116.20" y1="325.20" x2="134.30" y2="325.20" stroke="#333" stroke-width="1.0"/>
<line x1="116.20" y1="320.70" x2="116.20" y2="329.70" stroke="#333" stroke-width="1.0"/>
<line x1="134.30" y1="320.70" x2="134.30" y2="329.70" stroke="#333" stroke-width="1.0"/>
<line x1="134.30" y1="321.90" x2="150.80" y2="321.90" stroke="#333" stroke-width="1.0"/>
<line x1="134.30" y1="317.40" x2="134.30" y2="326.40" stroke="#333" stroke-width="1.0"/>
<line x1="150.80" y1="317.40" x2="150.80" y2="326.40" stroke="#333" stroke-width="1.0"/>
<line x1="150.80" y1="321.90" x2="169.30" y2="321.90" stroke="#333" stroke-width="1.0"/>
<line x1="150.80" y1="317.40" x2="150.80" y2="326.40" stroke="#333" stroke-width="1.0"/>
<line x1="169.30" y1="317.40" x2="169.30" y2="326.40" stroke="#333" stroke-width="1.0"/>
<text x="74.3" y="284.8" font-size="10.0" font-weight="bold" text-anchor="start" fill="#000"  stroke="#000" stroke-width="0.25">2N</text>
<text x="98.0" y="313.5" font-size="10.0" font-weight="bold" text-anchor="start" fill="#000"  stroke="#000" stroke-width="0.25">4N</text>
<text x="119.3" y="306.2" font-size="10.0" font-weight="bold" text-anchor="start" fill="#000"  stroke="#000" stroke-width="0.25">8N</text>
<text x="133.8" y="300.7" font-size="10.0" font-weight="bold" text-anchor="start" fill="#000"  stroke="#000" stroke-width="0.25">16N</text>
<text x="151.6" y="313.7" font-size="10.0" font-weight="bold" text-anchor="start" fill="#000"  stroke="#000" stroke-width="0.25">32N</text>
<line x1="68.50" y1="360.00" x2="71.50" y2="360.00" stroke="#000" stroke-width="0.5"/>
<text x="67.7" y="360.0" font-size="5.5" font-weight="normal" text-anchor="middle" fill="#222" transform="rotate(-90 67.7 360.0)" stroke="#222" stroke-width="0.2">0</text>
<line x1="70.00" y1="355.56" x2="71.50" y2="355.56" stroke="#000" stroke-width="0.4"/>
<line x1="70.00" y1="351.12" x2="71.50" y2="351.12" stroke="#000" stroke-width="0.4"/>
<line x1="70.00" y1="346.69" x2="71.50" y2="346.69" stroke="#000" stroke-width="0.4"/>
<line x1="68.50" y1="342.25" x2="71.50" y2="342.25" stroke="#000" stroke-width="0.5"/>
<text x="67.7" y="342.25" font-size="5.5" font-weight="normal" text-anchor="middle" fill="#222" transform="rotate(-90 67.7 342.25)" stroke="#222" stroke-width="0.2">300</text>
<line x1="70.00" y1="337.81" x2="71.50" y2="337.81" stroke="#000" stroke-width="0.4"/>
<line x1="70.00" y1="333.38" x2="71.50" y2="333.38" stroke="#000" stroke-width="0.4"/>
<line x1="70.00" y1="328.94" x2="71.50" y2="328.94" stroke="#000" stroke-width="0.4"/>
<line x1="68.50" y1="324.50" x2="71.50" y2="324.50" stroke="#000" stroke-width="0.5"/>
<text x="67.7" y="324.5" font-size="5.5" font-weight="normal" text-anchor="middle" fill="#222" transform="rotate(-90 67.7 324.5)" stroke="#222" stroke-width="0.2">600</text>
<line x1="70.00" y1="320.06" x2="71.50" y2="320.06" stroke="#000" stroke-width="0.4"/>
<line x1="70.00" y1="315.62" x2="71.50" y2="315.62" stroke="#000" stroke-width="0.4"/>
<line x1="70.00" y1="311.19" x2="71.50" y2="311.19" stroke="#000" stroke-width="0.4"/>
<line x1="68.50" y1="306.75" x2="71.50" y2="306.75" stroke="#000" stroke-width="0.5"/>
<text x="67.7" y="306.75" font-size="5.5" font-weight="normal" text-anchor="middle" fill="#222" transform="rotate(-90 67.7 306.75)" stroke="#222" stroke-width="0.2">900</text>
<line x1="70.00" y1="302.31" x2="71.50" y2="302.31" stroke="#000" stroke-width="0.4"/>
<line x1="70.00" y1="297.88" x2="71.50" y2="297.88" stroke="#000" stroke-width="0.4"/>
<line x1="70.00" y1="293.44" x2="71.50" y2="293.44" stroke="#000" stroke-width="0.4"/>
<line x1="68.50" y1="289.00" x2="71.50" y2="289.00" stroke="#000" stroke-width="0.5"/>
<text x="67.7" y="289.0" font-size="5.5" font-weight="normal" text-anchor="middle" fill="#222" transform="rotate(-90 67.7 289.0)" stroke="#222" stroke-width="0.2">1200</text>
<line x1="70.00" y1="284.56" x2="71.50" y2="284.56" stroke="#000" stroke-width="0.4"/>
<line x1="70.00" y1="280.12" x2="71.50" y2="280.12" stroke="#000" stroke-width="0.4"/>
<line x1="70.00" y1="275.69" x2="71.50" y2="275.69" stroke="#000" stroke-width="0.4"/>
<line x1="68.50" y1="271.25" x2="71.50" y2="271.25" stroke="#000" stroke-width="0.5"/>
<text x="67.7" y="271.25" font-size="5.5" font-weight="normal" text-anchor="middle" fill="#222" transform="rotate(-90 67.7 271.25)" stroke="#222" stroke-width="0.2">1500</text>
<text x="61.0" y="318.125" font-size="5.5" font-weight="normal" text-anchor="middle" fill="#222" transform="rotate(-90 61.0 318.125)" stroke="#222" stroke-width="0.2">Counts</text>
<text x="115.0" y="368.6" font-size="5.4" text-anchor="middle" fill="#222">10<tspan dy="-2.4" font-size="5.8">3</tspan></text>
<line x1="114.50" y1="360.00" x2="114.50" y2="363.00" stroke="#000" stroke-width="0.5"/>
<line x1="79.99" y1="360.00" x2="79.99" y2="361.50" stroke="#000" stroke-width="0.4"/>
<line x1="88.24" y1="360.00" x2="88.24" y2="361.50" stroke="#000" stroke-width="0.4"/>
<line x1="94.63" y1="360.00" x2="94.63" y2="361.50" stroke="#000" stroke-width="0.4"/>
<line x1="99.86" y1="360.00" x2="99.86" y2="361.50" stroke="#000" stroke-width="0.4"/>
<line x1="104.28" y1="360.00" x2="104.28" y2="361.50" stroke="#000" stroke-width="0.4"/>
<line x1="108.10" y1="360.00" x2="108.10" y2="361.50" stroke="#000" stroke-width="0.4"/>
<line x1="111.48" y1="360.00" x2="111.48" y2="361.50" stroke="#000" stroke-width="0.4"/>
<line x1="134.37" y1="360.00" x2="134.37" y2="361.50" stroke="#000" stroke-width="0.4"/>
<line x1="145.99" y1="360.00" x2="145.99" y2="361.50" stroke="#000" stroke-width="0.4"/>
<line x1="154.24" y1="360.00" x2="154.24" y2="361.50" stroke="#000" stroke-width="0.4"/>
<line x1="160.63" y1="360.00" x2="160.63" y2="361.50" stroke="#000" stroke-width="0.4"/>
<line x1="165.86" y1="360.00" x2="165.86" y2="361.50" stroke="#000" stroke-width="0.4"/>
<line x1="170.28" y1="360.00" x2="170.28" y2="361.50" stroke="#000" stroke-width="0.4"/>
<line x1="174.10" y1="360.00" x2="174.10" y2="361.50" stroke="#000" stroke-width="0.4"/>
<text x="115.6" y="380.7" font-size="12.4" font-weight="bold" text-anchor="start" fill="#000"  stroke="#000" stroke-width="0.25">PI</text>
<clipPath id="cmp"><rect x="183.9" y="265" width="90" height="25"/></clipPath>
<text x="183.0" y="283.5" font-size="12.3" font-weight="bold" text-anchor="start" fill="#000" clip-path="url(#cmp)" stroke="#000" stroke-width="0.25">Mean ploidy:</text>
<text x="196.8" y="318.2" font-size="12.2" font-weight="bold" text-anchor="start" fill="#000"  stroke="#000" stroke-width="0.25">4.59N</text>
<text x="7.2" y="418.5" font-size="13.1" font-weight="bold" text-anchor="start" fill="#000"  stroke="#000" stroke-width="0.25">TPO+</text>
<text x="7.2" y="434.8" font-size="13.1" font-weight="bold" text-anchor="start" fill="#000"  stroke="#000" stroke-width="0.25">Rapa</text>
<text x="6.6" y="451.5" font-size="13.4" font-weight="bold" text-anchor="start" fill="#000"  stroke="#000" stroke-width="0.25">(D0)</text>
<path d="M77.8 478.5L77.8 478.2L78.2 477.9L78.5 477.8L79.0 477.9L79.3 477.6L79.8 477.7L80.2 477.5L80.5 477.4L81.0 477.4L81.3 477.2L81.8 477.2L82.2 477.1L82.5 476.7L83.0 476.8L83.3 476.6L83.8 476.6L84.2 476.4L84.5 476.1L85.0 476.0L85.3 475.5L85.8 475.3L86.2 474.8L86.5 475.0L87.0 474.6L87.3 474.4L87.8 473.2L88.2 471.1L88.5 469.6L89.0 468.4L89.3 464.0L89.8 459.2L90.2 453.9L90.5 449.5L91.0 441.9L91.3 434.5L91.8 427.9L92.2 420.4L92.5 414.1L93.0 407.6L93.3 401.9L93.8 402.1L94.2 403.8L94.5 409.2L95.0 415.0L95.3 423.7L95.8 432.3L96.2 439.8L96.5 444.2L97.0 449.1L97.3 453.6L97.8 456.1L98.2 459.1L98.5 461.1L99.0 463.4L99.3 465.1L99.8 465.6L100.2 466.7L100.5 467.6L101.0 469.1L101.3 469.1L101.8 469.0L102.2 469.3L102.5 469.9L103.0 470.4L103.3 470.6L103.8 470.6L104.2 470.6L104.5 470.2L105.0 470.1L105.3 470.5L105.8 470.2L106.2 470.3L106.5 469.9L107.0 470.3L107.3 470.0L107.8 469.9L108.2 469.5L108.5 469.0L109.0 468.3L109.3 468.3L109.8 467.3L110.2 466.5L110.5 464.5L111.0 462.9L111.3 460.4L111.8 458.7L112.2 456.0L112.5 453.5L113.0 451.1L113.3 449.8L113.8 448.8L114.2 447.3L114.5 445.9L115.0 447.7L115.3 449.0L115.8 451.1L116.2 453.0L116.5 456.4L117.0 458.7L117.3 461.6L117.8 464.0L118.2 466.4L118.5 468.2L119.0 469.7L119.3 470.3L119.8 471.7L120.2 472.4L120.5 472.9L121.0 473.9L121.3 473.8L121.8 474.6L122.2 474.4L122.5 474.5L123.0 475.0L123.3 474.9L123.8 475.6L124.2 475.7L124.5 475.8L125.0 475.9L125.3 475.9L125.8 475.9L126.2 476.0L126.5 476.0L127.0 476.0L127.3 476.3L127.8 476.2L128.2 476.2L128.6 476.5L128.9 476.4L129.3 476.6L129.8 476.3L130.2 476.2L130.6 476.2L130.9 475.8L131.3 475.8L131.8 475.3L132.2 475.2L132.6 474.7L132.9 474.6L133.3 474.0L133.8 472.9L134.2 471.5L134.6 471.1L134.9 469.8L135.3 469.6L135.8 468.3L136.2 469.6L136.6 470.2L136.9 470.6L137.3 472.0L137.8 472.3L138.2 473.7L138.6 474.0L138.9 474.7L139.3 475.6L139.8 475.3L140.2 475.6L140.6 476.0L140.9 476.3L141.3 476.5L141.8 476.9L142.2 477.1L142.6 477.2L142.9 477.1L143.3 477.0L143.8 477.1L144.2 477.3L144.6 477.2L144.9 477.1L145.3 477.0L145.8 477.1L146.2 477.1L146.6 477.1L146.9 477.1L147.3 477.1L147.8 477.1L148.2 477.4L148.6 477.0L148.9 476.7L149.3 476.7L149.8 476.6L150.2 476.5L150.6 476.0L150.9 475.9L151.3 475.8L151.8 475.4L152.2 475.4L152.6 475.1L152.9 474.7L153.3 475.5L153.8 475.7L154.2 475.7L154.6 476.0L154.9 476.2L155.3 476.3L155.8 476.8L156.2 476.7L156.6 476.8L156.9 477.2L157.3 477.3L157.8 477.4L158.2 477.4L158.6 477.6L158.9 477.7L159.3 477.6L159.8 477.9L160.2 477.8L160.6 477.8L160.9 477.8L161.3 477.9L161.8 477.7L162.2 477.7L162.6 477.7L162.9 478.0L163.3 478.0L163.8 477.7L164.2 477.7L164.6 478.0L164.9 478.1L165.3 477.9L165.8 478.0L166.2 478.1L166.6 477.8L166.9 478.0L167.3 478.0L167.8 478.0L168.2 478.1L168.6 478.2L168.9 478.2L169.3 478.2L169.8 478.2L170.2 478.0L170.6 478.2L170.9 478.2L171.3 478.2L171.8 478.2L172.2 478.2L172.6 478.2L172.9 478.2L173.3 478.2L173.8 478.2L174.2 478.2L174.6 478.2L174.9 478.2L175.3 478.2L175.8 478.2L176.2 478.2L176.6 478.2L176.9 478.2L177.3 478.2L177.8 478.2L178.2 478.1L178.6 478.1L178.9 478.2L179.3 478.2L179.8 478.2L180.2 478.1L180.6 478.2L180.9 478.1L181.3 478.2L181.8 478.2L182.2 478.2L182.6 478.2L182.9 478.2L183.3 478.2L183.5 478.5Z" fill="#000"/>
<rect x="77.75" y="388.10" width="105.75" height="90.40" stroke="#4a4a4a" stroke-width="1.0" fill="none"/>
<line x1="77.75" y1="388.10" x2="77.75" y2="478.50" stroke="#000" stroke-width="1.0"/>
<line x1="77.75" y1="478.50" x2="183.50" y2="478.50" stroke="#000" stroke-width="1.0"/>
<line x1="86.30" y1="450.50" x2="105.00" y2="450.50" stroke="#333" stroke-width="1.0"/>
<line x1="86.30" y1="446.00" x2="86.30" y2="455.00" stroke="#333" stroke-width="1.0"/>
<line x1="105.00" y1="446.00" x2="105.00" y2="455.00" stroke="#333" stroke-width="1.0"/>
<line x1="105.00" y1="445.40" x2="125.40" y2="445.40" stroke="#333" stroke-width="1.0"/>
<line x1="105.00" y1="440.90" x2="105.00" y2="449.90" stroke="#333" stroke-width="1.0"/>
<line x1="125.40" y1="440.90" x2="125.40" y2="449.90" stroke="#333" stroke-width="1.0"/>
<line x1="125.40" y1="442.20" x2="145.50" y2="442.20" stroke="#333" stroke-width="1.0"/>
<line x1="125.40" y1="437.70" x2="125.40" y2="446.70" stroke="#333" stroke-width="1.0"/>
<line x1="145.50" y1="437.70" x2="145.50" y2="446.70" stroke="#333" stroke-width="1.0"/>
<line x1="145.50" y1="439.00" x2="163.30" y2="439.00" stroke="#333" stroke-width="1.0"/>
<line x1="145.50" y1="434.50" x2="145.50" y2="443.50" stroke="#333" stroke-width="1.0"/>
<line x1="163.30" y1="434.50" x2="163.30" y2="443.50" stroke="#333" stroke-width="1.0"/>
<line x1="163.30" y1="438.60" x2="181.80" y2="438.60" stroke="#333" stroke-width="1.0"/>
<line x1="163.30" y1="434.10" x2="163.30" y2="443.10" stroke="#333" stroke-width="1.0"/>
<line x1="181.80" y1="434.10" x2="181.80" y2="443.10" stroke="#333" stroke-width="1.0"/>
<text x="81.8" y="402.7" font-size="10.0" font-weight="bold" text-anchor="start" fill="#000"  stroke="#000" stroke-width="0.25">2N</text>
<text x="109.0" y="436.0" font-size="10.0" font-weight="bold" text-anchor="start" fill="#000"  stroke="#000" stroke-width="0.25">4N</text>
<text x="125.3" y="429.0" font-size="10.0" font-weight="bold" text-anchor="start" fill="#000"  stroke="#000" stroke-width="0.25">8N</text>
<text x="144.3" y="422.3" font-size="10.0" font-weight="bold" text-anchor="start" fill="#000"  stroke="#000" stroke-width="0.25">16N</text>
<text x="164.3" y="429.0" font-size="10.0" font-weight="bold" text-anchor="start" fill="#000"  stroke="#000" stroke-width="0.25">32N</text>
<line x1="74.75" y1="478.50" x2="77.75" y2="478.50" stroke="#000" stroke-width="0.5"/>
<text x="73.75" y="478.5" font-size="5.5" font-weight="normal" text-anchor="middle" fill="#222" transform="rotate(-90 73.75 478.5)" stroke="#222" stroke-width="0.2">0</text>
<line x1="76.25" y1="473.98" x2="77.75" y2="473.98" stroke="#000" stroke-width="0.4"/>
<line x1="76.25" y1="469.46" x2="77.75" y2="469.46" stroke="#000" stroke-width="0.4"/>
<line x1="76.25" y1="464.94" x2="77.75" y2="464.94" stroke="#000" stroke-width="0.4"/>
<line x1="74.75" y1="460.42" x2="77.75" y2="460.42" stroke="#000" stroke-width="0.5"/>
<text x="73.75" y="460.42" font-size="5.5" font-weight="normal" text-anchor="middle" fill="#222" transform="rotate(-90 73.75 460.42)" stroke="#222" stroke-width="0.2">300</text>
<line x1="76.25" y1="455.90" x2="77.75" y2="455.90" stroke="#000" stroke-width="0.4"/>
<line x1="76.25" y1="451.38" x2="77.75" y2="451.38" stroke="#000" stroke-width="0.4"/>
<line x1="76.25" y1="446.86" x2="77.75" y2="446.86" stroke="#000" stroke-width="0.4"/>
<line x1="74.75" y1="442.34" x2="77.75" y2="442.34" stroke="#000" stroke-width="0.5"/>
<text x="73.75" y="442.34000000000003" font-size="5.5" font-weight="normal" text-anchor="middle" fill="#222" transform="rotate(-90 73.75 442.34000000000003)" stroke="#222" stroke-width="0.2">600</text>
<line x1="76.25" y1="437.82" x2="77.75" y2="437.82" stroke="#000" stroke-width="0.4"/>
<line x1="76.25" y1="433.30" x2="77.75" y2="433.30" stroke="#000" stroke-width="0.4"/>
<line x1="76.25" y1="428.78" x2="77.75" y2="428.78" stroke="#000" stroke-width="0.4"/>
<line x1="74.75" y1="424.26" x2="77.75" y2="424.26" stroke="#000" stroke-width="0.5"/>
<text x="73.75" y="424.26" font-size="5.5" font-weight="normal" text-anchor="middle" fill="#222" transform="rotate(-90 73.75 424.26)" stroke="#222" stroke-width="0.2">900</text>
<line x1="76.25" y1="419.74" x2="77.75" y2="419.74" stroke="#000" stroke-width="0.4"/>
<line x1="76.25" y1="415.22" x2="77.75" y2="415.22" stroke="#000" stroke-width="0.4"/>
<line x1="76.25" y1="410.70" x2="77.75" y2="410.70" stroke="#000" stroke-width="0.4"/>
<line x1="74.75" y1="406.18" x2="77.75" y2="406.18" stroke="#000" stroke-width="0.5"/>
<text x="73.75" y="406.18" font-size="5.5" font-weight="normal" text-anchor="middle" fill="#222" transform="rotate(-90 73.75 406.18)" stroke="#222" stroke-width="0.2">1200</text>
<line x1="76.25" y1="401.66" x2="77.75" y2="401.66" stroke="#000" stroke-width="0.4"/>
<line x1="76.25" y1="397.14" x2="77.75" y2="397.14" stroke="#000" stroke-width="0.4"/>
<line x1="76.25" y1="392.62" x2="77.75" y2="392.62" stroke="#000" stroke-width="0.4"/>
<line x1="74.75" y1="388.10" x2="77.75" y2="388.10" stroke="#000" stroke-width="0.5"/>
<text x="73.75" y="388.1" font-size="5.5" font-weight="normal" text-anchor="middle" fill="#222" transform="rotate(-90 73.75 388.1)" stroke="#222" stroke-width="0.2">1500</text>
<text x="66.95" y="434.3" font-size="5.5" font-weight="normal" text-anchor="middle" fill="#222" transform="rotate(-90 66.95 434.3)" stroke="#222" stroke-width="0.2">Counts</text>
<text x="125.0" y="487.1" font-size="5.4" text-anchor="middle" fill="#222">10<tspan dy="-2.4" font-size="5.8">3</tspan></text>
<line x1="124.50" y1="478.50" x2="124.50" y2="481.50" stroke="#000" stroke-width="0.5"/>
<line x1="78.37" y1="478.50" x2="78.37" y2="480.00" stroke="#000" stroke-width="0.4"/>
<line x1="89.99" y1="478.50" x2="89.99" y2="480.00" stroke="#000" stroke-width="0.4"/>
<line x1="98.24" y1="478.50" x2="98.24" y2="480.00" stroke="#000" stroke-width="0.4"/>
<line x1="104.63" y1="478.50" x2="104.63" y2="480.00" stroke="#000" stroke-width="0.4"/>
<line x1="109.86" y1="478.50" x2="109.86" y2="480.00" stroke="#000" stroke-width="0.4"/>
<line x1="114.28" y1="478.50" x2="114.28" y2="480.00" stroke="#000" stroke-width="0.4"/>
<line x1="118.10" y1="478.50" x2="118.10" y2="480.00" stroke="#000" stroke-width="0.4"/>
<line x1="121.48" y1="478.50" x2="121.48" y2="480.00" stroke="#000" stroke-width="0.4"/>
<line x1="144.37" y1="478.50" x2="144.37" y2="480.00" stroke="#000" stroke-width="0.4"/>
<line x1="155.99" y1="478.50" x2="155.99" y2="480.00" stroke="#000" stroke-width="0.4"/>
<line x1="164.24" y1="478.50" x2="164.24" y2="480.00" stroke="#000" stroke-width="0.4"/>
<line x1="170.63" y1="478.50" x2="170.63" y2="480.00" stroke="#000" stroke-width="0.4"/>
<line x1="175.86" y1="478.50" x2="175.86" y2="480.00" stroke="#000" stroke-width="0.4"/>
<line x1="180.28" y1="478.50" x2="180.28" y2="480.00" stroke="#000" stroke-width="0.4"/>
<text x="199.8" y="429.0" font-size="12.4" font-weight="bold" text-anchor="start" fill="#000"  stroke="#000" stroke-width="0.25">3.46N</text>
<text x="267.2" y="258.3" font-size="23.5" font-weight="bold" text-anchor="start" fill="#000"  stroke="#000" stroke-width="0.25">D</text>
<text x="271.7" y="316.8" font-size="13.3" font-weight="bold" text-anchor="start" fill="#000"  stroke="#000" stroke-width="0.25">TPO</text>
<path d="M329.0 356.2L329.0 346.4L329.4 346.3L329.8 345.8L330.2 344.9L330.6 345.2L331.0 345.7L331.4 344.9L331.8 344.9L332.2 346.4L332.6 346.0L333.0 345.9L333.4 347.3L333.8 346.1L334.2 347.5L334.6 347.6L335.0 346.9L335.4 348.6L335.8 347.7L336.2 345.8L336.6 346.4L337.0 345.0L337.4 342.6L337.8 340.4L338.2 339.4L338.6 337.7L339.0 335.0L339.4 332.7L339.8 329.4L340.2 326.0L340.6 323.6L341.0 319.5L341.4 315.9L341.8 313.8L342.2 309.3L342.6 305.8L343.0 303.3L343.4 300.0L343.8 296.0L344.2 293.7L344.6 289.9L345.0 286.8L345.4 281.7L345.8 282.0L346.2 281.2L346.6 285.0L347.0 288.6L347.4 291.5L347.8 295.4L348.2 300.1L348.6 303.1L349.0 305.5L349.4 309.3L349.8 312.2L350.2 316.2L350.6 318.0L351.0 320.4L351.4 323.3L351.8 325.4L352.2 326.7L352.6 329.7L353.0 329.4L353.4 332.0L353.8 332.8L354.2 333.3L354.6 334.1L355.0 333.4L355.4 334.4L355.8 333.1L356.2 332.6L356.6 333.1L357.0 332.3L357.4 331.3L357.8 330.3L358.2 328.3L358.6 327.7L359.0 326.0L359.4 326.2L359.8 323.9L360.2 323.6L360.6 321.9L361.0 322.1L361.4 320.3L361.8 319.7L362.2 319.3L362.6 319.4L363.0 318.6L363.4 319.6L363.8 320.1L364.2 319.8L364.6 321.2L365.0 321.3L365.4 324.0L365.8 325.2L366.2 327.2L366.6 329.1L367.0 330.4L367.4 333.3L367.8 335.2L368.2 335.9L368.6 339.1L369.0 339.5L369.4 340.9L369.8 343.7L370.2 344.0L370.6 345.5L371.0 346.4L371.4 348.3L371.8 348.5L372.2 347.9L372.6 348.8L373.0 348.8L373.4 348.4L373.8 349.2L374.2 347.8L374.6 348.2L375.0 348.2L375.4 346.9L375.8 346.6L376.2 347.7L376.6 346.9L377.0 346.7L377.4 346.3L377.8 346.1L378.2 345.9L378.6 345.2L379.0 345.3L379.4 345.9L379.8 345.1L380.2 344.1L380.6 345.7L381.0 344.6L381.4 344.8L381.8 345.2L382.2 344.2L382.6 343.5L383.0 343.8L383.4 344.9L383.8 345.6L384.2 344.7L384.6 346.1L385.0 345.9L385.4 347.3L385.8 346.6L386.2 348.3L386.6 348.7L387.0 348.7L387.4 348.8L387.8 350.2L388.2 350.4L388.6 350.1L389.0 351.2L389.4 351.8L389.8 351.4L390.2 352.3L390.6 351.7L391.0 352.7L391.4 351.9L391.8 352.9L392.2 351.9L392.6 352.3L393.0 353.4L393.4 353.5L393.8 352.4L394.2 353.5L394.6 352.7L395.0 353.3L395.4 352.7L395.8 352.3L396.2 353.4L396.6 352.8L397.0 352.9L397.4 351.8L397.8 351.9L398.2 352.5L398.6 351.7L399.0 352.6L399.4 352.5L399.8 351.2L400.2 351.5L400.6 351.6L401.0 351.6L401.4 350.9L401.8 350.5L402.2 352.0L402.6 352.5L403.0 351.9L403.4 353.2L403.8 353.2L404.2 353.7L404.6 353.9L405.0 353.2L405.4 353.9L405.8 353.5L406.2 354.2L406.6 354.2L407.0 353.9L407.4 353.9L407.8 354.5L408.2 354.2L408.6 354.5L409.0 354.0L409.4 354.6L409.8 353.9L410.2 354.2L410.6 354.5L411.0 354.1L411.4 354.8L411.8 354.6L412.2 354.1L412.6 354.9L413.0 354.3L413.4 354.7L413.8 354.7L414.2 354.3L414.6 354.4L415.0 354.4L415.4 354.4L415.8 354.2L416.2 354.8L416.6 354.7L417.0 354.6L417.4 354.9L417.8 355.1L418.2 354.4L418.6 354.3L419.0 355.0L419.4 355.0L419.8 354.5L420.2 355.2L420.6 355.1L421.0 355.1L421.4 355.0L421.8 355.2L422.2 355.1L422.6 354.7L423.0 355.0L423.4 355.2L423.8 355.1L424.2 354.5L424.6 354.9L425.0 354.8L425.4 354.4L425.8 354.8L426.2 355.2L426.6 354.9L427.0 354.8L427.4 354.7L427.8 355.1L428.2 355.3L428.6 355.0L429.0 354.8L429.4 355.3L429.8 355.1L430.2 355.2L430.6 355.0L431.0 354.6L431.4 355.3L431.8 355.1L432.2 355.4L432.6 354.5L433.0 355.3L433.4 355.2L433.8 354.7L434.2 354.8L434.6 354.9L435.0 354.7L435.2 356.2Z" fill="#000"/>
<rect x="329.00" y="268.10" width="106.25" height="88.15" stroke="#4a4a4a" stroke-width="1.0" fill="none"/>
<line x1="329.00" y1="268.10" x2="329.00" y2="356.25" stroke="#000" stroke-width="1.0"/>
<line x1="329.00" y1="356.25" x2="435.25" y2="356.25" stroke="#000" stroke-width="1.0"/>
<line x1="335.80" y1="283.90" x2="353.50" y2="283.90" stroke="#111" stroke-width="0.8"/>
<line x1="335.80" y1="279.70" x2="335.80" y2="288.10" stroke="#111" stroke-width="0.8"/>
<line x1="353.50" y1="279.70" x2="353.50" y2="288.10" stroke="#111" stroke-width="0.8"/>
<line x1="354.60" y1="314.30" x2="372.00" y2="314.30" stroke="#111" stroke-width="0.8"/>
<line x1="354.60" y1="310.10" x2="354.60" y2="318.50" stroke="#111" stroke-width="0.8"/>
<line x1="372.00" y1="310.10" x2="372.00" y2="318.50" stroke="#111" stroke-width="0.8"/>
<line x1="374.60" y1="336.80" x2="389.80" y2="336.80" stroke="#111" stroke-width="0.8"/>
<line x1="374.60" y1="332.60" x2="374.60" y2="341.00" stroke="#111" stroke-width="0.8"/>
<line x1="389.80" y1="332.60" x2="389.80" y2="341.00" stroke="#111" stroke-width="0.8"/>
<line x1="392.20" y1="336.80" x2="407.50" y2="336.80" stroke="#111" stroke-width="0.8"/>
<line x1="392.20" y1="332.60" x2="392.20" y2="341.00" stroke="#111" stroke-width="0.8"/>
<line x1="407.50" y1="332.60" x2="407.50" y2="341.00" stroke="#111" stroke-width="0.8"/>
<line x1="408.80" y1="345.50" x2="422.50" y2="345.50" stroke="#111" stroke-width="0.8"/>
<line x1="408.80" y1="341.30" x2="408.80" y2="349.70" stroke="#111" stroke-width="0.8"/>
<line x1="422.50" y1="341.30" x2="422.50" y2="349.70" stroke="#111" stroke-width="0.8"/>
<text x="336.0" y="279.8" font-size="10.0" font-weight="bold" text-anchor="start" fill="#000"  stroke="#000" stroke-width="0.25">2N</text>
<text x="356.8" y="313.6" font-size="10.0" font-weight="bold" text-anchor="start" fill="#000"  stroke="#000" stroke-width="0.25">4N</text>
<text x="377.4" y="333.8" font-size="10.0" font-weight="bold" text-anchor="start" fill="#000"  stroke="#000" stroke-width="0.25">8N</text>
<text x="390.2" y="326.7" font-size="10.0" font-weight="bold" text-anchor="start" fill="#000"  stroke="#000" stroke-width="0.25">16N</text>
<text x="410.2" y="333.8" font-size="10.0" font-weight="bold" text-anchor="start" fill="#000"  stroke="#000" stroke-width="0.25">32N</text>
<line x1="326.00" y1="356.25" x2="329.00" y2="356.25" stroke="#000" stroke-width="0.5"/>
<text x="323.0" y="356.25" font-size="6.4" font-weight="normal" text-anchor="middle" fill="#111" transform="rotate(-90 323.0 356.25)" stroke="#111" stroke-width="0.2">0</text>
<line x1="327.50" y1="351.84" x2="329.00" y2="351.84" stroke="#000" stroke-width="0.4"/>
<line x1="327.50" y1="347.44" x2="329.00" y2="347.44" stroke="#000" stroke-width="0.4"/>
<line x1="327.50" y1="343.03" x2="329.00" y2="343.03" stroke="#000" stroke-width="0.4"/>
<line x1="326.00" y1="338.62" x2="329.00" y2="338.62" stroke="#000" stroke-width="0.5"/>
<text x="323.0" y="338.62" font-size="6.4" font-weight="normal" text-anchor="middle" fill="#111" transform="rotate(-90 323.0 338.62)" stroke="#111" stroke-width="0.2">80</text>
<line x1="327.50" y1="334.21" x2="329.00" y2="334.21" stroke="#000" stroke-width="0.4"/>
<line x1="327.50" y1="329.81" x2="329.00" y2="329.81" stroke="#000" stroke-width="0.4"/>
<line x1="327.50" y1="325.40" x2="329.00" y2="325.40" stroke="#000" stroke-width="0.4"/>
<line x1="326.00" y1="320.99" x2="329.00" y2="320.99" stroke="#000" stroke-width="0.5"/>
<text x="323.0" y="320.99" font-size="6.4" font-weight="normal" text-anchor="middle" fill="#111" transform="rotate(-90 323.0 320.99)" stroke="#111" stroke-width="0.2">160</text>
<line x1="327.50" y1="316.58" x2="329.00" y2="316.58" stroke="#000" stroke-width="0.4"/>
<line x1="327.50" y1="312.18" x2="329.00" y2="312.18" stroke="#000" stroke-width="0.4"/>
<line x1="327.50" y1="307.77" x2="329.00" y2="307.77" stroke="#000" stroke-width="0.4"/>
<line x1="326.00" y1="303.36" x2="329.00" y2="303.36" stroke="#000" stroke-width="0.5"/>
<text x="323.0" y="303.36" font-size="6.4" font-weight="normal" text-anchor="middle" fill="#111" transform="rotate(-90 323.0 303.36)" stroke="#111" stroke-width="0.2">240</text>
<line x1="327.50" y1="298.95" x2="329.00" y2="298.95" stroke="#000" stroke-width="0.4"/>
<line x1="327.50" y1="294.55" x2="329.00" y2="294.55" stroke="#000" stroke-width="0.4"/>
<line x1="327.50" y1="290.14" x2="329.00" y2="290.14" stroke="#000" stroke-width="0.4"/>
<line x1="326.00" y1="285.73" x2="329.00" y2="285.73" stroke="#000" stroke-width="0.5"/>
<text x="323.0" y="285.73" font-size="6.4" font-weight="normal" text-anchor="middle" fill="#111" transform="rotate(-90 323.0 285.73)" stroke="#111" stroke-width="0.2">320</text>
<line x1="327.50" y1="281.32" x2="329.00" y2="281.32" stroke="#000" stroke-width="0.4"/>
<line x1="327.50" y1="276.92" x2="329.00" y2="276.92" stroke="#000" stroke-width="0.4"/>
<line x1="327.50" y1="272.51" x2="329.00" y2="272.51" stroke="#000" stroke-width="0.4"/>
<line x1="326.00" y1="268.10" x2="329.00" y2="268.10" stroke="#000" stroke-width="0.5"/>
<text x="323.0" y="268.1" font-size="6.4" font-weight="normal" text-anchor="middle" fill="#111" transform="rotate(-90 323.0 268.1)" stroke="#111" stroke-width="0.2">400</text>
<text x="314.5" y="313.175" font-size="6.4" font-weight="normal" text-anchor="middle" fill="#111" transform="rotate(-90 314.5 313.175)" stroke="#111" stroke-width="0.2">Counts</text>
<text x="393.0" y="365.25" font-size="5.8" text-anchor="middle" fill="#111">10<tspan dy="-2.4" font-size="6.3">3</tspan></text>
<line x1="392.50" y1="356.25" x2="392.50" y2="359.25" stroke="#000" stroke-width="0.5"/>
<line x1="346.37" y1="356.25" x2="346.37" y2="357.75" stroke="#000" stroke-width="0.4"/>
<line x1="357.99" y1="356.25" x2="357.99" y2="357.75" stroke="#000" stroke-width="0.4"/>
<line x1="366.24" y1="356.25" x2="366.24" y2="357.75" stroke="#000" stroke-width="0.4"/>
<line x1="372.63" y1="356.25" x2="372.63" y2="357.75" stroke="#000" stroke-width="0.4"/>
<line x1="377.86" y1="356.25" x2="377.86" y2="357.75" stroke="#000" stroke-width="0.4"/>
<line x1="382.28" y1="356.25" x2="382.28" y2="357.75" stroke="#000" stroke-width="0.4"/>
<line x1="386.10" y1="356.25" x2="386.10" y2="357.75" stroke="#000" stroke-width="0.4"/>
<line x1="389.48" y1="356.25" x2="389.48" y2="357.75" stroke="#000" stroke-width="0.4"/>
<line x1="412.37" y1="356.25" x2="412.37" y2="357.75" stroke="#000" stroke-width="0.4"/>
<line x1="423.99" y1="356.25" x2="423.99" y2="357.75" stroke="#000" stroke-width="0.4"/>
<line x1="432.24" y1="356.25" x2="432.24" y2="357.75" stroke="#000" stroke-width="0.4"/>
<text x="442.4" y="285.5" font-size="12.45" font-weight="bold" text-anchor="start" fill="#000"  stroke="#000" stroke-width="0.25">Mean ploidy:</text>
<text x="459.4" y="315.6" font-size="12.4" font-weight="bold" text-anchor="start" fill="#000"  stroke="#000" stroke-width="0.25">3.6N</text>
<clipPath id="cpi"><rect x="370" y="370" width="30" height="12.4"/></clipPath>
<text x="378.0" y="386.2" font-size="12.4" font-weight="bold" text-anchor="start" fill="#000" clip-path="url(#cpi)" stroke="#000" stroke-width="0.25">PI</text>
<text x="270.8" y="418.5" font-size="13.4" font-weight="bold" text-anchor="start" fill="#000"  stroke="#000" stroke-width="0.25">TPO+</text>
<text x="270.8" y="435.2" font-size="13.4" font-weight="bold" text-anchor="start" fill="#000"  stroke="#000" stroke-width="0.25">Rapa</text>
<text x="270.2" y="452.2" font-size="13.7" font-weight="bold" text-anchor="start" fill="#000"  stroke="#000" stroke-width="0.25">(D3)</text>
<path d="M336.0 481.8L336.0 480.4L336.4 478.2L336.8 478.5L337.2 477.5L337.6 479.1L338.0 477.8L338.4 478.3L338.8 477.9L339.2 478.7L339.6 477.8L340.0 478.3L340.4 477.3L340.8 476.8L341.2 477.7L341.6 477.2L342.0 477.8L342.4 476.6L342.8 475.5L343.2 474.4L343.6 472.1L344.0 470.8L344.4 467.2L344.8 464.5L345.2 459.5L345.6 457.7L346.0 454.4L346.4 452.1L346.8 449.3L347.2 446.7L347.6 443.3L348.0 442.6L348.4 440.1L348.8 439.6L349.2 437.6L349.6 437.5L350.0 435.2L350.4 432.6L350.8 430.0L351.2 426.1L351.6 421.8L352.0 416.9L352.4 411.5L352.8 406.3L353.2 402.2L353.6 399.2L354.0 400.5L354.4 402.8L354.8 406.8L355.2 413.0L355.6 419.3L356.0 425.4L356.4 431.2L356.8 435.3L357.2 440.2L357.6 446.4L358.0 448.6L358.4 452.6L358.8 456.0L359.2 459.3L359.6 459.9L360.0 461.8L360.4 462.0L360.8 463.5L361.2 464.7L361.6 465.0L362.0 464.4L362.4 463.9L362.8 463.4L363.2 462.9L363.6 462.8L364.0 462.2L364.4 462.3L364.8 461.5L365.2 460.3L365.6 459.9L366.0 458.9L366.4 456.2L366.8 455.9L367.2 454.7L367.6 452.7L368.0 451.6L368.4 451.2L368.8 449.4L369.2 449.2L369.6 449.3L370.0 448.2L370.4 448.3L370.8 446.6L371.2 445.0L371.6 445.6L372.0 444.5L372.4 444.3L372.8 443.8L373.2 442.4L373.6 442.5L374.0 442.9L374.4 441.6L374.8 443.4L375.2 446.5L375.6 447.3L376.0 451.4L376.4 455.6L376.8 457.6L377.2 460.4L377.6 463.3L378.0 466.6L378.4 470.2L378.8 470.8L379.2 471.8L379.6 472.8L380.0 473.7L380.4 473.3L380.8 474.2L381.2 474.0L381.6 474.5L382.0 474.0L382.4 475.5L382.8 474.4L383.2 475.8L383.6 474.6L384.0 475.8L384.4 475.7L384.8 475.3L385.2 475.0L385.6 475.1L386.0 474.3L386.4 475.5L386.8 475.3L387.2 475.2L387.6 474.3L388.0 475.5L388.4 474.9L388.8 474.8L389.2 475.3L389.6 475.0L390.0 474.1L390.4 474.2L390.8 474.5L391.2 474.2L391.6 473.5L392.0 473.0L392.4 473.6L392.8 473.7L393.2 472.1L393.6 473.1L394.0 472.7L394.4 473.7L394.8 472.8L395.2 473.5L395.6 475.0L396.0 474.9L396.4 475.8L396.8 476.8L397.2 477.2L397.6 476.7L398.0 478.1L398.4 478.1L398.8 477.9L399.2 478.0L399.6 478.2L400.0 477.6L400.4 478.7L400.8 478.7L401.2 479.2L401.6 479.2L402.0 478.7L402.4 479.0L402.8 479.0L403.2 479.3L403.6 479.2L404.0 478.8L404.4 478.5L404.8 478.9L405.2 479.1L405.6 478.7L406.0 479.2L406.4 478.7L406.8 479.5L407.2 479.1L407.6 478.7L408.0 479.3L408.4 479.2L408.8 479.3L409.2 479.6L409.6 479.3L410.0 479.4L410.4 479.0L410.8 479.6L411.2 479.7L411.6 479.0L412.0 479.7L412.4 479.0L412.8 479.3L413.2 479.4L413.6 479.7L414.0 479.5L414.4 479.3L414.8 479.9L415.2 479.2L415.6 479.4L416.0 479.2L416.4 479.5L416.8 479.1L417.2 479.3L417.6 479.7L418.0 479.2L418.4 479.7L418.8 479.6L419.2 479.8L419.6 479.6L420.0 480.0L420.4 479.6L420.8 479.9L421.2 480.0L421.6 479.5L422.0 479.6L422.4 479.6L422.8 479.9L423.2 479.3L423.6 480.1L424.0 480.0L424.4 479.8L424.8 479.9L425.2 479.8L425.6 479.3L426.0 479.3L426.4 480.0L426.8 480.0L427.2 479.9L427.6 479.9L428.0 480.1L428.4 479.6L428.8 480.1L429.2 479.8L429.6 480.1L430.0 479.5L430.4 479.9L430.8 480.1L431.2 479.6L431.6 480.1L432.0 480.0L432.4 479.9L432.8 480.0L433.2 479.9L433.6 480.2L434.0 480.0L434.4 479.8L434.8 479.9L435.2 480.2L435.6 479.8L436.0 479.7L436.4 479.8L436.8 480.0L437.2 479.9L437.6 480.1L438.0 479.6L438.4 480.0L438.8 479.7L439.2 479.8L439.6 480.0L440.0 480.3L440.4 480.1L440.8 479.8L441.2 480.1L441.6 480.3L441.6 481.8Z" fill="#000"/>
<rect x="336.00" y="391.30" width="105.60" height="90.50" stroke="#4a4a4a" stroke-width="1.0" fill="none"/>
<line x1="336.00" y1="391.30" x2="336.00" y2="481.80" stroke="#000" stroke-width="1.0"/>
<line x1="336.00" y1="481.80" x2="441.60" y2="481.80" stroke="#000" stroke-width="1.0"/>
<line x1="342.90" y1="406.40" x2="361.20" y2="406.40" stroke="#111" stroke-width="1.0"/>
<line x1="342.90" y1="400.60" x2="342.90" y2="412.20" stroke="#111" stroke-width="1.0"/>
<line x1="361.20" y1="400.60" x2="361.20" y2="412.20" stroke="#111" stroke-width="1.0"/>
<line x1="362.20" y1="438.20" x2="380.40" y2="438.20" stroke="#111" stroke-width="1.0"/>
<line x1="362.20" y1="432.40" x2="362.20" y2="444.00" stroke="#111" stroke-width="1.0"/>
<line x1="380.40" y1="432.40" x2="380.40" y2="444.00" stroke="#111" stroke-width="1.0"/>
<line x1="382.70" y1="462.10" x2="399.50" y2="462.10" stroke="#111" stroke-width="1.0"/>
<line x1="382.70" y1="456.30" x2="382.70" y2="467.90" stroke="#111" stroke-width="1.0"/>
<line x1="399.50" y1="456.30" x2="399.50" y2="467.90" stroke="#111" stroke-width="1.0"/>
<line x1="399.50" y1="463.70" x2="417.70" y2="463.70" stroke="#111" stroke-width="1.0"/>
<line x1="399.50" y1="457.90" x2="399.50" y2="469.50" stroke="#111" stroke-width="1.0"/>
<line x1="417.70" y1="457.90" x2="417.70" y2="469.50" stroke="#111" stroke-width="1.0"/>
<line x1="418.40" y1="470.30" x2="436.50" y2="470.30" stroke="#111" stroke-width="1.0"/>
<line x1="418.40" y1="464.50" x2="418.40" y2="476.10" stroke="#111" stroke-width="1.0"/>
<line x1="436.50" y1="464.50" x2="436.50" y2="476.10" stroke="#111" stroke-width="1.0"/>
<text x="341.0" y="398.8" font-size="10.0" font-weight="bold" text-anchor="start" fill="#000"  stroke="#000" stroke-width="0.25">2N</text>
<text x="363.8" y="432.9" font-size="10.0" font-weight="bold" text-anchor="start" fill="#000"  stroke="#000" stroke-width="0.25">4N</text>
<text x="383.8" y="461.3" font-size="10.0" font-weight="bold" text-anchor="start" fill="#000"  stroke="#000" stroke-width="0.25">8N</text>
<text x="399.5" y="453.8" font-size="10.0" font-weight="bold" text-anchor="start" fill="#000"  stroke="#000" stroke-width="0.25">16N</text>
<text x="418.7" y="461.3" font-size="10.0" font-weight="bold" text-anchor="start" fill="#000"  stroke="#000" stroke-width="0.25">32N</text>
<line x1="333.00" y1="481.80" x2="336.00" y2="481.80" stroke="#000" stroke-width="0.5"/>
<text x="329.7" y="481.8" font-size="6.4" font-weight="normal" text-anchor="middle" fill="#111" transform="rotate(-90 329.7 481.8)" stroke="#111" stroke-width="0.2">0</text>
<line x1="334.50" y1="477.28" x2="336.00" y2="477.28" stroke="#000" stroke-width="0.4"/>
<line x1="334.50" y1="472.75" x2="336.00" y2="472.75" stroke="#000" stroke-width="0.4"/>
<line x1="334.50" y1="468.23" x2="336.00" y2="468.23" stroke="#000" stroke-width="0.4"/>
<line x1="333.00" y1="463.70" x2="336.00" y2="463.70" stroke="#000" stroke-width="0.5"/>
<text x="329.7" y="463.7" font-size="6.4" font-weight="normal" text-anchor="middle" fill="#111" transform="rotate(-90 329.7 463.7)" stroke="#111" stroke-width="0.2">80</text>
<line x1="334.50" y1="459.18" x2="336.00" y2="459.18" stroke="#000" stroke-width="0.4"/>
<line x1="334.50" y1="454.65" x2="336.00" y2="454.65" stroke="#000" stroke-width="0.4"/>
<line x1="334.50" y1="450.12" x2="336.00" y2="450.12" stroke="#000" stroke-width="0.4"/>
<line x1="333.00" y1="445.60" x2="336.00" y2="445.60" stroke="#000" stroke-width="0.5"/>
<text x="329.7" y="445.6" font-size="6.4" font-weight="normal" text-anchor="middle" fill="#111" transform="rotate(-90 329.7 445.6)" stroke="#111" stroke-width="0.2">160</text>
<line x1="334.50" y1="441.08" x2="336.00" y2="441.08" stroke="#000" stroke-width="0.4"/>
<line x1="334.50" y1="436.55" x2="336.00" y2="436.55" stroke="#000" stroke-width="0.4"/>
<line x1="334.50" y1="432.03" x2="336.00" y2="432.03" stroke="#000" stroke-width="0.4"/>
<line x1="333.00" y1="427.50" x2="336.00" y2="427.50" stroke="#000" stroke-width="0.5"/>
<text x="329.7" y="427.5" font-size="6.4" font-weight="normal" text-anchor="middle" fill="#111" transform="rotate(-90 329.7 427.5)" stroke="#111" stroke-width="0.2">240</text>
<line x1="334.50" y1="422.98" x2="336.00" y2="422.98" stroke="#000" stroke-width="0.4"/>
<line x1="334.50" y1="418.45" x2="336.00" y2="418.45" stroke="#000" stroke-width="0.4"/>
<line x1="334.50" y1="413.93" x2="336.00" y2="413.93" stroke="#000" stroke-width="0.4"/>
<line x1="333.00" y1="409.40" x2="336.00" y2="409.40" stroke="#000" stroke-width="0.5"/>
<text x="329.7" y="409.4" font-size="6.4" font-weight="normal" text-anchor="middle" fill="#111" transform="rotate(-90 329.7 409.4)" stroke="#111" stroke-width="0.2">320</text>
<line x1="334.50" y1="404.88" x2="336.00" y2="404.88" stroke="#000" stroke-width="0.4"/>
<line x1="334.50" y1="400.35" x2="336.00" y2="400.35" stroke="#000" stroke-width="0.4"/>
<line x1="334.50" y1="395.82" x2="336.00" y2="395.82" stroke="#000" stroke-width="0.4"/>
<line x1="333.00" y1="391.30" x2="336.00" y2="391.30" stroke="#000" stroke-width="0.5"/>
<text x="329.7" y="391.3" font-size="6.4" font-weight="normal" text-anchor="middle" fill="#111" transform="rotate(-90 329.7 391.3)" stroke="#111" stroke-width="0.2">400</text>
<text x="321.4" y="438.05" font-size="6.4" font-weight="normal" text-anchor="middle" fill="#111" transform="rotate(-90 321.4 438.05)" stroke="#111" stroke-width="0.2">Counts</text>
<text x="337.3" y="493.90000000000003" font-size="6.3" text-anchor="middle" fill="#111">10<tspan dy="-2.4" font-size="6.8">2</tspan></text>
<line x1="336.80" y1="481.80" x2="336.80" y2="484.80" stroke="#000" stroke-width="0.5"/>
<text x="403.8" y="493.90000000000003" font-size="6.3" text-anchor="middle" fill="#111">10<tspan dy="-2.4" font-size="6.8">3</tspan></text>
<line x1="403.30" y1="481.80" x2="403.30" y2="484.80" stroke="#000" stroke-width="0.5"/>
<line x1="356.67" y1="481.80" x2="356.67" y2="483.30" stroke="#000" stroke-width="0.4"/>
<line x1="368.29" y1="481.80" x2="368.29" y2="483.30" stroke="#000" stroke-width="0.4"/>
<line x1="376.54" y1="481.80" x2="376.54" y2="483.30" stroke="#000" stroke-width="0.4"/>
<line x1="382.93" y1="481.80" x2="382.93" y2="483.30" stroke="#000" stroke-width="0.4"/>
<line x1="388.16" y1="481.80" x2="388.16" y2="483.30" stroke="#000" stroke-width="0.4"/>
<line x1="392.58" y1="481.80" x2="392.58" y2="483.30" stroke="#000" stroke-width="0.4"/>
<line x1="396.40" y1="481.80" x2="396.40" y2="483.30" stroke="#000" stroke-width="0.4"/>
<line x1="399.78" y1="481.80" x2="399.78" y2="483.30" stroke="#000" stroke-width="0.4"/>
<line x1="357.17" y1="481.80" x2="357.17" y2="483.30" stroke="#000" stroke-width="0.4"/>
<line x1="368.79" y1="481.80" x2="368.79" y2="483.30" stroke="#000" stroke-width="0.4"/>
<line x1="377.04" y1="481.80" x2="377.04" y2="483.30" stroke="#000" stroke-width="0.4"/>
<line x1="383.43" y1="481.80" x2="383.43" y2="483.30" stroke="#000" stroke-width="0.4"/>
<line x1="388.66" y1="481.80" x2="388.66" y2="483.30" stroke="#000" stroke-width="0.4"/>
<line x1="393.08" y1="481.80" x2="393.08" y2="483.30" stroke="#000" stroke-width="0.4"/>
<line x1="396.90" y1="481.80" x2="396.90" y2="483.30" stroke="#000" stroke-width="0.4"/>
<line x1="400.28" y1="481.80" x2="400.28" y2="483.30" stroke="#000" stroke-width="0.4"/>
<line x1="423.17" y1="481.80" x2="423.17" y2="483.30" stroke="#000" stroke-width="0.4"/>
<line x1="434.79" y1="481.80" x2="434.79" y2="483.30" stroke="#000" stroke-width="0.4"/>
<text x="459.4" y="431.7" font-size="12.4" font-weight="bold" text-anchor="start" fill="#000"  stroke="#000" stroke-width="0.25">3.4N</text>
</svg>
</body></html>
